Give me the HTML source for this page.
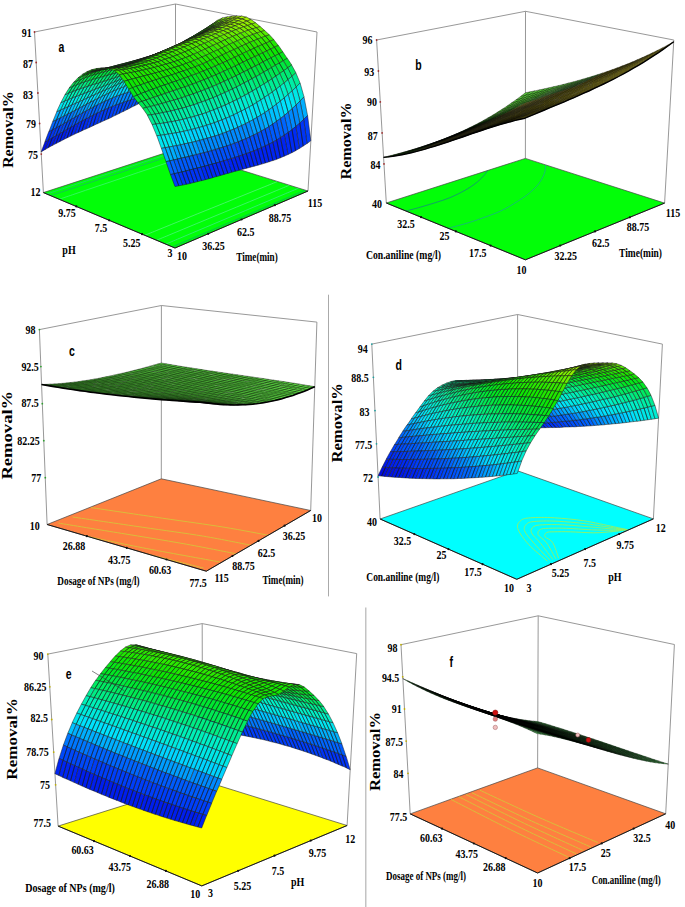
<!DOCTYPE html><html><head><meta charset="utf-8"><style>html,body{margin:0;padding:0;background:#fff}svg{display:block}</style></head><body><svg width="685" height="907" viewBox="0 0 685 907"><path d="M43.4 192.6L34.5 32" stroke="#8c8c8c" stroke-width="0.9" fill="none"/><path d="M308 191L317 32" stroke="#8c8c8c" stroke-width="0.9" fill="none"/><path d="M175.5 149.6L175.5 4" stroke="#8c8c8c" stroke-width="0.9" fill="none"/><path d="M34.5 32L175.5 4" stroke="#8c8c8c" stroke-width="0.9" fill="none"/><path d="M175.5 4L317 32" stroke="#8c8c8c" stroke-width="0.9" fill="none"/><path d="M175 248L308 191L175.5 149.6L43.4 192.6Z" fill="#02fe08" stroke="#444" stroke-width="0.7"/><clipPath id="fca"><path d="M175 248L308 191L175.5 149.6L43.4 192.6Z"/></clipPath><g clip-path="url(#fca)"><path d="M50.6 195.6C52.8 194.9 59.4 192.7 63.9 191.3C68.3 189.8 72.7 188.4 77.1 186.9C81.5 185.4 85.9 184 90.3 182.5C94.7 181.1 99.1 179.6 103.5 178.1C107.9 176.7 112.3 175.2 116.7 173.8C121.1 172.3 125.5 170.8 129.9 169.4C134.3 167.9 138.7 166.5 143.1 165C147.5 163.5 152 162.1 156.4 160.6C160.8 159.2 165.2 157.7 169.6 156.3C174 154.8 180.6 152.6 182.8 151.9" fill="none" stroke="#20a080" stroke-width="0.6" stroke-linejoin="round"/><path d="M46.7 194C48.9 193.3 55.5 191.1 59.9 189.7C64.3 188.2 68.7 186.8 73.1 185.3C77.5 183.9 81.9 182.4 86.3 181C90.7 179.5 95.1 178.1 99.5 176.6C103.9 175.2 108.3 173.8 112.8 172.3C117.2 170.9 121.6 169.4 126 168C130.4 166.5 134.8 165.1 139.2 163.6C143.6 162.2 148 160.8 152.4 159.3C156.8 157.9 161.2 156.4 165.6 155C170 153.5 176.6 151.4 178.8 150.6" fill="none" stroke="#30c0a0" stroke-width="0.6" stroke-linejoin="round"/><path d="M59.2 199.2C61.4 198.5 68 196.3 72.4 194.8C76.8 193.3 81.2 191.8 85.6 190.3C90 188.8 94.4 187.3 98.9 185.8C103.3 184.4 107.7 182.9 112.1 181.4C116.5 179.9 120.9 178.4 125.3 176.9C129.7 175.4 134.1 173.9 138.5 172.4C142.9 171 147.3 169.5 151.7 168C156.1 166.5 160.6 165 165 163.5C169.4 162 173.8 160.5 178.2 159C182.6 157.5 189.2 155.3 191.4 154.6" fill="none" stroke="#60f0b0" stroke-width="0.5" stroke-linejoin="round"/><path d="M172.4 246.9C174.6 245.9 181.2 243.1 185.7 241.2C190.1 239.3 194.5 237.4 199 235.5C203.4 233.7 207.8 231.8 212.3 229.9C216.7 228 221.1 226.1 225.6 224.2C230 222.3 234.4 220.4 238.9 218.5C243.3 216.6 247.7 214.8 252.2 212.9C256.6 211 261 209.1 265.5 207.2C269.9 205.3 274.3 203.4 278.8 201.5C283.2 199.6 287.6 197.7 292.1 195.8C296.5 194 303.1 191.1 305.3 190.2" fill="none" stroke="#109080" stroke-width="0.6" stroke-linejoin="round"/><path d="M165.8 244.1C168 243.2 174.7 240.4 179.1 238.5C183.5 236.7 187.9 234.8 192.4 232.9C196.8 231.1 201.2 229.2 205.7 227.3C210.1 225.4 214.5 223.6 219 221.7C223.4 219.8 227.8 218 232.3 216.1C236.7 214.2 241.1 212.4 245.6 210.5C250 208.6 254.4 206.8 258.8 204.9C263.3 203 267.7 201.2 272.1 199.3C276.6 197.4 281 195.6 285.4 193.7C289.9 191.8 296.5 189 298.7 188.1" fill="none" stroke="#50e0b0" stroke-width="0.6" stroke-linejoin="round"/><path d="M156.6 240.2C158.8 239.3 165.4 236.6 169.9 234.7C174.3 232.9 178.7 231.1 183.2 229.2C187.6 227.4 192 225.6 196.4 223.7C200.9 221.9 205.3 220.1 209.7 218.2C214.2 216.4 218.6 214.6 223 212.7C227.4 210.9 231.9 209.1 236.3 207.2C240.7 205.4 245.2 203.6 249.6 201.7C254 199.9 258.4 198 262.9 196.2C267.3 194.4 271.7 192.5 276.2 190.7C280.6 188.9 287.2 186.1 289.4 185.2" fill="none" stroke="#70f0c0" stroke-width="0.5" stroke-linejoin="round"/><path d="M144.7 235.3C146.9 234.4 153.6 231.7 158 229.9C162.4 228.1 166.9 226.3 171.3 224.5C175.7 222.7 180.1 220.9 184.6 219.1C189 217.3 193.4 215.5 197.8 213.7C202.3 212 206.7 210.2 211.1 208.4C215.6 206.6 220 204.8 224.4 203C228.8 201.2 233.3 199.4 237.7 197.6C242.1 195.8 246.5 194 251 192.2C255.4 190.4 259.8 188.6 264.2 186.9C268.7 185.1 275.3 182.4 277.5 181.5" fill="none" stroke="#80f0c0" stroke-width="0.5" stroke-linejoin="round"/></g><path d="M175 248L43.4 192.6" stroke="#111" stroke-width="0.9" fill="none"/><path d="M175 248L308 191" stroke="#111" stroke-width="0.9" fill="none"/><style>.a0{fill:#008aff}.a1{fill:#0077ff}.a2{fill:#0065ff}.a3{fill:#005bfd}.a4{fill:#0051fc}.a5{fill:#0048fa}.a6{fill:#003ef9}.a7{fill:#0034f7}.a8{fill:#002bf5}.a9{fill:#0024f2}.a10{fill:#001eed}.a11{fill:#0018e9}.a12{fill:#0012e4}.a13{fill:#00d4ff}.a14{fill:#00c2ff}.a15{fill:#00afff}.a16{fill:#009dff}.a17{fill:#00eadc}.a18{fill:#00e8e7}.a19{fill:#00e5f1}.a20{fill:#00e2fc}.a21{fill:#00eea6}.a22{fill:#00efb7}.a23{fill:#00f0c7}.a24{fill:#00edd2}.a25{fill:#00ea63}.a26{fill:#00eb74}.a27{fill:#00ec85}.a28{fill:#00ed95}.a29{fill:#02e623}.a30{fill:#00e731}.a31{fill:#00e842}.a32{fill:#00e953}.a33{fill:#15e600}.a34{fill:#0de604}.a35{fill:#0ae60f}.a36{fill:#06e619}.a37{fill:#2ae800}.a38{fill:#20e700}.a39{fill:#42e900}.a40{fill:#34e800}.a41{fill:#69ed00}.a42{fill:#55eb00}.a43{fill:#7def00}.a44{fill:#91f000}.a45{fill:#a5f200}</style><g stroke="#1a1a1a" stroke-width="0.5" stroke-linejoin="round"><path class="a0" d="M176.3 78.9l3.8-2.8-4.6 7.5-3.8 2.1z"/><path class="a1" d="M172.5 81.4l3.8-2.5-4.6 6.9-3.8 2.1zM168.7 83.8l3.8-2.3-4.5 6.4-3.8 2.1z"/><path class="a2" d="M164.9 85.9l3.8-2.1-4.5 6.2-3.8 2.1zM161.1 87.9l3.8-2-4.5 6.1-3.8 2.1zM157.3 89.7l3.8-1.8-4.5 6.2-3.8 2z"/><path class="a3" d="M153.6 91.4l3.8-1.7-4.5 6.4-3.8 2zM149.8 93l3.8-1.6-4.5 6.7-3.8 2zM146 94.4l3.8-1.5-4.4 7.2-3.8 2z"/><path class="a4" d="M142.2 95.8l3.8-1.4-4.4 7.7-3.8 2zM138.5 97.2l3.8-1.3-4.4 8.2-3.7 1.9zM134.7 98.4l3.8-1.3-4.4 8.8-3.7 1.9z"/><path class="a5" d="M130.9 99.7l3.8-1.3-4.3 9.5-3.7 1.9zM127.1 101l3.8-1.3-4.3 10.1-3.7 1.9zM123.4 102.2l3.8-1.3-4.3 10.7-3.7 1.8zM119.6 103.5l3.8-1.3-4.2 11.3-3.7 1.8zM115.8 104.9l3.8-1.4-4.2 11.8-3.7 1.8z"/><path class="a6" d="M112.1 106.4l3.8-1.4-4.2 12.2-3.7 1.8zM108.3 107.9l3.8-1.5-4.1 12.5-3.7 1.7zM104.5 109.5l3.8-1.6-4.1 12.7-3.7 1.7zM100.8 111.2l3.8-1.7-4.1 12.8-3.7 1.7z"/><path class="a7" d="M97 113l3.7-1.8-4 12.8-3.7 1.7zM93.3 114.9l3.7-1.9-4 12.8-3.7 1.7zM89.5 116.8l3.7-1.9-4 12.6-3.7 1.7z"/><path class="a8" d="M85.8 118.7l3.7-2-4 12.4-3.7 1.7zM82.1 120.8l3.7-2-4 12.1-3.7 1.7zM78.4 122.8l3.7-2.1-4 11.8-3.7 1.7z"/><path class="a9" d="M74.6 124.9l3.7-2.1-4 11.5-3.7 1.8zM70.9 127l3.7-2.1-3.9 11.2-3.7 1.8zM67.2 129.1l3.7-2.1-3.9 10.9-3.7 1.8z"/><path class="a10" d="M63.5 131.3l3.7-2.1-3.9 10.6-3.7 1.9zM59.8 133.4l3.7-2.1-3.9 10.4-3.7 1.9zM56.1 135.5l3.7-2.1-3.9 10.2-3.7 2z"/><path class="a11" d="M52.4 137.6l3.7-2.1-3.9 10-3.7 2.1zM48.7 139.7l3.7-2.1-3.9 10-3.7 2.1z"/><path class="a12" d="M45 141.8l3.7-2.1-3.9 10-3.7 2.2z"/><path class="a13" d="M180.9 70.6l3.8-2.8-4.6 8.2-3.8 2.8z"/><path class="a14" d="M177 73.1l3.8-2.5-4.6 8.2-3.8 2.5zM173.2 75.4l3.8-2.3-4.6 8.3-3.8 2.3z"/><path class="a15" d="M169.4 77.5l3.8-2.1-4.5 8.3-3.8 2.1zM165.6 79.3l3.8-1.9-4.5 8.4-3.8 2z"/><path class="a16" d="M161.8 81l3.8-1.7-4.5 8.5-3.8 1.8zM158 82.6l3.8-1.6-4.5 8.7-3.8 1.7zM154.2 84l3.8-1.4-4.5 8.8-3.8 1.6zM150.4 85.3l3.8-1.3-4.5 8.9-3.8 1.5z"/><path class="a0" d="M146.7 86.6l3.8-1.2-4.4 9.1-3.8 1.4zM142.9 87.8l3.8-1.2-4.4 9.2-3.8 1.3zM139.1 88.9l3.8-1.1-4.4 9.4-3.8 1.3zM135.3 90l3.8-1.1-4.4 9.5-3.8 1.3zM131.5 91.1l3.8-1.1-4.3 9.7-3.8 1.3zM127.7 92.3l3.8-1.2-4.3 9.8-3.8 1.3zM123.9 93.5l3.8-1.2-4.3 9.9-3.8 1.3zM120.1 94.8l3.8-1.3-4.3 10-3.8 1.4zM116.3 96.2l3.8-1.4-4.3 10.1-3.8 1.4z"/><path class="a1" d="M112.5 97.7l3.8-1.5-4.2 10.2-3.8 1.5zM108.7 99.3l3.8-1.6-4.2 10.2-3.8 1.6zM105 101l3.8-1.7-4.2 10.2-3.8 1.7zM101.2 102.8l3.8-1.8-4.2 10.2-3.7 1.8z"/><path class="a2" d="M97.4 104.7l3.8-1.9-4.2 10.2-3.7 1.9zM93.7 106.6l3.8-2-4.1 10.2-3.7 1.9zM89.9 108.7l3.8-2-4.1 10.1-3.7 2z"/><path class="a3" d="M86.2 110.7l3.7-2.1-4.1 10.1-3.7 2zM82.4 112.8l3.7-2.1-4.1 10-3.7 2.1z"/><path class="a4" d="M78.7 114.9l3.7-2.1-4.1 10-3.7 2.1zM74.9 117.1l3.7-2.1-4 10-3.7 2.1z"/><path class="a5" d="M71.2 119.2l3.7-2.1-4 9.9-3.7 2.1zM67.5 121.4l3.7-2.1-4 9.9-3.7 2.1zM63.8 123.5l3.7-2.1-4 9.9-3.7 2.1z"/><path class="a6" d="M60 125.6l3.7-2.1-4 9.9-3.7 2.1zM56.3 127.6l3.7-2-3.9 10-3.7 2.1z"/><path class="a7" d="M52.6 129.6l3.7-2-3.9 10-3.7 2.1zM48.8 131.5l3.7-1.9-3.9 10.1-3.7 2.1z"/><path class="a17" d="M185.5 61.6l3.8-2.3-4.6 8.6-3.8 2.8z"/><path class="a18" d="M181.7 63.8l3.8-2.2-4.6 9-3.8 2.5zM177.8 65.8l3.8-2-4.6 9.3-3.8 2.3z"/><path class="a19" d="M174 67.7l3.8-1.9-4.6 9.6-3.8 2.1zM170.2 69.5l3.8-1.8-4.6 9.7-3.8 1.9zM166.4 71.2l3.8-1.7-4.5 9.8-3.8 1.7z"/><path class="a20" d="M162.5 72.8l3.8-1.6-4.5 9.9-3.8 1.6zM158.7 74.2l3.8-1.5-4.5 9.8-3.8 1.4zM154.9 75.7l3.8-1.4-4.5 9.8-3.8 1.3zM151.1 77l3.8-1.4-4.5 9.7-3.8 1.2zM147.3 78.4l3.8-1.3-4.5 9.6-3.8 1.2zM143.5 79.7l3.8-1.3-4.4 9.4-3.8 1.1zM139.7 81l3.8-1.3-4.4 9.2-3.8 1.1z"/><path class="a13" d="M135.9 82.3l3.8-1.3-4.4 9-3.8 1.1zM132 83.6l3.8-1.3-4.4 8.9-3.8 1.2zM128.2 85l3.8-1.4-4.4 8.7-3.8 1.2zM124.4 86.4l3.8-1.4-4.4 8.5-3.8 1.3zM120.6 87.9l3.8-1.5-4.3 8.4-3.8 1.4zM116.8 89.4l3.8-1.6-4.3 8.3-3.8 1.5zM113 91.1l3.8-1.6-4.3 8.2-3.8 1.6z"/><path class="a14" d="M109.2 92.8l3.8-1.7-4.3 8.2-3.8 1.7zM105.5 94.6l3.8-1.8-4.3 8.2-3.8 1.8zM101.7 96.4l3.8-1.8-4.3 8.2-3.8 1.9z"/><path class="a15" d="M97.9 98.3l3.8-1.9-4.2 8.3-3.8 2zM94.1 100.2l3.8-1.9-4.2 8.4-3.8 2zM90.3 102.1l3.8-1.9-4.2 8.5-3.7 2.1z"/><path class="a16" d="M86.6 104.1l3.8-2-4.2 8.6-3.7 2.1zM82.8 106.1l3.8-2-4.2 8.7-3.7 2.1z"/><path class="a0" d="M79.1 108l3.8-2-4.1 8.9-3.7 2.1zM75.3 110l3.8-2-4.1 9.1-3.7 2.1z"/><path class="a1" d="M71.5 112l3.8-2-4.1 9.2-3.7 2.1zM67.8 113.9l3.8-1.9-4.1 9.4-3.7 2.1zM64 115.9l3.8-1.9-4 9.6-3.7 2.1z"/><path class="a2" d="M60.3 117.7l3.8-1.9-4 9.7-3.7 2zM56.5 119.6l3.8-1.8-4 9.9-3.7 2zM52.8 121.4l3.8-1.8-3.9 10-3.7 1.9z"/><path class="a21" d="M190.2 52.5l3.9-1.8-4.7 8.6-3.8 2.3zM186.3 54.3l3.9-1.8-4.7 9.1-3.8 2.2z"/><path class="a22" d="M182.5 56l3.8-1.8-4.7 9.5-3.8 2zM178.6 57.7l3.8-1.7-4.6 9.8-3.8 1.9zM174.8 59.5l3.8-1.7-4.6 10-3.8 1.8z"/><path class="a23" d="M170.9 61.2l3.8-1.7-4.6 10-3.8 1.7zM167.1 62.9l3.8-1.7-4.6 10-3.8 1.6zM163.3 64.5l3.8-1.7-4.6 9.9-3.8 1.5zM159.4 66.2l3.8-1.7-4.5 9.7-3.8 1.4z"/><path class="a24" d="M155.6 67.9l3.8-1.7-4.5 9.5-3.8 1.4zM151.8 69.5l3.8-1.7-4.5 9.2-3.8 1.3zM147.9 71.2l3.8-1.7-4.5 8.8-3.8 1.3zM144.1 72.8l3.8-1.6-4.5 8.5-3.8 1.3zM140.3 74.5l3.8-1.6-4.5 8.2-3.8 1.3z"/><path class="a17" d="M136.5 76.1l3.8-1.6-4.4 7.8-3.8 1.3zM132.7 77.8l3.8-1.6-4.4 7.5-3.8 1.4zM128.8 79.4l3.8-1.7-4.4 7.2-3.8 1.4zM125 81.1l3.8-1.7-4.4 7-3.8 1.5z"/><path class="a18" d="M121.2 82.7l3.8-1.7-4.4 6.8-3.8 1.6zM117.4 84.4l3.8-1.7-4.4 6.7-3.8 1.6zM113.6 86.1l3.8-1.7-4.4 6.7-3.8 1.7zM109.8 87.8l3.8-1.7-4.4 6.7-3.8 1.8z"/><path class="a19" d="M106 89.5l3.8-1.7-4.3 6.8-3.8 1.8zM102.2 91.2l3.8-1.7-4.3 6.9-3.8 1.9zM98.4 92.9l3.8-1.7-4.3 7.1-3.8 1.9z"/><path class="a20" d="M94.6 94.6l3.8-1.7-4.3 7.3-3.8 1.9zM90.8 96.3l3.8-1.7-4.3 7.5-3.8 2zM87 98l3.8-1.7-4.2 7.8-3.8 2z"/><path class="a13" d="M83.2 99.7l3.8-1.7-4.2 8-3.8 2zM79.4 101.4l3.8-1.7-4.2 8.3-3.8 2zM75.7 103.2l3.8-1.7-4.2 8.6-3.8 2z"/><path class="a14" d="M71.9 104.9l3.8-1.7-4.1 8.8-3.8 1.9zM68.1 106.6l3.8-1.7-4.1 9.1-3.8 1.9zM64.3 108.3l3.8-1.7-4.1 9.3-3.8 1.9z"/><path class="a15" d="M60.5 110l3.8-1.7-4 9.5-3.8 1.8zM56.8 111.7l3.8-1.7-4 9.6-3.8 1.8z"/><path class="a25" d="M194.9 43.9l3.9-1.4-4.7 8.2-3.9 1.8zM191 45.3l3.9-1.5-4.7 8.6-3.9 1.8zM187.1 46.9l3.9-1.6-4.7 8.9-3.8 1.8zM183.3 48.6l3.9-1.7-4.7 9.1-3.8 1.7z"/><path class="a26" d="M179.4 50.3l3.9-1.7-4.7 9.2-3.8 1.7zM175.6 52.1l3.9-1.8-4.6 9.2-3.8 1.7zM171.7 54l3.9-1.9-4.6 9.1-3.8 1.7z"/><path class="a27" d="M167.8 55.9l3.9-1.9-4.6 8.9-3.8 1.7zM164 57.8l3.8-2-4.6 8.7-3.8 1.7zM160.1 59.8l3.8-2-4.6 8.4-3.8 1.7z"/><path class="a28" d="M156.3 61.8l3.8-2-4.5 8.1-3.8 1.7zM152.5 63.8l3.8-2-4.5 7.7-3.8 1.7z"/><path class="a21" d="M148.6 65.8l3.8-2-4.5 7.4-3.8 1.6zM144.8 67.8l3.8-2-4.5 7-3.8 1.6zM141 69.7l3.8-2-4.5 6.7-3.8 1.6z"/><path class="a22" d="M137.1 71.6l3.8-1.9-4.5 6.4-3.8 1.6zM133.3 73.5l3.8-1.9-4.5 6.1-3.8 1.7zM129.5 75.3l3.8-1.8-4.5 5.9-3.8 1.7z"/><path class="a23" d="M125.7 77.1l3.8-1.7-4.5 5.8-3.8 1.7zM121.8 78.7l3.8-1.7-4.4 5.7-3.8 1.7zM118 80.3l3.8-1.6-4.4 5.7-3.8 1.7zM114.2 81.9l3.8-1.6-4.4 5.8-3.8 1.7z"/><path class="a24" d="M110.4 83.4l3.8-1.5-4.4 5.9-3.8 1.7zM106.6 84.9l3.8-1.5-4.4 6.1-3.8 1.7zM102.7 86.4l3.8-1.5-4.4 6.3-3.8 1.7zM98.9 87.8l3.8-1.4-4.3 6.5-3.8 1.7z"/><path class="a17" d="M95.1 89.2l3.8-1.4-4.3 6.8-3.8 1.7zM91.3 90.6l3.8-1.4-4.3 7.1-3.8 1.7zM87.5 92.1l3.8-1.4-4.3 7.4-3.8 1.7zM83.7 93.5l3.8-1.4-4.2 7.7-3.8 1.7zM79.8 94.9l3.8-1.4-4.2 8-3.8 1.7z"/><path class="a18" d="M76 96.4l3.8-1.5-4.2 8.2-3.8 1.7zM72.2 97.9l3.8-1.5-4.2 8.5-3.8 1.7zM68.4 99.4l3.8-1.5-4.1 8.7-3.8 1.7zM64.6 101l3.8-1.6-4.1 8.8-3.8 1.7z"/><path class="a19" d="M60.8 102.7l3.8-1.7-4.1 8.9-3.8 1.7z"/><path class="a29" d="M199.6 36.4l3.9-1.3-4.8 7.4-3.9 1.4zM195.7 37.9l3.9-1.5-4.7 7.5-3.9 1.5zM191.8 39.5l3.9-1.6-4.7 7.5-3.9 1.6zM188 41.2l3.9-1.7-4.7 7.4-3.9 1.7z"/><path class="a30" d="M184.1 43.1l3.9-1.9-4.7 7.3-3.9 1.7zM180.2 45l3.9-2-4.7 7.2-3.9 1.8z"/><path class="a31" d="M176.3 47.1l3.9-2-4.7 7.1-3.9 1.9zM172.5 49.2l3.9-2.1-4.6 6.9-3.9 1.9z"/><path class="a32" d="M168.6 51.3l3.9-2.2-4.6 6.7-3.8 2zM164.7 53.5l3.9-2.2-4.6 6.5-3.8 2zM160.9 55.7l3.9-2.2-4.6 6.3-3.8 2z"/><path class="a25" d="M157 57.9l3.9-2.2-4.6 6.1-3.8 2zM153.2 60.1l3.8-2.2-4.6 5.9-3.8 2z"/><path class="a26" d="M149.3 62.3l3.8-2.1-4.6 5.7-3.8 2zM145.5 64.4l3.8-2.1-4.5 5.5-3.8 2z"/><path class="a27" d="M141.7 66.4l3.8-2-4.5 5.4-3.8 1.9zM137.8 68.3l3.8-1.9-4.5 5.2-3.8 1.9zM134 70.2l3.8-1.8-4.5 5.2-3.8 1.8z"/><path class="a28" d="M130.1 71.9l3.8-1.7-4.5 5.2-3.8 1.7zM126.3 73.5l3.8-1.6-4.5 5.2-3.8 1.7zM122.5 74.9l3.8-1.5-4.5 5.3-3.8 1.6z"/><path class="a21" d="M118.6 76.3l3.8-1.4-4.4 5.4-3.8 1.6zM114.8 77.7l3.8-1.3-4.4 5.6-3.8 1.5zM111 78.9l3.8-1.3-4.4 5.8-3.8 1.5zM107.1 80.2l3.8-1.2-4.4 6-3.8 1.5zM103.3 81.4l3.8-1.2-4.4 6.2-3.8 1.4zM99.4 82.5l3.8-1.2-4.4 6.4-3.8 1.4zM95.6 83.7l3.8-1.2-4.3 6.7-3.8 1.4z"/><path class="a22" d="M91.8 84.9l3.8-1.2-4.3 6.9-3.8 1.4zM87.9 86.1l3.8-1.2-4.3 7.2-3.8 1.4zM84.1 87.4l3.8-1.2-4.3 7.4-3.8 1.4zM80.3 88.7l3.8-1.3-4.2 7.6-3.8 1.5zM76.4 90l3.8-1.4-4.2 7.7-3.8 1.5zM72.6 91.5l3.8-1.5-4.2 7.9-3.8 1.5zM68.8 93l3.8-1.6-4.2 8-3.8 1.6z"/><path class="a23" d="M65 94.7l3.8-1.7-4.2 8-3.8 1.7z"/><path class="a33" d="M204.4 30.6l3.9-1.8-4.8 6.3-3.9 1.3z"/><path class="a34" d="M200.5 32.4l3.9-1.9-4.7 5.8-3.9 1.5zM196.6 34.4l3.9-2-4.7 5.4-3.9 1.6zM192.7 36.5l3.9-2-4.7 5.1-3.9 1.7z"/><path class="a35" d="M188.8 38.6l3.9-2.1-4.7 4.8-3.9 1.9zM184.9 40.7l3.9-2.1-4.7 4.5-3.9 2z"/><path class="a36" d="M181 42.9l3.9-2.2-4.7 4.3-3.9 2zM177.1 45.1l3.9-2.2-4.7 4.2-3.9 2.1z"/><path class="a29" d="M173.2 47.3l3.9-2.2-4.6 4.1-3.9 2.2zM169.4 49.5l3.9-2.2-4.6 4-3.9 2.2z"/><path class="a30" d="M165.5 51.7l3.9-2.2-4.6 4-3.9 2.2zM161.6 53.8l3.9-2.2-4.6 4-3.9 2.2z"/><path class="a31" d="M157.8 56l3.9-2.1-4.6 4.1-3.8 2.2zM153.9 58l3.9-2-4.6 4.2-3.8 2.1z"/><path class="a32" d="M150.1 60l3.9-2-4.6 4.3-3.8 2.1zM146.2 61.8l3.9-1.9-4.6 4.4-3.8 2z"/><path class="a25" d="M142.4 63.6l3.9-1.8-4.6 4.5-3.8 1.9zM138.5 65.3l3.9-1.7-4.5 4.7-3.8 1.8zM134.6 66.8l3.9-1.5-4.5 4.9-3.8 1.7zM130.8 68.2l3.9-1.4-4.5 5-3.8 1.6z"/><path class="a26" d="M126.9 69.5l3.9-1.3-4.5 5.2-3.8 1.5zM123.1 70.8l3.9-1.2-4.5 5.4-3.8 1.4zM119.2 71.9l3.9-1.2-4.5 5.6-3.8 1.3zM115.4 73l3.9-1.1-4.4 5.8-3.8 1.3zM111.5 74.1l3.9-1.1-4.4 5.9-3.8 1.2zM107.7 75.1l3.9-1-4.4 6.1-3.8 1.2zM103.8 76.2l3.9-1-4.4 6.2-3.8 1.2zM100 77.2l3.9-1-4.4 6.4-3.8 1.2zM96.1 78.3l3.9-1.1-4.4 6.5-3.8 1.2zM92.3 79.4l3.9-1.1-4.3 6.6-3.8 1.2zM88.4 80.6l3.9-1.2-4.3 6.7-3.8 1.2z"/><path class="a27" d="M84.6 81.8l3.8-1.3-4.3 6.8-3.8 1.3zM80.7 83.2l3.8-1.4-4.3 6.8-3.8 1.4zM76.9 84.6l3.8-1.5-4.3 6.9-3.8 1.5zM73 86.2l3.8-1.6-4.3 6.8-3.8 1.6zM69.2 88l3.8-1.7-4.3 6.8-3.8 1.7z"/><path class="a37" d="M209.1 26.2l3.9-2.5-4.8 5-3.9 1.8zM205.2 28.7l3.9-2.5-4.8 4.3-3.9 1.9z"/><path class="a38" d="M201.3 31.2l3.9-2.4-4.7 3.7-3.9 2zM197.4 33.6l3.9-2.4-4.7 3.2-3.9 2z"/><path class="a33" d="M193.5 36l3.9-2.4-4.7 2.9-3.9 2.1zM189.6 38.3l3.9-2.3-4.7 2.6-3.9 2.1z"/><path class="a34" d="M185.7 40.6l3.9-2.3-4.7 2.4-3.9 2.2zM181.8 42.8l3.9-2.2-4.7 2.3-3.9 2.2z"/><path class="a35" d="M177.9 44.9l3.9-2.2-4.7 2.3-3.9 2.2z"/><path class="a36" d="M174 47l3.9-2.1-4.7 2.4-3.9 2.2zM170.1 49.1l3.9-2-4.6 2.5-3.9 2.2zM166.3 51l3.9-2-4.6 2.6-3.9 2.2z"/><path class="a29" d="M162.4 52.9l3.9-1.9-4.6 2.8-3.9 2.1zM158.5 54.7l3.9-1.8-4.6 3.1-3.9 2z"/><path class="a30" d="M154.7 56.4l3.9-1.7-4.6 3.3-3.9 2zM150.8 58l3.9-1.6-4.6 3.6-3.9 1.9zM146.9 59.5l3.9-1.5-4.6 3.8-3.9 1.8z"/><path class="a31" d="M143.1 60.9l3.9-1.4-4.6 4.1-3.9 1.7zM139.2 62.3l3.9-1.3-4.6 4.3-3.9 1.5zM135.3 63.5l3.9-1.2-4.5 4.6-3.9 1.4zM131.5 64.6l3.9-1.1-4.5 4.7-3.9 1.3zM127.6 65.7l3.9-1.1-4.5 4.9-3.9 1.2zM123.7 66.7l3.9-1-4.5 5.1-3.9 1.2zM119.9 67.7l3.9-1-4.5 5.2-3.9 1.1zM116 68.7l3.9-1-4.5 5.3-3.9 1.1zM112.1 69.7l3.9-1-4.5 5.4-3.9 1zM108.2 70.7l3.9-1-4.4 5.4-3.9 1zM104.4 71.7l3.9-1-4.4 5.5-3.9 1zM100.5 72.7l3.9-1-4.4 5.5-3.9 1.1zM96.6 73.8l3.9-1.1-4.4 5.6-3.9 1.1zM92.8 75l3.9-1.2-4.4 5.6-3.9 1.2z"/><path class="a32" d="M88.9 76.2l3.9-1.3-4.4 5.6-3.8 1.3zM85.1 77.6l3.9-1.4-4.4 5.6-3.8 1.4zM81.2 79.1l3.8-1.5-4.4 5.6-3.8 1.5zM77.4 80.7l3.8-1.6-4.3 5.6-3.8 1.6zM73.5 82.4l3.8-1.8-4.3 5.6-3.8 1.7z"/><path class="a39" d="M213.9 23.2l3.9-3-4.8 3.6-3.9 2.5zM209.9 26.1l3.9-2.9-4.8 3.1-3.9 2.5z"/><path class="a40" d="M206 28.9l3.9-2.8-4.7 2.6-3.9 2.4z"/><path class="a37" d="M202.1 31.5l3.9-2.7-4.7 2.3-3.9 2.4zM198.2 34.1l3.9-2.5-4.7 2-3.9 2.4z"/><path class="a38" d="M194.3 36.5l3.9-2.4-4.7 1.9-3.9 2.3z"/><path class="a33" d="M190.4 38.8l3.9-2.3-4.7 1.8-3.9 2.3zM186.5 41l3.9-2.2-4.7 1.7-3.9 2.2z"/><path class="a34" d="M182.6 43.1l3.9-2.1-4.7 1.8-3.9 2.2zM178.7 45.1l3.9-2-4.7 1.8-3.9 2.1z"/><path class="a35" d="M174.8 46.9l3.9-1.9-4.7 2-3.9 2zM170.9 48.7l3.9-1.8-4.7 2.1-3.9 2zM167 50.4l3.9-1.7-4.6 2.3-3.9 1.9z"/><path class="a36" d="M163.1 52l3.9-1.6-4.6 2.5-3.9 1.8zM159.3 53.5l3.9-1.5-4.6 2.7-3.9 1.7zM155.4 54.9l3.9-1.4-4.6 2.9-3.9 1.6zM151.5 56.3l3.9-1.3-4.6 3.1-3.9 1.5z"/><path class="a29" d="M147.6 57.5l3.9-1.3-4.6 3.3-3.9 1.4zM143.8 58.7l3.9-1.2-4.6 3.4-3.9 1.3zM139.9 59.8l3.9-1.1-4.6 3.5-3.9 1.2zM136 60.9l3.9-1.1-4.6 3.6-3.9 1.1zM132.1 62l3.9-1-4.6 3.7-3.9 1.1zM128.3 63l3.9-1-4.5 3.8-3.9 1zM124.4 63.9l3.9-1-4.5 3.8-3.9 1zM120.5 64.9l3.9-1-4.5 3.8-3.9 1zM116.6 65.9l3.9-1-4.5 3.8-3.9 1zM112.7 66.8l3.9-1-4.5 3.8-3.9 1zM108.9 67.8l3.9-1-4.5 3.8-3.9 1zM105 68.9l3.9-1-4.5 3.8-3.9 1zM101.1 70l3.9-1.1-4.5 3.8-3.9 1.1zM97.2 71.1l3.9-1.1-4.5 3.8-3.9 1.2zM93.4 72.3l3.9-1.2-4.5 3.9-3.9 1.3zM89.5 73.5l3.9-1.3-4.4 4-3.9 1.4zM85.6 74.9l3.9-1.4-4.4 4-3.8 1.5z"/><path class="a30" d="M81.8 76.4l3.9-1.5-4.4 4.2-3.8 1.6zM77.9 77.9l3.9-1.6-4.4 4.3-3.8 1.8z"/><path class="a41" d="M218.6 21l4-3.1-4.8 2.2-3.9 3z"/><path class="a42" d="M214.7 24l3.9-2.9-4.8 2.1-3.9 2.9z"/><path class="a39" d="M210.7 26.8l3.9-2.8-4.7 2.1-3.9 2.8zM206.8 29.5l3.9-2.7-4.7 2.1-3.9 2.7z"/><path class="a40" d="M202.9 32l3.9-2.5-4.7 2.1-3.9 2.5z"/><path class="a37" d="M199 34.4l3.9-2.4-4.7 2.1-3.9 2.4zM195.1 36.7l3.9-2.3-4.7 2.1-3.9 2.3z"/><path class="a38" d="M191.1 38.8l3.9-2.2-4.7 2.1-3.9 2.2zM187.2 40.9l3.9-2-4.7 2.2-3.9 2.1z"/><path class="a33" d="M183.3 42.8l3.9-1.9-4.7 2.2-3.9 2zM179.5 44.7l3.9-1.8-4.7 2.2-3.9 1.9z"/><path class="a34" d="M175.6 46.4l3.9-1.7-4.7 2.3-3.9 1.8zM171.7 48.1l3.9-1.7-4.7 2.3-3.9 1.7zM167.8 49.6l3.9-1.6-4.6 2.3-3.9 1.6zM163.9 51.1l3.9-1.5-4.6 2.4-3.9 1.5z"/><path class="a35" d="M160 52.6l3.9-1.4-4.6 2.4-3.9 1.4zM156.1 53.9l3.9-1.4-4.6 2.4-3.9 1.3zM152.3 55.2l3.9-1.3-4.6 2.3-3.9 1.3zM148.4 56.5l3.9-1.3-4.6 2.3-3.9 1.2zM144.5 57.7l3.9-1.2-4.6 2.2-3.9 1.1zM140.6 58.9l3.9-1.2-4.6 2.1-3.9 1.1zM136.7 60l3.9-1.1-4.6 2.1-3.9 1zM132.8 61.1l3.9-1.1-4.6 2-3.9 1zM129 62.1l3.9-1.1-4.6 1.9-3.9 1zM125.1 63.2l3.9-1-4.6 1.8-3.9 1zM121.2 64.2l3.9-1-4.6 1.7-3.9 1zM117.3 65.2l3.9-1-4.6 1.7-3.9 1zM113.4 66.2l3.9-1-4.6 1.7-3.9 1zM109.5 67.2l3.9-1-4.6 1.7-3.9 1zM105.7 68.2l3.9-1-4.6 1.7-3.9 1.1zM101.8 69.2l3.9-1-4.5 1.8-3.9 1.1zM97.9 70.2l3.9-1-4.5 1.9-3.9 1.2zM94 71.2l3.9-1-4.5 2.1-3.9 1.3z"/><path class="a36" d="M90.1 72.2l3.9-1-4.5 2.4-3.9 1.4zM86.3 73.3l3.9-1.1-4.5 2.7-3.9 1.5zM82.4 74.4l3.9-1.1-4.5 3.1-3.9 1.6z"/><path class="a43" d="M223.4 19.6l4-2.8-4.8 1.1-4 3.1z"/><path class="a41" d="M219.4 22.3l4-2.7-4.8 1.4-3.9 2.9z"/><path class="a42" d="M215.5 24.9l3.9-2.6-4.7 1.7-3.9 2.8zM211.5 27.4l3.9-2.5-4.7 1.9-3.9 2.7z"/><path class="a39" d="M207.6 29.8l3.9-2.4-4.7 2.1-3.9 2.5zM203.7 32.1l3.9-2.3-4.7 2.2-3.9 2.4z"/><path class="a40" d="M199.8 34.3l3.9-2.2-4.7 2.3-3.9 2.3z"/><path class="a37" d="M195.8 36.4l3.9-2.1-4.7 2.4-3.9 2.2zM191.9 38.4l3.9-2-4.7 2.5-3.9 2zM188 40.3l3.9-1.9-4.7 2.5-3.9 1.9z"/><path class="a38" d="M184.1 42.2l3.9-1.9-4.7 2.5-3.9 1.8zM180.2 44l3.9-1.8-4.7 2.5-3.9 1.7zM176.3 45.7l3.9-1.7-4.7 2.4-3.9 1.7z"/><path class="a33" d="M172.4 47.4l3.9-1.7-4.7 2.3-3.9 1.6zM168.6 49l3.9-1.6-4.7 2.2-3.9 1.5zM164.7 50.6l3.9-1.6-4.6 2.1-3.9 1.4zM160.8 52.1l3.9-1.5-4.6 2-3.9 1.4z"/><path class="a34" d="M156.9 53.6l3.9-1.5-4.6 1.8-3.9 1.3zM153 55l3.9-1.4-4.6 1.7-3.9 1.3zM149.1 56.4l3.9-1.4-4.6 1.5-3.9 1.2zM145.2 57.7l3.9-1.3-4.6 1.3-3.9 1.2zM141.3 59l3.9-1.3-4.6 1.1-3.9 1.1zM137.5 60.3l3.9-1.3-4.6 .9-3.9 1.1zM133.6 61.5l3.9-1.2-4.6 .8-3.9 1.1zM129.7 62.7l3.9-1.2-4.6 .6-3.9 1zM125.8 63.8l3.9-1.1-4.6 .5-3.9 1zM121.9 64.8l3.9-1.1-4.6 .4-3.9 1zM118 65.8l3.9-1-4.6 .4-3.9 1zM114.1 66.8l3.9-.9-4.6 .4-3.9 1zM110.3 67.7l3.9-.9-4.6 .4-3.9 1zM106.4 68.5l3.9-.8-4.6 .5-3.9 1zM102.5 69.3l3.9-.8-4.6 .7-3.9 1zM98.6 70l3.9-.7-4.6 .9-3.9 1zM94.7 70.6l3.9-.6-4.6 1.2-3.9 1zM90.8 71.2l3.9-.6-4.5 1.6-3.9 1.1zM86.9 71.7l3.9-.5-4.5 2.1-3.9 1.1z"/><path class="a44" d="M228.1 18.7l4-2.4-4.7 .6-4 2.8z"/><path class="a43" d="M224.2 21.1l4-2.4-4.7 .9-4 2.7zM220.2 23.4l3.9-2.3-4.7 1.3-3.9 2.6z"/><path class="a41" d="M216.3 25.6l3.9-2.2-4.7 1.5-3.9 2.5z"/><path class="a42" d="M212.3 27.8l3.9-2.2-4.7 1.8-3.9 2.4zM208.4 29.9l3.9-2.1-4.7 2-3.9 2.3z"/><path class="a39" d="M204.5 32l3.9-2.1-4.7 2.1-3.9 2.2zM200.6 34l3.9-2-4.7 2.3-3.9 2.1z"/><path class="a40" d="M196.7 36l3.9-2-4.7 2.4-3.9 2zM192.7 37.9l3.9-1.9-4.7 2.4-3.9 1.9zM188.8 39.8l3.9-1.9-4.7 2.5-3.9 1.9z"/><path class="a37" d="M184.9 41.6l3.9-1.8-4.7 2.5-3.9 1.8zM181 43.4l3.9-1.8-4.7 2.4-3.9 1.7zM177.1 45.1l3.9-1.8-4.7 2.4-3.9 1.7z"/><path class="a38" d="M173.2 46.8l3.9-1.7-4.7 2.3-3.9 1.6zM169.3 48.5l3.9-1.7-4.7 2.2-3.9 1.6zM165.4 50.2l3.9-1.7-4.7 2.1-3.9 1.5zM161.5 51.8l3.9-1.6-4.6 1.9-3.9 1.5z"/><path class="a33" d="M157.6 53.4l3.9-1.6-4.6 1.8-3.9 1.4zM153.7 55l3.9-1.6-4.6 1.6-3.9 1.4zM149.9 56.5l3.9-1.5-4.6 1.4-3.9 1.3zM146 58l3.9-1.5-4.6 1.2-3.9 1.3zM142.1 59.5l3.9-1.4-4.6 1-3.9 1.3zM138.2 60.8l3.9-1.4-4.6 .8-3.9 1.2z"/><path class="a34" d="M134.3 62.2l3.9-1.3-4.6 .7-3.9 1.2zM130.4 63.4l3.9-1.2-4.6 .5-3.9 1.1zM126.5 64.5l3.9-1.2-4.6 .4-3.9 1.1zM122.6 65.6l3.9-1.1-4.6 .3-3.9 1zM118.8 66.6l3.9-1-4.6 .2-3.9 .9zM114.9 67.4l3.9-.9-4.6 .2-3.9 .9zM111 68.2l3.9-.7-4.6 .2-3.9 .8zM107.1 68.8l3.9-.6-4.6 .3-3.9 .8z"/><path class="a33" d="M103.2 69.2l3.9-.5-4.6 .5-3.9 .7zM99.3 69.6l3.9-.3-4.6 .7-3.9 .6zM95.3 69.7l3.9-.2-4.6 1-3.9 .6zM91.4 69.8l3.9 0-4.6 1.4-3.9 .5z"/><path class="a45" d="M232.9 18.1l4-2.2-4.7 .4-4 2.4z"/><path class="a44" d="M228.9 20.2l4-2.1-4.7 .6-4 2.4z"/><path class="a43" d="M225 22.3l3.9-2.1-4.7 .8-3.9 2.3zM221 24.4l3.9-2-4.7 1-3.9 2.2z"/><path class="a41" d="M217.1 26.4l3.9-2-4.7 1.2-3.9 2.2zM213.1 28.3l3.9-2-4.7 1.4-3.9 2.1zM209.2 30.2l3.9-1.9-4.7 1.6-3.9 2.1z"/><path class="a42" d="M205.3 32.1l3.9-1.9-4.7 1.8-3.9 2zM201.4 33.9l3.9-1.8-4.7 1.9-3.9 2z"/><path class="a39" d="M197.4 35.7l3.9-1.8-4.7 2-3.9 1.9zM193.5 37.5l3.9-1.8-4.7 2.1-3.9 1.9zM189.6 39.3l3.9-1.8-4.7 2.2-3.9 1.8z"/><path class="a40" d="M185.7 41l3.9-1.7-4.7 2.3-3.9 1.8zM181.8 42.7l3.9-1.7-4.7 2.3-3.9 1.8zM177.9 44.5l3.9-1.7-4.7 2.4-3.9 1.7z"/><path class="a37" d="M174 46.2l3.9-1.7-4.7 2.4-3.9 1.7zM170.1 47.9l3.9-1.7-4.7 2.4-3.9 1.7zM166.2 49.6l3.9-1.7-4.7 2.3-3.9 1.6zM162.3 51.3l3.9-1.7-4.7 2.3-3.9 1.6z"/><path class="a38" d="M158.4 52.9l3.9-1.7-4.6 2.2-3.9 1.6zM154.5 54.6l3.9-1.7-4.6 2.1-3.9 1.5zM150.6 56.2l3.9-1.6-4.6 1.9-3.9 1.5zM146.7 57.8l3.9-1.6-4.6 1.8-3.9 1.4zM142.8 59.4l3.9-1.5-4.6 1.6-3.9 1.4z"/><path class="a33" d="M138.9 60.8l3.9-1.5-4.6 1.5-3.9 1.3zM135 62.2l3.9-1.4-4.6 1.3-3.9 1.2zM131.1 63.5l3.9-1.3-4.6 1.2-3.9 1.2zM127.3 64.7l3.9-1.2-4.6 1.1-3.9 1.1zM123.4 65.7l3.9-1.1-4.6 .9-3.9 1zM119.5 66.6l3.9-.9-4.6 .9-3.9 .9zM115.6 67.4l3.9-.8-4.6 .8-3.9 .7zM111.7 68l3.9-.6-4.6 .7-3.9 .6zM107.8 68.5l3.9-.4-4.6 .7-3.9 .5z"/><path class="a38" d="M103.8 68.7l3.9-.3-4.6 .8-3.9 .3zM99.9 68.8l3.9 0-4.6 .9-3.9 .2zM96 68.6l3.9 .2-4.6 1-3.9 0z"/><path class="a45" d="M237.6 18.1l4-2-4.7-.1-4 2.2zM233.7 20l4-2-4.7 0-4 2.1z"/><path class="a44" d="M229.7 22l3.9-1.9-4.7 .2-3.9 2.1zM225.8 23.9l3.9-1.9-4.7 .4-3.9 2z"/><path class="a43" d="M221.8 25.7l3.9-1.8-4.7 .5-3.9 2zM217.9 27.5l3.9-1.8-4.7 .7-3.9 2zM213.9 29.2l3.9-1.8-4.7 .8-3.9 1.9z"/><path class="a41" d="M210 31l3.9-1.7-4.7 1-3.9 1.9zM206.1 32.7l3.9-1.7-4.7 1.1-3.9 1.8zM202.2 34.3l3.9-1.7-4.7 1.3-3.9 1.8z"/><path class="a42" d="M198.2 36l3.9-1.7-4.7 1.4-3.9 1.8zM194.3 37.7l3.9-1.6-4.7 1.5-3.9 1.8zM190.4 39.3l3.9-1.6-4.7 1.6-3.9 1.7z"/><path class="a39" d="M186.5 40.9l3.9-1.6-4.7 1.7-3.9 1.7zM182.6 42.6l3.9-1.6-4.7 1.8-3.9 1.7zM178.7 44.2l3.9-1.7-4.7 1.9-3.9 1.7zM174.8 45.9l3.9-1.7-4.7 1.9-3.9 1.7z"/><path class="a40" d="M170.8 47.6l3.9-1.7-4.7 2-3.9 1.7zM166.9 49.3l3.9-1.7-4.7 2-3.9 1.7zM163 51l3.9-1.7-4.7 2-3.9 1.7z"/><path class="a37" d="M159.1 52.7l3.9-1.7-4.7 1.9-3.9 1.7zM155.2 54.4l3.9-1.7-4.6 1.9-3.9 1.6zM151.3 56.1l3.9-1.7-4.6 1.8-3.9 1.6zM147.4 57.7l3.9-1.6-4.6 1.7-3.9 1.5z"/><path class="a38" d="M143.5 59.3l3.9-1.6-4.6 1.6-3.9 1.5zM139.7 60.8l3.9-1.5-4.6 1.5-3.9 1.4zM135.8 62.2l3.9-1.4-4.6 1.4-3.9 1.3zM131.9 63.4l3.9-1.3-4.6 1.3-3.9 1.2zM128 64.6l3.9-1.2-4.6 1.2-3.9 1.1zM124.1 65.6l3.9-1-4.6 1.1-3.9 .9zM120.2 66.5l3.9-.9-4.6 1-3.9 .8zM116.3 67.2l3.9-.7-4.6 .9-3.9 .6zM112.4 67.7l3.9-.5-4.6 .8-3.9 .4zM108.4 68.1l3.9-.3-4.6 .7-3.9 .3z"/><path class="a37" d="M104.5 68.2l3.9-.1-4.6 .6-3.9 0zM100.6 68.1l3.9 .1-4.6 .6-3.9-.2z"/><path class="a45" d="M242.3 19l4-1.9-4.7-1.1-4 2zM238.4 20.8l4-1.8-4.7-.9-4 2z"/><path class="a44" d="M234.4 22.5l3.9-1.8-4.7-.7-3.9 1.9zM230.5 24.3l3.9-1.7-4.7-.6-3.9 1.9zM226.5 26l3.9-1.7-4.7-.4-3.9 1.8z"/><path class="a43" d="M222.6 27.6l3.9-1.7-4.7-.3-3.9 1.8zM218.7 29.3l3.9-1.6-4.7-.2-3.9 1.8zM214.7 30.9l3.9-1.6-4.7 0-3.9 1.7zM210.8 32.5l3.9-1.6-4.7 0-3.9 1.7z"/><path class="a41" d="M206.9 34.1l3.9-1.6-4.7 .1-3.9 1.7zM202.9 35.7l3.9-1.6-4.7 .2-3.9 1.7zM199 37.3l3.9-1.6-4.7 .3-3.9 1.6zM195.1 38.9l3.9-1.6-4.7 .3-3.9 1.6z"/><path class="a42" d="M191.2 40.5l3.9-1.6-4.7 .4-3.9 1.6zM187.3 42.1l3.9-1.6-4.7 .4-3.9 1.6zM183.3 43.7l3.9-1.6-4.7 .5-3.9 1.7zM179.4 45.3l3.9-1.6-4.7 .5-3.9 1.7z"/><path class="a39" d="M175.5 47l3.9-1.7-4.7 .6-3.9 1.7zM171.6 48.7l3.9-1.7-4.7 .6-3.9 1.7zM167.7 50.4l3.9-1.7-4.7 .6-3.9 1.7z"/><path class="a40" d="M163.8 52l3.9-1.7-4.7 .7-3.9 1.7zM159.9 53.7l3.9-1.7-4.7 .7-3.9 1.7zM156 55.4l3.9-1.7-4.7 .7-3.9 1.7zM152.1 57l3.9-1.6-4.7 .7-3.9 1.6z"/><path class="a37" d="M148.2 58.6l3.9-1.6-4.6 .7-3.9 1.6zM144.3 60l3.9-1.5-4.6 .7-3.9 1.5zM140.4 61.5l3.9-1.4-4.6 .7-3.9 1.4zM136.5 62.8l3.9-1.3-4.6 .7-3.9 1.3zM132.6 64l3.9-1.2-4.6 .7-3.9 1.2zM128.7 65l3.9-1.1-4.6 .6-3.9 1zM124.8 66l3.9-.9-4.6 .6-3.9 .9zM120.9 66.8l3.9-.8-4.6 .5-3.9 .7zM117 67.4l3.9-.6-4.6 .5-3.9 .5zM113.1 67.8l3.9-.4-4.6 .4-3.9 .3zM109.1 68l3.9-.2-4.6 .3-3.9 .1z"/><path class="a40" d="M105.2 68.1l3.9 0-4.6 .1-3.9-.1z"/><path class="a45" d="M247 21l3.9-1.6-4.7-2.4-4 1.9zM243.1 22.6l3.9-1.6-4.7-2.1-4 1.8z"/><path class="a44" d="M239.1 24.2l3.9-1.6-4.7-1.8-3.9 1.8zM235.2 25.7l3.9-1.6-4.7-1.6-3.9 1.7zM231.2 27.3l3.9-1.6-4.7-1.5-3.9 1.7zM227.3 28.9l3.9-1.6-4.7-1.4-3.9 1.7z"/><path class="a43" d="M223.4 30.6l3.9-1.6-4.7-1.3-3.9 1.6zM219.4 32.2l3.9-1.6-4.7-1.3-3.9 1.6zM215.5 33.8l3.9-1.6-4.7-1.3-3.9 1.6z"/><path class="a41" d="M211.6 35.4l3.9-1.6-4.7-1.3-3.9 1.6zM207.6 37.1l3.9-1.6-4.7-1.3-3.9 1.6zM203.7 38.7l3.9-1.6-4.7-1.3-3.9 1.6zM199.8 40.3l3.9-1.6-4.7-1.4-3.9 1.6zM195.9 42l3.9-1.6-4.7-1.4-3.9 1.6z"/><path class="a42" d="M191.9 43.6l3.9-1.6-4.7-1.5-3.9 1.6zM188 45.3l3.9-1.6-4.7-1.5-3.9 1.6zM184.1 46.9l3.9-1.6-4.7-1.6-3.9 1.6zM180.2 48.5l3.9-1.6-4.7-1.6-3.9 1.7z"/><path class="a39" d="M176.3 50.2l3.9-1.6-4.7-1.6-3.9 1.7zM172.4 51.8l3.9-1.6-4.7-1.5-3.9 1.7zM168.5 53.4l3.9-1.6-4.7-1.4-3.9 1.7zM164.6 55l3.9-1.6-4.7-1.4-3.9 1.7z"/><path class="a40" d="M160.7 56.5l3.9-1.5-4.7-1.3-3.9 1.7zM156.8 58l3.9-1.5-4.7-1.1-3.9 1.6zM152.9 59.4l3.9-1.4-4.7-1-3.9 1.6zM148.9 60.8l3.9-1.4-4.7-.9-3.9 1.5zM145 62.1l3.9-1.3-4.7-.8-3.9 1.4z"/><path class="a37" d="M141.1 63.3l3.9-1.2-4.7-.6-3.9 1.3zM137.2 64.4l3.9-1.1-4.7-.5-3.9 1.2zM133.3 65.4l3.9-1-4.6-.4-3.9 1.1zM129.4 66.3l3.9-.9-4.6-.4-3.9 .9zM125.5 67.1l3.9-.8-4.6-.3-3.9 .8z"/><path class="a40" d="M121.6 67.7l3.9-.6-4.6-.3-3.9 .6zM117.7 68.2l3.9-.5-4.6-.3-3.9 .4zM113.8 68.5l3.9-.3-4.6-.4-3.9 .2zM109.8 68.7l3.9-.2-4.6-.5-3.9 0z"/><path class="a44" d="M251.7 24l3.9-1.2-4.6-3.3-3.9 1.6zM247.7 25.4l3.9-1.3-4.6-3-3.9 1.6zM243.8 26.8l3.9-1.4-4.7-2.8-3.9 1.6zM239.8 28.2l3.9-1.5-4.7-2.6-3.9 1.6z"/><path class="a43" d="M235.9 29.8l3.9-1.5-4.7-2.5-3.9 1.6zM232 31.3l3.9-1.6-4.7-2.4-3.9 1.6zM228 33l3.9-1.6-4.7-2.4-3.9 1.6zM224.1 34.6l3.9-1.7-4.7-2.4-3.9 1.6z"/><path class="a41" d="M220.2 36.3l3.9-1.7-4.7-2.5-3.9 1.6zM216.2 38.1l3.9-1.7-4.7-2.5-3.9 1.6zM212.3 39.8l3.9-1.7-4.7-2.6-3.9 1.6zM208.4 41.6l3.9-1.7-4.7-2.7-3.9 1.6z"/><path class="a42" d="M204.5 43.3l3.9-1.7-4.7-2.9-3.9 1.6zM200.5 45l3.9-1.7-4.7-3-3.9 1.6zM196.6 46.8l3.9-1.7-4.7-3.1-3.9 1.6zM192.7 48.5l3.9-1.7-4.7-3.1-3.9 1.6z"/><path class="a39" d="M188.8 50.2l3.9-1.7-4.7-3.2-3.9 1.6zM184.9 51.8l3.9-1.6-4.7-3.2-3.9 1.6zM181 53.4l3.9-1.6-4.7-3.2-3.9 1.6zM177.1 54.9l3.9-1.5-4.7-3.2-3.9 1.6z"/><path class="a40" d="M173.1 56.4l3.9-1.5-4.7-3.1-3.9 1.6zM169.2 57.8l3.9-1.4-4.7-3-3.9 1.6zM165.3 59.2l3.9-1.4-4.7-2.9-3.9 1.5zM161.4 60.5l3.9-1.3-4.7-2.7-3.9 1.5zM157.5 61.8l3.9-1.3-4.7-2.5-3.9 1.4zM153.6 63l3.9-1.2-4.7-2.4-3.9 1.4zM149.7 64.1l3.9-1.1-4.7-2.2-3.9 1.3z"/><path class="a37" d="M145.8 65.1l3.9-1-4.7-2-3.9 1.2zM141.9 66.1l3.9-1-4.7-1.9-3.9 1.1zM138 67l3.9-.9-4.7-1.7-3.9 1z"/><path class="a40" d="M134.1 67.8l3.9-.8-4.7-1.6-3.9 .9zM130.2 68.6l3.9-.7-4.7-1.5-3.9 .8zM126.3 69.2l3.9-.6-4.7-1.5-3.9 .6zM122.4 69.8l3.9-.6-4.7-1.5-3.9 .5zM118.4 70.2l3.9-.5-4.7-1.6-3.9 .3zM114.5 70.6l3.9-.4-4.7-1.7-3.9 .2z"/><path class="a43" d="M256.3 27.7l3.9-1.1-4.6-3.8-3.9 1.2zM252.3 28.9l3.9-1.2-4.6-3.6-3.9 1.3zM248.4 30.2l3.9-1.3-4.6-3.5-3.9 1.4zM244.5 31.6l3.9-1.4-4.6-3.4-3.9 1.5zM240.5 33.1l3.9-1.5-4.6-3.4-3.9 1.5z"/><path class="a41" d="M236.6 34.7l3.9-1.6-4.6-3.4-3.9 1.6zM232.7 36.4l3.9-1.7-4.6-3.4-3.9 1.6zM228.7 38.1l3.9-1.7-4.6-3.4-3.9 1.7zM224.8 39.9l3.9-1.8-4.6-3.5-3.9 1.7z"/><path class="a42" d="M220.9 41.7l3.9-1.8-4.6-3.6-3.9 1.7zM217 43.5l3.9-1.8-4.6-3.7-3.9 1.7zM213 45.4l3.9-1.8-4.6-3.7-3.9 1.7z"/><path class="a39" d="M209.1 47.2l3.9-1.8-4.6-3.8-3.9 1.7zM205.2 49l3.9-1.8-4.6-3.9-3.9 1.7zM201.3 50.8l3.9-1.8-4.6-4-3.9 1.7zM197.4 52.6l3.9-1.8-4.7-4.1-3.9 1.7z"/><path class="a40" d="M193.4 54.3l3.9-1.7-4.7-4.1-3.9 1.7zM189.5 55.9l3.9-1.6-4.7-4.1-3.9 1.6zM185.6 57.5l3.9-1.6-4.7-4.1-3.9 1.6zM181.7 59l3.9-1.5-4.7-4.1-3.9 1.5z"/><path class="a37" d="M177.8 60.4l3.9-1.4-4.7-4-3.9 1.5zM173.9 61.7l3.9-1.3-4.7-3.9-3.9 1.4zM170 62.9l3.9-1.3-4.7-3.8-3.9 1.4zM166.1 64.1l3.9-1.2-4.7-3.7-3.9 1.3zM162.2 65.3l3.9-1.1-4.7-3.6-3.9 1.3zM158.3 66.4l3.9-1.1-4.7-3.5-3.9 1.2zM154.4 67.4l3.9-1-4.7-3.4-3.9 1.1zM150.5 68.4l3.9-1-4.7-3.3-3.9 1zM146.6 69.3l3.9-.9-4.7-3.2-3.9 1zM142.7 70.2l3.9-.9-4.7-3.2-3.9 .9zM138.8 71l3.9-.8-4.7-3.1-3.9 .8zM134.9 71.8l3.9-.8-4.7-3.2-3.9 .7zM131 72.5l3.9-.8-4.7-3.2-3.9 .6z"/><path class="a40" d="M127 73.3l3.9-.7-4.7-3.3-3.9 .6zM123.1 74l3.9-.7-4.7-3.5-3.9 .5zM119.2 74.6l3.9-.7-4.7-3.7-3.9 .4z"/><path class="a41" d="M260.9 31.7l3.9-1.1-4.6-4-3.9 1.1zM256.9 33l3.9-1.3-4.6-4-3.9 1.2zM253 34.3l3.9-1.4-4.6-4.1-3.9 1.3zM249.1 35.8l3.9-1.5-4.6-4.1-3.9 1.4z"/><path class="a42" d="M245.2 37.4l3.9-1.6-4.6-4.2-3.9 1.5zM241.2 39l3.9-1.6-4.6-4.2-3.9 1.6zM237.3 40.7l3.9-1.7-4.6-4.3-3.9 1.7zM233.4 42.5l3.9-1.8-4.6-4.3-3.9 1.7z"/><path class="a39" d="M229.4 44.3l3.9-1.8-4.6-4.4-3.9 1.8zM225.5 46.1l3.9-1.8-4.6-4.4-3.9 1.8zM221.6 48l3.9-1.8-4.6-4.4-3.9 1.8zM217.7 49.8l3.9-1.9-4.6-4.4-3.9 1.8z"/><path class="a40" d="M213.7 51.7l3.9-1.8-4.6-4.4-3.9 1.8zM209.8 53.5l3.9-1.8-4.6-4.5-3.9 1.8zM205.9 55.3l3.9-1.8-4.6-4.5-3.9 1.8z"/><path class="a37" d="M202 57l3.9-1.7-4.6-4.5-3.9 1.8zM198.1 58.7l3.9-1.7-4.6-4.4-3.9 1.7zM194.2 60.3l3.9-1.6-4.6-4.4-3.9 1.6zM190.3 61.9l3.9-1.5-4.6-4.4-3.9 1.6z"/><path class="a38" d="M186.4 63.3l3.9-1.5-4.6-4.4-3.9 1.5zM182.5 64.7l3.9-1.4-4.7-4.4-3.9 1.4zM178.6 66l3.9-1.3-4.7-4.3-3.9 1.3zM174.7 67.3l3.9-1.3-4.7-4.3-3.9 1.3zM170.8 68.5l3.9-1.2-4.7-4.3-3.9 1.2zM166.9 69.6l3.9-1.2-4.7-4.3-3.9 1.1zM163 70.7l3.9-1.1-4.7-4.3-3.9 1.1zM159.1 71.8l3.9-1.1-4.7-4.4-3.9 1zM155.2 72.9l3.9-1.1-4.7-4.4-3.9 1zM151.3 73.9l3.9-1-4.7-4.5-3.9 .9zM147.4 74.9l3.9-1-4.7-4.6-3.9 .9zM143.5 75.9l3.9-1-4.7-4.8-3.9 .8zM139.6 77l3.9-1-4.7-5-3.9 .8zM135.7 78l3.9-1-4.7-5.2-3.9 .8zM131.8 79.1l3.9-1.1-4.7-5.5-3.9 .7zM127.9 80.1l3.9-1.1-4.7-5.8-3.9 .7zM124 81.3l3.9-1.1-4.7-6.2-3.9 .7z"/><path class="a42" d="M265.4 36.2l3.9-1.4-4.6-4.3-3.9 1.1zM261.5 37.6l3.9-1.5-4.6-4.5-3.9 1.3z"/><path class="a39" d="M257.6 39.2l3.9-1.5-4.6-4.7-3.9 1.4zM253.7 40.8l3.9-1.6-4.6-4.8-3.9 1.5zM249.7 42.4l3.9-1.7-4.6-5-3.9 1.6zM245.8 44.1l3.9-1.7-4.6-5-3.9 1.6zM241.9 45.9l3.9-1.7-4.6-5.1-3.9 1.7z"/><path class="a40" d="M237.9 47.7l3.9-1.8-4.6-5.1-3.9 1.8zM234 49.5l3.9-1.8-4.6-5.2-3.9 1.8zM230.1 51.3l3.9-1.8-4.6-5.2-3.9 1.8z"/><path class="a37" d="M226.2 53.1l3.9-1.8-4.6-5.2-3.9 1.8zM222.3 54.9l3.9-1.8-4.6-5.1-3.9 1.9zM218.3 56.7l3.9-1.8-4.6-5.1-3.9 1.8z"/><path class="a38" d="M214.4 58.5l3.9-1.8-4.6-5.1-3.9 1.8zM210.5 60.3l3.9-1.8-4.6-5-3.9 1.8zM206.6 62l3.9-1.7-4.6-5-3.9 1.7zM202.7 63.6l3.9-1.7-4.6-5-3.9 1.7zM198.8 65.2l3.9-1.6-4.6-4.9-3.9 1.6z"/><path class="a33" d="M194.9 66.8l3.9-1.5-4.6-4.9-3.9 1.5zM191 68.2l3.9-1.5-4.6-4.9-3.9 1.5zM187.1 69.6l3.9-1.4-4.6-4.9-3.9 1.4zM183.2 71l3.9-1.4-4.6-4.9-3.9 1.3zM179.3 72.3l3.9-1.3-4.6-5-3.9 1.3zM175.4 73.6l3.9-1.3-4.7-5-3.9 1.2zM171.5 74.8l3.9-1.2-4.7-5.1-3.9 1.2zM167.6 76l3.9-1.2-4.7-5.2-3.9 1.1zM163.7 77.3l3.9-1.2-4.7-5.3-3.9 1.1zM159.8 78.5l3.9-1.2-4.7-5.5-3.9 1.1zM156 79.7l3.9-1.2-4.7-5.6-3.9 1zM152.1 80.9l3.9-1.2-4.7-5.8-3.9 1zM148.2 82.2l3.9-1.3-4.7-6-3.9 1zM144.3 83.5l3.9-1.3-4.7-6.3-3.9 1zM140.4 84.8l3.9-1.3-4.7-6.5-3.9 1zM136.5 86.2l3.9-1.4-4.7-6.8-3.9 1.1z"/><path class="a34" d="M132.6 87.7l3.9-1.4-4.7-7.2-3.9 1.1zM128.7 89.2l3.9-1.5-4.7-7.5-3.9 1.1z"/><path class="a40" d="M270 41.3l3.9-1.6-4.5-4.9-3.9 1.4zM266 43l3.9-1.7-4.5-5.2-3.9 1.5zM262.1 44.7l3.9-1.7-4.5-5.4-3.9 1.5zM258.2 46.4l3.9-1.7-4.5-5.5-3.9 1.6z"/><path class="a37" d="M254.3 48.2l3.9-1.8-4.5-5.7-3.9 1.7zM250.3 50l3.9-1.8-4.5-5.8-3.9 1.7zM246.4 51.8l3.9-1.8-4.5-5.9-3.9 1.7z"/><path class="a38" d="M242.5 53.6l3.9-1.8-4.5-5.9-3.9 1.8zM238.6 55.4l3.9-1.8-4.5-5.9-3.9 1.8zM234.7 57.3l3.9-1.8-4.6-6-3.9 1.8zM230.7 59.1l3.9-1.8-4.6-6-3.9 1.8z"/><path class="a33" d="M226.8 60.9l3.9-1.8-4.6-6-3.9 1.8zM222.9 62.7l3.9-1.8-4.6-5.9-3.9 1.8zM219 64.4l3.9-1.8-4.6-5.9-3.9 1.8zM215.1 66.1l3.9-1.7-4.6-5.9-3.9 1.8z"/><path class="a34" d="M211.2 67.8l3.9-1.7-4.6-5.9-3.9 1.7zM207.3 69.5l3.9-1.6-4.6-5.8-3.9 1.7zM203.4 71.1l3.9-1.6-4.6-5.8-3.9 1.6zM199.5 72.6l3.9-1.5-4.6-5.8-3.9 1.5zM195.6 74.1l3.9-1.5-4.6-5.8-3.9 1.5z"/><path class="a35" d="M191.7 75.5l3.9-1.4-4.6-5.9-3.9 1.4zM187.8 76.9l3.9-1.4-4.6-5.9-3.9 1.4zM184 78.3l3.9-1.4-4.6-6-3.9 1.3zM180.1 79.6l3.9-1.3-4.6-6-3.9 1.3zM176.2 81l3.9-1.3-4.6-6.1-3.9 1.2zM172.3 82.3l3.9-1.3-4.6-6.2-3.9 1.2zM168.4 83.6l3.9-1.3-4.7-6.3-3.9 1.2zM164.5 85l3.9-1.3-4.7-6.4-3.9 1.2zM160.6 86.3l3.9-1.3-4.7-6.5-3.9 1.2zM156.7 87.7l3.9-1.4-4.7-6.6-3.9 1.2zM152.9 89.1l3.9-1.4-4.7-6.7-3.9 1.3zM149 90.5l3.9-1.4-4.7-6.9-3.9 1.3z"/><path class="a36" d="M145.1 92l3.9-1.5-4.7-7-3.9 1.3zM141.2 93.5l3.9-1.5-4.7-7.1-3.9 1.4zM137.3 95.1l3.9-1.6-4.7-7.3-3.9 1.4zM133.5 96.7l3.9-1.7-4.7-7.4-3.9 1.5z"/><path class="a38" d="M274.4 47.3l3.9-1.8-4.5-5.8-3.9 1.6zM270.5 49.1l3.9-1.8-4.5-5.9-3.9 1.7zM266.6 50.9l3.9-1.8-4.5-6.1-3.9 1.7zM262.7 52.8l3.9-1.9-4.5-6.2-3.9 1.7z"/><path class="a33" d="M258.7 54.7l3.9-1.9-4.5-6.4-3.9 1.8zM254.8 56.6l3.9-1.9-4.5-6.5-3.9 1.8zM250.9 58.4l3.9-1.9-4.5-6.6-3.9 1.8z"/><path class="a34" d="M247 60.3l3.9-1.9-4.5-6.7-3.9 1.8zM243.1 62.2l3.9-1.9-4.5-6.7-3.9 1.8zM239.2 64.1l3.9-1.9-4.5-6.8-3.9 1.8zM235.3 65.9l3.9-1.9-4.5-6.8-3.9 1.8z"/><path class="a35" d="M231.4 67.8l3.9-1.8-4.5-6.9-3.9 1.8zM227.5 69.6l3.9-1.8-4.5-6.9-3.9 1.8zM223.6 71.4l3.9-1.8-4.5-6.9-3.9 1.8z"/><path class="a36" d="M219.7 73.1l3.9-1.8-4.5-7-3.9 1.7zM215.8 74.9l3.9-1.7-4.6-7-3.9 1.7zM211.9 76.5l3.9-1.7-4.6-7-3.9 1.6zM208 78.1l3.9-1.6-4.6-7.1-3.9 1.6zM204.1 79.7l3.9-1.6-4.6-7.1-3.9 1.5zM200.2 81.2l3.9-1.5-4.6-7.1-3.9 1.5z"/><path class="a29" d="M196.3 82.7l3.9-1.5-4.6-7.1-3.9 1.4zM192.4 84.1l3.9-1.4-4.6-7.2-3.9 1.4zM188.6 85.5l3.9-1.4-4.6-7.2-3.9 1.4zM184.7 86.9l3.9-1.4-4.6-7.2-3.9 1.3zM180.8 88.2l3.9-1.3-4.6-7.2-3.9 1.3zM176.9 89.5l3.9-1.3-4.6-7.2-3.9 1.3zM173 90.8l3.9-1.3-4.6-7.2-3.9 1.3zM169.2 92.1l3.9-1.3-4.6-7.2-3.9 1.3zM165.3 93.4l3.9-1.3-4.6-7.2-3.9 1.3zM161.4 94.7l3.9-1.3-4.7-7.1-3.9 1.4zM157.5 96l3.9-1.3-4.7-7.1-3.9 1.4zM153.6 97.3l3.9-1.3-4.7-7-3.9 1.4z"/><path class="a30" d="M149.8 98.7l3.9-1.3-4.7-6.8-3.9 1.5zM145.9 100l3.9-1.4-4.7-6.7-3.9 1.5zM142 101.4l3.9-1.4-4.7-6.5-3.9 1.6zM138.1 102.8l3.9-1.4-4.7-6.3-3.9 1.7z"/><path class="a34" d="M278.9 53.8l3.9-2-4.4-6.4-3.9 1.8zM275 55.8l3.9-2-4.4-6.5-3.9 1.8zM271 57.8l3.9-2-4.4-6.7-3.9 1.8z"/><path class="a35" d="M267.1 59.9l3.9-2-4.4-6.9-3.9 1.9zM263.2 61.9l3.9-2-4.4-7.1-3.9 1.9zM259.3 63.9l3.9-2-4.4-7.2-3.9 1.9z"/><path class="a36" d="M255.4 65.9l3.9-2-4.4-7.4-3.9 1.9zM251.4 67.9l3.9-2-4.5-7.5-3.9 1.9zM247.5 69.9l3.9-2-4.5-7.6-3.9 1.9z"/><path class="a29" d="M243.6 71.9l3.9-2-4.5-7.7-3.9 1.9zM239.7 73.9l3.9-2-4.5-7.8-3.9 1.9zM235.8 75.8l3.9-1.9-4.5-7.9-3.9 1.8zM231.9 77.7l3.9-1.9-4.5-8-3.9 1.8z"/><path class="a30" d="M228.1 79.5l3.9-1.9-4.5-8.1-3.9 1.8zM224.2 81.4l3.9-1.8-4.5-8.2-3.9 1.8zM220.3 83.1l3.9-1.8-4.5-8.2-3.9 1.7zM216.4 84.8l3.9-1.7-4.5-8.3-3.9 1.7z"/><path class="a31" d="M212.5 86.5l3.9-1.7-4.5-8.3-3.9 1.6zM208.6 88.1l3.9-1.6-4.5-8.4-3.9 1.6zM204.8 89.6l3.9-1.5-4.5-8.4-3.9 1.5zM200.9 91.1l3.9-1.5-4.6-8.4-3.9 1.5zM197 92.6l3.9-1.4-4.6-8.4-3.9 1.4zM193.1 93.9l3.9-1.4-4.6-8.4-3.9 1.4zM189.3 95.3l3.9-1.3-4.6-8.4-3.9 1.4zM185.4 96.5l3.9-1.3-4.6-8.4-3.9 1.3zM181.5 97.8l3.9-1.2-4.6-8.3-3.9 1.3z"/><path class="a32" d="M177.7 99l3.9-1.2-4.6-8.2-3.9 1.3zM173.8 100.1l3.9-1.2-4.6-8.1-3.9 1.3zM169.9 101.3l3.9-1.1-4.6-8-3.9 1.3zM166 102.4l3.9-1.1-4.6-7.8-3.9 1.3zM162.2 103.4l3.9-1.1-4.6-7.6-3.9 1.3zM158.3 104.5l3.9-1-4.6-7.4-3.9 1.3zM154.4 105.5l3.9-1-4.7-7.1-3.9 1.3zM150.6 106.5l3.9-1-4.7-6.8-3.9 1.4zM146.7 107.5l3.9-1-4.7-6.5-3.9 1.4zM142.8 108.4l3.9-1-4.7-6.1-3.9 1.4z"/><path class="a36" d="M283.3 60.7l3.9-2.3-4.4-6.6-3.9 2zM279.4 63l3.9-2.3-4.4-6.9-3.9 2z"/><path class="a29" d="M275.4 65.3l3.9-2.3-4.4-7.2-3.9 2zM271.5 67.6l3.9-2.3-4.4-7.5-3.9 2z"/><path class="a30" d="M267.6 69.9l3.9-2.3-4.4-7.8-3.9 2zM263.7 72.1l3.9-2.2-4.4-8-3.9 2zM259.8 74.4l3.9-2.2-4.4-8.2-3.9 2z"/><path class="a31" d="M255.9 76.6l3.9-2.2-4.4-8.4-3.9 2zM251.9 78.7l3.9-2.2-4.4-8.6-3.9 2zM248.1 80.9l3.9-2.1-4.4-8.8-3.9 2z"/><path class="a32" d="M244.2 82.9l3.9-2.1-4.4-8.9-3.9 2zM240.3 85l3.9-2-4.4-9.1-3.9 1.9zM236.4 87l3.9-2-4.4-9.2-3.9 1.9z"/><path class="a25" d="M232.5 88.9l3.9-1.9-4.4-9.3-3.9 1.9zM228.6 90.8l3.9-1.9-4.4-9.4-3.9 1.8zM224.7 92.6l3.9-1.8-4.5-9.4-3.9 1.8zM220.9 94.4l3.9-1.8-4.5-9.5-3.9 1.7z"/><path class="a26" d="M217 96.1l3.9-1.7-4.5-9.5-3.9 1.7zM213.1 97.7l3.9-1.6-4.5-9.6-3.9 1.6zM209.3 99.2l3.9-1.5-4.5-9.6-3.9 1.5zM205.4 100.7l3.9-1.5-4.5-9.6-3.9 1.5zM201.5 102.1l3.9-1.4-4.5-9.6-3.9 1.4zM197.7 103.4l3.9-1.3-4.5-9.6-3.9 1.4zM193.8 104.7l3.9-1.3-4.5-9.5-3.9 1.3zM190 105.9l3.9-1.2-4.6-9.5-3.9 1.3zM186.1 107.1l3.9-1.1-4.6-9.4-3.9 1.2zM182.2 108.2l3.9-1.1-4.6-9.3-3.9 1.2zM178.4 109.2l3.9-1-4.6-9.2-3.9 1.2zM174.5 110.1l3.9-1-4.6-9-3.9 1.1zM170.7 111l3.9-.9-4.6-8.9-3.9 1.1zM166.8 111.9l3.9-.8-4.6-8.7-3.9 1.1zM162.9 112.6l3.9-.8-4.6-8.4-3.9 1zM159.1 113.4l3.9-.7-4.6-8.2-3.9 1zM155.2 114.1l3.9-.7-4.6-7.9-3.9 1zM151.3 114.7l3.9-.6-4.7-7.6-3.9 1z"/><path class="a25" d="M147.5 115.2l3.9-.6-4.7-7.2-3.9 1z"/><path class="a30" d="M287.7 67.9l4-2.9-4.4-6.7-3.9 2.3z"/><path class="a31" d="M283.7 70.8l3.9-2.8-4.4-7.2-3.9 2.3zM279.8 73.5l3.9-2.8-4.4-7.7-3.9 2.3z"/><path class="a32" d="M275.8 76.2l3.9-2.7-4.3-8.2-3.9 2.3zM271.9 78.8l3.9-2.6-4.3-8.6-3.9 2.3z"/><path class="a25" d="M268 81.4l3.9-2.6-4.3-8.9-3.9 2.2zM264.1 83.9l3.9-2.5-4.3-9.3-3.9 2.2z"/><path class="a26" d="M260.2 86.4l3.9-2.4-4.3-9.5-3.9 2.2zM256.3 88.7l3.9-2.4-4.3-9.8-3.9 2.2z"/><path class="a27" d="M252.4 91l3.9-2.3-4.3-10-3.9 2.1zM248.5 93.2l3.9-2.2-4.3-10.2-3.9 2.1zM244.6 95.4l3.9-2.2-4.4-10.3-3.9 2z"/><path class="a28" d="M240.8 97.5l3.9-2.1-4.4-10.4-3.9 2zM236.9 99.5l3.9-2-4.4-10.5-3.9 1.9zM233 101.4l3.9-1.9-4.4-10.6-3.9 1.9z"/><path class="a21" d="M229.2 103.3l3.9-1.9-4.4-10.6-3.9 1.8zM225.3 105l3.9-1.8-4.4-10.7-3.9 1.8zM221.4 106.7l3.9-1.7-4.4-10.7-3.9 1.7zM217.6 108.3l3.9-1.6-4.4-10.7-3.9 1.6zM213.7 109.9l3.9-1.5-4.4-10.7-3.9 1.5zM209.9 111.3l3.8-1.4-4.5-10.6-3.9 1.5zM206 112.7l3.8-1.4-4.5-10.6-3.9 1.4z"/><path class="a22" d="M202.2 114l3.8-1.3-4.5-10.6-3.9 1.3zM198.3 115.2l3.8-1.2-4.5-10.5-3.9 1.3zM194.5 116.3l3.8-1.1-4.5-10.5-3.9 1.2z"/><path class="a21" d="M190.6 117.4l3.8-1.1-4.5-10.4-3.9 1.1zM186.8 118.4l3.8-1-4.5-10.3-3.9 1.1zM183 119.3l3.8-.9-4.6-10.2-3.9 1zM179.1 120.2l3.8-.9-4.6-10.2-3.9 1zM175.3 121l3.8-.8-4.6-10.1-3.9 .9zM171.4 121.7l3.8-.7-4.6-10-3.9 .8zM167.6 122.4l3.9-.7-4.6-9.9-3.9 .8zM163.7 123l3.9-.6-4.6-9.7-3.9 .7z"/><path class="a28" d="M159.9 123.6l3.9-.6-4.6-9.6-3.9 .7zM156 124.1l3.9-.5-4.6-9.5-3.9 .6zM152.1 124.5l3.9-.4-4.7-9.4-3.9 .6z"/><path class="a25" d="M291.9 76.3l4-3.5-4.3-7.8-4 2.9z"/><path class="a26" d="M288 79.7l4-3.4-4.3-8.4-3.9 2.8zM284 83l4-3.3-4.3-9-3.9 2.8z"/><path class="a27" d="M280.1 86.1l3.9-3.1-4.3-9.5-3.9 2.7z"/><path class="a28" d="M276.2 89.1l3.9-3-4.3-9.9-3.9 2.6zM272.2 92l3.9-2.9-4.2-10.3-3.9 2.6z"/><path class="a21" d="M268.3 94.8l3.9-2.8-4.2-10.6-3.9 2.5z"/><path class="a22" d="M264.4 97.4l3.9-2.7-4.3-10.9-3.9 2.4zM260.6 100l3.9-2.6-4.3-11.1-3.9 2.4zM256.7 102.4l3.9-2.4-4.3-11.3-3.9 2.3z"/><path class="a23" d="M252.8 104.8l3.9-2.3-4.3-11.4-3.9 2.2zM248.9 107l3.9-2.2-4.3-11.5-3.9 2.2z"/><path class="a24" d="M245.1 109.1l3.9-2.1-4.3-11.6-3.9 2.1zM241.2 111.2l3.9-2-4.3-11.6-3.9 2zM237.4 113.1l3.9-1.9-4.3-11.7-3.9 1.9zM233.5 114.9l3.8-1.8-4.3-11.7-3.9 1.9z"/><path class="a17" d="M229.7 116.7l3.8-1.7-4.4-11.6-3.9 1.8zM225.8 118.3l3.8-1.6-4.4-11.6-3.9 1.7zM222 119.9l3.8-1.6-4.4-11.6-3.9 1.6zM218.1 121.3l3.8-1.5-4.4-11.5-3.9 1.5zM214.3 122.7l3.8-1.4-4.4-11.5-3.8 1.4zM210.5 124.1l3.8-1.3-4.4-11.4-3.8 1.4zM206.6 125.3l3.8-1.2-4.4-11.4-3.8 1.3zM202.8 126.5l3.8-1.2-4.5-11.3-3.8 1.2zM199 127.6l3.8-1.1-4.5-11.3-3.8 1.1zM195.2 128.6l3.8-1-4.5-11.2-3.8 1.1zM191.3 129.5l3.8-1-4.5-11.2-3.8 1zM187.5 130.5l3.8-.9-4.5-11.2-3.8 .9zM183.7 131.3l3.8-.8-4.5-11.1-3.8 .9z"/><path class="a24" d="M179.8 132.1l3.8-.8-4.5-11.1-3.8 .8zM176 132.8l3.8-.7-4.6-11.1-3.8 .7zM172.2 133.5l3.8-.7-4.6-11.1-3.9 .7zM168.3 134.1l3.8-.6-4.6-11.1-3.9 .6zM164.5 134.7l3.8-.6-4.6-11.1-3.9 .6z"/><path class="a23" d="M160.6 135.3l3.8-.6-4.6-11.2-3.9 .5zM156.8 135.8l3.8-.5-4.6-11.2-3.9 .4z"/><path class="a28" d="M296.1 87l4-4-4.2-10.1-4 3.5z"/><path class="a21" d="M292.1 90.8l4-3.8-4.2-10.7-4 3.4z"/><path class="a22" d="M288.2 94.4l4-3.6-4.1-11.1-4 3.3z"/><path class="a23" d="M284.2 97.9l3.9-3.4-4.1-11.5-3.9 3.1z"/><path class="a24" d="M280.3 101.2l3.9-3.3-4.1-11.8-3.9 3zM276.4 104.3l3.9-3.1-4.1-12.1-3.9 2.9z"/><path class="a17" d="M272.5 107.2l3.9-2.9-4.1-12.3-3.9 2.8z"/><path class="a18" d="M268.6 110l3.9-2.8-4.2-12.4-3.9 2.7zM264.7 112.6l3.9-2.6-4.2-12.5-3.9 2.6z"/><path class="a19" d="M260.9 115.1l3.9-2.5-4.2-12.6-3.9 2.4zM257 117.5l3.9-2.3-4.2-12.7-3.9 2.3zM253.2 119.7l3.9-2.2-4.2-12.7-3.9 2.2z"/><path class="a20" d="M249.3 121.8l3.8-2.1-4.2-12.7-3.9 2.1zM245.5 123.7l3.8-2-4.2-12.6-3.9 2zM241.6 125.6l3.8-1.9-4.3-12.6-3.9 1.9z"/><path class="a13" d="M237.8 127.3l3.8-1.8-4.3-12.5-3.8 1.8zM234 129l3.8-1.7-4.3-12.4-3.8 1.7zM230.2 130.6l3.8-1.6-4.3-12.3-3.8 1.6zM226.3 132l3.8-1.5-4.3-12.3-3.8 1.6zM222.5 133.5l3.8-1.4-4.4-12.2-3.8 1.5zM218.7 134.8l3.8-1.3-4.4-12.1-3.8 1.4zM214.9 136l3.8-1.3-4.4-12-3.8 1.3zM211.1 137.2l3.8-1.2-4.4-12-3.8 1.2zM207.2 138.3l3.8-1.1-4.4-11.9-3.8 1.2zM203.4 139.4l3.8-1.1-4.4-11.9-3.8 1.1zM199.6 140.4l3.8-1-4.4-11.9-3.8 1zM195.8 141.4l3.8-1-4.5-11.8-3.8 1zM192 142.3l3.8-.9-4.5-11.8-3.8 .9z"/><path class="a20" d="M188.2 143.2l3.8-.9-4.5-11.8-3.8 .8zM184.3 144l3.8-.8-4.5-11.9-3.8 .8zM180.5 144.8l3.8-.8-4.5-11.9-3.8 .7zM176.7 145.6l3.8-.8-4.5-12-3.8 .7zM172.9 146.3l3.8-.7-4.6-12.1-3.8 .6z"/><path class="a19" d="M169.1 147l3.8-.7-4.6-12.2-3.8 .6zM165.2 147.7l3.8-.7-4.6-12.3-3.8 .6zM161.4 148.4l3.8-.7-4.6-12.5-3.8 .5z"/><path class="a17" d="M300 101l4-4.2-3.9-13.8-4 4z"/><path class="a18" d="M296.1 105l4-4-3.9-14-4 3.8z"/><path class="a19" d="M292.1 108.7l3.9-3.7-4-14.1-4 3.6z"/><path class="a20" d="M288.2 112.2l3.9-3.5-4-14.2-3.9 3.4zM284.3 115.5l3.9-3.3-4-14.3-3.9 3.3z"/><path class="a13" d="M280.4 118.5l3.9-3.1-4-14.3-3.9 3.1z"/><path class="a14" d="M276.5 121.4l3.9-2.9-4-14.3-3.9 2.9zM272.7 124.1l3.9-2.7-4-14.2-3.9 2.8z"/><path class="a15" d="M268.8 126.7l3.9-2.5-4.1-14.1-3.9 2.6zM265 129l3.8-2.4-4.1-14-3.9 2.5z"/><path class="a16" d="M261.1 131.2l3.8-2.2-4.1-13.9-3.9 2.3zM257.3 133.3l3.8-2.1-4.1-13.8-3.9 2.2zM253.5 135.2l3.8-1.9-4.2-13.6-3.8 2.1z"/><path class="a0" d="M249.7 137l3.8-1.8-4.2-13.5-3.8 2zM245.9 138.7l3.8-1.7-4.2-13.3-3.8 1.9zM242 140.3l3.8-1.6-4.2-13.2-3.8 1.8zM238.2 141.9l3.8-1.5-4.2-13-3.8 1.7zM234.4 143.3l3.8-1.4-4.3-12.9-3.8 1.6zM230.6 144.7l3.8-1.4-4.3-12.7-3.8 1.5zM226.8 146l3.8-1.3-4.3-12.6-3.8 1.4zM223 147.2l3.8-1.2-4.3-12.5-3.8 1.3zM219.2 148.4l3.8-1.2-4.3-12.4-3.8 1.3zM215.4 149.5l3.8-1.1-4.4-12.4-3.8 1.2zM211.6 150.6l3.8-1.1-4.4-12.3-3.8 1.1zM207.8 151.7l3.8-1.1-4.4-12.3-3.8 1.1zM204 152.7l3.8-1-4.4-12.3-3.8 1zM200.2 153.7l3.8-1-4.4-12.3-3.8 1z"/><path class="a16" d="M196.4 154.6l3.8-.9-4.4-12.3-3.8 .9zM192.6 155.5l3.8-.9-4.5-12.3-3.8 .9zM188.8 156.4l3.8-.9-4.5-12.4-3.8 .8zM185 157.3l3.8-.9-4.5-12.4-3.8 .8zM181.2 158.2l3.8-.9-4.5-12.5-3.8 .8zM177.4 159l3.8-.9-4.5-12.6-3.8 .7z"/><path class="a15" d="M173.6 159.9l3.8-.9-4.5-12.7-3.8 .7zM169.8 160.8l3.8-.9-4.5-12.9-3.8 .7zM166 161.6l3.8-.9-4.6-13-3.8 .7zM303.7 119.5l3.9-3.8-3.6-18.8-4 4.2z"/><path class="a16" d="M299.8 123.1l3.9-3.6-3.7-18.5-4 4z"/><path class="a0" d="M295.9 126.4l3.9-3.4-3.7-18.1-3.9 3.7zM292 129.6l3.9-3.1-3.7-17.8-3.9 3.5z"/><path class="a1" d="M288.1 132.5l3.9-2.9-3.8-17.4-3.9 3.3z"/><path class="a2" d="M284.3 135.2l3.9-2.7-3.8-17-3.9 3.1zM280.4 137.7l3.8-2.5-3.9-16.6-3.9 2.9z"/><path class="a3" d="M276.6 140l3.8-2.3-3.9-16.3-3.9 2.7zM272.8 142.2l3.8-2.2-3.9-15.9-3.9 2.5z"/><path class="a4" d="M269 144.2l3.8-2-4-15.5-3.8 2.4zM265.2 146l3.8-1.9-4-15.2-3.8 2.2zM261.4 147.8l3.8-1.7-4-14.8-3.8 2.1zM257.6 149.4l3.8-1.6-4.1-14.5-3.8 1.9zM253.8 150.9l3.8-1.5-4.1-14.2-3.8 1.8zM250 152.3l3.8-1.4-4.1-13.9-3.8 1.7z"/><path class="a5" d="M246.2 153.7l3.8-1.4-4.2-13.6-3.8 1.6zM242.5 155l3.8-1.3-4.2-13.4-3.8 1.5zM238.7 156.2l3.8-1.2-4.2-13.1-3.8 1.4z"/><path class="a4" d="M234.9 157.5l3.8-1.2-4.2-13-3.8 1.4zM231.1 158.6l3.8-1.2-4.3-12.8-3.8 1.3zM227.3 159.8l3.8-1.2-4.3-12.7-3.8 1.2zM223.6 160.9l3.8-1.1-4.3-12.6-3.8 1.2zM219.8 162l3.8-1.1-4.3-12.5-3.8 1.1zM216 163.1l3.8-1.1-4.3-12.5-3.8 1.1zM212.2 164.1l3.8-1-4.4-12.5-3.8 1.1zM208.4 165.2l3.8-1-4.4-12.5-3.8 1zM204.6 166.2l3.8-1-4.4-12.5-3.8 1zM200.9 167.2l3.8-1-4.4-12.5-3.8 .9z"/><path class="a3" d="M197.1 168.1l3.8-1-4.4-12.5-3.8 .9zM193.3 169.1l3.8-1-4.4-12.6-3.8 .9zM189.5 170l3.8-.9-4.4-12.6-3.8 .9zM185.7 170.9l3.8-.9-4.5-12.7-3.8 .9zM181.9 171.9l3.8-.9-4.5-12.8-3.8 .9zM178.1 172.8l3.8-.9-4.5-12.8-3.8 .9z"/><path class="a2" d="M174.3 173.7l3.8-.9-4.5-12.9-3.8 .9zM170.5 174.6l3.8-.9-4.5-12.9-3.8 .9z"/><path class="a6" d="M307 143.6l3.8-2.8-3.2-25.2-3.9 3.8z"/><path class="a7" d="M303.2 146.1l3.8-2.6-3.3-24.1-3.9 3.6zM299.4 148.5l3.8-2.4-3.4-23-3.9 3.4z"/><path class="a8" d="M295.5 150.7l3.8-2.2-3.5-22-3.9 3.1zM291.8 152.7l3.8-2-3.5-21.1-3.9 2.9zM288 154.5l3.8-1.8-3.6-20.2-3.9 2.7z"/><path class="a9" d="M284.2 156.2l3.8-1.7-3.7-19.3-3.8 2.5zM280.4 157.8l3.8-1.6-3.8-18.5-3.8 2.3zM276.7 159.2l3.8-1.4-3.8-17.8-3.8 2.2zM272.9 160.6l3.8-1.3-3.9-17.1-3.8 2zM269.1 161.8l3.8-1.3-3.9-16.4-3.8 1.9zM265.4 163l3.8-1.2-4-15.8-3.8 1.7zM261.6 164.1l3.8-1.1-4-15.2-3.8 1.6zM257.9 165.2l3.8-1.1-4-14.7-3.8 1.5zM254.1 166.2l3.8-1-4.1-14.3-3.8 1.4zM250.4 167.2l3.8-1-4.1-13.9-3.8 1.4zM246.6 168.2l3.8-1-4.1-13.5-3.8 1.3zM242.9 169.2l3.8-1-4.2-13.2-3.8 1.2zM239.1 170.2l3.8-1-4.2-13-3.8 1.2zM235.4 171.3l3.8-1-4.2-12.8-3.8 1.2zM231.6 172.3l3.8-1.1-4.2-12.6-3.8 1.2z"/><path class="a8" d="M227.8 173.4l3.8-1.1-4.3-12.5-3.8 1.1zM224.1 174.4l3.8-1.1-4.3-12.5-3.8 1.1zM220.3 175.5l3.8-1.1-4.3-12.4-3.8 1.1zM216.5 176.6l3.8-1.1-4.3-12.4-3.8 1zM212.8 177.6l3.8-1.1-4.3-12.4-3.8 1zM209 178.7l3.8-1-4.3-12.5-3.8 1zM205.2 179.7l3.8-1-4.4-12.5-3.8 1z"/><path class="a7" d="M201.5 180.7l3.8-1-4.4-12.5-3.8 1zM197.7 181.6l3.8-1-4.4-12.5-3.8 1zM193.9 182.5l3.8-.9-4.4-12.5-3.8 .9zM190.1 183.4l3.8-.9-4.4-12.5-3.8 .9zM186.4 184.3l3.8-.8-4.4-12.5-3.8 .9zM182.6 185.1l3.8-.8-4.5-12.4-3.8 .9z"/><path class="a6" d="M178.8 185.8l3.8-.7-4.5-12.3-3.8 .9zM175 186.5l3.8-.7-4.5-12.1-3.8 .9z"/></g><circle cx="41.3" cy="154.1" r="0.9" fill="#a03030"/><circle cx="39.6" cy="123.5" r="0.9" fill="#a03030"/><circle cx="37.9" cy="93" r="0.9" fill="#a03030"/><circle cx="36.2" cy="62.5" r="0.9" fill="#a03030"/><circle cx="34.5" cy="32" r="0.9" fill="#a03030"/><text transform="translate(26.8 36.9) scale(0.75 1)" font-size="13.3" text-anchor="middle" font-family="Liberation Serif" font-weight="bold">91</text><text transform="translate(28.1 67.6) scale(0.75 1)" font-size="13.3" text-anchor="middle" font-family="Liberation Serif" font-weight="bold">87</text><text transform="translate(28.1 98.8) scale(0.75 1)" font-size="13.3" text-anchor="middle" font-family="Liberation Serif" font-weight="bold">83</text><text transform="translate(31.1 128) scale(0.75 1)" font-size="13.3" text-anchor="middle" font-family="Liberation Serif" font-weight="bold">79</text><text transform="translate(33.1 159.2) scale(0.75 1)" font-size="13.3" text-anchor="middle" font-family="Liberation Serif" font-weight="bold">75</text><circle cx="142.1" cy="234.2" r="1.1" fill="#111"/><circle cx="208.2" cy="233.8" r="1.1" fill="#111"/><circle cx="109.2" cy="220.3" r="1.1" fill="#111"/><circle cx="241.5" cy="219.5" r="1.1" fill="#111"/><circle cx="76.3" cy="206.4" r="1.1" fill="#111"/><circle cx="274.8" cy="205.2" r="1.1" fill="#111"/><text transform="translate(35.4 196.4) scale(0.75 1)" font-size="13.3" text-anchor="middle" font-family="Liberation Serif" font-weight="bold">12</text><text transform="translate(67 216.9) scale(0.75 1)" font-size="13.3" text-anchor="middle" font-family="Liberation Serif" font-weight="bold">9.75</text><text transform="translate(100.9 231.9) scale(0.75 1)" font-size="13.3" text-anchor="middle" font-family="Liberation Serif" font-weight="bold">7.5</text><text transform="translate(131.8 246.7) scale(0.75 1)" font-size="13.3" text-anchor="middle" font-family="Liberation Serif" font-weight="bold">5.25</text><text transform="translate(170 257.4) scale(0.75 1)" font-size="13.3" text-anchor="middle" font-family="Liberation Serif" font-weight="bold">3</text><text transform="translate(182 260.4) scale(0.75 1)" font-size="13.3" text-anchor="middle" font-family="Liberation Serif" font-weight="bold">10</text><text transform="translate(213.4 249.9) scale(0.75 1)" font-size="13.3" text-anchor="middle" font-family="Liberation Serif" font-weight="bold">36.25</text><text transform="translate(245.7 236.4) scale(0.75 1)" font-size="13.3" text-anchor="middle" font-family="Liberation Serif" font-weight="bold">62.5</text><text transform="translate(280 222.4) scale(0.75 1)" font-size="13.3" text-anchor="middle" font-family="Liberation Serif" font-weight="bold">88.75</text><text transform="translate(315 206.9) scale(0.75 1)" font-size="13.3" text-anchor="middle" font-family="Liberation Serif" font-weight="bold">115</text><text transform="translate(69 253.7) scale(0.75 1)" font-size="13.3" text-anchor="middle" font-family="Liberation Serif" font-weight="bold">pH</text><text transform="translate(257 261) scale(0.75 1)" font-size="13.3" text-anchor="middle" font-family="Liberation Serif" font-weight="bold" textLength="55.2" lengthAdjust="spacingAndGlyphs">Time(min)</text><text transform="translate(8 129.6) rotate(-90)" x="0" y="5.1" font-size="15" text-anchor="middle" font-family="Liberation Serif" font-weight="bold" textLength="77" lengthAdjust="spacingAndGlyphs">Removal%</text><text transform="translate(61.4 52.1) scale(0.7 1)" font-size="15" text-anchor="middle" font-family="Liberation Sans" font-weight="bold">a</text><path d="M386.3 203L376.6 40" stroke="#8c8c8c" stroke-width="0.9" fill="none"/><path d="M664.6 203.1L673.8 40" stroke="#8c8c8c" stroke-width="0.9" fill="none"/><path d="M525.4 158.4L525.5 11.3" stroke="#8c8c8c" stroke-width="0.9" fill="none"/><path d="M376.6 40L525.5 11.3" stroke="#8c8c8c" stroke-width="0.9" fill="none"/><path d="M525.5 11.3L673.8 40" stroke="#8c8c8c" stroke-width="0.9" fill="none"/><path d="M525.4 259.8L664.6 203.1L525.4 158.4L386.3 203Z" fill="#02fe08" stroke="#444" stroke-width="0.7"/><clipPath id="fcb"><path d="M525.4 259.8L664.6 203.1L525.4 158.4L386.3 203Z"/></clipPath><g clip-path="url(#fcb)"><path d="M405.8 211.1C408.5 210.4 416.8 208.2 421.9 206.7C427 205.2 431.6 203.9 436.5 202.3C441.4 200.7 446.2 199.3 451.1 197.2C456 195.1 461.3 192.4 465.7 189.9C470.1 187.4 474.2 184.5 477.4 181.9C480.6 179.3 483 176.6 484.7 174.6C486.4 172.6 487.1 170.9 487.6 170.2" fill="none" stroke="#187890" stroke-width="0.7" stroke-linejoin="round"/><path d="M447 228.6C451.3 227.4 464.2 224.2 473 221.3C481.8 218.4 492.6 214.6 500 211.3C507.4 208 512.6 204.4 517.5 201.4C522.4 198.4 525.7 196.1 529.2 193.2C532.7 190.3 536.1 187.2 538.6 183.9C541.1 180.6 543.2 176.5 544.4 173.4C545.6 170.3 545.4 166.6 545.6 165.2" fill="none" stroke="#20a0a0" stroke-width="0.7" stroke-linejoin="round"/></g><path d="M525.4 259.8L386.3 203" stroke="#111" stroke-width="0.9" fill="none"/><path d="M525.4 259.8L664.6 203.1" stroke="#111" stroke-width="0.9" fill="none"/><style>.b0{fill:#5ac83c}.b1{fill:#e1d23c}</style><g stroke="none"><path class="b0" d="M525.4 95.3l4.8-3.5-4.8 1-4.8 3.6zM520.7 98.7l4.8-3.4-4.8 1.1-4.8 3.5zM515.9 101.9l4.8-3.2-4.8 1.2-4.8 3.4zM511.1 105.1l4.8-3.1-4.8 1.3-4.8 3.2zM506.4 108.1l4.8-3-4.7 1.4-4.7 3.1zM501.6 111l4.7-2.9-4.7 1.5-4.7 3zM496.9 113.8l4.7-2.8-4.7 1.6-4.7 2.9zM492.1 116.5l4.7-2.7-4.7 1.7-4.7 2.8zM487.4 119.1l4.7-2.6-4.7 1.7-4.7 2.7zM482.7 121.7l4.7-2.5-4.7 1.8-4.7 2.5zM477.9 124.1l4.7-2.4-4.7 1.8-4.7 2.4zM473.2 126.4l4.7-2.3-4.7 1.8-4.7 2.3zM468.5 128.7l4.7-2.2-4.7 1.8-4.7 2.2zM463.8 130.8l4.7-2.2-4.6 1.8-4.7 2.2zM459.1 132.9l4.7-2.1-4.6 1.8-4.7 2.1zM454.3 134.9l4.7-2-4.6 1.8-4.7 2zM449.6 136.8l4.7-1.9-4.6 1.8-4.7 1.9zM444.9 138.7l4.7-1.9-4.6 1.7-4.7 1.8zM440.2 140.5l4.7-1.8-4.6 1.7-4.7 1.7zM435.5 142.2l4.7-1.7-4.6 1.6-4.7 1.7zM430.7 143.9l4.7-1.7-4.6 1.6-4.7 1.6zM426 145.5l4.7-1.6-4.6 1.5-4.7 1.5zM421.3 147.1l4.7-1.6-4.6 1.4-4.7 1.5zM416.6 148.6l4.7-1.5-4.6 1.3-4.7 1.4zM411.8 150.1l4.7-1.5-4.6 1.2-4.7 1.4zM407.1 151.5l4.7-1.4-4.6 1.1-4.7 1.3zM402.4 152.9l4.7-1.4-4.6 1-4.7 1.3zM397.6 154.2l4.7-1.4-4.6 .9-4.7 1.2zM392.9 155.6l4.7-1.3-4.6 .8-4.7 1.2zM388.2 156.9l4.7-1.3-4.6 .6-4.7 1.2zM530.2 94.2l4.8-3.4-4.8 1-4.8 3.5zM525.4 97.4l4.8-3.2-4.8 1.1-4.8 3.4zM520.7 100.6l4.8-3.1-4.8 1.2-4.8 3.2zM515.9 103.6l4.8-3-4.8 1.3-4.8 3.1zM511.1 106.6l4.8-2.9-4.8 1.4-4.8 3zM506.4 109.4l4.8-2.8-4.7 1.5-4.7 2.9zM501.6 112.2l4.8-2.7-4.7 1.6-4.7 2.8zM496.9 114.8l4.7-2.7-4.7 1.7-4.7 2.7zM492.1 117.4l4.7-2.6-4.7 1.7-4.7 2.6zM487.4 119.9l4.7-2.5-4.7 1.8-4.7 2.5zM482.6 122.3l4.7-2.4-4.7 1.8-4.7 2.4zM477.9 124.6l4.7-2.3-4.7 1.8-4.7 2.3zM473.2 126.8l4.7-2.2-4.7 1.8-4.7 2.2zM468.4 129l4.7-2.2-4.7 1.8-4.7 2.2zM463.7 131.1l4.7-2.1-4.7 1.8-4.7 2.1zM459 133.1l4.7-2-4.6 1.8-4.7 2zM454.2 135.1l4.7-2-4.6 1.8-4.7 1.9zM449.5 137l4.7-1.9-4.6 1.7-4.7 1.9zM444.8 138.9l4.7-1.8-4.6 1.7-4.7 1.8zM440.1 140.6l4.7-1.8-4.6 1.6-4.7 1.7zM435.3 142.4l4.7-1.7-4.6 1.6-4.7 1.7zM430.6 144.1l4.7-1.7-4.6 1.5-4.7 1.6zM425.9 145.7l4.7-1.6-4.6 1.4-4.7 1.6zM421.2 147.3l4.7-1.6-4.6 1.4-4.7 1.5zM416.4 148.9l4.7-1.6-4.6 1.3-4.7 1.5zM411.7 150.4l4.7-1.5-4.6 1.2-4.7 1.4zM407 151.9l4.7-1.5-4.6 1.1-4.7 1.4zM402.2 153.4l4.7-1.5-4.6 1-4.7 1.4zM397.5 154.8l4.7-1.5-4.6 .9-4.7 1.3zM392.8 156.3l4.7-1.4-4.6 .7-4.7 1.3zM535 93.1l4.8-3.2-4.8 1-4.8 3.4zM530.2 96.2l4.8-3.1-4.8 1.1-4.8 3.2zM525.4 99.2l4.8-3-4.8 1.2-4.8 3.1zM520.6 102.2l4.8-2.9-4.8 1.3-4.8 3zM515.9 105l4.8-2.9-4.8 1.4-4.8 2.9zM511.1 107.8l4.8-2.8-4.8 1.5-4.8 2.8zM506.3 110.5l4.8-2.7-4.7 1.6-4.8 2.7zM501.6 113.1l4.8-2.6-4.7 1.7-4.7 2.7zM496.8 115.6l4.8-2.5-4.7 1.7-4.7 2.6zM492.1 118.1l4.8-2.5-4.7 1.7-4.7 2.5zM487.3 120.5l4.7-2.4-4.7 1.8-4.7 2.4zM482.6 122.8l4.7-2.3-4.7 1.8-4.7 2.3zM477.8 125l4.7-2.2-4.7 1.8-4.7 2.2zM473.1 127.2l4.7-2.2-4.7 1.8-4.7 2.2zM468.4 129.3l4.7-2.1-4.7 1.8-4.7 2.1zM463.6 131.4l4.7-2.1-4.7 1.8-4.7 2zM458.9 133.4l4.7-2-4.7 1.8-4.7 2zM454.2 135.3l4.7-1.9-4.6 1.7-4.7 1.9zM449.4 137.2l4.7-1.9-4.6 1.7-4.7 1.8zM444.7 139.1l4.7-1.8-4.6 1.6-4.7 1.8zM440 140.9l4.7-1.8-4.6 1.6-4.7 1.7zM435.2 142.6l4.7-1.8-4.6 1.5-4.7 1.7zM430.5 144.3l4.7-1.7-4.6 1.5-4.7 1.6zM425.8 146l4.7-1.7-4.6 1.4-4.7 1.6zM421 147.7l4.7-1.7-4.6 1.3-4.7 1.6zM416.3 149.3l4.7-1.6-4.6 1.2-4.7 1.5zM411.6 150.9l4.7-1.6-4.6 1.1-4.7 1.5zM406.8 152.5l4.7-1.6-4.6 1-4.7 1.5zM402.1 154l4.7-1.6-4.6 .9-4.7 1.5zM397.4 155.5l4.7-1.5-4.6 .8-4.7 1.4zM539.8 91.9l4.8-3.1-4.8 1-4.8 3.2zM535 94.9l4.8-3-4.8 1.2-4.8 3.1zM530.2 97.9l4.8-2.9-4.8 1.3-4.8 3zM525.4 100.7l4.8-2.9-4.8 1.4-4.8 2.9zM520.6 103.5l4.8-2.8-4.8 1.4-4.8 2.9zM515.9 106.2l4.8-2.7-4.8 1.5-4.8 2.8zM511.1 108.9l4.8-2.6-4.8 1.6-4.8 2.7zM506.3 111.4l4.8-2.6-4.7 1.6-4.8 2.6zM501.5 113.9l4.8-2.5-4.7 1.7-4.8 2.5zM496.8 116.3l4.8-2.4-4.7 1.7-4.8 2.5zM492 118.7l4.8-2.4-4.7 1.8-4.7 2.4zM487.3 121l4.8-2.3-4.7 1.8-4.7 2.3zM482.5 123.2l4.7-2.2-4.7 1.8-4.7 2.2zM477.8 125.4l4.7-2.2-4.7 1.8-4.7 2.2zM473 127.6l4.7-2.1-4.7 1.8-4.7 2.1zM468.3 129.6l4.7-2.1-4.7 1.8-4.7 2.1zM463.6 131.7l4.7-2-4.7 1.7-4.7 2zM458.8 133.6l4.7-2-4.7 1.7-4.7 1.9zM454.1 135.6l4.7-1.9-4.7 1.7-4.7 1.9zM449.3 137.5l4.7-1.9-4.6 1.6-4.7 1.8zM444.6 139.3l4.7-1.9-4.6 1.6-4.7 1.8zM439.9 141.1l4.7-1.8-4.6 1.5-4.7 1.8zM435.1 142.9l4.7-1.8-4.6 1.5-4.7 1.7zM430.4 144.7l4.7-1.8-4.6 1.4-4.7 1.7zM425.7 146.4l4.7-1.7-4.6 1.3-4.7 1.7zM420.9 148.1l4.7-1.7-4.6 1.3-4.7 1.6zM416.2 149.8l4.7-1.7-4.6 1.2-4.7 1.6zM411.4 151.4l4.7-1.7-4.6 1.1-4.7 1.6zM406.7 153.1l4.7-1.6-4.6 1-4.7 1.6zM402 154.7l4.7-1.6-4.6 .9-4.7 1.5zM544.6 90.7l4.8-3-4.8 1.1-4.8 3.1zM539.8 93.6l4.8-2.9-4.8 1.2-4.8 3zM535 96.5l4.8-2.8-4.8 1.3-4.8 2.9zM530.2 99.3l4.8-2.8-4.8 1.4-4.8 2.9zM525.4 102l4.8-2.7-4.8 1.5-4.8 2.8zM520.6 104.6l4.8-2.6-4.8 1.5-4.8 2.7zM515.8 107.2l4.8-2.6-4.8 1.6-4.8 2.6zM511.1 109.7l4.8-2.5-4.8 1.6-4.8 2.6zM506.3 112.2l4.8-2.5-4.7 1.7-4.8 2.5zM501.5 114.6l4.8-2.4-4.7 1.7-4.8 2.4zM496.8 116.9l4.8-2.3-4.7 1.7-4.8 2.4zM492 119.2l4.8-2.3-4.7 1.8-4.8 2.3zM487.2 121.5l4.8-2.2-4.7 1.8-4.7 2.2zM482.5 123.7l4.8-2.2-4.7 1.8-4.7 2.2zM477.7 125.8l4.8-2.1-4.7 1.8-4.7 2.1zM473 127.9l4.8-2.1-4.7 1.8-4.7 2.1zM468.2 129.9l4.7-2.1-4.7 1.7-4.7 2zM463.5 132l4.7-2-4.7 1.7-4.7 2zM458.7 133.9l4.7-2-4.7 1.7-4.7 1.9zM454 135.9l4.7-1.9-4.7 1.6-4.7 1.9zM449.2 137.8l4.7-1.9-4.7 1.6-4.7 1.9zM444.5 139.6l4.7-1.9-4.6 1.5-4.7 1.8zM439.8 141.5l4.7-1.8-4.6 1.5-4.7 1.8zM435 143.3l4.7-1.8-4.6 1.4-4.7 1.8zM430.3 145.1l4.7-1.8-4.6 1.4-4.7 1.7zM425.5 146.9l4.7-1.8-4.6 1.3-4.7 1.7zM420.8 148.6l4.7-1.8-4.6 1.2-4.7 1.7zM416.1 150.3l4.7-1.7-4.6 1.2-4.7 1.7zM411.3 152.1l4.7-1.7-4.6 1.1-4.7 1.6zM406.6 153.8l4.7-1.7-4.6 1-4.7 1.6zM549.4 89.5l4.8-2.9-4.8 1.1-4.8 3zM544.6 92.3l4.8-2.8-4.8 1.2-4.8 2.9zM539.8 95.1l4.8-2.8-4.8 1.3-4.8 2.8zM535 97.8l4.8-2.7-4.8 1.4-4.8 2.8zM530.2 100.5l4.8-2.6-4.8 1.5-4.8 2.7zM525.4 103l4.8-2.6-4.8 1.5-4.8 2.6zM520.6 105.6l4.8-2.5-4.8 1.6-4.8 2.6zM515.8 108.1l4.8-2.5-4.8 1.6-4.8 2.5zM511 110.5l4.8-2.4-4.8 1.7-4.8 2.5zM506.3 112.9l4.8-2.4-4.8 1.7-4.8 2.4zM501.5 115.2l4.8-2.3-4.7 1.7-4.8 2.3zM496.7 117.5l4.8-2.3-4.7 1.7-4.8 2.3zM491.9 119.7l4.8-2.2-4.7 1.8-4.8 2.2zM487.2 121.9l4.8-2.2-4.7 1.8-4.8 2.2zM482.4 124.1l4.8-2.2-4.7 1.8-4.8 2.1zM477.7 126.2l4.8-2.1-4.7 1.7-4.8 2.1zM472.9 128.2l4.8-2.1-4.7 1.7-4.7 2.1zM468.2 130.3l4.8-2-4.7 1.7-4.7 2zM463.4 132.3l4.8-2-4.7 1.7-4.7 2zM458.6 134.3l4.8-2-4.7 1.6-4.7 1.9zM453.9 136.2l4.8-1.9-4.7 1.6-4.7 1.9zM449.1 138.1l4.7-1.9-4.7 1.6-4.7 1.9zM444.4 140l4.7-1.9-4.7 1.5-4.7 1.8zM439.7 141.9l4.7-1.9-4.6 1.5-4.7 1.8zM434.9 143.7l4.7-1.8-4.6 1.4-4.7 1.8zM430.2 145.6l4.7-1.8-4.6 1.3-4.7 1.8zM425.4 147.4l4.7-1.8-4.6 1.3-4.7 1.8zM420.7 149.2l4.7-1.8-4.6 1.2-4.7 1.7zM415.9 151l4.7-1.8-4.6 1.2-4.7 1.7zM411.2 152.7l4.7-1.8-4.6 1.1-4.7 1.7zM554.3 88.3l4.8-2.8-4.8 1.1-4.8 2.9zM549.4 91l4.8-2.7-4.8 1.2-4.8 2.8zM544.6 93.7l4.8-2.7-4.8 1.3-4.8 2.8zM539.8 96.3l4.8-2.6-4.8 1.4-4.8 2.7zM535 98.9l4.8-2.6-4.8 1.5-4.8 2.6zM530.2 101.5l4.8-2.5-4.8 1.5-4.8 2.6z"/><path class="b1" d="M525.4 103.9l4.8-2.5-4.8 1.6-4.8 2.5zM520.6 106.4l4.8-2.4-4.8 1.6-4.8 2.5zM515.8 108.8l4.8-2.4-4.8 1.7-4.8 2.4zM511 111.1l4.8-2.4-4.8 1.7-4.8 2.4zM506.2 113.5l4.8-2.3-4.8 1.7-4.8 2.3zM501.5 115.7l4.8-2.3-4.7 1.7-4.8 2.3zM496.7 118l4.8-2.2-4.7 1.7-4.8 2.2zM491.9 120.2l4.8-2.2-4.7 1.7-4.8 2.2zM487.1 122.3l4.8-2.2-4.7 1.7-4.8 2.2zM482.4 124.5l4.8-2.1-4.7 1.7-4.8 2.1zM477.6 126.6l4.8-2.1-4.7 1.7-4.8 2.1zM472.8 128.6l4.8-2.1-4.7 1.7-4.8 2zM468.1 130.7l4.8-2-4.7 1.7-4.8 2zM463.3 132.7l4.8-2-4.7 1.6-4.8 2zM458.6 134.6l4.8-2-4.7 1.6-4.8 1.9zM453.8 136.6l4.8-2-4.7 1.6-4.7 1.9zM449.1 138.5l4.8-1.9-4.7 1.5-4.7 1.9zM444.3 140.5l4.8-1.9-4.7 1.5-4.7 1.9zM439.6 142.3l4.8-1.9-4.7 1.4-4.7 1.8zM434.8 144.2l4.7-1.9-4.6 1.4-4.7 1.8zM430.1 146.1l4.7-1.9-4.6 1.3-4.7 1.8zM425.3 147.9l4.7-1.8-4.6 1.3-4.7 1.8zM420.6 149.8l4.7-1.8-4.6 1.2-4.7 1.8zM415.8 151.6l4.7-1.8-4.6 1.2-4.7 1.8z"/><path class="b0" d="M559.1 87l4.8-2.7-4.8 1.2-4.8 2.8zM554.3 89.6l4.8-2.7-4.8 1.3-4.8 2.7zM549.4 92.3l4.8-2.6-4.8 1.4-4.8 2.7zM544.6 94.8l4.8-2.6-4.8 1.4-4.8 2.6zM539.8 97.4l4.8-2.5-4.8 1.5-4.8 2.6zM535 99.9l4.8-2.5-4.8 1.5-4.8 2.5z"/><path class="b1" d="M530.2 102.3l4.8-2.5-4.8 1.6-4.8 2.5zM525.4 104.7l4.8-2.4-4.8 1.6-4.8 2.4zM520.6 107.1l4.8-2.4-4.8 1.7-4.8 2.4zM515.8 109.4l4.8-2.3-4.8 1.7-4.8 2.4zM511 111.7l4.8-2.3-4.8 1.7-4.8 2.3zM506.2 114l4.8-2.3-4.8 1.7-4.8 2.3zM501.4 116.2l4.8-2.2-4.8 1.7-4.8 2.2zM496.6 118.4l4.8-2.2-4.7 1.7-4.8 2.2zM491.9 120.6l4.8-2.2-4.7 1.7-4.8 2.2zM487.1 122.8l4.8-2.1-4.7 1.7-4.8 2.1zM482.3 124.9l4.8-2.1-4.7 1.7-4.8 2.1zM477.5 127l4.8-2.1-4.7 1.7-4.8 2.1zM472.8 129l4.8-2.1-4.7 1.7-4.8 2zM468 131.1l4.8-2-4.7 1.6-4.8 2zM463.2 133.1l4.8-2-4.7 1.6-4.8 2zM458.5 135.1l4.8-2-4.7 1.6-4.8 2zM453.7 137l4.8-2-4.7 1.5-4.8 1.9zM449 139l4.8-2-4.7 1.5-4.8 1.9zM444.2 140.9l4.8-1.9-4.7 1.5-4.8 1.9zM439.5 142.8l4.8-1.9-4.7 1.4-4.7 1.9zM434.7 144.8l4.8-1.9-4.6 1.4-4.7 1.9zM429.9 146.6l4.8-1.9-4.6 1.3-4.7 1.8zM425.2 148.5l4.8-1.9-4.6 1.3-4.7 1.8zM420.4 150.4l4.7-1.9-4.6 1.3-4.7 1.8z"/><path class="b0" d="M564 85.7l4.9-2.6-4.9 1.2-4.8 2.7zM559.1 88.3l4.8-2.6-4.9 1.3-4.8 2.7zM554.3 90.8l4.8-2.6-4.8 1.4-4.8 2.6zM549.4 93.3l4.8-2.5-4.8 1.4-4.8 2.6zM544.6 95.8l4.8-2.5-4.8 1.5-4.8 2.5zM539.8 98.3l4.8-2.5-4.8 1.6-4.8 2.5z"/><path class="b1" d="M535 100.7l4.8-2.4-4.8 1.6-4.8 2.5zM530.2 103.1l4.8-2.4-4.8 1.6-4.8 2.4zM525.4 105.4l4.8-2.4-4.8 1.7-4.8 2.4zM520.6 107.7l4.8-2.3-4.8 1.7-4.8 2.3zM515.8 110l4.8-2.3-4.8 1.7-4.8 2.3zM511 112.3l4.8-2.3-4.8 1.7-4.8 2.3zM506.2 114.5l4.8-2.2-4.8 1.7-4.8 2.2zM501.4 116.7l4.8-2.2-4.8 1.7-4.8 2.2zM496.6 118.9l4.8-2.2-4.7 1.7-4.8 2.2zM491.8 121.1l4.8-2.2-4.7 1.7-4.8 2.1zM487 123.2l4.8-2.1-4.7 1.7-4.8 2.1zM482.3 125.3l4.8-2.1-4.7 1.7-4.8 2.1zM477.5 127.4l4.8-2.1-4.7 1.6-4.8 2.1zM472.7 129.5l4.8-2.1-4.7 1.6-4.8 2zM467.9 131.5l4.8-2-4.7 1.6-4.8 2zM463.2 133.5l4.8-2-4.7 1.6-4.8 2zM458.4 135.5l4.8-2-4.7 1.5-4.8 2zM453.6 137.5l4.8-2-4.7 1.5-4.8 2zM448.9 139.5l4.8-2-4.7 1.5-4.8 1.9zM444.1 141.4l4.8-2-4.7 1.4-4.8 1.9zM439.4 143.4l4.8-1.9-4.7 1.4-4.8 1.9zM434.6 145.3l4.8-1.9-4.7 1.4-4.8 1.9zM429.8 147.2l4.8-1.9-4.6 1.3-4.8 1.9zM425.1 149.1l4.8-1.9-4.6 1.3-4.7 1.9z"/><path class="b0" d="M568.8 84.3l4.9-2.6-4.9 1.3-4.9 2.6zM564 86.8l4.9-2.5-4.9 1.4-4.8 2.6zM559.1 89.3l4.8-2.5-4.9 1.4-4.8 2.6zM554.3 91.8l4.8-2.5-4.8 1.5-4.8 2.5zM549.5 94.3l4.8-2.4-4.8 1.5-4.8 2.5zM544.6 96.7l4.8-2.4-4.8 1.6-4.8 2.5z"/><path class="b1" d="M539.8 99.1l4.8-2.4-4.8 1.6-4.8 2.4zM535 101.4l4.8-2.4-4.8 1.6-4.8 2.4zM530.2 103.7l4.8-2.3-4.8 1.7-4.8 2.4zM525.4 106.1l4.8-2.3-4.8 1.7-4.8 2.3zM520.5 108.3l4.8-2.3-4.8 1.7-4.8 2.3zM515.7 110.6l4.8-2.3-4.8 1.7-4.8 2.3zM510.9 112.8l4.8-2.2-4.8 1.7-4.8 2.2zM506.1 115.1l4.8-2.2-4.8 1.7-4.8 2.2zM501.3 117.2l4.8-2.2-4.8 1.7-4.8 2.2zM496.6 119.4l4.8-2.2-4.8 1.7-4.8 2.2zM491.8 121.6l4.8-2.1-4.7 1.7-4.8 2.1zM487 123.7l4.8-2.1-4.7 1.7-4.8 2.1zM482.2 125.8l4.8-2.1-4.7 1.6-4.8 2.1zM477.4 127.9l4.8-2.1-4.7 1.6-4.8 2.1zM472.6 129.9l4.8-2.1-4.7 1.6-4.8 2zM467.9 132l4.8-2-4.7 1.6-4.8 2zM463.1 134l4.8-2-4.7 1.6-4.8 2zM458.3 136l4.8-2-4.7 1.5-4.8 2zM453.6 138l4.8-2-4.7 1.5-4.8 2zM448.8 140l4.8-2-4.7 1.5-4.8 2zM444 141.9l4.8-2-4.7 1.4-4.8 1.9zM439.3 143.9l4.8-1.9-4.7 1.4-4.8 1.9zM434.5 145.8l4.8-1.9-4.7 1.4-4.8 1.9zM429.7 147.7l4.8-1.9-4.7 1.4-4.8 1.9z"/><path class="b0" d="M573.7 82.9l4.9-2.5-4.9 1.3-4.9 2.6zM568.8 85.4l4.9-2.5-4.9 1.4-4.9 2.5zM564 87.8l4.9-2.4-4.9 1.4-4.8 2.5zM559.1 90.3l4.8-2.4-4.9 1.5-4.8 2.5zM554.3 92.7l4.8-2.4-4.9 1.5-4.8 2.4zM549.5 95.1l4.8-2.4-4.8 1.6-4.8 2.4z"/><path class="b1" d="M544.6 97.4l4.8-2.4-4.8 1.6-4.8 2.4zM539.8 99.8l4.8-2.3-4.8 1.6-4.8 2.4zM535 102.1l4.8-2.3-4.8 1.6-4.8 2.3zM530.2 104.4l4.8-2.3-4.8 1.7-4.8 2.3zM525.3 106.7l4.8-2.3-4.8 1.7-4.8 2.3zM520.5 108.9l4.8-2.3-4.8 1.7-4.8 2.3zM515.7 111.2l4.8-2.2-4.8 1.7-4.8 2.2zM510.9 113.4l4.8-2.2-4.8 1.7-4.8 2.2zM506.1 115.6l4.8-2.2-4.8 1.7-4.8 2.2zM501.3 117.8l4.8-2.2-4.8 1.7-4.8 2.2zM496.5 119.9l4.8-2.2-4.8 1.7-4.8 2.1zM491.7 122l4.8-2.1-4.7 1.6-4.8 2.1zM486.9 124.2l4.8-2.1-4.7 1.6-4.8 2.1zM482.1 126.3l4.8-2.1-4.7 1.6-4.8 2.1zM477.4 128.4l4.8-2.1-4.7 1.6-4.8 2.1zM472.6 130.4l4.8-2.1-4.7 1.6-4.8 2zM467.8 132.5l4.8-2-4.7 1.6-4.8 2zM463 134.5l4.8-2-4.7 1.5-4.8 2zM458.2 136.5l4.8-2-4.7 1.5-4.8 2zM453.5 138.5l4.8-2-4.7 1.5-4.8 2zM448.7 140.5l4.8-2-4.7 1.5-4.8 2zM443.9 142.4l4.8-2-4.7 1.5-4.8 1.9zM439.2 144.4l4.8-1.9-4.7 1.4-4.8 1.9zM434.4 146.3l4.8-1.9-4.7 1.4-4.8 1.9z"/><path class="b0" d="M578.6 81.5l4.9-2.4-4.9 1.4-4.9 2.5zM573.7 83.9l4.9-2.4-4.9 1.4-4.9 2.5zM568.9 86.3l4.9-2.4-4.9 1.5-4.9 2.4zM564 88.7l4.9-2.4-4.9 1.5-4.8 2.4zM559.2 91.1l4.8-2.4-4.9 1.6-4.8 2.4zM554.3 93.5l4.8-2.4-4.9 1.6-4.8 2.4z"/><path class="b1" d="M549.5 95.8l4.8-2.3-4.8 1.6-4.8 2.4zM544.6 98.1l4.8-2.3-4.8 1.6-4.8 2.3zM539.8 100.4l4.8-2.3-4.8 1.6-4.8 2.3zM535 102.7l4.8-2.3-4.8 1.7-4.8 2.3zM530.1 105l4.8-2.3-4.8 1.7-4.8 2.3zM525.3 107.3l4.8-2.3-4.8 1.7-4.8 2.3zM520.5 109.5l4.8-2.2-4.8 1.7-4.8 2.2zM515.7 111.7l4.8-2.2-4.8 1.7-4.8 2.2zM510.9 113.9l4.8-2.2-4.8 1.7-4.8 2.2zM506.1 116.1l4.8-2.2-4.8 1.7-4.8 2.2zM501.3 118.3l4.8-2.2-4.8 1.6-4.8 2.2zM496.5 120.4l4.8-2.2-4.8 1.6-4.8 2.1zM491.7 122.6l4.8-2.1-4.8 1.6-4.8 2.1zM486.9 124.7l4.8-2.1-4.7 1.6-4.8 2.1zM482.1 126.8l4.8-2.1-4.7 1.6-4.8 2.1zM477.3 128.9l4.8-2.1-4.7 1.6-4.8 2.1zM472.5 130.9l4.8-2.1-4.7 1.6-4.8 2zM467.7 133l4.8-2-4.7 1.5-4.8 2zM462.9 135l4.8-2-4.7 1.5-4.8 2zM458.2 137l4.8-2-4.7 1.5-4.8 2zM453.4 139l4.8-2-4.7 1.5-4.8 2zM448.6 141l4.8-2-4.7 1.5-4.8 2zM443.8 142.9l4.8-2-4.7 1.5-4.8 1.9zM439 144.9l4.8-1.9-4.7 1.5-4.8 1.9z"/><path class="b0" d="M583.5 80l4.9-2.4-4.9 1.4-4.9 2.4zM578.6 82.4l4.9-2.4-4.9 1.5-4.9 2.4zM573.7 84.8l4.9-2.4-4.9 1.5-4.9 2.4zM568.9 87.1l4.9-2.4-4.9 1.5-4.9 2.4zM564 89.5l4.9-2.4-4.9 1.6-4.8 2.4zM559.2 91.8l4.9-2.3-4.9 1.6-4.8 2.4z"/><path class="b1" d="M554.3 94.2l4.8-2.3-4.9 1.6-4.8 2.3zM549.5 96.5l4.8-2.3-4.8 1.6-4.8 2.3zM544.6 98.8l4.8-2.3-4.8 1.6-4.8 2.3zM539.8 101.1l4.8-2.3-4.8 1.6-4.8 2.3zM535 103.3l4.8-2.3-4.8 1.7-4.8 2.3zM530.1 105.6l4.8-2.3-4.8 1.7-4.8 2.3zM525.3 107.8l4.8-2.2-4.8 1.7-4.8 2.2zM520.5 110.1l4.8-2.2-4.8 1.7-4.8 2.2zM515.7 112.3l4.8-2.2-4.8 1.6-4.8 2.2zM510.9 114.5l4.8-2.2-4.8 1.6-4.8 2.2zM506 116.7l4.8-2.2-4.8 1.6-4.8 2.2zM501.2 118.8l4.8-2.2-4.8 1.6-4.8 2.2zM496.4 121l4.8-2.1-4.8 1.6-4.8 2.1zM491.6 123.1l4.8-2.1-4.8 1.6-4.8 2.1zM486.8 125.2l4.8-2.1-4.7 1.6-4.8 2.1zM482 127.3l4.8-2.1-4.7 1.6-4.8 2.1zM477.2 129.4l4.8-2.1-4.7 1.6-4.8 2.1zM472.4 131.4l4.8-2.1-4.7 1.6-4.8 2zM467.7 133.5l4.8-2-4.7 1.5-4.8 2zM462.9 135.5l4.8-2-4.7 1.5-4.8 2zM458.1 137.5l4.8-2-4.7 1.5-4.8 2zM453.3 139.4l4.8-2-4.7 1.5-4.8 2zM448.5 141.4l4.8-2-4.7 1.5-4.8 2zM443.7 143.3l4.8-1.9-4.7 1.5-4.8 1.9z"/><path class="b0" d="M588.4 78.5l4.9-2.4-4.9 1.5-4.9 2.4zM583.5 80.8l4.9-2.4-4.9 1.5-4.9 2.4zM578.6 83.2l4.9-2.4-4.9 1.6-4.9 2.4zM573.8 85.5l4.9-2.3-4.9 1.6-4.9 2.4zM568.9 87.9l4.9-2.3-4.9 1.6-4.9 2.4zM564 90.2l4.9-2.3-4.9 1.6-4.9 2.3z"/><path class="b1" d="M559.2 92.5l4.9-2.3-4.9 1.6-4.8 2.3zM554.3 94.8l4.9-2.3-4.9 1.6-4.8 2.3zM549.5 97.1l4.8-2.3-4.9 1.6-4.8 2.3zM544.6 99.4l4.8-2.3-4.8 1.6-4.8 2.3zM539.8 101.7l4.8-2.3-4.8 1.6-4.8 2.3zM535 104l4.8-2.3-4.8 1.6-4.8 2.3zM530.1 106.2l4.8-2.2-4.8 1.6-4.8 2.2zM525.3 108.4l4.8-2.2-4.8 1.6-4.8 2.2zM520.5 110.7l4.8-2.2-4.8 1.6-4.8 2.2zM515.6 112.9l4.8-2.2-4.8 1.6-4.8 2.2zM510.8 115l4.8-2.2-4.8 1.6-4.8 2.2zM506 117.2l4.8-2.2-4.8 1.6-4.8 2.2zM501.2 119.4l4.8-2.2-4.8 1.6-4.8 2.1zM496.4 121.5l4.8-2.1-4.8 1.6-4.8 2.1zM491.6 123.6l4.8-2.1-4.8 1.6-4.8 2.1zM486.8 125.7l4.8-2.1-4.8 1.6-4.8 2.1zM482 127.8l4.8-2.1-4.7 1.6-4.8 2.1zM477.2 129.9l4.8-2.1-4.7 1.6-4.8 2.1zM472.4 131.9l4.8-2-4.7 1.6-4.8 2zM467.6 133.9l4.8-2-4.7 1.6-4.8 2zM462.8 135.9l4.8-2-4.7 1.5-4.8 2zM458 137.9l4.8-2-4.7 1.5-4.8 2zM453.2 139.9l4.8-2-4.7 1.5-4.8 2zM448.4 141.8l4.8-1.9-4.7 1.6-4.8 1.9z"/><path class="b0" d="M593.3 76.9l4.9-2.4-4.9 1.6-4.9 2.4zM588.4 79.3l4.9-2.3-4.9 1.6-4.9 2.4zM583.5 81.6l4.9-2.3-4.9 1.6-4.9 2.4zM578.6 83.9l4.9-2.3-4.9 1.6-4.9 2.3zM573.8 86.3l4.9-2.3-4.9 1.6-4.9 2.3zM568.9 88.6l4.9-2.3-4.9 1.6-4.9 2.3z"/><path class="b1" d="M564 90.9l4.9-2.3-4.9 1.6-4.9 2.3zM559.2 93.2l4.9-2.3-4.9 1.6-4.9 2.3zM554.3 95.5l4.9-2.3-4.9 1.6-4.8 2.3zM549.5 97.8l4.9-2.3-4.9 1.6-4.8 2.3zM544.6 100.1l4.8-2.3-4.8 1.6-4.8 2.3zM539.8 102.3l4.8-2.3-4.8 1.6-4.8 2.3zM534.9 104.6l4.8-2.3-4.8 1.6-4.8 2.2zM530.1 106.8l4.8-2.2-4.8 1.6-4.8 2.2zM525.3 109l4.8-2.2-4.8 1.6-4.8 2.2zM520.4 111.2l4.8-2.2-4.8 1.6-4.8 2.2zM515.6 113.4l4.8-2.2-4.8 1.6-4.8 2.2zM510.8 115.6l4.8-2.2-4.8 1.6-4.8 2.2zM506 117.8l4.8-2.2-4.8 1.6-4.8 2.2zM501.2 119.9l4.8-2.1-4.8 1.6-4.8 2.1zM496.3 122l4.8-2.1-4.8 1.6-4.8 2.1zM491.5 124.2l4.8-2.1-4.8 1.6-4.8 2.1zM486.7 126.2l4.8-2.1-4.8 1.6-4.8 2.1zM481.9 128.3l4.8-2.1-4.7 1.6-4.8 2.1zM477.1 130.3l4.8-2-4.7 1.6-4.8 2zM472.3 132.4l4.8-2-4.7 1.6-4.8 2zM467.5 134.4l4.8-2-4.7 1.6-4.8 2zM462.7 136.3l4.8-2-4.7 1.6-4.8 2zM457.9 138.3l4.8-1.9-4.7 1.6-4.8 2zM453.1 140.2l4.8-1.9-4.7 1.6-4.8 1.9z"/><path class="b0" d="M598.2 75.3l4.9-2.3-4.9 1.6-4.9 2.4zM593.3 77.6l4.9-2.3-4.9 1.6-4.9 2.3zM588.4 80l4.9-2.3-4.9 1.6-4.9 2.3zM583.6 82.3l4.9-2.3-4.9 1.6-4.9 2.3zM578.7 84.6l4.9-2.3-4.9 1.6-4.9 2.3zM573.8 86.9l4.9-2.3-4.9 1.6-4.9 2.3z"/><path class="b1" d="M568.9 89.3l4.9-2.3-4.9 1.6-4.9 2.3zM564.1 91.6l4.9-2.3-4.9 1.6-4.9 2.3zM559.2 93.9l4.9-2.3-4.9 1.6-4.9 2.3zM554.3 96.2l4.9-2.3-4.9 1.6-4.9 2.3zM549.5 98.4l4.9-2.3-4.9 1.6-4.8 2.3zM544.6 100.7l4.9-2.3-4.9 1.6-4.8 2.3zM539.8 103l4.8-2.3-4.8 1.6-4.8 2.3zM534.9 105.2l4.8-2.2-4.8 1.6-4.8 2.2zM530.1 107.4l4.8-2.2-4.8 1.6-4.8 2.2zM525.3 109.7l4.8-2.2-4.8 1.6-4.8 2.2zM520.4 111.9l4.8-2.2-4.8 1.6-4.8 2.2zM515.6 114l4.8-2.2-4.8 1.6-4.8 2.2zM510.8 116.2l4.8-2.2-4.8 1.6-4.8 2.2zM505.9 118.4l4.8-2.1-4.8 1.6-4.8 2.1zM501.1 120.5l4.8-2.1-4.8 1.6-4.8 2.1zM496.3 122.6l4.8-2.1-4.8 1.6-4.8 2.1zM491.5 124.7l4.8-2.1-4.8 1.6-4.8 2.1zM486.7 126.7l4.8-2.1-4.8 1.6-4.8 2.1zM481.9 128.8l4.8-2-4.8 1.6-4.8 2zM477 130.8l4.8-2-4.7 1.6-4.8 2zM472.2 132.8l4.8-2-4.7 1.6-4.8 2zM467.4 134.7l4.8-2-4.7 1.6-4.8 2zM462.6 136.7l4.8-1.9-4.7 1.6-4.8 1.9zM457.8 138.6l4.8-1.9-4.7 1.6-4.8 1.9zM603.2 73.6l4.9-2.4-4.9 1.7-4.9 2.3zM598.3 75.9l4.9-2.3-4.9 1.7-4.9 2.3zM593.4 78.3l4.9-2.3-4.9 1.7-4.9 2.3zM588.5 80.6l4.9-2.3-4.9 1.7-4.9 2.3zM583.6 83l4.9-2.3-4.9 1.7-4.9 2.3zM578.7 85.3l4.9-2.3-4.9 1.7-4.9 2.3zM573.8 87.6l4.9-2.3-4.9 1.7-4.9 2.3zM568.9 89.9l4.9-2.3-4.9 1.6-4.9 2.3zM564.1 92.2l4.9-2.3-4.9 1.6-4.9 2.3zM559.2 94.5l4.9-2.3-4.9 1.6-4.9 2.3zM554.3 96.8l4.9-2.3-4.9 1.6-4.9 2.3zM549.5 99.1l4.9-2.3-4.9 1.6-4.9 2.3zM544.6 101.4l4.9-2.3-4.9 1.6-4.8 2.3zM539.8 103.6l4.9-2.3-4.8 1.6-4.8 2.2zM534.9 105.9l4.8-2.2-4.8 1.6-4.8 2.2zM530.1 108.1l4.8-2.2-4.8 1.6-4.8 2.2zM525.2 110.3l4.8-2.2-4.8 1.6-4.8 2.2zM520.4 112.5l4.8-2.2-4.8 1.6-4.8 2.2zM515.6 114.6l4.8-2.2-4.8 1.6-4.8 2.2zM510.7 116.8l4.8-2.1-4.8 1.6-4.8 2.1zM505.9 118.9l4.8-2.1-4.8 1.6-4.8 2.1zM501.1 121l4.8-2.1-4.8 1.6-4.8 2.1zM496.3 123.1l4.8-2.1-4.8 1.6-4.8 2.1zM491.4 125.2l4.8-2.1-4.8 1.6-4.8 2.1zM486.6 127.2l4.8-2-4.8 1.6-4.8 2zM481.8 129.2l4.8-2-4.8 1.6-4.8 2zM477 131.2l4.8-2-4.7 1.6-4.8 2zM472.2 133.1l4.8-2-4.7 1.6-4.8 2zM467.3 135.1l4.8-1.9-4.7 1.6-4.8 1.9zM462.5 137l4.8-1.9-4.7 1.6-4.8 1.9zM608.1 71.8l4.9-2.4-5 1.8-4.9 2.4zM603.2 74.2l4.9-2.4-5 1.7-4.9 2.3zM598.3 76.6l4.9-2.4-4.9 1.7-4.9 2.3zM593.4 78.9l4.9-2.4-4.9 1.7-4.9 2.3zM588.5 81.3l4.9-2.4-4.9 1.7-4.9 2.3zM583.6 83.6l4.9-2.3-4.9 1.7-4.9 2.3zM578.7 86l4.9-2.3-4.9 1.7-4.9 2.3zM573.8 88.3l4.9-2.3-4.9 1.7-4.9 2.3zM569 90.6l4.9-2.3-4.9 1.6-4.9 2.3zM564.1 92.9l4.9-2.3-4.9 1.6-4.9 2.3zM559.2 95.2l4.9-2.3-4.9 1.6-4.9 2.3zM554.3 97.5l4.9-2.3-4.9 1.6-4.9 2.3zM549.5 99.8l4.9-2.3-4.9 1.6-4.9 2.3zM544.6 102l4.9-2.3-4.9 1.6-4.9 2.3zM539.8 104.3l4.9-2.2-4.8 1.6-4.8 2.2zM534.9 106.5l4.9-2.2-4.8 1.6-4.8 2.2zM530.1 108.7l4.8-2.2-4.8 1.6-4.8 2.2zM525.2 110.9l4.8-2.2-4.8 1.6-4.8 2.2zM520.4 113.1l4.8-2.2-4.8 1.6-4.8 2.2zM515.5 115.2l4.8-2.1-4.8 1.6-4.8 2.1zM510.7 117.4l4.8-2.1-4.8 1.6-4.8 2.1zM505.9 119.5l4.8-2.1-4.8 1.6-4.8 2.1zM501 121.5l4.8-2.1-4.8 1.6-4.8 2.1zM496.2 123.6l4.8-2.1-4.8 1.6-4.8 2.1zM491.4 125.6l4.8-2-4.8 1.6-4.8 2zM486.6 127.6l4.8-2-4.8 1.6-4.8 2zM481.7 129.6l4.8-2-4.8 1.6-4.8 2zM476.9 131.5l4.8-1.9-4.8 1.6-4.8 2zM472.1 133.4l4.8-1.9-4.7 1.6-4.8 1.9zM467.3 135.3l4.8-1.9-4.7 1.6-4.8 1.9zM613.1 70l4.9-2.4-5 1.8-4.9 2.4zM608.2 72.4l4.9-2.4-5 1.8-4.9 2.4zM603.2 74.8l4.9-2.4-5 1.8-4.9 2.4zM598.3 77.2l4.9-2.4-4.9 1.7-4.9 2.4zM593.4 79.6l4.9-2.4-4.9 1.7-4.9 2.4zM588.5 81.9l4.9-2.4-4.9 1.7-4.9 2.3zM583.6 84.3l4.9-2.4-4.9 1.7-4.9 2.3zM578.7 86.7l4.9-2.3-4.9 1.7-4.9 2.3zM573.9 89l4.9-2.3-4.9 1.6-4.9 2.3zM569 91.3l4.9-2.3-4.9 1.6-4.9 2.3zM564.1 93.6l4.9-2.3-4.9 1.6-4.9 2.3zM559.2 95.9l4.9-2.3-4.9 1.6-4.9 2.3zM554.4 98.2l4.9-2.3-4.9 1.6-4.9 2.3zM549.5 100.5l4.9-2.3-4.9 1.6-4.9 2.3zM544.6 102.7l4.9-2.2-4.9 1.6-4.9 2.2zM539.8 105l4.9-2.2-4.9 1.6-4.9 2.2zM534.9 107.2l4.9-2.2-4.8 1.6-4.8 2.2zM530.1 109.4l4.9-2.2-4.8 1.5-4.8 2.2zM525.2 111.5l4.9-2.2-4.8 1.5-4.8 2.2zM520.4 113.7l4.8-2.1-4.8 1.5-4.8 2.1zM515.5 115.8l4.8-2.1-4.8 1.5-4.8 2.1zM510.7 117.9l4.8-2.1-4.8 1.5-4.8 2.1zM505.8 120l4.8-2.1-4.8 1.6-4.8 2.1zM501 122l4.8-2-4.8 1.6-4.8 2.1zM496.2 124.1l4.8-2-4.8 1.6-4.8 2zM491.3 126l4.8-2-4.8 1.6-4.8 2zM486.5 128l4.8-2-4.8 1.6-4.8 2zM481.7 129.9l4.8-1.9-4.8 1.6-4.8 1.9zM476.8 131.8l4.8-1.9-4.8 1.6-4.8 1.9zM472 133.7l4.8-1.9-4.7 1.6-4.8 1.9zM618.1 68.2l4.9-2.4-5 1.9-4.9 2.4zM613.1 70.6l4.9-2.4-5 1.9-4.9 2.4zM608.2 73l4.9-2.4-5 1.8-4.9 2.4zM603.3 75.5l4.9-2.4-5 1.8-4.9 2.4zM598.4 77.9l4.9-2.4-4.9 1.8-4.9 2.4zM593.5 80.3l4.9-2.4-4.9 1.7-4.9 2.4zM588.6 82.6l4.9-2.4-4.9 1.7-4.9 2.4zM583.7 85l4.9-2.4-4.9 1.7-4.9 2.3zM578.8 87.4l4.9-2.4-4.9 1.6-4.9 2.3zM573.9 89.7l4.9-2.3-4.9 1.6-4.9 2.3zM569 92l4.9-2.3-4.9 1.6-4.9 2.3zM564.1 94.4l4.9-2.3-4.9 1.6-4.9 2.3zM559.2 96.6l4.9-2.3-4.9 1.6-4.9 2.3zM554.4 98.9l4.9-2.3-4.9 1.6-4.9 2.3zM549.5 101.2l4.9-2.3-4.9 1.6-4.9 2.2zM544.6 103.4l4.9-2.2-4.9 1.5-4.9 2.2zM539.8 105.6l4.9-2.2-4.9 1.5-4.9 2.2zM534.9 107.8l4.9-2.2-4.8 1.5-4.9 2.2zM530 110l4.9-2.2-4.8 1.5-4.9 2.2zM525.2 112.1l4.9-2.1-4.8 1.5-4.8 2.1zM520.3 114.3l4.9-2.1-4.8 1.5-4.8 2.1zM515.5 116.4l4.8-2.1-4.8 1.5-4.8 2.1zM510.6 118.4l4.8-2.1-4.8 1.5-4.8 2.1zM505.8 120.5l4.8-2-4.8 1.6-4.8 2zM500.9 122.5l4.8-2-4.8 1.6-4.8 2zM496.1 124.5l4.8-2-4.8 1.6-4.8 2zM491.3 126.4l4.8-1.9-4.8 1.6-4.8 2zM486.4 128.3l4.8-1.9-4.8 1.6-4.8 1.9zM481.6 130.2l4.8-1.9-4.8 1.6-4.8 1.9zM476.8 132.1l4.8-1.8-4.8 1.6-4.8 1.9zM623 66.2l4.9-2.5-5 2-4.9 2.4zM618.1 68.7l4.9-2.5-5 1.9-4.9 2.4zM613.2 71.2l4.9-2.5-5 1.9-4.9 2.4zM608.2 73.7l4.9-2.5-5 1.8-4.9 2.4zM603.3 76.1l4.9-2.4-5 1.8-4.9 2.4zM598.4 78.5l4.9-2.4-5 1.7-4.9 2.4zM593.5 81l4.9-2.4-4.9 1.7-4.9 2.4zM588.6 83.4l4.9-2.4-4.9 1.7-4.9 2.4zM583.7 85.7l4.9-2.4-4.9 1.6-4.9 2.4zM578.8 88.1l4.9-2.4-4.9 1.6-4.9 2.3zM573.9 90.5l4.9-2.3-4.9 1.6-4.9 2.3zM569 92.8l4.9-2.3-4.9 1.6-4.9 2.3zM564.1 95.1l4.9-2.3-4.9 1.6-4.9 2.3zM559.2 97.4l4.9-2.3-4.9 1.6-4.9 2.3zM554.4 99.6l4.9-2.3-4.9 1.5-4.9 2.3zM549.5 101.9l4.9-2.2-4.9 1.5-4.9 2.2zM544.6 104.1l4.9-2.2-4.9 1.5-4.9 2.2zM539.7 106.3l4.9-2.2-4.9 1.5-4.9 2.2zM534.9 108.5l4.9-2.2-4.9 1.5-4.9 2.2zM530 110.6l4.9-2.1-4.8 1.5-4.9 2.1zM525.2 112.7l4.9-2.1-4.8 1.5-4.9 2.1zM520.3 114.8l4.9-2.1-4.8 1.5-4.8 2.1zM515.4 116.9l4.9-2.1-4.8 1.5-4.8 2.1zM510.6 118.9l4.9-2-4.8 1.5-4.8 2zM505.7 120.9l4.8-2-4.8 1.5-4.8 2zM500.9 122.9l4.8-2-4.8 1.6-4.8 2zM496.1 124.8l4.8-1.9-4.8 1.6-4.8 1.9zM491.2 126.7l4.8-1.9-4.8 1.6-4.8 1.9zM486.4 128.6l4.8-1.9-4.8 1.6-4.8 1.9zM481.5 130.5l4.8-1.8-4.8 1.6-4.8 1.8zM628 64.3l5-2.6-5 2.1-4.9 2.5zM623.1 66.8l4.9-2.6-5 2-4.9 2.5zM618.2 69.3l4.9-2.5-5 1.9-4.9 2.5zM613.2 71.9l4.9-2.5-5 1.9-4.9 2.5zM608.3 74.3l4.9-2.5-5 1.8-4.9 2.4zM603.4 76.8l4.9-2.5-5 1.8-4.9 2.4zM598.4 79.3l4.9-2.5-5 1.7-4.9 2.4zM593.5 81.7l4.9-2.4-4.9 1.7-4.9 2.4zM588.6 84.1l4.9-2.4-4.9 1.7-4.9 2.4zM583.7 86.5l4.9-2.4-4.9 1.6-4.9 2.4zM578.8 88.9l4.9-2.4-4.9 1.6-4.9 2.3zM573.9 91.2l4.9-2.3-4.9 1.6-4.9 2.3zM569 93.6l4.9-2.3-4.9 1.6-4.9 2.3zM564.1 95.9l4.9-2.3-4.9 1.5-4.9 2.3zM559.2 98.1l4.9-2.3-4.9 1.5-4.9 2.3zM554.4 100.4l4.9-2.2-4.9 1.5-4.9 2.2zM549.5 102.6l4.9-2.2-4.9 1.5-4.9 2.2zM544.6 104.8l4.9-2.2-4.9 1.5-4.9 2.2zM539.7 107l4.9-2.2-4.9 1.5-4.9 2.2zM534.9 109.1l4.9-2.1-4.9 1.5-4.9 2.1zM530 111.2l4.9-2.1-4.8 1.5-4.9 2.1zM525.1 113.3l4.9-2.1-4.8 1.5-4.9 2.1zM520.3 115.4l4.9-2.1-4.8 1.5-4.9 2.1zM515.4 117.4l4.9-2-4.8 1.5-4.9 2zM510.6 119.4l4.9-2-4.8 1.5-4.8 2zM505.7 121.3l4.9-2-4.8 1.5-4.8 2zM500.9 123.3l4.9-1.9-4.8 1.6-4.8 1.9zM496 125.2l4.9-1.9-4.8 1.6-4.8 1.9zM491.2 127l4.9-1.9-4.8 1.6-4.8 1.9zM486.3 128.9l4.8-1.8-4.8 1.6-4.8 1.8zM633.1 62.2l5-2.7-5 2.2-5 2.6zM628.1 64.8l5-2.6-5 2.1-4.9 2.6zM623.2 67.4l5-2.6-5 2-4.9 2.5zM618.2 70l4.9-2.6-5 1.9-4.9 2.5zM613.3 72.6l4.9-2.6-5 1.9-4.9 2.5zM608.3 75.1l4.9-2.5-5 1.8-4.9 2.5zM603.4 77.6l4.9-2.5-5 1.7-4.9 2.5zM598.5 80.1l4.9-2.5-5 1.7-4.9 2.4zM593.6 82.5l4.9-2.4-4.9 1.7-4.9 2.4zM588.6 84.9l4.9-2.4-4.9 1.6-4.9 2.4zM583.7 87.3l4.9-2.4-4.9 1.6-4.9 2.4zM578.8 89.7l4.9-2.4-4.9 1.6-4.9 2.3zM573.9 92l4.9-2.3-4.9 1.5-4.9 2.3zM569 94.3l4.9-2.3-4.9 1.5-4.9 2.3zM564.1 96.6l4.9-2.3-4.9 1.5-4.9 2.3zM559.2 98.9l4.9-2.3-4.9 1.5-4.9 2.2zM554.4 101.1l4.9-2.2-4.9 1.5-4.9 2.2zM549.5 103.3l4.9-2.2-4.9 1.5-4.9 2.2zM544.6 105.5l4.9-2.2-4.9 1.5-4.9 2.2zM539.7 107.6l4.9-2.1-4.9 1.5-4.9 2.1zM534.8 109.7l4.9-2.1-4.9 1.5-4.9 2.1zM530 111.8l4.9-2.1-4.9 1.5-4.9 2.1zM525.1 113.8l4.9-2-4.8 1.5-4.9 2.1zM520.2 115.9l4.9-2-4.8 1.5-4.9 2zM515.4 117.9l4.9-2-4.8 1.5-4.9 2zM510.5 119.8l4.9-2-4.8 1.5-4.9 2zM505.7 121.7l4.9-1.9-4.8 1.5-4.9 1.9zM500.8 123.6l4.9-1.9-4.8 1.5-4.9 1.9zM495.9 125.5l4.9-1.9-4.8 1.5-4.9 1.9zM491.1 127.3l4.9-1.8-4.8 1.5-4.8 1.8zM638.1 60l5-2.8-5 2.2-5 2.7zM633.1 62.8l5-2.7-5 2.1-5 2.6zM628.2 65.5l5-2.7-5 2-5 2.6zM623.2 68.1l5-2.7-5 2-4.9 2.6zM618.2 70.7l5-2.6-5 1.9-4.9 2.6zM613.3 73.3l4.9-2.6-5 1.8-4.9 2.5zM608.4 75.9l4.9-2.6-5 1.8-4.9 2.5zM603.4 78.4l4.9-2.5-5 1.7-4.9 2.5zM598.5 80.9l4.9-2.5-5 1.7-4.9 2.4zM593.6 83.3l4.9-2.5-4.9 1.6-4.9 2.4zM588.7 85.8l4.9-2.4-4.9 1.6-4.9 2.4zM583.7 88.1l4.9-2.4-4.9 1.6-4.9 2.4zM578.8 90.5l4.9-2.4-4.9 1.5-4.9 2.3zM573.9 92.8l4.9-2.3-4.9 1.5-4.9 2.3zM569 95.1l4.9-2.3-4.9 1.5-4.9 2.3zM564.1 97.4l4.9-2.3-4.9 1.5-4.9 2.3zM559.2 99.6l4.9-2.2-4.9 1.5-4.9 2.2zM554.4 101.8l4.9-2.2-4.9 1.5-4.9 2.2zM549.5 104l4.9-2.2-4.9 1.5-4.9 2.2zM544.6 106.1l4.9-2.1-4.9 1.5-4.9 2.1zM539.7 108.2l4.9-2.1-4.9 1.5-4.9 2.1zM534.8 110.3l4.9-2.1-4.9 1.5-4.9 2.1zM530 112.3l4.9-2-4.9 1.5-4.9 2zM525.1 114.4l4.9-2-4.8 1.5-4.9 2zM520.2 116.3l4.9-2-4.8 1.5-4.9 2zM515.3 118.3l4.9-2-4.8 1.5-4.9 2zM510.5 120.2l4.9-1.9-4.8 1.5-4.9 1.9zM505.6 122.1l4.9-1.9-4.8 1.5-4.9 1.9zM500.8 124l4.9-1.9-4.8 1.5-4.9 1.9zM495.9 125.8l4.9-1.8-4.8 1.5-4.9 1.8zM643.1 57.8l5-2.9-5.1 2.3-5 2.8zM638.2 60.7l5-2.8-5 2.2-5 2.7zM633.2 63.4l5-2.8-5 2.1-5 2.7zM628.2 66.2l5-2.7-5 2-5 2.7zM623.2 68.9l5-2.7-5 1.9-5 2.6zM618.3 71.5l5-2.7-5 1.9-4.9 2.6zM613.3 74.1l4.9-2.6-5 1.8-4.9 2.6zM608.4 76.7l4.9-2.6-5 1.7-4.9 2.5zM603.5 79.3l4.9-2.5-5 1.7-4.9 2.5zM598.5 81.7l4.9-2.5-5 1.6-4.9 2.5zM593.6 84.2l4.9-2.5-5 1.6-4.9 2.4zM588.7 86.6l4.9-2.4-4.9 1.6-4.9 2.4zM583.8 89l4.9-2.4-4.9 1.5-4.9 2.4zM578.9 91.3l4.9-2.3-4.9 1.5-4.9 2.3zM573.9 93.6l4.9-2.3-4.9 1.5-4.9 2.3zM569 95.9l4.9-2.3-4.9 1.5-4.9 2.3zM564.1 98.2l4.9-2.2-4.9 1.5-4.9 2.2zM559.2 100.4l4.9-2.2-4.9 1.5-4.9 2.2zM554.4 102.5l4.9-2.2-4.9 1.5-4.9 2.2zM549.5 104.7l4.9-2.1-4.9 1.5-4.9 2.1zM544.6 106.8l4.9-2.1-4.9 1.5-4.9 2.1zM539.7 108.8l4.9-2.1-4.9 1.5-4.9 2.1zM534.8 110.9l4.9-2-4.9 1.5-4.9 2zM529.9 112.9l4.9-2-4.9 1.5-4.9 2zM525.1 114.9l4.9-2-4.9 1.5-4.9 2zM520.2 116.8l4.9-2-4.8 1.5-4.9 2zM515.3 118.7l4.9-1.9-4.8 1.5-4.9 1.9zM510.4 120.7l4.9-1.9-4.8 1.5-4.9 1.9zM505.6 122.5l4.9-1.9-4.8 1.5-4.9 1.9zM500.7 124.4l4.9-1.9-4.8 1.5-4.9 1.8zM648.2 55.5l5-3-5.1 2.4-5 2.9zM643.2 58.5l5-2.9-5.1 2.3-5 2.8zM638.2 61.4l5-2.9-5 2.2-5 2.8zM633.2 64.2l5-2.8-5 2.1-5 2.7zM628.3 67l5-2.8-5 2-5 2.7zM623.3 69.7l5-2.7-5 1.9-5 2.7zM618.3 72.4l5-2.7-5 1.8-4.9 2.6zM613.4 75l5-2.6-5 1.7-4.9 2.6zM608.4 77.6l4.9-2.6-5 1.7-4.9 2.5zM603.5 80.2l4.9-2.5-5 1.6-4.9 2.5zM598.6 82.7l4.9-2.5-5 1.6-4.9 2.5zM593.6 85.1l4.9-2.4-5 1.6-4.9 2.4zM588.7 87.5l4.9-2.4-4.9 1.5-4.9 2.4zM583.8 89.9l4.9-2.4-4.9 1.5-4.9 2.3zM578.9 92.2l4.9-2.3-4.9 1.5-4.9 2.3zM574 94.5l4.9-2.3-4.9 1.5-4.9 2.3zM569.1 96.7l4.9-2.2-4.9 1.5-4.9 2.2zM564.2 98.9l4.9-2.2-4.9 1.5-4.9 2.2zM559.3 101.1l4.9-2.2-4.9 1.5-4.9 2.2zM554.4 103.2l4.9-2.1-4.9 1.5-4.9 2.1zM549.5 105.3l4.9-2.1-4.9 1.5-4.9 2.1zM544.6 107.4l4.9-2.1-4.9 1.5-4.9 2.1zM539.7 109.4l4.9-2-4.9 1.5-4.9 2zM534.8 111.4l4.9-2-4.9 1.5-4.9 2zM529.9 113.4l4.9-2-4.9 1.5-4.9 2zM525 115.4l4.9-2-4.9 1.5-4.9 2zM520.2 117.3l4.9-1.9-4.8 1.5-4.9 1.9zM515.3 119.2l4.9-1.9-4.8 1.4-4.9 1.9zM510.4 121.1l4.9-1.9-4.8 1.4-4.9 1.9zM505.5 123l4.9-1.9-4.8 1.4-4.9 1.9zM653.3 53.2l5-3.2-5.1 2.5-5 3zM648.3 56.2l5-3.1-5.1 2.4-5 2.9zM643.3 59.3l5-3-5.1 2.2-5 2.9zM638.3 62.2l5-2.9-5 2.1-5 2.8zM633.3 65.1l5-2.9-5 2-5 2.8zM628.3 67.9l5-2.8-5 1.9-5 2.7zM623.3 70.7l5-2.8-5 1.8-5 2.7zM618.4 73.4l5-2.7-5 1.8-5 2.6zM613.4 76l5-2.6-5 1.7-4.9 2.6zM608.5 78.6l4.9-2.6-5 1.6-4.9 2.5zM603.5 81.1l4.9-2.5-5 1.6-4.9 2.5zM598.6 83.6l4.9-2.5-5 1.5-4.9 2.4zM593.6 86l4.9-2.4-5 1.5-4.9 2.4zM588.7 88.4l4.9-2.4-4.9 1.5-4.9 2.4zM583.8 90.7l4.9-2.3-4.9 1.5-4.9 2.3zM578.9 93l4.9-2.3-4.9 1.5-4.9 2.3zM574 95.3l4.9-2.2-4.9 1.4-4.9 2.2zM569.1 97.5l4.9-2.2-4.9 1.4-4.9 2.2zM564.2 99.6l4.9-2.2-4.9 1.4-4.9 2.2zM559.3 101.8l4.9-2.1-4.9 1.4-4.9 2.1zM554.4 103.9l4.9-2.1-4.9 1.4-4.9 2.1zM549.5 105.9l4.9-2.1-4.9 1.4-4.9 2.1zM544.6 108l4.9-2-4.9 1.4-4.9 2zM539.7 110l4.9-2-4.9 1.4-4.9 2zM534.8 112l4.9-2-4.9 1.4-4.9 2zM529.9 114l4.9-2-4.9 1.4-4.9 2zM525 115.9l4.9-2-4.9 1.4-4.9 1.9zM520.1 117.8l4.9-1.9-4.9 1.4-4.9 1.9zM515.2 119.8l4.9-1.9-4.8 1.4-4.9 1.9zM510.4 121.7l4.9-1.9-4.8 1.4-4.9 1.9zM658.4 50.7l5-3.3-5.1 2.6-5 3.2zM653.3 53.9l5-3.2-5.1 2.5-5 3.1zM648.3 57.1l5-3.1-5.1 2.3-5 3zM643.3 60.1l5-3.1-5.1 2.2-5 2.9zM638.3 63.1l5-3-5 2.1-5 2.9zM633.3 66l5-2.9-5 1.9-5 2.8zM628.3 68.9l5-2.8-5 1.9-5 2.8zM623.4 71.7l5-2.8-5 1.8-5 2.7zM618.4 74.4l5-2.7-5 1.7-5 2.6zM613.4 77l5-2.6-5 1.6-4.9 2.6zM608.5 79.6l5-2.6-5 1.6-4.9 2.5zM603.5 82.1l4.9-2.5-5 1.5-4.9 2.5zM598.6 84.5l4.9-2.5-5 1.5-4.9 2.4zM593.7 86.9l4.9-2.4-5 1.5-4.9 2.4zM588.7 89.3l4.9-2.3-4.9 1.5-4.9 2.3zM583.8 91.6l4.9-2.3-4.9 1.4-4.9 2.3zM578.9 93.8l4.9-2.3-4.9 1.4-4.9 2.2zM574 96l4.9-2.2-4.9 1.4-4.9 2.2zM569.1 98.2l4.9-2.2-4.9 1.4-4.9 2.2zM564.2 100.3l4.9-2.1-4.9 1.4-4.9 2.1zM559.3 102.5l4.9-2.1-4.9 1.4-4.9 2.1zM554.4 104.5l4.9-2.1-4.9 1.4-4.9 2.1zM549.5 106.6l4.9-2-4.9 1.4-4.9 2zM544.6 108.6l4.9-2-4.9 1.4-4.9 2zM539.7 110.6l4.9-2-4.9 1.4-4.9 2zM534.8 112.6l4.9-2-4.9 1.4-4.9 2zM529.9 114.6l4.9-2-4.9 1.4-4.9 2zM525 116.5l4.9-2-4.9 1.4-4.9 1.9zM520.1 118.5l4.9-2-4.9 1.3-4.9 1.9zM515.2 120.4l4.9-2-4.9 1.3-4.9 1.9zM663.5 48.2l5.1-3.5-5.1 2.7-5 3.3zM658.4 51.6l5.1-3.4-5.1 2.5-5 3.2zM653.4 54.9l5-3.3-5.1 2.4-5 3.1zM648.4 58.1l5-3.2-5.1 2.2-5 3.1zM643.3 61.2l5-3.1-5.1 2.1-5 3zM638.3 64.2l5-3-5 2-5 2.9zM633.4 67.1l5-2.9-5 1.9-5 2.8zM628.4 69.9l5-2.8-5 1.8-5 2.8zM623.4 72.7l5-2.8-5 1.7-5 2.7zM618.4 75.4l5-2.7-5 1.6-5 2.6zM613.5 78l5-2.6-5 1.6-5 2.6zM608.5 80.6l5-2.5-5 1.5-4.9 2.5zM603.6 83.1l4.9-2.5-5 1.5-4.9 2.5zM598.6 85.5l4.9-2.4-5 1.5-4.9 2.4zM593.7 87.8l4.9-2.4-5 1.5-4.9 2.3zM588.8 90.2l4.9-2.3-4.9 1.4-4.9 2.3zM583.8 92.4l4.9-2.3-4.9 1.4-4.9 2.3zM578.9 94.6l4.9-2.2-4.9 1.4-4.9 2.2zM574 96.8l4.9-2.2-4.9 1.4-4.9 2.2zM569.1 99l4.9-2.1-4.9 1.4-4.9 2.1zM564.2 101.1l4.9-2.1-4.9 1.4-4.9 2.1zM559.3 103.1l4.9-2.1-4.9 1.4-4.9 2.1zM554.3 105.2l4.9-2.1-4.9 1.4-4.9 2zM549.4 107.2l4.9-2-4.9 1.4-4.9 2zM544.5 109.2l4.9-2-4.9 1.4-4.9 2zM539.6 111.3l4.9-2-4.9 1.4-4.9 2zM534.7 113.3l4.9-2-4.9 1.3-4.9 2zM529.8 115.3l4.9-2-4.9 1.3-4.9 2zM525 117.3l4.9-2-4.9 1.3-4.9 2zM520.1 119.3l4.9-2-4.9 1.2-4.9 2zM668.6 45.5l5.1-3.7-5.1 2.8-5.1 3.5zM663.5 49.1l5.1-3.6-5.1 2.6-5.1 3.4zM658.5 52.6l5.1-3.5-5.1 2.5-5 3.3zM653.4 55.9l5-3.3-5.1 2.3-5 3.2zM648.4 59.1l5-3.2-5.1 2.1-5 3.1zM643.4 62.3l5-3.1-5.1 2-5 3zM638.4 65.3l5-3-5 1.9-5 2.9zM633.4 68.2l5-2.9-5 1.8-5 2.8zM628.4 71.1l5-2.8-5 1.7-5 2.8zM623.4 73.8l5-2.8-5 1.6-5 2.7zM618.5 76.5l5-2.7-5 1.6-5 2.6zM613.5 79.1l5-2.6-5 1.5-5 2.5zM608.5 81.6l5-2.5-5 1.5-4.9 2.5zM603.6 84l4.9-2.4-5 1.5-4.9 2.4zM598.6 86.4l4.9-2.4-5 1.4-4.9 2.4zM593.7 88.7l4.9-2.3-5 1.4-4.9 2.3zM588.8 91l4.9-2.3-5 1.4-4.9 2.3zM583.8 93.2l4.9-2.2-4.9 1.4-4.9 2.2zM578.9 95.4l4.9-2.2-4.9 1.4-4.9 2.2zM574 97.6l4.9-2.1-4.9 1.4-4.9 2.1zM569.1 99.7l4.9-2.1-4.9 1.4-4.9 2.1zM564.2 101.8l4.9-2.1-4.9 1.4-4.9 2.1zM559.3 103.8l4.9-2.1-4.9 1.4-4.9 2.1zM554.3 105.9l4.9-2.1-4.9 1.3-4.9 2zM549.4 107.9l4.9-2-4.9 1.3-4.9 2zM544.5 110l4.9-2-4.9 1.3-4.9 2zM539.6 112l4.9-2-4.9 1.3-4.9 2zM534.7 114.1l4.9-2-4.9 1.2-4.9 2zM529.8 116.1l4.9-2.1-4.9 1.2-4.9 2zM524.9 118.2l4.9-2.1-4.9 1.1-4.9 2z"/></g><path d="M524.9 118.2L520.1 119.3L515.2 120.4L510.4 121.7L505.5 123L500.7 124.4L495.9 125.8L491.1 127.3L486.3 128.9L481.5 130.5L476.8 132.1L472 133.7L467.3 135.3L462.5 137L457.8 138.6L453.1 140.2L448.4 141.8L443.7 143.3L439 144.9L434.4 146.3L429.7 147.7L425.1 149.1L420.4 150.4L415.8 151.6L411.2 152.7L406.6 153.8L402 154.7L397.4 155.5L392.8 156.3L388.2 156.9L383.6 157.4M529.8 116.1L525 117.3L520.1 118.5L515.2 119.8L510.4 121.1L505.6 122.5L500.8 124L495.9 125.5L491.2 127L486.4 128.6L481.6 130.2L476.8 131.8L472.1 133.4L467.3 135.1L462.6 136.7L457.9 138.3L453.2 139.9L448.5 141.4L443.8 142.9L439.2 144.4L434.5 145.8L429.8 147.2L425.2 148.5L420.6 149.8L415.9 151L411.3 152.1L406.7 153.1L402.1 154L397.5 154.8L392.9 155.6L388.3 156.2M534.7 114.1L529.8 115.3L525 116.5L520.1 117.8L515.3 119.2L510.4 120.7L505.6 122.1L500.8 123.6L496 125.2L491.2 126.7L486.4 128.3L481.7 129.9L476.9 131.5L472.2 133.1L467.4 134.7L462.7 136.3L458 137.9L453.3 139.4L448.6 141L443.9 142.4L439.3 143.9L434.6 145.3L429.9 146.6L425.3 147.9L420.7 149.2L416.1 150.3L411.4 151.4L406.8 152.5L402.2 153.4L397.6 154.2L393.1 155M539.6 112L534.7 113.3L529.9 114.6L525 115.9L520.2 117.3L515.3 118.7L510.5 120.2L505.7 121.7L500.9 123.3L496.1 124.8L491.3 126.4L486.5 128L481.7 129.6L477 131.2L472.2 132.8L467.5 134.4L462.8 135.9L458.1 137.5L453.4 139L448.7 140.5L444 141.9L439.4 143.4L434.7 144.8L430.1 146.1L425.4 147.4L420.8 148.6L416.2 149.8L411.6 150.9L407 151.9L402.4 152.9L397.8 153.8M544.5 110L539.6 111.3L534.8 112.6L529.9 114L525 115.4L520.2 116.8L515.3 118.3L510.5 119.8L505.7 121.3L500.9 122.9L496.1 124.5L491.3 126L486.6 127.6L481.8 129.2L477 130.8L472.3 132.4L467.6 133.9L462.9 135.5L458.2 137L453.5 138.5L448.8 140L444.1 141.4L439.5 142.8L434.8 144.2L430.2 145.6L425.5 146.9L420.9 148.1L416.3 149.3L411.7 150.4L407.1 151.5L402.5 152.5M549.4 107.9L544.5 109.2L539.7 110.6L534.8 112L529.9 113.4L525.1 114.9L520.2 116.3L515.4 117.9L510.6 119.4L505.7 120.9L500.9 122.5L496.2 124.1L491.4 125.6L486.6 127.2L481.9 128.8L477.1 130.3L472.4 131.9L467.7 133.5L462.9 135L458.2 136.5L453.6 138L448.9 139.5L444.2 140.9L439.6 142.3L434.9 143.7L430.3 145.1L425.7 146.4L421 147.7L416.4 148.9L411.8 150.1L407.3 151.2M554.3 105.9L549.4 107.2L544.6 108.6L539.7 110L534.8 111.4L529.9 112.9L525.1 114.4L520.2 115.9L515.4 117.4L510.6 118.9L505.8 120.5L501 122L496.2 123.6L491.4 125.2L486.7 126.7L481.9 128.3L477.2 129.9L472.4 131.4L467.7 133L463 134.5L458.3 136L453.6 137.5L449 139L444.3 140.5L439.7 141.9L435 143.3L430.4 144.7L425.8 146L421.2 147.3L416.6 148.6L412 149.8M559.3 103.8L554.3 105.2L549.5 106.6L544.6 108L539.7 109.4L534.8 110.9L530 112.3L525.1 113.8L520.3 115.4L515.4 116.9L510.6 118.4L505.8 120L501 121.5L496.3 123.1L491.5 124.7L486.7 126.2L482 127.8L477.2 129.4L472.5 130.9L467.8 132.5L463.1 134L458.4 135.5L453.7 137L449.1 138.5L444.4 140L439.8 141.5L435.1 142.9L430.5 144.3L425.9 145.7L421.3 147.1L416.7 148.4M564.2 101.8L559.3 103.1L554.4 104.5L549.5 105.9L544.6 107.4L539.7 108.8L534.8 110.3L530 111.8L525.1 113.3L520.3 114.8L515.5 116.4L510.7 117.9L505.9 119.5L501.1 121L496.3 122.6L491.5 124.2L486.8 125.7L482 127.3L477.3 128.9L472.6 130.4L467.9 132L463.2 133.5L458.5 135.1L453.8 136.6L449.1 138.1L444.5 139.6L439.9 141.1L435.2 142.6L430.6 144.1L426 145.5L421.4 146.9M569.1 99.7L564.2 101.1L559.3 102.5L554.4 103.9L549.5 105.3L544.6 106.8L539.7 108.2L534.8 109.7L530 111.2L525.2 112.7L520.3 114.3L515.5 115.8L510.7 117.4L505.9 118.9L501.1 120.5L496.3 122L491.6 123.6L486.8 125.2L482.1 126.8L477.4 128.4L472.6 129.9L467.9 131.5L463.2 133.1L458.6 134.6L453.9 136.2L449.2 137.8L444.6 139.3L440 140.9L435.3 142.4L430.7 143.9L426.1 145.4M574 97.6L569.1 99L564.2 100.3L559.3 101.8L554.4 103.2L549.5 104.7L544.6 106.1L539.7 107.6L534.9 109.1L530 110.6L525.2 112.1L520.4 113.7L515.5 115.2L510.7 116.8L505.9 118.4L501.2 119.9L496.4 121.5L491.6 123.1L486.9 124.7L482.1 126.3L477.4 127.9L472.7 129.5L468 131.1L463.3 132.7L458.6 134.3L454 135.9L449.3 137.5L444.7 139.1L440.1 140.6L435.5 142.2L430.9 143.8M578.9 95.4L574 96.8L569.1 98.2L564.2 99.6L559.3 101.1L554.4 102.5L549.5 104L544.6 105.5L539.7 107L534.9 108.5L530 110L525.2 111.5L520.4 113.1L515.6 114.6L510.8 116.2L506 117.8L501.2 119.4L496.4 121L491.7 122.6L486.9 124.2L482.2 125.8L477.5 127.4L472.8 129L468.1 130.7L463.4 132.3L458.7 133.9L454.1 135.6L449.4 137.2L444.8 138.9L440.2 140.5L435.6 142.1M583.8 93.2L578.9 94.6L574 96L569.1 97.5L564.2 98.9L559.2 100.4L554.4 101.8L549.5 103.3L544.6 104.8L539.7 106.3L534.9 107.8L530.1 109.4L525.2 110.9L520.4 112.5L515.6 114L510.8 115.6L506 117.2L501.2 118.8L496.5 120.4L491.7 122L487 123.7L482.3 125.3L477.5 127L472.8 128.6L468.2 130.3L463.5 132L458.8 133.6L454.2 135.3L449.5 137L444.9 138.7L440.3 140.4M588.8 91L583.8 92.4L578.9 93.8L574 95.3L569.1 96.7L564.1 98.2L559.2 99.6L554.4 101.1L549.5 102.6L544.6 104.1L539.8 105.6L534.9 107.2L530.1 108.7L525.2 110.3L520.4 111.9L515.6 113.4L510.8 115L506 116.7L501.3 118.3L496.5 119.9L491.8 121.6L487 123.2L482.3 124.9L477.6 126.6L472.9 128.2L468.2 129.9L463.6 131.7L458.9 133.4L454.2 135.1L449.6 136.8L445 138.6M593.7 88.7L588.8 90.2L583.8 91.6L578.9 93L574 94.5L569 95.9L564.1 97.4L559.2 98.9L554.4 100.4L549.5 101.9L544.6 103.4L539.8 105L534.9 106.5L530.1 108.1L525.3 109.7L520.4 111.2L515.6 112.9L510.9 114.5L506.1 116.1L501.3 117.8L496.6 119.4L491.8 121.1L487.1 122.8L482.4 124.5L477.7 126.2L473 127.9L468.3 129.6L463.6 131.4L459 133.1L454.3 134.9L449.7 136.7M598.6 86.4L593.7 87.8L588.7 89.3L583.8 90.7L578.9 92.2L573.9 93.6L569 95.1L564.1 96.6L559.2 98.1L554.4 99.6L549.5 101.2L544.6 102.7L539.8 104.3L534.9 105.9L530.1 107.4L525.3 109L520.5 110.7L515.7 112.3L510.9 113.9L506.1 115.6L501.3 117.2L496.6 118.9L491.9 120.6L487.1 122.3L482.4 124.1L477.7 125.8L473 127.6L468.4 129.3L463.7 131.1L459.1 132.9L454.4 134.7M603.6 84L598.6 85.5L593.7 86.9L588.7 88.4L583.8 89.9L578.9 91.3L573.9 92.8L569 94.3L564.1 95.9L559.2 97.4L554.4 98.9L549.5 100.5L544.6 102L539.8 103.6L534.9 105.2L530.1 106.8L525.3 108.4L520.5 110.1L515.7 111.7L510.9 113.4L506.1 115.1L501.4 116.7L496.6 118.4L491.9 120.2L487.2 121.9L482.5 123.7L477.8 125.4L473.1 127.2L468.4 129L463.8 130.8L459.1 132.7M608.5 81.6L603.6 83.1L598.6 84.5L593.6 86L588.7 87.5L583.8 89L578.8 90.5L573.9 92L569 93.6L564.1 95.1L559.2 96.6L554.4 98.2L549.5 99.8L544.6 101.4L539.8 103L534.9 104.6L530.1 106.2L525.3 107.8L520.5 109.5L515.7 111.2L510.9 112.8L506.2 114.5L501.4 116.2L496.7 118L491.9 119.7L487.2 121.5L482.5 123.2L477.8 125L473.2 126.8L468.5 128.7L463.9 130.5M613.5 79.1L608.5 80.6L603.5 82.1L598.6 83.6L593.6 85.1L588.7 86.6L583.7 88.1L578.8 89.7L573.9 91.2L569 92.8L564.1 94.4L559.2 95.9L554.3 97.5L549.5 99.1L544.6 100.7L539.8 102.3L535 104L530.1 105.6L525.3 107.3L520.5 108.9L515.7 110.6L511 112.3L506.2 114L501.5 115.7L496.7 117.5L492 119.2L487.3 121L482.6 122.8L477.9 124.6L473.2 126.4L468.6 128.2M618.5 76.5L613.5 78L608.5 79.6L603.5 81.1L598.6 82.7L593.6 84.2L588.7 85.8L583.7 87.3L578.8 88.9L573.9 90.5L569 92L564.1 93.6L559.2 95.2L554.3 96.8L549.5 98.4L544.6 100.1L539.8 101.7L535 103.3L530.1 105L525.3 106.7L520.5 108.3L515.8 110L511 111.7L506.2 113.5L501.5 115.2L496.8 116.9L492 118.7L487.3 120.5L482.6 122.3L477.9 124.1L473.3 125.9M623.4 73.8L618.4 75.4L613.4 77L608.5 78.6L603.5 80.2L598.5 81.7L593.6 83.3L588.6 84.9L583.7 86.5L578.8 88.1L573.9 89.7L569 91.3L564.1 92.9L559.2 94.5L554.3 96.2L549.5 97.8L544.6 99.4L539.8 101.1L535 102.7L530.2 104.4L525.4 106.1L520.6 107.7L515.8 109.4L511 111.1L506.3 112.9L501.5 114.6L496.8 116.3L492.1 118.1L487.4 119.9L482.7 121.7L478 123.5M628.4 71.1L623.4 72.7L618.4 74.4L613.4 76L608.4 77.6L603.5 79.3L598.5 80.9L593.6 82.5L588.6 84.1L583.7 85.7L578.8 87.4L573.9 89L569 90.6L564.1 92.2L559.2 93.9L554.3 95.5L549.5 97.1L544.6 98.8L539.8 100.4L535 102.1L530.2 103.7L525.4 105.4L520.6 107.1L515.8 108.8L511 110.5L506.3 112.2L501.5 113.9L496.8 115.6L492.1 117.4L487.4 119.1L482.7 120.9M633.4 68.2L628.4 69.9L623.4 71.7L618.4 73.4L613.4 75L608.4 76.7L603.4 78.4L598.5 80.1L593.5 81.7L588.6 83.4L583.7 85L578.7 86.7L573.8 88.3L568.9 89.9L564.1 91.6L559.2 93.2L554.3 94.8L549.5 96.5L544.6 98.1L539.8 99.8L535 101.4L530.2 103.1L525.4 104.7L520.6 106.4L515.8 108.1L511.1 109.7L506.3 111.4L501.6 113.1L496.9 114.8L492.1 116.5L487.4 118.2M638.4 65.3L633.4 67.1L628.3 68.9L623.3 70.7L618.3 72.4L613.3 74.1L608.4 75.9L603.4 77.6L598.4 79.3L593.5 81L588.6 82.6L583.6 84.3L578.7 86L573.8 87.6L568.9 89.3L564 90.9L559.2 92.5L554.3 94.2L549.5 95.8L544.6 97.4L539.8 99.1L535 100.7L530.2 102.3L525.4 103.9L520.6 105.6L515.8 107.2L511.1 108.9L506.3 110.5L501.6 112.2L496.9 113.8L492.2 115.5M643.4 62.3L638.3 64.2L633.3 66L628.3 67.9L623.3 69.7L618.3 71.5L613.3 73.3L608.3 75.1L603.4 76.8L598.4 78.5L593.5 80.3L588.5 81.9L583.6 83.6L578.7 85.3L573.8 86.9L568.9 88.6L564 90.2L559.2 91.8L554.3 93.5L549.5 95.1L544.6 96.7L539.8 98.3L535 99.9L530.2 101.5L525.4 103L520.6 104.6L515.9 106.2L511.1 107.8L506.4 109.4L501.6 111L496.9 112.6M648.4 59.1L643.3 61.2L638.3 63.1L633.3 65.1L628.3 67L623.2 68.9L618.2 70.7L613.3 72.6L608.3 74.3L603.3 76.1L598.4 77.9L593.4 79.6L588.5 81.3L583.6 83L578.7 84.6L573.8 86.3L568.9 87.9L564 89.5L559.2 91.1L554.3 92.7L549.5 94.3L544.6 95.8L539.8 97.4L535 98.9L530.2 100.5L525.4 102L520.6 103.5L515.9 105L511.1 106.6L506.4 108.1L501.6 109.6M653.4 55.9L648.4 58.1L643.3 60.1L638.3 62.2L633.2 64.2L628.2 66.2L623.2 68.1L618.2 70L613.2 71.9L608.2 73.7L603.3 75.5L598.3 77.2L593.4 78.9L588.5 80.6L583.6 82.3L578.6 83.9L573.8 85.5L568.9 87.1L564 88.7L559.1 90.3L554.3 91.8L549.4 93.3L544.6 94.8L539.8 96.3L535 97.8L530.2 99.3L525.4 100.7L520.6 102.2L515.9 103.6L511.1 105.1L506.4 106.5M658.5 52.6L653.4 54.9L648.3 57.1L643.3 59.3L638.2 61.4L633.2 63.4L628.2 65.5L623.2 67.4L618.2 69.3L613.2 71.2L608.2 73L603.2 74.8L598.3 76.6L593.4 78.3L588.4 80L583.5 81.6L578.6 83.2L573.7 84.8L568.9 86.3L564 87.8L559.1 89.3L554.3 90.8L549.4 92.3L544.6 93.7L539.8 95.1L535 96.5L530.2 97.9L525.4 99.2L520.7 100.6L515.9 101.9L511.1 103.2M663.5 49.1L658.4 51.6L653.3 53.9L648.3 56.2L643.2 58.5L638.2 60.7L633.1 62.8L628.1 64.8L623.1 66.8L618.1 68.7L613.1 70.6L608.2 72.4L603.2 74.2L598.3 75.9L593.3 77.6L588.4 79.3L583.5 80.8L578.6 82.4L573.7 83.9L568.8 85.4L564 86.8L559.1 88.3L554.3 89.6L549.4 91L544.6 92.3L539.8 93.6L535 94.9L530.2 96.2L525.4 97.4L520.7 98.7L515.9 99.9M668.6 45.5L663.5 48.2L658.4 50.7L653.3 53.2L648.2 55.5L643.1 57.8L638.1 60L633.1 62.2L628 64.3L623 66.2L618.1 68.2L613.1 70L608.1 71.8L603.2 73.6L598.2 75.3L593.3 76.9L588.4 78.5L583.5 80L578.6 81.5L573.7 82.9L568.8 84.3L564 85.7L559.1 87L554.3 88.3L549.4 89.5L544.6 90.7L539.8 91.9L535 93.1L530.2 94.2L525.4 95.3L520.7 96.4M673.7 41.8L668.5 44.7L663.4 47.4L658.3 50L653.2 52.5L648.1 55L643.1 57.3L638 59.5L633 61.7L628 63.8L623 65.7L618 67.6L613 69.5L608.1 71.2L603.1 72.9L598.2 74.5L593.3 76.1L588.3 77.6L583.4 79L578.6 80.4L573.7 81.8L568.8 83L564 84.3L559.1 85.5L554.3 86.6L549.4 87.7L544.6 88.8L539.8 89.8L535 90.8L530.2 91.8L525.4 92.8M524.9 118.2L529.8 116.1L534.7 114.1L539.6 112L544.5 110L549.4 107.9L554.3 105.9L559.3 103.8L564.2 101.8L569.1 99.7L574 97.6L578.9 95.4L583.8 93.2L588.8 91L593.7 88.7L598.6 86.4L603.6 84L608.5 81.6L613.5 79.1L618.5 76.5L623.4 73.8L628.4 71.1L633.4 68.2L638.4 65.3L643.4 62.3L648.4 59.1L653.4 55.9L658.5 52.6L663.5 49.1L668.6 45.5L673.7 41.8M520.1 119.3L525 117.3L529.8 115.3L534.7 113.3L539.6 111.3L544.5 109.2L549.4 107.2L554.3 105.2L559.3 103.1L564.2 101.1L569.1 99L574 96.8L578.9 94.6L583.8 92.4L588.8 90.2L593.7 87.8L598.6 85.5L603.6 83.1L608.5 80.6L613.5 78L618.4 75.4L623.4 72.7L628.4 69.9L633.4 67.1L638.3 64.2L643.3 61.2L648.4 58.1L653.4 54.9L658.4 51.6L663.5 48.2L668.5 44.7M515.2 120.4L520.1 118.5L525 116.5L529.9 114.6L534.8 112.6L539.7 110.6L544.6 108.6L549.5 106.6L554.4 104.5L559.3 102.5L564.2 100.3L569.1 98.2L574 96L578.9 93.8L583.8 91.6L588.7 89.3L593.7 86.9L598.6 84.5L603.5 82.1L608.5 79.6L613.4 77L618.4 74.4L623.4 71.7L628.3 68.9L633.3 66L638.3 63.1L643.3 60.1L648.3 57.1L653.3 53.9L658.4 50.7L663.4 47.4M510.4 121.7L515.2 119.8L520.1 117.8L525 115.9L529.9 114L534.8 112L539.7 110L544.6 108L549.5 105.9L554.4 103.9L559.3 101.8L564.2 99.6L569.1 97.5L574 95.3L578.9 93L583.8 90.7L588.7 88.4L593.6 86L598.6 83.6L603.5 81.1L608.5 78.6L613.4 76L618.4 73.4L623.3 70.7L628.3 67.9L633.3 65.1L638.3 62.2L643.3 59.3L648.3 56.2L653.3 53.2L658.3 50M505.5 123L510.4 121.1L515.3 119.2L520.2 117.3L525 115.4L529.9 113.4L534.8 111.4L539.7 109.4L544.6 107.4L549.5 105.3L554.4 103.2L559.3 101.1L564.2 98.9L569.1 96.7L574 94.5L578.9 92.2L583.8 89.9L588.7 87.5L593.6 85.1L598.6 82.7L603.5 80.2L608.4 77.6L613.4 75L618.3 72.4L623.3 69.7L628.3 67L633.2 64.2L638.2 61.4L643.2 58.5L648.2 55.5L653.2 52.5M500.7 124.4L505.6 122.5L510.4 120.7L515.3 118.7L520.2 116.8L525.1 114.9L529.9 112.9L534.8 110.9L539.7 108.8L544.6 106.8L549.5 104.7L554.4 102.5L559.2 100.4L564.1 98.2L569 95.9L573.9 93.6L578.9 91.3L583.8 89L588.7 86.6L593.6 84.2L598.5 81.7L603.5 79.3L608.4 76.7L613.3 74.1L618.3 71.5L623.2 68.9L628.2 66.2L633.2 63.4L638.2 60.7L643.1 57.8L648.1 55M495.9 125.8L500.8 124L505.6 122.1L510.5 120.2L515.3 118.3L520.2 116.3L525.1 114.4L530 112.3L534.8 110.3L539.7 108.2L544.6 106.1L549.5 104L554.4 101.8L559.2 99.6L564.1 97.4L569 95.1L573.9 92.8L578.8 90.5L583.7 88.1L588.7 85.8L593.6 83.3L598.5 80.9L603.4 78.4L608.4 75.9L613.3 73.3L618.2 70.7L623.2 68.1L628.2 65.5L633.1 62.8L638.1 60L643.1 57.3M491.1 127.3L495.9 125.5L500.8 123.6L505.7 121.7L510.5 119.8L515.4 117.9L520.2 115.9L525.1 113.8L530 111.8L534.8 109.7L539.7 107.6L544.6 105.5L549.5 103.3L554.4 101.1L559.2 98.9L564.1 96.6L569 94.3L573.9 92L578.8 89.7L583.7 87.3L588.6 84.9L593.6 82.5L598.5 80.1L603.4 77.6L608.3 75.1L613.3 72.6L618.2 70L623.2 67.4L628.1 64.8L633.1 62.2L638 59.5M486.3 128.9L491.2 127L496 125.2L500.9 123.3L505.7 121.3L510.6 119.4L515.4 117.4L520.3 115.4L525.1 113.3L530 111.2L534.9 109.1L539.7 107L544.6 104.8L549.5 102.6L554.4 100.4L559.2 98.1L564.1 95.9L569 93.6L573.9 91.2L578.8 88.9L583.7 86.5L588.6 84.1L593.5 81.7L598.4 79.3L603.4 76.8L608.3 74.3L613.2 71.9L618.2 69.3L623.1 66.8L628 64.3L633 61.7M481.5 130.5L486.4 128.6L491.2 126.7L496.1 124.8L500.9 122.9L505.7 120.9L510.6 118.9L515.4 116.9L520.3 114.8L525.2 112.7L530 110.6L534.9 108.5L539.7 106.3L544.6 104.1L549.5 101.9L554.4 99.6L559.2 97.4L564.1 95.1L569 92.8L573.9 90.5L578.8 88.1L583.7 85.7L588.6 83.4L593.5 81L598.4 78.5L603.3 76.1L608.2 73.7L613.2 71.2L618.1 68.7L623 66.2L628 63.8M476.8 132.1L481.6 130.2L486.4 128.3L491.3 126.4L496.1 124.5L500.9 122.5L505.8 120.5L510.6 118.4L515.5 116.4L520.3 114.3L525.2 112.1L530 110L534.9 107.8L539.8 105.6L544.6 103.4L549.5 101.2L554.4 98.9L559.2 96.6L564.1 94.4L569 92L573.9 89.7L578.8 87.4L583.7 85L588.6 82.6L593.5 80.3L598.4 77.9L603.3 75.5L608.2 73L613.1 70.6L618.1 68.2L623 65.7M472 133.7L476.8 131.8L481.7 129.9L486.5 128L491.3 126L496.2 124.1L501 122L505.8 120L510.7 117.9L515.5 115.8L520.4 113.7L525.2 111.5L530.1 109.4L534.9 107.2L539.8 105L544.6 102.7L549.5 100.5L554.4 98.2L559.2 95.9L564.1 93.6L569 91.3L573.9 89L578.7 86.7L583.6 84.3L588.5 81.9L593.4 79.6L598.3 77.2L603.2 74.8L608.2 72.4L613.1 70L618 67.6M467.3 135.3L472.1 133.4L476.9 131.5L481.7 129.6L486.6 127.6L491.4 125.6L496.2 123.6L501 121.5L505.9 119.5L510.7 117.4L515.5 115.2L520.4 113.1L525.2 110.9L530.1 108.7L534.9 106.5L539.8 104.3L544.6 102L549.5 99.8L554.3 97.5L559.2 95.2L564.1 92.9L569 90.6L573.8 88.3L578.7 86L583.6 83.6L588.5 81.3L593.4 78.9L598.3 76.6L603.2 74.2L608.1 71.8L613 69.5M462.5 137L467.3 135.1L472.2 133.1L477 131.2L481.8 129.2L486.6 127.2L491.4 125.2L496.3 123.1L501.1 121L505.9 118.9L510.7 116.8L515.6 114.6L520.4 112.5L525.2 110.3L530.1 108.1L534.9 105.9L539.8 103.6L544.6 101.4L549.5 99.1L554.3 96.8L559.2 94.5L564.1 92.2L568.9 89.9L573.8 87.6L578.7 85.3L583.6 83L588.5 80.6L593.4 78.3L598.3 75.9L603.2 73.6L608.1 71.2M457.8 138.6L462.6 136.7L467.4 134.7L472.2 132.8L477 130.8L481.9 128.8L486.7 126.7L491.5 124.7L496.3 122.6L501.1 120.5L505.9 118.4L510.8 116.2L515.6 114L520.4 111.9L525.3 109.7L530.1 107.4L534.9 105.2L539.8 103L544.6 100.7L549.5 98.4L554.3 96.2L559.2 93.9L564.1 91.6L568.9 89.3L573.8 86.9L578.7 84.6L583.6 82.3L588.4 80L593.3 77.6L598.2 75.3L603.1 72.9M453.1 140.2L457.9 138.3L462.7 136.3L467.5 134.4L472.3 132.4L477.1 130.3L481.9 128.3L486.7 126.2L491.5 124.2L496.3 122L501.2 119.9L506 117.8L510.8 115.6L515.6 113.4L520.4 111.2L525.3 109L530.1 106.8L534.9 104.6L539.8 102.3L544.6 100.1L549.5 97.8L554.3 95.5L559.2 93.2L564 90.9L568.9 88.6L573.8 86.3L578.6 83.9L583.5 81.6L588.4 79.3L593.3 76.9L598.2 74.5M448.4 141.8L453.2 139.9L458 137.9L462.8 135.9L467.6 133.9L472.4 131.9L477.2 129.9L482 127.8L486.8 125.7L491.6 123.6L496.4 121.5L501.2 119.4L506 117.2L510.8 115L515.6 112.9L520.5 110.7L525.3 108.4L530.1 106.2L535 104L539.8 101.7L544.6 99.4L549.5 97.1L554.3 94.8L559.2 92.5L564 90.2L568.9 87.9L573.8 85.5L578.6 83.2L583.5 80.8L588.4 78.5L593.3 76.1M443.7 143.3L448.5 141.4L453.3 139.4L458.1 137.5L462.9 135.5L467.7 133.5L472.4 131.4L477.2 129.4L482 127.3L486.8 125.2L491.6 123.1L496.4 121L501.2 118.8L506 116.7L510.9 114.5L515.7 112.3L520.5 110.1L525.3 107.8L530.1 105.6L535 103.3L539.8 101.1L544.6 98.8L549.5 96.5L554.3 94.2L559.2 91.8L564 89.5L568.9 87.1L573.7 84.8L578.6 82.4L583.5 80L588.3 77.6M439 144.9L443.8 142.9L448.6 141L453.4 139L458.2 137L462.9 135L467.7 133L472.5 130.9L477.3 128.9L482.1 126.8L486.9 124.7L491.7 122.6L496.5 120.4L501.3 118.3L506.1 116.1L510.9 113.9L515.7 111.7L520.5 109.5L525.3 107.3L530.1 105L535 102.7L539.8 100.4L544.6 98.1L549.5 95.8L554.3 93.5L559.2 91.1L564 88.7L568.9 86.3L573.7 83.9L578.6 81.5L583.4 79M434.4 146.3L439.2 144.4L443.9 142.4L448.7 140.5L453.5 138.5L458.2 136.5L463 134.5L467.8 132.5L472.6 130.4L477.4 128.4L482.1 126.3L486.9 124.2L491.7 122L496.5 119.9L501.3 117.8L506.1 115.6L510.9 113.4L515.7 111.2L520.5 108.9L525.3 106.7L530.2 104.4L535 102.1L539.8 99.8L544.6 97.4L549.5 95.1L554.3 92.7L559.1 90.3L564 87.8L568.8 85.4L573.7 82.9L578.6 80.4M429.7 147.7L434.5 145.8L439.3 143.9L444 141.9L448.8 140L453.6 138L458.3 136L463.1 134L467.9 132L472.6 129.9L477.4 127.9L482.2 125.8L487 123.7L491.8 121.6L496.6 119.4L501.3 117.2L506.1 115.1L510.9 112.8L515.7 110.6L520.5 108.3L525.4 106.1L530.2 103.7L535 101.4L539.8 99.1L544.6 96.7L549.5 94.3L554.3 91.8L559.1 89.3L564 86.8L568.8 84.3L573.7 81.8M425.1 149.1L429.8 147.2L434.6 145.3L439.4 143.4L444.1 141.4L448.9 139.5L453.6 137.5L458.4 135.5L463.2 133.5L467.9 131.5L472.7 129.5L477.5 127.4L482.3 125.3L487 123.2L491.8 121.1L496.6 118.9L501.4 116.7L506.2 114.5L511 112.3L515.8 110L520.6 107.7L525.4 105.4L530.2 103.1L535 100.7L539.8 98.3L544.6 95.8L549.4 93.3L554.3 90.8L559.1 88.3L564 85.7L568.8 83M420.4 150.4L425.2 148.5L429.9 146.6L434.7 144.8L439.5 142.8L444.2 140.9L449 139L453.7 137L458.5 135.1L463.2 133.1L468 131.1L472.8 129L477.5 127L482.3 124.9L487.1 122.8L491.9 120.6L496.6 118.4L501.4 116.2L506.2 114L511 111.7L515.8 109.4L520.6 107.1L525.4 104.7L530.2 102.3L535 99.9L539.8 97.4L544.6 94.8L549.4 92.3L554.3 89.6L559.1 87L564 84.3M415.8 151.6L420.6 149.8L425.3 147.9L430.1 146.1L434.8 144.2L439.6 142.3L444.3 140.5L449.1 138.5L453.8 136.6L458.6 134.6L463.3 132.7L468.1 130.7L472.8 128.6L477.6 126.6L482.4 124.5L487.1 122.3L491.9 120.2L496.7 118L501.5 115.7L506.2 113.5L511 111.1L515.8 108.8L520.6 106.4L525.4 103.9L530.2 101.5L535 98.9L539.8 96.3L544.6 93.7L549.4 91L554.3 88.3L559.1 85.5M411.2 152.7L415.9 151L420.7 149.2L425.4 147.4L430.2 145.6L434.9 143.7L439.7 141.9L444.4 140L449.1 138.1L453.9 136.2L458.6 134.3L463.4 132.3L468.2 130.3L472.9 128.2L477.7 126.2L482.4 124.1L487.2 121.9L491.9 119.7L496.7 117.5L501.5 115.2L506.3 112.9L511 110.5L515.8 108.1L520.6 105.6L525.4 103L530.2 100.5L535 97.8L539.8 95.1L544.6 92.3L549.4 89.5L554.3 86.6M406.6 153.8L411.3 152.1L416.1 150.3L420.8 148.6L425.5 146.9L430.3 145.1L435 143.3L439.8 141.5L444.5 139.6L449.2 137.8L454 135.9L458.7 133.9L463.5 132L468.2 129.9L473 127.9L477.7 125.8L482.5 123.7L487.2 121.5L492 119.2L496.8 116.9L501.5 114.6L506.3 112.2L511.1 109.7L515.8 107.2L520.6 104.6L525.4 102L530.2 99.3L535 96.5L539.8 93.6L544.6 90.7L549.4 87.7M402 154.7L406.7 153.1L411.4 151.4L416.2 149.8L420.9 148.1L425.7 146.4L430.4 144.7L435.1 142.9L439.9 141.1L444.6 139.3L449.3 137.5L454.1 135.6L458.8 133.6L463.6 131.7L468.3 129.6L473 127.6L477.8 125.4L482.5 123.2L487.3 121L492 118.7L496.8 116.3L501.5 113.9L506.3 111.4L511.1 108.9L515.9 106.2L520.6 103.5L525.4 100.7L530.2 97.9L535 94.9L539.8 91.9L544.6 88.8M397.4 155.5L402.1 154L406.8 152.5L411.6 150.9L416.3 149.3L421 147.7L425.8 146L430.5 144.3L435.2 142.6L440 140.9L444.7 139.1L449.4 137.2L454.2 135.3L458.9 133.4L463.6 131.4L468.4 129.3L473.1 127.2L477.8 125L482.6 122.8L487.3 120.5L492.1 118.1L496.8 115.6L501.6 113.1L506.3 110.5L511.1 107.8L515.9 105L520.6 102.2L525.4 99.2L530.2 96.2L535 93.1L539.8 89.8M392.8 156.3L397.5 154.8L402.2 153.4L407 151.9L411.7 150.4L416.4 148.9L421.2 147.3L425.9 145.7L430.6 144.1L435.3 142.4L440.1 140.6L444.8 138.9L449.5 137L454.2 135.1L459 133.1L463.7 131.1L468.4 129L473.2 126.8L477.9 124.6L482.6 122.3L487.4 119.9L492.1 117.4L496.9 114.8L501.6 112.2L506.4 109.4L511.1 106.6L515.9 103.6L520.7 100.6L525.4 97.4L530.2 94.2L535 90.8M388.2 156.9L392.9 155.6L397.6 154.2L402.4 152.9L407.1 151.5L411.8 150.1L416.6 148.6L421.3 147.1L426 145.5L430.7 143.9L435.5 142.2L440.2 140.5L444.9 138.7L449.6 136.8L454.3 134.9L459.1 132.9L463.8 130.8L468.5 128.7L473.2 126.4L477.9 124.1L482.7 121.7L487.4 119.1L492.1 116.5L496.9 113.8L501.6 111L506.4 108.1L511.1 105.1L515.9 101.9L520.7 98.7L525.4 95.3L530.2 91.8M383.6 157.4L388.3 156.2L393.1 155L397.8 153.8L402.5 152.5L407.3 151.2L412 149.8L416.7 148.4L421.4 146.9L426.1 145.4L430.9 143.8L435.6 142.1L440.3 140.4L445 138.6L449.7 136.7L454.4 134.7L459.1 132.7L463.9 130.5L468.6 128.2L473.3 125.9L478 123.5L482.7 120.9L487.4 118.2L492.2 115.5L496.9 112.6L501.6 109.6L506.4 106.5L511.1 103.2L515.9 99.9L520.7 96.4L525.4 92.8" fill="none" stroke="#000" stroke-width="0.4" stroke-opacity="1"/><path d="M383.6 157.4L388.2 156.9L392.8 156.3L397.4 155.5L402 154.7L406.6 153.8L411.2 152.7L415.8 151.6L420.4 150.4L425.1 149.1L429.7 147.7L434.4 146.3L439 144.9L443.7 143.3L448.4 141.8L453.1 140.2L457.8 138.6L462.5 137L467.3 135.3L472 133.7L476.8 132.1L481.5 130.5L486.3 128.9L491.1 127.3L495.9 125.8L500.7 124.4L505.5 123L510.4 121.7L515.2 120.4L520.1 119.3L524.9 118.2L529.8 116.1L534.7 114.1L539.6 112L544.5 110L549.4 107.9L554.3 105.9L559.3 103.8L564.2 101.8L569.1 99.7L574 97.6L578.9 95.4L583.8 93.2L588.8 91L593.7 88.7L598.6 86.4L603.6 84L608.5 81.6L613.5 79.1L618.5 76.5L623.4 73.8L628.4 71.1L633.4 68.2L638.4 65.3L643.4 62.3L648.4 59.1L653.4 55.9L658.5 52.6L663.5 49.1L668.6 45.5L673.7 41.8" fill="none" stroke="#000" stroke-width="1.4" stroke-linejoin="round"/><circle cx="384" cy="163.9" r="0.9" fill="#a03030"/><circle cx="382.1" cy="132.9" r="0.9" fill="#a03030"/><circle cx="380.3" cy="101.9" r="0.9" fill="#a03030"/><circle cx="378.4" cy="71" r="0.9" fill="#a03030"/><circle cx="376.6" cy="40" r="0.9" fill="#a03030"/><text transform="translate(367.4 43.8) scale(0.75 1)" font-size="13.3" text-anchor="middle" font-family="Liberation Serif" font-weight="bold">96</text><text transform="translate(369.3 76) scale(0.75 1)" font-size="13.3" text-anchor="middle" font-family="Liberation Serif" font-weight="bold">93</text><text transform="translate(372 106.4) scale(0.75 1)" font-size="13.3" text-anchor="middle" font-family="Liberation Serif" font-weight="bold">90</text><text transform="translate(372.8 139.6) scale(0.75 1)" font-size="13.3" text-anchor="middle" font-family="Liberation Serif" font-weight="bold">87</text><text transform="translate(375.4 169) scale(0.75 1)" font-size="13.3" text-anchor="middle" font-family="Liberation Serif" font-weight="bold">84</text><circle cx="490.6" cy="245.6" r="1.1" fill="#111"/><circle cx="560.2" cy="245.6" r="1.1" fill="#111"/><circle cx="455.9" cy="231.4" r="1.1" fill="#111"/><circle cx="595" cy="231.4" r="1.1" fill="#111"/><circle cx="421.1" cy="217.2" r="1.1" fill="#111"/><circle cx="629.8" cy="217.3" r="1.1" fill="#111"/><text transform="translate(377.1 208) scale(0.75 1)" font-size="13.3" text-anchor="middle" font-family="Liberation Serif" font-weight="bold">40</text><text transform="translate(406 228) scale(0.75 1)" font-size="13.3" text-anchor="middle" font-family="Liberation Serif" font-weight="bold">32.5</text><text transform="translate(444.6 239.5) scale(0.75 1)" font-size="13.3" text-anchor="middle" font-family="Liberation Serif" font-weight="bold">25</text><text transform="translate(477.7 256.9) scale(0.75 1)" font-size="13.3" text-anchor="middle" font-family="Liberation Serif" font-weight="bold">17.5</text><text transform="translate(521.6 273.7) scale(0.75 1)" font-size="13.3" text-anchor="middle" font-family="Liberation Serif" font-weight="bold">10</text><text transform="translate(565.8 260.1) scale(0.75 1)" font-size="13.3" text-anchor="middle" font-family="Liberation Serif" font-weight="bold">32.25</text><text transform="translate(600.7 246.8) scale(0.75 1)" font-size="13.3" text-anchor="middle" font-family="Liberation Serif" font-weight="bold">62.5</text><text transform="translate(638 231.1) scale(0.75 1)" font-size="13.3" text-anchor="middle" font-family="Liberation Serif" font-weight="bold">88.75</text><text transform="translate(673 216.7) scale(0.75 1)" font-size="13.3" text-anchor="middle" font-family="Liberation Serif" font-weight="bold">115</text><text transform="translate(403.4 259.2) scale(0.75 1)" font-size="13.3" text-anchor="middle" font-family="Liberation Serif" font-weight="bold" textLength="100" lengthAdjust="spacingAndGlyphs">Con.aniline (mg/l)</text><text transform="translate(640.5 257.2) scale(0.75 1)" font-size="13.3" text-anchor="middle" font-family="Liberation Serif" font-weight="bold" textLength="57.2" lengthAdjust="spacingAndGlyphs">Time(min)</text><text transform="translate(345.7 141) rotate(-90)" x="0" y="5.1" font-size="15" text-anchor="middle" font-family="Liberation Serif" font-weight="bold" textLength="77" lengthAdjust="spacingAndGlyphs">Removal%</text><text transform="translate(418.4 69.7) scale(0.7 1)" font-size="15" text-anchor="middle" font-family="Liberation Sans" font-weight="bold">b</text><path d="M47.1 524.5L39.4 329.6" stroke="#8c8c8c" stroke-width="0.9" fill="none"/><path d="M310.7 510.5L316.9 322.1" stroke="#8c8c8c" stroke-width="0.9" fill="none"/><path d="M161.3 478.8L161.4 305.5" stroke="#8c8c8c" stroke-width="0.9" fill="none"/><path d="M39.4 329.6L161.4 305.5" stroke="#8c8c8c" stroke-width="0.9" fill="none"/><path d="M161.4 305.5L316.9 322.1" stroke="#8c8c8c" stroke-width="0.9" fill="none"/><path d="M206.3 571.2L310.7 510.5L161.3 478.8L47.1 524.5Z" fill="#fe8040" stroke="#444" stroke-width="0.7"/><clipPath id="fcc"><path d="M206.3 571.2L310.7 510.5L161.3 478.8L47.1 524.5Z"/></clipPath><g clip-path="url(#fcc)"><path d="M91.1 507.6C103 509.4 140.4 514.9 162.6 518.2C184.8 521.5 206.3 524.3 224 527.2C241.7 530.1 261.5 534 269 535.4" fill="none" stroke="#d6c23a" stroke-width="0.9" stroke-linejoin="round"/><path d="M72.7 517C84.3 518.7 120.4 524 142.2 527.2C164 530.4 185.1 533.1 203.5 536.2C221.9 539.3 244.4 544 252.6 545.6" fill="none" stroke="#d6c23a" stroke-width="0.9" stroke-linejoin="round"/><path d="M58.4 523.1C69 524.8 101 530 121.8 533.4C142.6 536.8 164 540.2 183.1 543.6C202.2 547 227.3 552.1 236.2 553.8" fill="none" stroke="#d6c23a" stroke-width="0.9" stroke-linejoin="round"/><path d="M80.9 535C91.1 537.1 119 543.2 142.2 547.7C165.4 552.2 206.9 559.6 219.9 562" fill="none" stroke="#d6c23a" stroke-width="0.9" stroke-linejoin="round"/><path d="M93.1 542.5C103.3 544.7 136.1 551.6 154.5 555.9C172.9 560.2 195.3 566.1 203.5 568.1" fill="none" stroke="#d6c23a" stroke-width="0.9" stroke-linejoin="round"/></g><path d="M206.3 571.2L47.1 524.5" stroke="#111" stroke-width="0.9" fill="none"/><path d="M206.3 571.2L310.7 510.5" stroke="#111" stroke-width="0.9" fill="none"/><style>.c0{fill:#5ad241}</style><g stroke="none"><path class="c0" d="M162.5 365l4-1.1-5.1-.9-4 1.1zM158.5 366.1l4-1.1-5.1-.9-4 1.1zM154.6 367.1l4-1.1-5.1-.8-4 1.1zM150.6 368.2l4-1-5.1-.8-4 1.1zM146.6 369.2l4-1-5.2-.8-4 1.1zM142.7 370.2l4-1-5.2-.7-4 1zM138.7 371.2l4-1-5.2-.7-4 1zM134.7 372.2l4-1-5.2-.7-4 1zM130.8 373.1l4-.9-5.2-.7-4 1zM126.8 374l4-.9-5.2-.6-4 .9zM122.8 374.9l4-.9-5.2-.6-4 .9zM118.8 375.8l4-.9-5.2-.6-4 .9zM114.9 376.7l4-.8-5.2-.6-4 .9zM110.9 377.5l4-.8-5.3-.6-4 .8zM106.9 378.2l4-.8-5.3-.6-4 .8zM102.9 379l4-.8-5.3-.5-4 .8zM99 379.7l4-.7-5.3-.5-4 .7zM95 380.4l4-.7-5.3-.5-4 .7zM91 381.1l4-.6-5.3-.5-4 .6zM87 381.7l4-.6-5.3-.6-4 .6zM83 382.2l4-.6-5.3-.6-4 .6zM79 382.8l4-.5-5.3-.6-4 .5zM75 383.3l4-.5-5.3-.6-4 .5zM71 383.7l4-.5-5.4-.6-4 .4zM67 384.1l4-.4-5.4-.7-4 .4zM63 384.5l4-.4-5.4-.7-4 .3zM59 384.8l4-.3-5.4-.7-4 .3zM55 385.1l4-.3-5.4-.8-4 .2zM51 385.3l4-.2-5.4-.8-4 .2zM47 385.4l4-.2-5.4-.9-4 .1zM167.6 365.8l4-1.1-5.1-.9-4 1.1zM163.7 366.9l4-1-5.1-.8-4 1.1zM159.7 367.9l4-1-5.1-.8-4 1.1zM155.8 368.9l4-1-5.1-.8-4 1zM151.8 369.9l4-1-5.2-.8-4 1zM147.8 370.9l4-1-5.2-.7-4 1zM143.9 371.9l4-1-5.2-.7-4 1zM139.9 372.8l4-.9-5.2-.7-4 1zM136 373.8l4-.9-5.2-.7-4 .9zM132 374.7l4-.9-5.2-.6-4 .9zM128 375.5l4-.9-5.2-.6-4 .9zM124.1 376.4l4-.9-5.2-.6-4 .9zM120.1 377.2l4-.8-5.2-.6-4 .8zM116.2 378l4-.8-5.3-.6-4 .8zM112.2 378.8l4-.8-5.3-.6-4 .8zM108.2 379.6l4-.7-5.3-.6-4 .8zM104.3 380.3l4-.7-5.3-.6-4 .7zM100.3 381l4-.7-5.3-.6-4 .7zM96.3 381.6l4-.7-5.3-.6-4 .6zM92.3 382.2l4-.6-5.3-.6-4 .6zM88.4 382.8l4-.6-5.3-.6-4 .6zM84.4 383.4l4-.6-5.3-.6-4 .5zM80.4 383.9l4-.5-5.3-.6-4 .5zM76.4 384.4l4-.5-5.4-.6-4 .5zM72.4 384.8l4-.4-5.4-.7-4 .4zM68.4 385.2l4-.4-5.4-.7-4 .4zM64.4 385.6l4-.4-5.4-.7-4 .3zM60.5 385.9l4-.3-5.4-.8-4 .3zM56.5 386.2l4-.3-5.4-.8-4 .2zM52.5 386.4l4-.2-5.4-.9-4 .2zM172.8 366.7l3.9-1-5.1-.9-4 1.1zM168.8 367.7l3.9-1-5.1-.8-4 1zM164.9 368.7l3.9-1-5.1-.8-4 1zM160.9 369.7l3.9-1-5.1-.8-4 1zM157 370.7l3.9-1-5.2-.8-4 1zM153 371.6l3.9-1-5.2-.7-4 1zM149.1 372.6l3.9-.9-5.2-.7-4 1zM145.1 373.5l3.9-.9-5.2-.7-4 .9zM141.2 374.4l3.9-.9-5.2-.7-4 .9zM137.2 375.3l4-.9-5.2-.6-4 .9zM133.3 376.2l4-.9-5.2-.6-4 .9zM129.3 377l4-.8-5.2-.6-4 .9zM125.4 377.8l4-.8-5.2-.6-4 .8zM121.4 378.6l4-.8-5.3-.6-4 .8zM117.5 379.4l4-.8-5.3-.6-4 .8zM113.5 380.1l4-.7-5.3-.6-4 .7zM109.5 380.9l4-.7-5.3-.6-4 .7zM105.6 381.5l4-.7-5.3-.6-4 .7zM101.6 382.2l4-.7-5.3-.6-4 .7zM97.7 382.8l4-.6-5.3-.6-4 .6zM93.7 383.4l4-.6-5.3-.6-4 .6zM89.7 384l4-.6-5.3-.6-4 .6zM85.8 384.5l4-.5-5.3-.6-4 .5zM81.8 385l4-.5-5.4-.6-4 .5zM77.8 385.5l4-.5-5.4-.7-4 .4zM73.8 385.9l4-.4-5.4-.7-4 .4zM69.9 386.3l4-.4-5.4-.7-4 .4zM65.9 386.7l4-.4-5.4-.8-4 .3zM61.9 387l4-.3-5.4-.8-4 .3zM57.9 387.3l4-.3-5.4-.8-4 .2zM177.9 367.5l3.9-1-5.1-.8-3.9 1zM174 368.5l3.9-1-5.1-.8-3.9 1zM170 369.5l3.9-1-5.1-.8-3.9 1zM166.1 370.4l3.9-1-5.1-.8-3.9 1zM162.1 371.4l3.9-1-5.2-.8-3.9 1zM158.2 372.3l3.9-.9-5.2-.7-3.9 1zM154.3 373.3l3.9-.9-5.2-.7-3.9 .9zM150.3 374.2l3.9-.9-5.2-.7-3.9 .9zM146.4 375.1l3.9-.9-5.2-.7-3.9 .9zM142.5 375.9l3.9-.9-5.2-.7-4 .9zM138.5 376.8l3.9-.9-5.2-.6-4 .9zM134.6 377.6l3.9-.8-5.2-.6-4 .8zM130.6 378.4l3.9-.8-5.2-.6-4 .8zM126.7 379.2l3.9-.8-5.3-.6-4 .8zM122.7 380l3.9-.8-5.3-.6-4 .8zM118.8 380.7l3.9-.7-5.3-.6-4 .7zM114.8 381.4l3.9-.7-5.3-.6-4 .7zM110.9 382.1l3.9-.7-5.3-.6-4 .7zM106.9 382.8l4-.7-5.3-.6-4 .7zM103 383.4l4-.6-5.3-.6-4 .6zM99 384.1l4-.6-5.3-.6-4 .6zM95.1 384.6l4-.6-5.3-.6-4 .6zM91.1 385.2l4-.6-5.3-.6-4 .5zM87.2 385.7l4-.5-5.4-.6-4 .5zM83.2 386.2l4-.5-5.4-.7-4 .5zM79.2 386.7l4-.5-5.4-.7-4 .4zM75.3 387.1l4-.4-5.4-.7-4 .4zM71.3 387.5l4-.4-5.4-.7-4 .4zM67.3 387.8l4-.4-5.4-.8-4 .3zM63.3 388.1l4-.3-5.4-.8-4 .3zM183 368.3l3.9-1-5.1-.8-3.9 1zM179.1 369.3l3.9-1-5.1-.8-3.9 1zM175.2 370.2l3.9-1-5.1-.8-3.9 1zM171.2 371.2l3.9-1-5.1-.8-3.9 1zM167.3 372.1l3.9-.9-5.2-.7-3.9 1zM163.4 373l3.9-.9-5.2-.7-3.9 .9zM159.5 374l3.9-.9-5.2-.7-3.9 .9zM155.5 374.9l3.9-.9-5.2-.7-3.9 .9zM151.6 375.7l3.9-.9-5.2-.7-3.9 .9zM147.7 376.6l3.9-.9-5.2-.7-3.9 .9zM143.7 377.4l3.9-.8-5.2-.7-3.9 .9zM139.8 378.2l3.9-.8-5.2-.6-3.9 .8zM135.9 379.1l3.9-.8-5.2-.6-3.9 .8zM131.9 379.8l3.9-.8-5.3-.6-3.9 .8zM128 380.6l3.9-.8-5.3-.6-3.9 .8zM124.1 381.3l3.9-.7-5.3-.6-3.9 .7zM120.1 382.1l3.9-.7-5.3-.6-3.9 .7zM116.2 382.7l3.9-.7-5.3-.6-3.9 .7zM112.3 383.4l3.9-.7-5.3-.6-4 .7zM108.3 384.1l3.9-.6-5.3-.6-4 .6zM104.4 384.7l3.9-.6-5.3-.6-4 .6zM100.4 385.3l3.9-.6-5.3-.6-4 .6zM96.5 385.8l3.9-.6-5.4-.6-4 .6zM92.5 386.4l3.9-.5-5.4-.7-4 .5zM88.6 386.9l4-.5-5.4-.7-4 .5zM84.6 387.4l4-.5-5.4-.7-4 .5zM80.7 387.8l4-.4-5.4-.7-4 .4zM76.7 388.2l4-.4-5.4-.7-4 .4zM72.7 388.6l4-.4-5.4-.8-4 .4zM68.8 389l4-.4-5.4-.8-4 .3zM188.1 369.1l3.9-1-5.1-.8-3.9 1zM184.2 370l3.9-1-5.1-.8-3.9 1zM180.3 371l3.9-1-5.1-.8-3.9 1zM176.4 371.9l3.9-.9-5.1-.8-3.9 1zM172.5 372.9l3.9-.9-5.2-.7-3.9 .9zM168.6 373.8l3.9-.9-5.2-.7-3.9 .9zM164.7 374.7l3.9-.9-5.2-.7-3.9 .9zM160.7 375.5l3.9-.9-5.2-.7-3.9 .9zM156.8 376.4l3.9-.9-5.2-.7-3.9 .9zM152.9 377.3l3.9-.8-5.2-.7-3.9 .9zM149 378.1l3.9-.8-5.2-.7-3.9 .8zM145.1 378.9l3.9-.8-5.2-.7-3.9 .8zM141.1 379.7l3.9-.8-5.2-.6-3.9 .8zM137.2 380.5l3.9-.8-5.3-.6-3.9 .8zM133.3 381.2l3.9-.8-5.3-.6-3.9 .8zM129.4 382l3.9-.7-5.3-.6-3.9 .7zM125.4 382.7l3.9-.7-5.3-.6-3.9 .7zM121.5 383.4l3.9-.7-5.3-.6-3.9 .7zM117.6 384l3.9-.7-5.3-.6-3.9 .7zM113.6 384.7l3.9-.6-5.3-.6-3.9 .6zM109.7 385.3l3.9-.6-5.3-.6-3.9 .6zM105.8 385.9l3.9-.6-5.3-.6-3.9 .6zM101.8 386.5l3.9-.6-5.4-.6-3.9 .6zM97.9 387l3.9-.6-5.4-.7-3.9 .5zM94 387.6l3.9-.5-5.4-.7-4 .5zM90 388.1l3.9-.5-5.4-.7-4 .5zM86.1 388.5l3.9-.5-5.4-.7-4 .4zM82.1 389l3.9-.4-5.4-.7-4 .4zM78.2 389.4l4-.4-5.4-.8-4 .4zM74.2 389.8l4-.4-5.4-.8-4 .4zM193.3 369.9l3.9-1-5.1-.8-3.9 1zM189.4 370.8l3.9-1-5.1-.8-3.9 1zM185.5 371.8l3.9-.9-5.1-.8-3.9 1zM181.6 372.7l3.9-.9-5.1-.8-3.9 .9zM177.7 373.6l3.9-.9-5.2-.7-3.9 .9zM173.8 374.5l3.9-.9-5.2-.7-3.9 .9zM169.8 375.4l3.9-.9-5.2-.7-3.9 .9zM165.9 376.2l3.9-.9-5.2-.7-3.9 .9zM162 377.1l3.9-.9-5.2-.7-3.9 .9zM158.1 377.9l3.9-.8-5.2-.7-3.9 .8zM154.2 378.8l3.9-.8-5.2-.7-3.9 .8zM150.3 379.6l3.9-.8-5.2-.7-3.9 .8zM146.4 380.4l3.9-.8-5.2-.7-3.9 .8zM142.5 381.1l3.9-.8-5.3-.7-3.9 .8zM138.6 381.9l3.9-.8-5.3-.7-3.9 .8zM134.7 382.6l3.9-.7-5.3-.6-3.9 .7zM130.7 383.3l3.9-.7-5.3-.6-3.9 .7zM126.8 384l3.9-.7-5.3-.6-3.9 .7zM122.9 384.7l3.9-.7-5.3-.6-3.9 .7zM119 385.3l3.9-.7-5.3-.6-3.9 .6zM115.1 386l3.9-.6-5.3-.6-3.9 .6zM111.1 386.6l3.9-.6-5.3-.6-3.9 .6zM107.2 387.2l3.9-.6-5.4-.7-3.9 .6zM103.3 387.7l3.9-.6-5.4-.7-3.9 .6zM99.3 388.3l3.9-.5-5.4-.7-3.9 .5zM95.4 388.8l3.9-.5-5.4-.7-3.9 .5zM91.5 389.3l3.9-.5-5.4-.7-3.9 .5zM87.5 389.7l3.9-.5-5.4-.7-3.9 .4zM83.6 390.2l3.9-.4-5.4-.7-4 .4zM79.7 390.6l3.9-.4-5.4-.8-4 .4zM198.4 370.6l3.9-1-5.1-.8-3.9 1zM194.5 371.6l3.9-.9-5.1-.8-3.9 1zM190.6 372.5l3.9-.9-5.1-.8-3.9 .9zM186.7 373.4l3.9-.9-5.1-.8-3.9 .9zM182.8 374.3l3.9-.9-5.2-.8-3.9 .9zM178.9 375.2l3.9-.9-5.2-.7-3.9 .9zM175 376.1l3.9-.9-5.2-.7-3.9 .9zM171.1 377l3.9-.9-5.2-.7-3.9 .9zM167.2 377.8l3.9-.8-5.2-.7-3.9 .9zM163.4 378.6l3.9-.8-5.2-.7-3.9 .8zM159.5 379.5l3.9-.8-5.2-.7-3.9 .8zM155.6 380.3l3.9-.8-5.2-.7-3.9 .8zM151.7 381l3.9-.8-5.2-.7-3.9 .8zM147.8 381.8l3.9-.8-5.3-.7-3.9 .8zM143.8 382.5l3.9-.7-5.3-.7-3.9 .8zM139.9 383.3l3.9-.7-5.3-.7-3.9 .7zM136 384l3.9-.7-5.3-.7-3.9 .7zM132.1 384.7l3.9-.7-5.3-.7-3.9 .7zM128.2 385.3l3.9-.7-5.3-.7-3.9 .7zM124.3 386l3.9-.7-5.3-.7-3.9 .7zM120.4 386.6l3.9-.6-5.3-.7-3.9 .6zM116.5 387.2l3.9-.6-5.3-.7-3.9 .6zM112.6 387.8l3.9-.6-5.4-.7-3.9 .6zM108.7 388.4l3.9-.6-5.4-.7-3.9 .6zM104.7 388.9l3.9-.5-5.4-.7-3.9 .5zM100.8 389.5l3.9-.5-5.4-.7-3.9 .5zM96.9 390l3.9-.5-5.4-.7-3.9 .5zM93 390.4l3.9-.5-5.4-.7-3.9 .5zM89 390.9l3.9-.5-5.4-.7-3.9 .4zM85.1 391.3l3.9-.4-5.4-.7-3.9 .4zM203.5 371.4l3.9-1-5.1-.8-3.9 1zM199.6 372.3l3.9-.9-5.1-.8-3.9 .9zM195.8 373.3l3.9-.9-5.1-.8-3.9 .9zM191.9 374.2l3.9-.9-5.1-.8-3.9 .9zM188 375.1l3.9-.9-5.2-.8-3.9 .9zM184.1 376l3.9-.9-5.2-.7-3.9 .9zM180.2 376.8l3.9-.9-5.2-.7-3.9 .9zM176.3 377.7l3.9-.9-5.2-.7-3.9 .9zM172.5 378.5l3.9-.8-5.2-.7-3.9 .8zM168.6 379.4l3.9-.8-5.2-.7-3.9 .8zM164.7 380.2l3.9-.8-5.2-.7-3.9 .8zM160.8 381l3.9-.8-5.2-.7-3.9 .8zM156.9 381.7l3.9-.8-5.2-.7-3.9 .8zM153 382.5l3.9-.8-5.3-.7-3.9 .8zM149.1 383.2l3.9-.7-5.3-.7-3.9 .7zM145.2 384l3.9-.7-5.3-.7-3.9 .7zM141.3 384.7l3.9-.7-5.3-.7-3.9 .7zM137.4 385.3l3.9-.7-5.3-.7-3.9 .7zM133.5 386l3.9-.7-5.3-.7-3.9 .7zM129.6 386.7l3.9-.7-5.3-.7-3.9 .7zM125.7 387.3l3.9-.6-5.3-.7-3.9 .6zM121.8 387.9l3.9-.6-5.3-.7-3.9 .6zM117.9 388.5l3.9-.6-5.4-.7-3.9 .6zM114 389.1l3.9-.6-5.4-.7-3.9 .6zM110.1 389.6l3.9-.6-5.4-.7-3.9 .5zM106.2 390.2l3.9-.5-5.4-.7-3.9 .5zM102.3 390.7l3.9-.5-5.4-.7-3.9 .5zM98.4 391.2l3.9-.5-5.4-.7-3.9 .5zM94.5 391.6l3.9-.5-5.4-.7-3.9 .5zM90.5 392.1l3.9-.4-5.4-.7-3.9 .4zM208.6 372.2l3.9-1-5.1-.8-3.9 1zM204.8 373.1l3.9-.9-5.1-.8-3.9 .9zM200.9 374l3.9-.9-5.1-.8-3.9 .9zM197 374.9l3.9-.9-5.1-.8-3.9 .9zM193.2 375.8l3.9-.9-5.2-.8-3.9 .9zM189.3 376.7l3.9-.9-5.2-.8-3.9 .9zM185.4 377.6l3.9-.9-5.2-.8-3.9 .9zM181.6 378.4l3.9-.9-5.2-.7-3.9 .9zM177.7 379.3l3.9-.8-5.2-.7-3.9 .8zM173.8 380.1l3.9-.8-5.2-.7-3.9 .8zM169.9 380.9l3.9-.8-5.2-.7-3.9 .8zM166.1 381.7l3.9-.8-5.2-.7-3.9 .8zM162.2 382.4l3.9-.8-5.2-.7-3.9 .8zM158.3 383.2l3.9-.8-5.3-.7-3.9 .8zM154.4 383.9l3.9-.7-5.3-.7-3.9 .7zM150.5 384.7l3.9-.7-5.3-.7-3.9 .7zM146.6 385.4l3.9-.7-5.3-.7-3.9 .7zM142.8 386l3.9-.7-5.3-.7-3.9 .7zM138.9 386.7l3.9-.7-5.3-.7-3.9 .7zM135 387.4l3.9-.6-5.3-.7-3.9 .7zM131.1 388l3.9-.6-5.3-.7-3.9 .6zM127.2 388.6l3.9-.6-5.3-.7-3.9 .6zM123.3 389.2l3.9-.6-5.4-.7-3.9 .6zM119.4 389.8l3.9-.6-5.4-.7-3.9 .6zM115.5 390.3l3.9-.6-5.4-.7-3.9 .6zM111.6 390.8l3.9-.5-5.4-.7-3.9 .5zM107.7 391.4l3.9-.5-5.4-.7-3.9 .5zM103.8 391.9l3.9-.5-5.4-.7-3.9 .5zM99.9 392.3l3.9-.5-5.4-.7-3.9 .5zM96 392.8l3.9-.5-5.4-.7-3.9 .4zM213.8 372.9l3.9-1-5.1-.8-3.9 1zM209.9 373.9l3.9-.9-5.1-.8-3.9 .9zM206.1 374.8l3.9-.9-5.1-.8-3.9 .9zM202.2 375.7l3.9-.9-5.1-.8-3.9 .9zM198.3 376.6l3.9-.9-5.2-.8-3.9 .9zM194.5 377.5l3.9-.9-5.2-.8-3.9 .9zM190.6 378.3l3.9-.9-5.2-.8-3.9 .9zM186.8 379.2l3.9-.8-5.2-.8-3.9 .9zM182.9 380l3.9-.8-5.2-.8-3.9 .8zM179 380.8l3.9-.8-5.2-.8-3.9 .8zM175.2 381.6l3.9-.8-5.2-.8-3.9 .8zM171.3 382.4l3.9-.8-5.2-.7-3.9 .8zM167.4 383.2l3.9-.8-5.2-.7-3.9 .8zM163.6 383.9l3.9-.7-5.3-.7-3.9 .8zM159.7 384.7l3.9-.7-5.3-.7-3.9 .7zM155.8 385.4l3.9-.7-5.3-.7-3.9 .7zM151.9 386.1l3.9-.7-5.3-.7-3.9 .7zM148.1 386.8l3.9-.7-5.3-.7-3.9 .7zM144.2 387.4l3.9-.7-5.3-.7-3.9 .7zM140.3 388.1l3.9-.6-5.3-.7-3.9 .6zM136.4 388.7l3.9-.6-5.3-.7-3.9 .6zM132.6 389.3l3.9-.6-5.3-.7-3.9 .6zM128.7 389.9l3.9-.6-5.4-.7-3.9 .6zM124.8 390.5l3.9-.6-5.4-.7-3.9 .6zM120.9 391l3.9-.6-5.4-.7-3.9 .6zM117 391.5l3.9-.5-5.4-.7-3.9 .5zM113.1 392l3.9-.5-5.4-.7-3.9 .5zM109.2 392.5l3.9-.5-5.4-.7-3.9 .5zM105.3 393l3.9-.5-5.4-.7-3.9 .5zM101.4 393.5l3.9-.5-5.4-.7-3.9 .5zM218.9 373.7l3.8-1-5.1-.8-3.9 1zM215.1 374.6l3.8-.9-5.1-.8-3.9 .9zM211.2 375.6l3.8-.9-5.1-.8-3.9 .9zM207.4 376.5l3.8-.9-5.1-.8-3.9 .9zM203.5 377.4l3.8-.9-5.2-.8-3.9 .9zM199.7 378.3l3.8-.9-5.2-.8-3.9 .9zM195.8 379.1l3.8-.9-5.2-.8-3.9 .9zM192 380l3.9-.8-5.2-.8-3.9 .8zM188.1 380.8l3.9-.8-5.2-.8-3.9 .8zM184.3 381.6l3.9-.8-5.2-.8-3.9 .8zM180.4 382.4l3.9-.8-5.2-.8-3.9 .8zM176.6 383.2l3.9-.8-5.2-.8-3.9 .8zM172.7 383.9l3.9-.8-5.2-.8-3.9 .8zM168.8 384.7l3.9-.7-5.3-.8-3.9 .7zM165 385.4l3.9-.7-5.3-.8-3.9 .7zM161.1 386.1l3.9-.7-5.3-.8-3.9 .7zM157.3 386.8l3.9-.7-5.3-.7-3.9 .7zM153.4 387.5l3.9-.7-5.3-.7-3.9 .7zM149.5 388.1l3.9-.7-5.3-.7-3.9 .7zM145.7 388.8l3.9-.6-5.3-.7-3.9 .6zM141.8 389.4l3.9-.6-5.3-.7-3.9 .6zM137.9 390l3.9-.6-5.3-.7-3.9 .6zM134 390.6l3.9-.6-5.4-.7-3.9 .6zM130.2 391.1l3.9-.6-5.4-.7-3.9 .6zM126.3 391.7l3.9-.5-5.4-.7-3.9 .6zM122.4 392.2l3.9-.5-5.4-.7-3.9 .5zM118.5 392.7l3.9-.5-5.4-.7-3.9 .5zM114.7 393.2l3.9-.5-5.4-.7-3.9 .5zM110.8 393.7l3.9-.5-5.4-.7-3.9 .5zM106.9 394.1l3.9-.4-5.4-.7-3.9 .5zM224 374.4l3.8-1-5.1-.7-3.8 1zM220.2 375.4l3.8-1-5.1-.8-3.8 .9zM216.4 376.3l3.8-.9-5.1-.8-3.8 .9zM212.5 377.3l3.8-.9-5.1-.8-3.8 .9zM208.7 378.2l3.8-.9-5.2-.8-3.8 .9zM204.8 379l3.8-.9-5.2-.8-3.8 .9zM201 379.9l3.8-.9-5.2-.8-3.8 .9zM197.2 380.8l3.8-.8-5.2-.8-3.9 .8zM193.3 381.6l3.8-.8-5.2-.8-3.9 .8zM189.5 382.4l3.8-.8-5.2-.8-3.9 .8zM185.6 383.2l3.8-.8-5.2-.8-3.9 .8zM181.8 384l3.8-.8-5.2-.8-3.9 .8zM178 384.7l3.8-.8-5.2-.8-3.9 .8zM174.1 385.5l3.8-.7-5.3-.8-3.9 .7zM170.3 386.2l3.8-.7-5.3-.8-3.9 .7zM166.4 386.9l3.8-.7-5.3-.8-3.9 .7zM162.6 387.6l3.9-.7-5.3-.8-3.9 .7zM158.7 388.2l3.9-.7-5.3-.8-3.9 .7zM154.9 388.9l3.9-.6-5.3-.8-3.9 .7zM151 389.5l3.9-.6-5.3-.7-3.9 .6zM147.1 390.1l3.9-.6-5.3-.7-3.9 .6zM143.3 390.7l3.9-.6-5.3-.7-3.9 .6zM139.4 391.3l3.9-.6-5.4-.7-3.9 .6zM135.6 391.8l3.9-.6-5.4-.7-3.9 .6zM131.7 392.4l3.9-.5-5.4-.7-3.9 .5zM127.8 392.9l3.9-.5-5.4-.7-3.9 .5zM123.9 393.4l3.9-.5-5.4-.7-3.9 .5zM120.1 393.9l3.9-.5-5.4-.7-3.9 .5zM116.2 394.3l3.9-.5-5.4-.7-3.9 .5zM112.3 394.8l3.9-.4-5.4-.6-3.9 .4zM229.1 375.2l3.8-1-5.1-.7-3.8 1zM225.3 376.2l3.8-1-5.1-.8-3.8 1zM221.5 377.1l3.8-.9-5.1-.8-3.8 .9zM217.7 378l3.8-.9-5.1-.8-3.8 .9zM213.9 378.9l3.8-.9-5.2-.8-3.8 .9zM210 379.8l3.8-.9-5.2-.8-3.8 .9zM206.2 380.7l3.8-.9-5.2-.8-3.8 .9zM202.4 381.6l3.8-.9-5.2-.8-3.8 .8zM198.5 382.4l3.8-.8-5.2-.8-3.8 .8zM194.7 383.2l3.8-.8-5.2-.8-3.8 .8zM190.9 384l3.8-.8-5.2-.8-3.8 .8zM187.1 384.8l3.8-.8-5.2-.8-3.8 .8zM183.2 385.5l3.8-.8-5.3-.8-3.8 .8zM179.4 386.3l3.8-.7-5.3-.8-3.8 .7zM175.5 387l3.8-.7-5.3-.8-3.8 .7zM171.7 387.7l3.8-.7-5.3-.8-3.8 .7zM167.9 388.4l3.8-.7-5.3-.8-3.9 .7zM164 389l3.8-.7-5.3-.8-3.9 .7zM160.2 389.7l3.8-.6-5.3-.8-3.9 .6zM156.3 390.3l3.8-.6-5.3-.8-3.9 .6zM152.5 390.9l3.8-.6-5.3-.8-3.9 .6zM148.6 391.5l3.8-.6-5.3-.7-3.9 .6zM144.8 392l3.9-.6-5.4-.7-3.9 .6zM140.9 392.6l3.9-.5-5.4-.7-3.9 .6zM137.1 393.1l3.9-.5-5.4-.7-3.9 .5zM133.2 393.6l3.9-.5-5.4-.7-3.9 .5zM129.4 394.1l3.9-.5-5.4-.7-3.9 .5zM125.5 394.5l3.9-.5-5.4-.7-3.9 .5zM121.6 395l3.9-.4-5.4-.6-3.9 .5zM117.8 395.4l3.9-.4-5.4-.6-3.9 .4zM234.3 375.9l3.8-1-5.1-.7-3.8 1zM230.5 376.9l3.8-1-5.1-.8-3.8 1zM226.7 377.9l3.8-1-5.1-.8-3.8 .9zM222.8 378.8l3.8-.9-5.1-.8-3.8 .9zM219 379.7l3.8-.9-5.2-.8-3.8 .9zM215.2 380.6l3.8-.9-5.2-.8-3.8 .9zM211.4 381.5l3.8-.9-5.2-.8-3.8 .9zM207.6 382.4l3.8-.9-5.2-.8-3.8 .9zM203.8 383.2l3.8-.8-5.2-.8-3.8 .8zM199.9 384l3.8-.8-5.2-.8-3.8 .8zM196.1 384.8l3.8-.8-5.2-.8-3.8 .8zM192.3 385.6l3.8-.8-5.2-.8-3.8 .8zM188.5 386.4l3.8-.8-5.3-.8-3.8 .8zM184.7 387.1l3.8-.7-5.3-.8-3.8 .7zM180.8 387.8l3.8-.7-5.3-.8-3.8 .7zM177 388.5l3.8-.7-5.3-.8-3.8 .7zM173.2 389.2l3.8-.7-5.3-.8-3.8 .7zM169.3 389.8l3.8-.6-5.3-.8-3.8 .7zM165.5 390.4l3.8-.6-5.3-.8-3.8 .6zM161.7 391l3.8-.6-5.3-.8-3.8 .6zM157.8 391.6l3.8-.6-5.3-.8-3.8 .6zM154 392.2l3.8-.6-5.4-.8-3.8 .6zM150.2 392.7l3.8-.5-5.4-.7-3.9 .6zM146.3 393.3l3.8-.5-5.4-.7-3.9 .5zM142.5 393.8l3.8-.5-5.4-.7-3.9 .5zM138.6 394.2l3.8-.5-5.4-.7-3.9 .5zM134.8 394.7l3.8-.5-5.4-.7-3.9 .5zM130.9 395.2l3.9-.4-5.4-.7-3.9 .5zM127.1 395.6l3.9-.4-5.4-.6-3.9 .4zM123.2 396l3.9-.4-5.4-.6-3.9 .4zM239.4 376.7l3.8-1-5.1-.7-3.8 1zM235.6 377.7l3.8-1-5.1-.8-3.8 1zM231.8 378.7l3.8-1-5.1-.8-3.8 1zM228 379.6l3.8-1-5.1-.8-3.8 .9zM224.2 380.6l3.8-.9-5.2-.8-3.8 .9zM220.4 381.5l3.8-.9-5.2-.8-3.8 .9zM216.6 382.4l3.8-.9-5.2-.8-3.8 .9zM212.8 383.2l3.8-.9-5.2-.8-3.8 .9zM209 384.1l3.8-.8-5.2-.8-3.8 .8zM205.2 384.9l3.8-.8-5.2-.8-3.8 .8zM201.4 385.7l3.8-.8-5.2-.9-3.8 .8zM197.6 386.5l3.8-.8-5.2-.9-3.8 .8zM193.7 387.2l3.8-.8-5.3-.9-3.8 .8zM189.9 387.9l3.8-.7-5.3-.9-3.8 .7zM186.1 388.6l3.8-.7-5.3-.8-3.8 .7zM182.3 389.3l3.8-.7-5.3-.8-3.8 .7zM178.5 390l3.8-.7-5.3-.8-3.8 .7zM174.7 390.6l3.8-.6-5.3-.8-3.8 .6zM170.8 391.2l3.8-.6-5.3-.8-3.8 .6zM167 391.8l3.8-.6-5.3-.8-3.8 .6zM163.2 392.4l3.8-.6-5.3-.8-3.8 .6zM159.4 393l3.8-.5-5.4-.8-3.8 .6zM155.5 393.5l3.8-.5-5.4-.8-3.8 .5zM151.7 394l3.8-.5-5.4-.7-3.8 .5zM147.9 394.5l3.8-.5-5.4-.7-3.8 .5zM144 394.9l3.8-.5-5.4-.7-3.8 .5zM140.2 395.4l3.8-.4-5.4-.7-3.8 .5zM136.3 395.8l3.8-.4-5.4-.7-3.9 .4zM132.5 396.2l3.8-.4-5.4-.6-3.9 .4zM128.7 396.5l3.8-.4-5.4-.6-3.9 .4zM244.5 377.5l3.8-1-5.1-.7-3.8 1zM240.7 378.5l3.8-1-5.1-.8-3.8 1zM236.9 379.5l3.8-1-5.1-.8-3.8 1zM233.2 380.5l3.8-1-5.1-.8-3.8 1zM229.4 381.4l3.8-.9-5.2-.8-3.8 .9zM225.6 382.3l3.8-.9-5.2-.8-3.8 .9zM221.8 383.2l3.8-.9-5.2-.8-3.8 .9zM218 384.1l3.8-.9-5.2-.9-3.8 .9zM214.2 384.9l3.8-.8-5.2-.9-3.8 .8zM210.4 385.8l3.8-.8-5.2-.9-3.8 .8zM206.6 386.6l3.8-.8-5.2-.9-3.8 .8zM202.8 387.3l3.8-.8-5.2-.9-3.8 .8zM199 388.1l3.8-.7-5.3-.9-3.8 .8zM195.2 388.8l3.8-.7-5.3-.9-3.8 .7zM191.4 389.5l3.8-.7-5.3-.9-3.8 .7zM187.6 390.2l3.8-.7-5.3-.9-3.8 .7zM183.8 390.8l3.8-.7-5.3-.9-3.8 .7zM180 391.5l3.8-.6-5.3-.8-3.8 .6zM176.2 392.1l3.8-.6-5.3-.8-3.8 .6zM172.4 392.6l3.8-.6-5.3-.8-3.8 .6zM168.5 393.2l3.8-.6-5.3-.8-3.8 .6zM164.7 393.7l3.8-.5-5.4-.8-3.8 .5zM160.9 394.2l3.8-.5-5.4-.8-3.8 .5zM157.1 394.7l3.8-.5-5.4-.7-3.8 .5zM153.3 395.2l3.8-.5-5.4-.7-3.8 .5zM149.4 395.6l3.8-.4-5.4-.7-3.8 .5zM145.6 396l3.8-.4-5.4-.7-3.8 .4zM141.8 396.4l3.8-.4-5.4-.6-3.8 .4zM137.9 396.8l3.8-.4-5.4-.6-3.8 .4zM134.1 397.1l3.8-.3-5.4-.6-3.8 .4zM249.7 378.2l3.8-1.1-5.1-.7-3.8 1zM245.9 379.3l3.8-1-5.1-.8-3.8 1zM242.1 380.3l3.8-1-5.1-.8-3.8 1zM238.3 381.3l3.8-1-5.1-.8-3.8 1zM234.5 382.3l3.8-1-5.2-.8-3.8 .9zM230.8 383.2l3.8-.9-5.2-.8-3.8 .9zM227 384.1l3.8-.9-5.2-.9-3.8 .9zM223.2 385l3.8-.9-5.2-.9-3.8 .9zM219.4 385.8l3.8-.9-5.2-.9-3.8 .8zM215.6 386.7l3.8-.8-5.2-.9-3.8 .8zM211.8 387.5l3.8-.8-5.2-.9-3.8 .8zM208.1 388.2l3.8-.8-5.2-.9-3.8 .8zM204.3 389l3.8-.7-5.3-.9-3.8 .7zM200.5 389.7l3.8-.7-5.3-.9-3.8 .7zM196.7 390.4l3.8-.7-5.3-.9-3.8 .7zM192.9 391.1l3.8-.7-5.3-.9-3.8 .7zM189.1 391.7l3.8-.6-5.3-.9-3.8 .7zM185.3 392.3l3.8-.6-5.3-.9-3.8 .6zM181.5 392.9l3.8-.6-5.3-.9-3.8 .6zM177.7 393.5l3.8-.6-5.3-.8-3.8 .6zM173.9 394l3.8-.5-5.3-.8-3.8 .6zM170.1 394.5l3.8-.5-5.4-.8-3.8 .5zM166.3 395l3.8-.5-5.4-.8-3.8 .5zM162.5 395.4l3.8-.5-5.4-.8-3.8 .5zM158.7 395.9l3.8-.4-5.4-.7-3.8 .5zM154.8 396.3l3.8-.4-5.4-.7-3.8 .4zM151 396.6l3.8-.4-5.4-.7-3.8 .4zM147.2 397l3.8-.4-5.4-.6-3.8 .4zM143.4 397.3l3.8-.3-5.4-.6-3.8 .4zM139.6 397.6l3.8-.3-5.4-.6-3.8 .3zM254.8 379l3.8-1.1-5.1-.7-3.8 1.1zM251 380.1l3.8-1.1-5.1-.8-3.8 1zM247.2 381.1l3.8-1-5.1-.8-3.8 1zM243.5 382.1l3.8-1-5.1-.8-3.8 1zM239.7 383.1l3.8-1-5.2-.8-3.8 1zM235.9 384.1l3.8-1-5.2-.9-3.8 .9zM232.2 385l3.8-.9-5.2-.9-3.8 .9zM228.4 385.9l3.8-.9-5.2-.9-3.8 .9zM224.6 386.7l3.8-.9-5.2-.9-3.8 .9zM220.9 387.6l3.8-.8-5.2-.9-3.8 .8zM217.1 388.4l3.8-.8-5.2-.9-3.8 .8zM213.3 389.2l3.8-.8-5.2-.9-3.8 .8zM209.5 389.9l3.8-.7-5.3-.9-3.8 .7zM205.7 390.6l3.8-.7-5.3-.9-3.8 .7zM202 391.3l3.8-.7-5.3-.9-3.8 .7zM198.2 392l3.8-.7-5.3-.9-3.8 .7zM194.4 392.6l3.8-.6-5.3-.9-3.8 .6zM190.6 393.2l3.8-.6-5.3-.9-3.8 .6zM186.8 393.8l3.8-.6-5.3-.9-3.8 .6zM183 394.3l3.8-.5-5.3-.9-3.8 .6zM179.2 394.8l3.8-.5-5.3-.8-3.8 .5zM175.5 395.3l3.8-.5-5.4-.8-3.8 .5zM171.7 395.7l3.8-.5-5.4-.8-3.8 .5zM167.9 396.2l3.8-.4-5.4-.8-3.8 .5zM164.1 396.6l3.8-.4-5.4-.7-3.8 .4zM160.2 396.9l3.8-.4-5.4-.7-3.8 .4zM156.4 397.3l3.8-.3-5.4-.7-3.8 .4zM152.6 397.6l3.8-.3-5.4-.6-3.8 .4zM148.8 397.9l3.8-.3-5.4-.6-3.8 .3zM145 398.1l3.8-.3-5.4-.6-3.8 .3zM259.9 379.8l3.8-1.1-5.1-.7-3.8 1.1zM256.1 380.9l3.8-1.1-5.1-.8-3.8 1.1zM252.4 382l3.8-1.1-5.1-.8-3.8 1zM248.6 383l3.8-1-5.1-.8-3.8 1zM244.9 384l3.8-1-5.2-.9-3.8 1zM241.1 385l3.8-1-5.2-.9-3.8 1zM237.4 385.9l3.8-.9-5.2-.9-3.8 .9zM233.6 386.8l3.8-.9-5.2-.9-3.8 .9zM229.8 387.7l3.8-.9-5.2-.9-3.8 .9zM226.1 388.5l3.8-.8-5.2-.9-3.8 .8zM222.3 389.3l3.8-.8-5.2-.9-3.8 .8zM218.6 390.1l3.8-.8-5.2-1-3.8 .8zM214.8 390.9l3.8-.7-5.3-1-3.8 .7zM211 391.6l3.8-.7-5.3-1-3.8 .7zM207.3 392.2l3.8-.7-5.3-.9-3.8 .7zM203.5 392.9l3.8-.6-5.3-.9-3.8 .7zM199.7 393.5l3.8-.6-5.3-.9-3.8 .6zM195.9 394.1l3.8-.6-5.3-.9-3.8 .6zM192.2 394.6l3.8-.6-5.3-.9-3.8 .6zM188.4 395.2l3.8-.5-5.3-.9-3.8 .5zM184.6 395.6l3.8-.5-5.3-.9-3.8 .5zM180.8 396.1l3.8-.5-5.4-.8-3.8 .5zM177 396.5l3.8-.4-5.4-.8-3.8 .5zM173.2 396.9l3.8-.4-5.4-.8-3.8 .4zM169.5 397.3l3.8-.4-5.4-.7-3.8 .4zM165.7 397.6l3.8-.3-5.4-.7-3.8 .4zM161.9 397.9l3.8-.3-5.4-.7-3.8 .3zM158.1 398.2l3.8-.3-5.4-.6-3.8 .3zM154.3 398.4l3.8-.2-5.4-.6-3.8 .3zM150.5 398.6l3.8-.2-5.4-.5-3.8 .3zM265 380.6l3.7-1.2-5.1-.8-3.8 1.1zM261.3 381.7l3.7-1.1-5.1-.8-3.8 1.1zM257.5 382.8l3.7-1.1-5.1-.8-3.8 1.1zM253.8 383.9l3.7-1.1-5.1-.9-3.8 1zM250 384.9l3.7-1-5.2-.9-3.8 1zM246.3 385.9l3.7-1-5.2-.9-3.8 1zM242.6 386.9l3.7-1-5.2-.9-3.8 .9zM238.8 387.8l3.7-.9-5.2-.9-3.8 .9zM235.1 388.7l3.7-.9-5.2-1-3.8 .9zM231.3 389.5l3.7-.8-5.2-1-3.8 .8zM227.6 390.3l3.8-.8-5.2-1-3.8 .8zM223.8 391.1l3.8-.8-5.2-1-3.8 .8zM220.1 391.8l3.8-.7-5.3-1-3.8 .7zM216.3 392.5l3.8-.7-5.3-1-3.8 .7zM212.5 393.2l3.8-.7-5.3-1-3.8 .7zM208.8 393.8l3.8-.6-5.3-1-3.8 .6zM205 394.4l3.8-.6-5.3-1-3.8 .6zM201.3 395l3.8-.6-5.3-.9-3.8 .6zM197.5 395.5l3.8-.5-5.3-.9-3.8 .6zM193.7 396l3.8-.5-5.3-.9-3.8 .5zM190 396.5l3.8-.5-5.3-.9-3.8 .5zM186.2 396.9l3.8-.4-5.4-.9-3.8 .5zM182.4 397.3l3.8-.4-5.4-.8-3.8 .4zM178.6 397.7l3.8-.4-5.4-.8-3.8 .4zM174.8 398l3.8-.3-5.4-.8-3.8 .4zM171.1 398.3l3.8-.3-5.4-.7-3.8 .3zM167.3 398.5l3.8-.3-5.4-.7-3.8 .3zM163.5 398.8l3.8-.2-5.4-.6-3.8 .3zM159.7 398.9l3.8-.2-5.4-.6-3.8 .2zM155.9 399.1l3.8-.2-5.4-.5-3.8 .2zM270.1 381.4l3.7-1.2-5.1-.8-3.7 1.2zM266.4 382.5l3.7-1.2-5.1-.8-3.7 1.1zM262.7 383.7l3.7-1.1-5.1-.8-3.7 1.1zM258.9 384.8l3.7-1.1-5.1-.9-3.7 1.1zM255.2 385.8l3.7-1.1-5.2-.9-3.7 1zM251.5 386.8l3.7-1-5.2-.9-3.7 1zM247.7 387.8l3.7-1-5.2-.9-3.7 1zM244 388.8l3.7-.9-5.2-1-3.7 .9zM240.3 389.7l3.7-.9-5.2-1-3.7 .9zM236.5 390.5l3.7-.9-5.2-1-3.7 .8zM232.8 391.3l3.7-.8-5.2-1-3.8 .8zM229.1 392.1l3.7-.8-5.2-1-3.8 .8zM225.3 392.8l3.7-.7-5.2-1-3.8 .7zM221.6 393.5l3.7-.7-5.3-1-3.8 .7zM217.8 394.2l3.7-.7-5.3-1-3.8 .7zM214.1 394.8l3.7-.6-5.3-1-3.8 .6zM210.3 395.4l3.7-.6-5.3-1-3.8 .6zM206.6 396l3.8-.5-5.3-1-3.8 .6zM202.8 396.5l3.8-.5-5.3-.9-3.8 .5zM199.1 396.9l3.8-.5-5.3-.9-3.8 .5zM195.3 397.4l3.8-.4-5.3-.9-3.8 .5zM191.5 397.8l3.8-.4-5.4-.9-3.8 .4zM187.8 398.1l3.8-.4-5.4-.8-3.8 .4zM184 398.4l3.8-.3-5.4-.8-3.8 .4zM180.2 398.7l3.8-.3-5.4-.8-3.8 .3zM176.5 399l3.8-.2-5.4-.7-3.8 .3zM172.7 399.2l3.8-.2-5.4-.7-3.8 .3zM168.9 399.3l3.8-.2-5.4-.6-3.8 .2zM165.1 399.5l3.8-.1-5.4-.6-3.8 .2zM161.4 399.6l3.8-.1-5.4-.5-3.8 .2zM275.3 382.2l3.7-1.3-5.1-.8-3.7 1.2zM271.5 383.4l3.7-1.2-5.1-.8-3.7 1.2zM267.8 384.6l3.7-1.2-5.1-.9-3.7 1.1zM264.1 385.7l3.7-1.1-5.1-.9-3.7 1.1zM260.4 386.8l3.7-1.1-5.2-.9-3.7 1.1zM256.7 387.8l3.7-1-5.2-.9-3.7 1zM252.9 388.8l3.7-1-5.2-1-3.7 1zM249.2 389.8l3.7-1-5.2-1-3.7 .9zM245.5 390.7l3.7-.9-5.2-1-3.7 .9zM241.8 391.5l3.7-.9-5.2-1-3.7 .9zM238 392.4l3.7-.8-5.2-1-3.7 .8zM234.3 393.1l3.7-.8-5.2-1-3.7 .8zM230.6 393.9l3.7-.7-5.2-1-3.7 .7zM226.8 394.6l3.7-.7-5.3-1-3.7 .7zM223.1 395.2l3.7-.7-5.3-1-3.7 .7zM219.4 395.8l3.7-.6-5.3-1-3.7 .6zM215.6 396.4l3.7-.6-5.3-1-3.7 .6zM211.9 396.9l3.7-.5-5.3-1-3.8 .5zM208.2 397.4l3.7-.5-5.3-1-3.8 .5zM204.4 397.9l3.7-.4-5.3-.9-3.8 .5zM200.7 398.2l3.7-.4-5.3-.9-3.8 .4zM196.9 398.6l3.7-.4-5.4-.9-3.8 .4zM193.2 398.9l3.8-.3-5.4-.8-3.8 .4zM189.4 399.2l3.8-.3-5.4-.8-3.8 .3zM185.6 399.4l3.8-.2-5.4-.8-3.8 .3zM181.9 399.6l3.8-.2-5.4-.7-3.8 .2zM178.1 399.8l3.8-.2-5.4-.7-3.8 .2zM174.4 399.9l3.8-.1-5.4-.6-3.8 .2zM170.6 400l3.8-.1-5.4-.6-3.8 .1zM166.8 400l3.8 0-5.4-.5-3.8 .1zM280.4 383l3.7-1.3-5.1-.8-3.7 1.3zM276.7 384.3l3.7-1.3-5.1-.8-3.7 1.2zM273 385.5l3.7-1.2-5.1-.9-3.7 1.2zM269.3 386.6l3.7-1.2-5.1-.9-3.7 1.1zM265.5 387.7l3.7-1.1-5.2-.9-3.7 1.1zM261.8 388.8l3.7-1.1-5.2-1-3.7 1zM258.1 389.8l3.7-1-5.2-1-3.7 1zM254.4 390.8l3.7-1-5.2-1-3.7 1zM250.7 391.7l3.7-.9-5.2-1-3.7 .9zM247 392.6l3.7-.9-5.2-1-3.7 .9zM243.3 393.4l3.7-.8-5.2-1.1-3.7 .8zM239.6 394.2l3.7-.8-5.2-1.1-3.7 .8zM235.8 394.9l3.7-.7-5.2-1.1-3.7 .7zM232.1 395.6l3.7-.7-5.3-1.1-3.7 .7zM228.4 396.3l3.7-.6-5.3-1.1-3.7 .7zM224.7 396.9l3.7-.6-5.3-1-3.7 .6zM220.9 397.4l3.7-.5-5.3-1-3.7 .6zM217.2 397.9l3.7-.5-5.3-1-3.7 .5zM213.5 398.4l3.7-.5-5.3-1-3.7 .5zM209.8 398.8l3.7-.4-5.3-1-3.7 .4zM206 399.2l3.7-.4-5.3-.9-3.7 .4zM202.3 399.5l3.7-.3-5.4-.9-3.7 .4zM198.5 399.7l3.7-.3-5.4-.9-3.8 .3zM194.8 400l3.7-.2-5.4-.8-3.8 .3zM191.1 400.2l3.7-.2-5.4-.8-3.8 .2zM187.3 400.3l3.8-.1-5.4-.7-3.8 .2zM183.5 400.4l3.8-.1-5.4-.7-3.8 .2zM179.8 400.4l3.8 0-5.4-.6-3.8 .1zM176 400.4l3.8 0-5.4-.6-3.8 .1zM172.3 400.4l3.8 0-5.4-.5-3.8 0zM285.5 383.8l3.7-1.4-5.1-.8-3.7 1.3zM281.8 385.1l3.7-1.3-5.1-.8-3.7 1.3zM278.1 386.4l3.7-1.2-5.1-.9-3.7 1.2zM274.4 387.6l3.7-1.2-5.1-.9-3.7 1.2zM270.7 388.7l3.7-1.1-5.2-1-3.7 1.1zM267 389.8l3.7-1.1-5.2-1-3.7 1.1zM263.3 390.9l3.7-1-5.2-1-3.7 1zM259.6 391.9l3.7-1-5.2-1-3.7 1zM255.9 392.8l3.7-.9-5.2-1.1-3.7 .9zM252.2 393.7l3.7-.9-5.2-1.1-3.7 .9zM248.5 394.5l3.7-.8-5.2-1.1-3.7 .8zM244.8 395.3l3.7-.8-5.2-1.1-3.7 .8zM241.1 396l3.7-.7-5.2-1.1-3.7 .7zM237.4 396.7l3.7-.7-5.3-1.1-3.7 .7zM233.7 397.3l3.7-.6-5.3-1.1-3.7 .6zM230 397.9l3.7-.6-5.3-1.1-3.7 .6zM226.3 398.5l3.7-.5-5.3-1.1-3.7 .5zM222.5 398.9l3.7-.5-5.3-1-3.7 .5zM218.8 399.4l3.7-.4-5.3-1-3.7 .5zM215.1 399.7l3.7-.4-5.3-1-3.7 .4zM211.4 400.1l3.7-.3-5.3-1-3.7 .4zM207.6 400.4l3.7-.3-5.4-.9-3.7 .3zM203.9 400.6l3.7-.2-5.4-.9-3.7 .3zM200.2 400.8l3.7-.2-5.4-.8-3.7 .2zM196.5 400.9l3.7-.1-5.4-.8-3.7 .2zM192.7 401l3.7-.1-5.4-.7-3.8 .1zM189 401l3.7 0-5.4-.7-3.8 .1zM185.2 401l3.7 0-5.4-.6-3.8 0zM181.5 400.9l3.8 .1-5.4-.5-3.8 0zM177.7 400.8l3.8 .1-5.4-.5-3.8 0zM290.6 384.7l3.7-1.4-5.1-.8-3.7 1.4zM286.9 386.1l3.7-1.3-5.1-.9-3.7 1.3zM283.3 387.3l3.7-1.3-5.1-.9-3.7 1.2zM279.6 388.6l3.7-1.2-5.1-.9-3.7 1.2zM275.9 389.8l3.7-1.2-5.2-1-3.7 1.1zM272.2 390.9l3.7-1.1-5.2-1-3.7 1.1zM268.5 391.9l3.7-1.1-5.2-1-3.7 1zM264.8 393l3.7-1-5.2-1.1-3.7 1zM261.1 393.9l3.7-1-5.2-1.1-3.7 .9zM257.4 394.8l3.7-.9-5.2-1.1-3.7 .9zM253.7 395.6l3.7-.8-5.2-1.1-3.7 .8zM250 396.4l3.7-.8-5.2-1.1-3.7 .8zM246.4 397.2l3.7-.7-5.2-1.1-3.7 .7zM242.7 397.8l3.7-.7-5.3-1.1-3.7 .7zM239 398.5l3.7-.6-5.3-1.1-3.7 .6zM235.3 399l3.7-.6-5.3-1.1-3.7 .6zM231.6 399.5l3.7-.5-5.3-1.1-3.7 .5zM227.9 400l3.7-.5-5.3-1.1-3.7 .5zM224.2 400.4l3.7-.4-5.3-1-3.7 .4zM220.4 400.7l3.7-.3-5.3-1-3.7 .4zM216.7 401l3.7-.3-5.3-1-3.7 .3zM213 401.2l3.7-.2-5.4-.9-3.7 .3zM209.3 401.4l3.7-.2-5.4-.9-3.7 .2zM205.6 401.6l3.7-.1-5.4-.8-3.7 .2zM201.9 401.6l3.7-.1-5.4-.8-3.7 .1zM198.1 401.6l3.7 0-5.4-.7-3.7 .1zM194.4 401.6l3.7 0-5.4-.7-3.7 0zM190.7 401.5l3.7 .1-5.4-.6-3.7 0zM186.9 401.4l3.7 .1-5.4-.5-3.8-.1zM183.2 401.2l3.7 .2-5.4-.5-3.8-.1zM295.8 385.6l3.7-1.5-5.1-.8-3.7 1.4zM292.1 387l3.7-1.4-5.1-.9-3.7 1.3zM288.4 388.3l3.7-1.3-5.1-.9-3.7 1.3zM284.7 389.6l3.7-1.3-5.1-1-3.7 1.2zM281 390.8l3.7-1.2-5.2-1-3.7 1.2zM277.4 392l3.7-1.2-5.2-1-3.7 1.1zM273.7 393l3.7-1.1-5.2-1.1-3.7 1.1zM270 394.1l3.7-1-5.2-1.1-3.7 1zM266.3 395l3.7-1-5.2-1.1-3.7 1zM262.7 396l3.7-.9-5.2-1.1-3.7 .9zM259 396.8l3.7-.8-5.2-1.2-3.7 .8zM255.3 397.6l3.7-.8-5.2-1.2-3.7 .8zM251.6 398.3l3.7-.7-5.2-1.2-3.7 .7zM247.9 399l3.7-.7-5.3-1.2-3.7 .7zM244.2 399.6l3.7-.6-5.3-1.1-3.7 .6zM240.6 400.1l3.7-.5-5.3-1.1-3.7 .6zM236.9 400.6l3.7-.5-5.3-1.1-3.7 .5zM233.2 401l3.7-.4-5.3-1.1-3.7 .5zM229.5 401.4l3.7-.4-5.3-1.1-3.7 .4zM225.8 401.7l3.7-.3-5.3-1-3.7 .3zM222.1 402l3.7-.2-5.3-1-3.7 .3zM218.4 402.2l3.7-.2-5.4-1-3.7 .2zM214.7 402.3l3.7-.1-5.4-.9-3.7 .2zM211 402.4l3.7-.1-5.4-.9-3.7 .1zM207.3 402.4l3.7 0-5.4-.8-3.7 .1zM203.5 402.3l3.7 0-5.4-.7-3.7 0zM199.8 402.2l3.7 .1-5.4-.7-3.7 0zM196.1 402.1l3.7 .2-5.4-.6-3.7-.1zM192.4 401.8l3.7 .2-5.4-.5-3.7-.1zM188.6 401.6l3.7 .3-5.4-.5-3.7-.2zM300.9 386.5l3.7-1.5-5.1-.8-3.7 1.5zM297.2 387.9l3.7-1.4-5.1-.9-3.7 1.4zM293.5 389.3l3.7-1.4-5.1-.9-3.7 1.3zM289.9 390.6l3.7-1.3-5.1-1-3.7 1.3zM286.2 391.9l3.7-1.3-5.2-1-3.7 1.2zM282.5 393.1l3.7-1.2-5.2-1.1-3.7 1.2zM278.9 394.2l3.7-1.1-5.2-1.1-3.7 1.1zM275.2 395.2l3.7-1.1-5.2-1.1-3.7 1zM271.5 396.2l3.7-1-5.2-1.2-3.7 1zM267.9 397.1l3.7-.9-5.2-1.2-3.7 .9zM264.2 398l3.7-.9-5.2-1.2-3.7 .8zM260.5 398.8l3.7-.8-5.2-1.2-3.7 .8zM256.9 399.5l3.7-.7-5.2-1.2-3.7 .7zM253.2 400.2l3.7-.7-5.3-1.2-3.7 .7zM249.5 400.8l3.7-.6-5.3-1.2-3.7 .6zM245.9 401.3l3.7-.5-5.3-1.2-3.7 .5zM242.2 401.7l3.7-.5-5.3-1.1-3.7 .5zM238.5 402.1l3.7-.4-5.3-1.1-3.7 .4zM234.8 402.5l3.7-.3-5.3-1.1-3.7 .4zM231.1 402.7l3.7-.3-5.3-1.1-3.7 .3zM227.4 402.9l3.7-.2-5.3-1-3.7 .2zM223.8 403.1l3.7-.1-5.4-1-3.7 .2zM220.1 403.2l3.7-.1-5.4-.9-3.7 .1zM216.4 403.2l3.7 0-5.4-.9-3.7 .1zM212.7 403.1l3.7 .1-5.4-.8-3.7 0zM209 403l3.7 .1-5.4-.7-3.7 0zM205.2 402.8l3.7 .2-5.4-.7-3.7-.1zM201.5 402.6l3.7 .2-5.4-.6-3.7-.2zM197.8 402.3l3.7 .3-5.4-.5-3.7-.2zM194.1 401.9l3.7 .4-5.4-.4-3.7-.3zM306 387.4l3.7-1.6-5.1-.9-3.7 1.5zM302.3 388.9l3.7-1.5-5.1-.9-3.7 1.4zM298.7 390.3l3.7-1.4-5.1-1-3.7 1.4zM295 391.7l3.7-1.4-5.1-1-3.7 1.3zM291.4 393l3.7-1.3-5.2-1.1-3.7 1.3zM287.7 394.2l3.7-1.2-5.2-1.1-3.7 1.2zM284.1 395.3l3.7-1.1-5.2-1.1-3.7 1.1zM280.4 396.4l3.7-1.1-5.2-1.2-3.7 1.1zM276.7 397.4l3.7-1-5.2-1.2-3.7 1zM273.1 398.4l3.7-.9-5.2-1.2-3.7 .9zM269.4 399.2l3.7-.9-5.2-1.2-3.7 .9zM265.8 400l3.7-.8-5.2-1.2-3.7 .8zM262.1 400.7l3.7-.7-5.2-1.2-3.7 .7zM258.5 401.4l3.7-.6-5.3-1.2-3.7 .7zM254.8 401.9l3.7-.6-5.3-1.2-3.7 .6zM251.1 402.5l3.7-.5-5.3-1.2-3.7 .5zM247.5 402.9l3.7-.4-5.3-1.2-3.7 .5zM243.8 403.3l3.7-.4-5.3-1.1-3.7 .4zM240.1 403.6l3.7-.3-5.3-1.1-3.7 .3zM236.5 403.8l3.7-.2-5.3-1.1-3.7 .3zM232.8 403.9l3.7-.2-5.3-1-3.7 .2zM229.1 404l3.7-.1-5.4-1-3.7 .1zM225.4 404l3.7 0-5.4-.9-3.7 .1zM221.8 404l3.7 .1-5.4-.9-3.7 0zM218.1 403.9l3.7 .1-5.4-.8-3.7-.1zM214.4 403.7l3.7 .2-5.4-.8-3.7-.1zM210.7 403.4l3.7 .3-5.4-.7-3.7-.2zM207 403.1l3.7 .3-5.4-.6-3.7-.2zM203.3 402.7l3.7 .4-5.4-.5-3.7-.3zM199.6 402.3l3.7 .5-5.5-.4-3.7-.4zM311.1 388.3l3.7-1.6-5.1-.9-3.7 1.6zM307.5 389.9l3.7-1.6-5.1-.9-3.7 1.5zM303.8 391.4l3.6-1.5-5.1-1-3.7 1.4zM300.2 392.8l3.6-1.4-5.1-1-3.7 1.4zM296.5 394.1l3.6-1.3-5.1-1.1-3.7 1.3zM292.9 395.4l3.6-1.3-5.2-1.1-3.7 1.2zM289.2 396.5l3.6-1.2-5.2-1.2-3.7 1.1zM285.6 397.6l3.6-1.1-5.2-1.2-3.7 1.1zM282 398.7l3.6-1-5.2-1.2-3.7 1zM278.3 399.6l3.6-.9-5.2-1.2-3.7 .9zM274.7 400.5l3.6-.9-5.2-1.3-3.7 .9zM271 401.3l3.6-.8-5.2-1.3-3.7 .8zM267.4 402l3.6-.7-5.2-1.3-3.7 .7zM263.7 402.6l3.6-.6-5.3-1.3-3.7 .6zM260.1 403.2l3.6-.6-5.3-1.2-3.7 .6zM256.4 403.7l3.6-.5-5.3-1.2-3.7 .5zM252.8 404.1l3.7-.4-5.3-1.2-3.7 .4zM249.1 404.4l3.7-.3-5.3-1.2-3.7 .4zM245.5 404.7l3.7-.3-5.3-1.1-3.7 .3zM241.8 404.8l3.7-.2-5.3-1.1-3.7 .2zM238.2 404.9l3.7-.1-5.3-1.1-3.7 .2zM234.5 405l3.7 0-5.4-1-3.7 .1zM230.8 404.9l3.7 0-5.4-1-3.7 0zM227.2 404.8l3.7 .1-5.4-.9-3.7-.1zM223.5 404.6l3.7 .2-5.4-.8-3.7-.1zM219.8 404.4l3.7 .3-5.4-.8-3.7-.2zM216.1 404l3.7 .3-5.4-.7-3.7-.3zM212.4 403.6l3.7 .4-5.4-.6-3.7-.3zM208.7 403.1l3.7 .5-5.4-.5-3.7-.4zM205 402.6l3.7 .6-5.5-.4-3.7-.5z"/></g><path d="M205 402.6L199.6 402.3L194.1 401.9L188.6 401.6L183.2 401.2L177.7 400.8L172.3 400.4L166.8 400L161.4 399.6L155.9 399.1L150.5 398.6L145 398.1L139.6 397.6L134.1 397.1L128.7 396.5L123.2 396L117.8 395.4L112.3 394.8L106.9 394.1L101.4 393.5L96 392.8L90.5 392.1L85.1 391.3L79.7 390.6L74.2 389.8L68.8 389L63.3 388.1L57.9 387.3L52.5 386.4L47 385.4L41.6 384.5M208.7 403.1L203.3 402.7L197.8 402.3L192.4 401.8L186.9 401.4L181.5 400.9L176 400.4L170.6 400L165.1 399.5L159.7 398.9L154.3 398.4L148.8 397.9L143.4 397.3L137.9 396.8L132.5 396.2L127.1 395.6L121.6 395L116.2 394.3L110.8 393.7L105.3 393L99.9 392.3L94.5 391.6L89 390.9L83.6 390.2L78.2 389.4L72.7 388.6L67.3 387.8L61.9 387L56.5 386.2L51 385.3L45.6 384.4M212.4 403.6L207 403.1L201.5 402.6L196.1 402.1L190.7 401.5L185.2 401L179.8 400.4L174.4 399.9L168.9 399.3L163.5 398.8L158.1 398.2L152.6 397.6L147.2 397L141.8 396.4L136.3 395.8L130.9 395.2L125.5 394.5L120.1 393.9L114.7 393.2L109.2 392.5L103.8 391.9L98.4 391.2L93 390.4L87.5 389.7L82.1 389L76.7 388.2L71.3 387.5L65.9 386.7L60.5 385.9L55 385.1L49.6 384.2M216.1 404L210.7 403.4L205.2 402.8L199.8 402.2L194.4 401.6L189 401L183.5 400.4L178.1 399.8L172.7 399.2L167.3 398.5L161.9 397.9L156.4 397.3L151 396.6L145.6 396L140.2 395.4L134.8 394.7L129.4 394.1L123.9 393.4L118.5 392.7L113.1 392L107.7 391.4L102.3 390.7L96.9 390L91.5 389.3L86.1 388.5L80.7 387.8L75.3 387.1L69.9 386.3L64.4 385.6L59 384.8L53.6 384M219.8 404.4L214.4 403.7L209 403L203.5 402.3L198.1 401.6L192.7 401L187.3 400.3L181.9 399.6L176.5 399L171.1 398.3L165.7 397.6L160.2 396.9L154.8 396.3L149.4 395.6L144 394.9L138.6 394.2L133.2 393.6L127.8 392.9L122.4 392.2L117 391.5L111.6 390.8L106.2 390.2L100.8 389.5L95.4 388.8L90 388.1L84.6 387.4L79.2 386.7L73.8 385.9L68.4 385.2L63 384.5L57.7 383.8M223.5 404.6L218.1 403.9L212.7 403.1L207.3 402.4L201.9 401.6L196.5 400.9L191.1 400.2L185.6 399.4L180.2 398.7L174.8 398L169.5 397.3L164.1 396.6L158.7 395.9L153.3 395.2L147.9 394.5L142.5 393.8L137.1 393.1L131.7 392.4L126.3 391.7L120.9 391L115.5 390.3L110.1 389.6L104.7 388.9L99.3 388.3L94 387.6L88.6 386.9L83.2 386.2L77.8 385.5L72.4 384.8L67 384.1L61.7 383.4M227.2 404.8L221.8 404L216.4 403.2L211 402.4L205.6 401.6L200.2 400.8L194.8 400L189.4 399.2L184 398.4L178.6 397.7L173.2 396.9L167.9 396.2L162.5 395.4L157.1 394.7L151.7 394L146.3 393.3L140.9 392.6L135.6 391.8L130.2 391.1L124.8 390.5L119.4 389.8L114 389.1L108.7 388.4L103.3 387.7L97.9 387L92.5 386.4L87.2 385.7L81.8 385L76.4 384.4L71 383.7L65.7 383.1M230.8 404.9L225.4 404L220.1 403.2L214.7 402.3L209.3 401.4L203.9 400.6L198.5 399.7L193.2 398.9L187.8 398.1L182.4 397.3L177 396.5L171.7 395.7L166.3 395L160.9 394.2L155.5 393.5L150.2 392.7L144.8 392L139.4 391.3L134 390.6L128.7 389.9L123.3 389.2L117.9 388.5L112.6 387.8L107.2 387.2L101.8 386.5L96.5 385.8L91.1 385.2L85.8 384.5L80.4 383.9L75 383.3L69.7 382.6M234.5 405L229.1 404L223.8 403.1L218.4 402.2L213 401.2L207.6 400.4L202.3 399.5L196.9 398.6L191.5 397.8L186.2 396.9L180.8 396.1L175.5 395.3L170.1 394.5L164.7 393.7L159.4 393L154 392.2L148.6 391.5L143.3 390.7L137.9 390L132.6 389.3L127.2 388.6L121.8 387.9L116.5 387.2L111.1 386.6L105.8 385.9L100.4 385.3L95.1 384.6L89.7 384L84.4 383.4L79 382.8L73.7 382.2M238.2 404.9L232.8 403.9L227.4 402.9L222.1 402L216.7 401L211.4 400.1L206 399.2L200.7 398.2L195.3 397.4L190 396.5L184.6 395.6L179.2 394.8L173.9 394L168.5 393.2L163.2 392.4L157.8 391.6L152.5 390.9L147.1 390.1L141.8 389.4L136.4 388.7L131.1 388L125.7 387.3L120.4 386.6L115.1 386L109.7 385.3L104.4 384.7L99 384.1L93.7 383.4L88.4 382.8L83 382.2L77.7 381.7M241.8 404.8L236.5 403.8L231.1 402.7L225.8 401.7L220.4 400.7L215.1 399.7L209.8 398.8L204.4 397.9L199.1 396.9L193.7 396L188.4 395.2L183 394.3L177.7 393.5L172.4 392.6L167 391.8L161.7 391L156.3 390.3L151 389.5L145.7 388.8L140.3 388.1L135 387.4L129.6 386.7L124.3 386L119 385.3L113.6 384.7L108.3 384.1L103 383.4L97.7 382.8L92.3 382.2L87 381.7L81.7 381.1M245.5 404.7L240.1 403.6L234.8 402.5L229.5 401.4L224.2 400.4L218.8 399.4L213.5 398.4L208.2 397.4L202.8 396.5L197.5 395.5L192.2 394.6L186.8 393.8L181.5 392.9L176.2 392.1L170.8 391.2L165.5 390.4L160.2 389.7L154.9 388.9L149.5 388.1L144.2 387.4L138.9 386.7L133.5 386L128.2 385.3L122.9 384.7L117.6 384L112.3 383.4L106.9 382.8L101.6 382.2L96.3 381.6L91 381.1L85.7 380.5M249.1 404.4L243.8 403.3L238.5 402.1L233.2 401L227.9 400L222.5 398.9L217.2 397.9L211.9 396.9L206.6 396L201.3 395L195.9 394.1L190.6 393.2L185.3 392.3L180 391.5L174.7 390.6L169.3 389.8L164 389L158.7 388.2L153.4 387.5L148.1 386.8L142.8 386L137.4 385.3L132.1 384.7L126.8 384L121.5 383.4L116.2 382.7L110.9 382.1L105.6 381.5L100.3 381L95 380.4L89.7 379.9M252.8 404.1L247.5 402.9L242.2 401.7L236.9 400.6L231.6 399.5L226.3 398.5L220.9 397.4L215.6 396.4L210.3 395.4L205 394.4L199.7 393.5L194.4 392.6L189.1 391.7L183.8 390.8L178.5 390L173.2 389.2L167.9 388.4L162.6 387.6L157.3 386.8L151.9 386.1L146.6 385.4L141.3 384.7L136 384L130.7 383.3L125.4 382.7L120.1 382.1L114.8 381.4L109.5 380.9L104.3 380.3L99 379.7L93.7 379.2M256.4 403.7L251.1 402.5L245.9 401.3L240.6 400.1L235.3 399L230 397.9L224.7 396.9L219.4 395.8L214.1 394.8L208.8 393.8L203.5 392.9L198.2 392L192.9 391.1L187.6 390.2L182.3 389.3L177 388.5L171.7 387.7L166.4 386.9L161.1 386.1L155.8 385.4L150.5 384.7L145.2 384L139.9 383.3L134.7 382.6L129.4 382L124.1 381.3L118.8 380.7L113.5 380.1L108.2 379.6L102.9 379L97.7 378.5M260.1 403.2L254.8 401.9L249.5 400.8L244.2 399.6L239 398.5L233.7 397.3L228.4 396.3L223.1 395.2L217.8 394.2L212.5 393.2L207.3 392.2L202 391.3L196.7 390.4L191.4 389.5L186.1 388.6L180.8 387.8L175.5 387L170.3 386.2L165 385.4L159.7 384.7L154.4 383.9L149.1 383.2L143.8 382.5L138.6 381.9L133.3 381.2L128 380.6L122.7 380L117.5 379.4L112.2 378.8L106.9 378.2L101.6 377.7M263.7 402.6L258.5 401.4L253.2 400.2L247.9 399L242.7 397.8L237.4 396.7L232.1 395.6L226.8 394.6L221.6 393.5L216.3 392.5L211 391.6L205.7 390.6L200.5 389.7L195.2 388.8L189.9 387.9L184.7 387.1L179.4 386.3L174.1 385.5L168.8 384.7L163.6 383.9L158.3 383.2L153 382.5L147.8 381.8L142.5 381.1L137.2 380.5L131.9 379.8L126.7 379.2L121.4 378.6L116.2 378L110.9 377.5L105.6 376.9M267.4 402L262.1 400.7L256.9 399.5L251.6 398.3L246.4 397.2L241.1 396L235.8 394.9L230.6 393.9L225.3 392.8L220.1 391.8L214.8 390.9L209.5 389.9L204.3 389L199 388.1L193.7 387.2L188.5 386.4L183.2 385.5L178 384.7L172.7 383.9L167.4 383.2L162.2 382.4L156.9 381.7L151.7 381L146.4 380.4L141.1 379.7L135.9 379.1L130.6 378.4L125.4 377.8L120.1 377.2L114.9 376.7L109.6 376.1M271 401.3L265.8 400L260.5 398.8L255.3 397.6L250 396.4L244.8 395.3L239.6 394.2L234.3 393.1L229.1 392.1L223.8 391.1L218.6 390.1L213.3 389.2L208.1 388.2L202.8 387.3L197.6 386.5L192.3 385.6L187.1 384.8L181.8 384L176.6 383.2L171.3 382.4L166.1 381.7L160.8 381L155.6 380.3L150.3 379.6L145.1 378.9L139.8 378.2L134.6 377.6L129.3 377L124.1 376.4L118.8 375.8L113.6 375.2M274.7 400.5L269.4 399.2L264.2 398L259 396.8L253.7 395.6L248.5 394.5L243.3 393.4L238 392.4L232.8 391.3L227.6 390.3L222.3 389.3L217.1 388.4L211.8 387.5L206.6 386.6L201.4 385.7L196.1 384.8L190.9 384L185.6 383.2L180.4 382.4L175.2 381.6L169.9 380.9L164.7 380.2L159.5 379.5L154.2 378.8L149 378.1L143.7 377.4L138.5 376.8L133.3 376.2L128 375.5L122.8 374.9L117.6 374.3M278.3 399.6L273.1 398.4L267.9 397.1L262.7 396L257.4 394.8L252.2 393.7L247 392.6L241.8 391.5L236.5 390.5L231.3 389.5L226.1 388.5L220.9 387.6L215.6 386.7L210.4 385.8L205.2 384.9L199.9 384L194.7 383.2L189.5 382.4L184.3 381.6L179 380.8L173.8 380.1L168.6 379.4L163.4 378.6L158.1 377.9L152.9 377.3L147.7 376.6L142.5 375.9L137.2 375.3L132 374.7L126.8 374L121.6 373.4M282 398.7L276.7 397.4L271.5 396.2L266.3 395L261.1 393.9L255.9 392.8L250.7 391.7L245.5 390.7L240.3 389.7L235.1 388.7L229.8 387.7L224.6 386.7L219.4 385.8L214.2 384.9L209 384.1L203.8 383.2L198.5 382.4L193.3 381.6L188.1 380.8L182.9 380L177.7 379.3L172.5 378.5L167.2 377.8L162 377.1L156.8 376.4L151.6 375.7L146.4 375.1L141.2 374.4L136 373.8L130.8 373.1L125.5 372.5M285.6 397.6L280.4 396.4L275.2 395.2L270 394.1L264.8 393L259.6 391.9L254.4 390.8L249.2 389.8L244 388.8L238.8 387.8L233.6 386.8L228.4 385.9L223.2 385L218 384.1L212.8 383.2L207.6 382.4L202.4 381.6L197.2 380.8L192 380L186.8 379.2L181.6 378.4L176.3 377.7L171.1 377L165.9 376.2L160.7 375.5L155.5 374.9L150.3 374.2L145.1 373.5L139.9 372.8L134.7 372.2L129.5 371.5M289.2 396.5L284.1 395.3L278.9 394.2L273.7 393L268.5 391.9L263.3 390.9L258.1 389.8L252.9 388.8L247.7 387.8L242.6 386.9L237.4 385.9L232.2 385L227 384.1L221.8 383.2L216.6 382.4L211.4 381.5L206.2 380.7L201 379.9L195.8 379.1L190.6 378.3L185.4 377.6L180.2 376.8L175 376.1L169.8 375.4L164.7 374.7L159.5 374L154.3 373.3L149.1 372.6L143.9 371.9L138.7 371.2L133.5 370.5M292.9 395.4L287.7 394.2L282.5 393.1L277.4 392L272.2 390.9L267 389.8L261.8 388.8L256.7 387.8L251.5 386.8L246.3 385.9L241.1 385L235.9 384.1L230.8 383.2L225.6 382.3L220.4 381.5L215.2 380.6L210 379.8L204.8 379L199.7 378.3L194.5 377.5L189.3 376.7L184.1 376L178.9 375.2L173.8 374.5L168.6 373.8L163.4 373L158.2 372.3L153 371.6L147.8 370.9L142.7 370.2L137.5 369.5M296.5 394.1L291.4 393L286.2 391.9L281 390.8L275.9 389.8L270.7 388.7L265.5 387.7L260.4 386.8L255.2 385.8L250 384.9L244.9 384L239.7 383.1L234.5 382.3L229.4 381.4L224.2 380.6L219 379.7L213.9 378.9L208.7 378.2L203.5 377.4L198.3 376.6L193.2 375.8L188 375.1L182.8 374.3L177.7 373.6L172.5 372.9L167.3 372.1L162.1 371.4L157 370.7L151.8 369.9L146.6 369.2L141.5 368.5M300.2 392.8L295 391.7L289.9 390.6L284.7 389.6L279.6 388.6L274.4 387.6L269.3 386.6L264.1 385.7L258.9 384.8L253.8 383.9L248.6 383L243.5 382.1L238.3 381.3L233.2 380.5L228 379.6L222.8 378.8L217.7 378L212.5 377.3L207.4 376.5L202.2 375.7L197 374.9L191.9 374.2L186.7 373.4L181.6 372.7L176.4 371.9L171.2 371.2L166.1 370.4L160.9 369.7L155.8 368.9L150.6 368.2L145.4 367.4M303.8 391.4L298.7 390.3L293.5 389.3L288.4 388.3L283.3 387.3L278.1 386.4L273 385.5L267.8 384.6L262.7 383.7L257.5 382.8L252.4 382L247.2 381.1L242.1 380.3L236.9 379.5L231.8 378.7L226.7 377.9L221.5 377.1L216.4 376.3L211.2 375.6L206.1 374.8L200.9 374L195.8 373.3L190.6 372.5L185.5 371.8L180.3 371L175.2 370.2L170 369.5L164.9 368.7L159.7 367.9L154.6 367.1L149.4 366.3M307.5 389.9L302.3 388.9L297.2 387.9L292.1 387L286.9 386.1L281.8 385.1L276.7 384.3L271.5 383.4L266.4 382.5L261.3 381.7L256.1 380.9L251 380.1L245.9 379.3L240.7 378.5L235.6 377.7L230.5 376.9L225.3 376.2L220.2 375.4L215.1 374.6L209.9 373.9L204.8 373.1L199.6 372.3L194.5 371.6L189.4 370.8L184.2 370L179.1 369.3L174 368.5L168.8 367.7L163.7 366.9L158.5 366.1L153.4 365.2M311.1 388.3L306 387.4L300.9 386.5L295.8 385.6L290.6 384.7L285.5 383.8L280.4 383L275.3 382.2L270.1 381.4L265 380.6L259.9 379.8L254.8 379L249.7 378.2L244.5 377.5L239.4 376.7L234.3 375.9L229.1 375.2L224 374.4L218.9 373.7L213.8 372.9L208.6 372.2L203.5 371.4L198.4 370.6L193.3 369.9L188.1 369.1L183 368.3L177.9 367.5L172.8 366.7L167.6 365.8L162.5 365L157.4 364.1M314.8 386.7L309.7 385.8L304.6 385L299.4 384.1L294.3 383.3L289.2 382.5L284.1 381.7L279 380.9L273.9 380.2L268.8 379.4L263.7 378.6L258.5 377.9L253.4 377.2L248.3 376.4L243.2 375.7L238.1 374.9L233 374.2L227.9 373.5L222.7 372.7L217.6 372L212.5 371.2L207.4 370.5L202.3 369.7L197.2 368.9L192.1 368.1L186.9 367.3L181.8 366.5L176.7 365.6L171.6 364.8L166.5 363.9L161.4 363M205 402.6L208.7 403.1L212.4 403.6L216.1 404L219.8 404.4L223.5 404.6L227.2 404.8L230.8 404.9L234.5 405L238.2 404.9L241.8 404.8L245.5 404.7L249.1 404.4L252.8 404.1L256.4 403.7L260.1 403.2L263.7 402.6L267.4 402L271 401.3L274.7 400.5L278.3 399.6L282 398.7L285.6 397.6L289.2 396.5L292.9 395.4L296.5 394.1L300.2 392.8L303.8 391.4L307.5 389.9L311.1 388.3L314.8 386.7M199.6 402.3L203.3 402.7L207 403.1L210.7 403.4L214.4 403.7L218.1 403.9L221.8 404L225.4 404L229.1 404L232.8 403.9L236.5 403.8L240.1 403.6L243.8 403.3L247.5 402.9L251.1 402.5L254.8 401.9L258.5 401.4L262.1 400.7L265.8 400L269.4 399.2L273.1 398.4L276.7 397.4L280.4 396.4L284.1 395.3L287.7 394.2L291.4 393L295 391.7L298.7 390.3L302.3 388.9L306 387.4L309.7 385.8M194.1 401.9L197.8 402.3L201.5 402.6L205.2 402.8L209 403L212.7 403.1L216.4 403.2L220.1 403.2L223.8 403.1L227.4 402.9L231.1 402.7L234.8 402.5L238.5 402.1L242.2 401.7L245.9 401.3L249.5 400.8L253.2 400.2L256.9 399.5L260.5 398.8L264.2 398L267.9 397.1L271.5 396.2L275.2 395.2L278.9 394.2L282.5 393.1L286.2 391.9L289.9 390.6L293.5 389.3L297.2 387.9L300.9 386.5L304.6 385M188.6 401.6L192.4 401.8L196.1 402.1L199.8 402.2L203.5 402.3L207.3 402.4L211 402.4L214.7 402.3L218.4 402.2L222.1 402L225.8 401.7L229.5 401.4L233.2 401L236.9 400.6L240.6 400.1L244.2 399.6L247.9 399L251.6 398.3L255.3 397.6L259 396.8L262.7 396L266.3 395L270 394.1L273.7 393L277.4 392L281 390.8L284.7 389.6L288.4 388.3L292.1 387L295.8 385.6L299.4 384.1M183.2 401.2L186.9 401.4L190.7 401.5L194.4 401.6L198.1 401.6L201.9 401.6L205.6 401.6L209.3 401.4L213 401.2L216.7 401L220.4 400.7L224.2 400.4L227.9 400L231.6 399.5L235.3 399L239 398.5L242.7 397.8L246.4 397.2L250 396.4L253.7 395.6L257.4 394.8L261.1 393.9L264.8 393L268.5 391.9L272.2 390.9L275.9 389.8L279.6 388.6L283.3 387.3L286.9 386.1L290.6 384.7L294.3 383.3M177.7 400.8L181.5 400.9L185.2 401L189 401L192.7 401L196.5 400.9L200.2 400.8L203.9 400.6L207.6 400.4L211.4 400.1L215.1 399.7L218.8 399.4L222.5 398.9L226.3 398.5L230 397.9L233.7 397.3L237.4 396.7L241.1 396L244.8 395.3L248.5 394.5L252.2 393.7L255.9 392.8L259.6 391.9L263.3 390.9L267 389.8L270.7 388.7L274.4 387.6L278.1 386.4L281.8 385.1L285.5 383.8L289.2 382.5M172.3 400.4L176 400.4L179.8 400.4L183.5 400.4L187.3 400.3L191.1 400.2L194.8 400L198.5 399.7L202.3 399.5L206 399.2L209.8 398.8L213.5 398.4L217.2 397.9L220.9 397.4L224.7 396.9L228.4 396.3L232.1 395.6L235.8 394.9L239.6 394.2L243.3 393.4L247 392.6L250.7 391.7L254.4 390.8L258.1 389.8L261.8 388.8L265.5 387.7L269.3 386.6L273 385.5L276.7 384.3L280.4 383L284.1 381.7M166.8 400L170.6 400L174.4 399.9L178.1 399.8L181.9 399.6L185.6 399.4L189.4 399.2L193.2 398.9L196.9 398.6L200.7 398.2L204.4 397.9L208.2 397.4L211.9 396.9L215.6 396.4L219.4 395.8L223.1 395.2L226.8 394.6L230.6 393.9L234.3 393.1L238 392.4L241.8 391.5L245.5 390.7L249.2 389.8L252.9 388.8L256.7 387.8L260.4 386.8L264.1 385.7L267.8 384.6L271.5 383.4L275.3 382.2L279 380.9M161.4 399.6L165.1 399.5L168.9 399.3L172.7 399.2L176.5 399L180.2 398.7L184 398.4L187.8 398.1L191.5 397.8L195.3 397.4L199.1 396.9L202.8 396.5L206.6 396L210.3 395.4L214.1 394.8L217.8 394.2L221.6 393.5L225.3 392.8L229.1 392.1L232.8 391.3L236.5 390.5L240.3 389.7L244 388.8L247.7 387.8L251.5 386.8L255.2 385.8L258.9 384.8L262.7 383.7L266.4 382.5L270.1 381.4L273.9 380.2M155.9 399.1L159.7 398.9L163.5 398.8L167.3 398.5L171.1 398.3L174.8 398L178.6 397.7L182.4 397.3L186.2 396.9L190 396.5L193.7 396L197.5 395.5L201.3 395L205 394.4L208.8 393.8L212.5 393.2L216.3 392.5L220.1 391.8L223.8 391.1L227.6 390.3L231.3 389.5L235.1 388.7L238.8 387.8L242.6 386.9L246.3 385.9L250 384.9L253.8 383.9L257.5 382.8L261.3 381.7L265 380.6L268.8 379.4M150.5 398.6L154.3 398.4L158.1 398.2L161.9 397.9L165.7 397.6L169.5 397.3L173.2 396.9L177 396.5L180.8 396.1L184.6 395.6L188.4 395.2L192.2 394.6L195.9 394.1L199.7 393.5L203.5 392.9L207.3 392.2L211 391.6L214.8 390.9L218.6 390.1L222.3 389.3L226.1 388.5L229.8 387.7L233.6 386.8L237.4 385.9L241.1 385L244.9 384L248.6 383L252.4 382L256.1 380.9L259.9 379.8L263.7 378.6M145 398.1L148.8 397.9L152.6 397.6L156.4 397.3L160.2 396.9L164.1 396.6L167.9 396.2L171.7 395.7L175.5 395.3L179.2 394.8L183 394.3L186.8 393.8L190.6 393.2L194.4 392.6L198.2 392L202 391.3L205.7 390.6L209.5 389.9L213.3 389.2L217.1 388.4L220.9 387.6L224.6 386.7L228.4 385.9L232.2 385L235.9 384.1L239.7 383.1L243.5 382.1L247.2 381.1L251 380.1L254.8 379L258.5 377.9M139.6 397.6L143.4 397.3L147.2 397L151 396.6L154.8 396.3L158.7 395.9L162.5 395.4L166.3 395L170.1 394.5L173.9 394L177.7 393.5L181.5 392.9L185.3 392.3L189.1 391.7L192.9 391.1L196.7 390.4L200.5 389.7L204.3 389L208.1 388.2L211.8 387.5L215.6 386.7L219.4 385.8L223.2 385L227 384.1L230.8 383.2L234.5 382.3L238.3 381.3L242.1 380.3L245.9 379.3L249.7 378.2L253.4 377.2M134.1 397.1L137.9 396.8L141.8 396.4L145.6 396L149.4 395.6L153.3 395.2L157.1 394.7L160.9 394.2L164.7 393.7L168.5 393.2L172.4 392.6L176.2 392.1L180 391.5L183.8 390.8L187.6 390.2L191.4 389.5L195.2 388.8L199 388.1L202.8 387.3L206.6 386.6L210.4 385.8L214.2 384.9L218 384.1L221.8 383.2L225.6 382.3L229.4 381.4L233.2 380.5L236.9 379.5L240.7 378.5L244.5 377.5L248.3 376.4M128.7 396.5L132.5 396.2L136.3 395.8L140.2 395.4L144 394.9L147.9 394.5L151.7 394L155.5 393.5L159.4 393L163.2 392.4L167 391.8L170.8 391.2L174.7 390.6L178.5 390L182.3 389.3L186.1 388.6L189.9 387.9L193.7 387.2L197.6 386.5L201.4 385.7L205.2 384.9L209 384.1L212.8 383.2L216.6 382.4L220.4 381.5L224.2 380.6L228 379.6L231.8 378.7L235.6 377.7L239.4 376.7L243.2 375.7M123.2 396L127.1 395.6L130.9 395.2L134.8 394.7L138.6 394.2L142.5 393.8L146.3 393.3L150.2 392.7L154 392.2L157.8 391.6L161.7 391L165.5 390.4L169.3 389.8L173.2 389.2L177 388.5L180.8 387.8L184.7 387.1L188.5 386.4L192.3 385.6L196.1 384.8L199.9 384L203.8 383.2L207.6 382.4L211.4 381.5L215.2 380.6L219 379.7L222.8 378.8L226.7 377.9L230.5 376.9L234.3 375.9L238.1 374.9M117.8 395.4L121.6 395L125.5 394.5L129.4 394.1L133.2 393.6L137.1 393.1L140.9 392.6L144.8 392L148.6 391.5L152.5 390.9L156.3 390.3L160.2 389.7L164 389L167.9 388.4L171.7 387.7L175.5 387L179.4 386.3L183.2 385.5L187.1 384.8L190.9 384L194.7 383.2L198.5 382.4L202.4 381.6L206.2 380.7L210 379.8L213.9 378.9L217.7 378L221.5 377.1L225.3 376.2L229.1 375.2L233 374.2M112.3 394.8L116.2 394.3L120.1 393.9L123.9 393.4L127.8 392.9L131.7 392.4L135.6 391.8L139.4 391.3L143.3 390.7L147.1 390.1L151 389.5L154.9 388.9L158.7 388.2L162.6 387.6L166.4 386.9L170.3 386.2L174.1 385.5L178 384.7L181.8 384L185.6 383.2L189.5 382.4L193.3 381.6L197.2 380.8L201 379.9L204.8 379L208.7 378.2L212.5 377.3L216.4 376.3L220.2 375.4L224 374.4L227.9 373.5M106.9 394.1L110.8 393.7L114.7 393.2L118.5 392.7L122.4 392.2L126.3 391.7L130.2 391.1L134 390.6L137.9 390L141.8 389.4L145.7 388.8L149.5 388.1L153.4 387.5L157.3 386.8L161.1 386.1L165 385.4L168.8 384.7L172.7 383.9L176.6 383.2L180.4 382.4L184.3 381.6L188.1 380.8L192 380L195.8 379.1L199.7 378.3L203.5 377.4L207.4 376.5L211.2 375.6L215.1 374.6L218.9 373.7L222.7 372.7M101.4 393.5L105.3 393L109.2 392.5L113.1 392L117 391.5L120.9 391L124.8 390.5L128.7 389.9L132.6 389.3L136.4 388.7L140.3 388.1L144.2 387.4L148.1 386.8L151.9 386.1L155.8 385.4L159.7 384.7L163.6 383.9L167.4 383.2L171.3 382.4L175.2 381.6L179 380.8L182.9 380L186.8 379.2L190.6 378.3L194.5 377.5L198.3 376.6L202.2 375.7L206.1 374.8L209.9 373.9L213.8 372.9L217.6 372M96 392.8L99.9 392.3L103.8 391.9L107.7 391.4L111.6 390.8L115.5 390.3L119.4 389.8L123.3 389.2L127.2 388.6L131.1 388L135 387.4L138.9 386.7L142.8 386L146.6 385.4L150.5 384.7L154.4 383.9L158.3 383.2L162.2 382.4L166.1 381.7L169.9 380.9L173.8 380.1L177.7 379.3L181.6 378.4L185.4 377.6L189.3 376.7L193.2 375.8L197 374.9L200.9 374L204.8 373.1L208.6 372.2L212.5 371.2M90.5 392.1L94.5 391.6L98.4 391.2L102.3 390.7L106.2 390.2L110.1 389.6L114 389.1L117.9 388.5L121.8 387.9L125.7 387.3L129.6 386.7L133.5 386L137.4 385.3L141.3 384.7L145.2 384L149.1 383.2L153 382.5L156.9 381.7L160.8 381L164.7 380.2L168.6 379.4L172.5 378.5L176.3 377.7L180.2 376.8L184.1 376L188 375.1L191.9 374.2L195.8 373.3L199.6 372.3L203.5 371.4L207.4 370.5M85.1 391.3L89 390.9L93 390.4L96.9 390L100.8 389.5L104.7 388.9L108.7 388.4L112.6 387.8L116.5 387.2L120.4 386.6L124.3 386L128.2 385.3L132.1 384.7L136 384L139.9 383.3L143.8 382.5L147.8 381.8L151.7 381L155.6 380.3L159.5 379.5L163.4 378.6L167.2 377.8L171.1 377L175 376.1L178.9 375.2L182.8 374.3L186.7 373.4L190.6 372.5L194.5 371.6L198.4 370.6L202.3 369.7M79.7 390.6L83.6 390.2L87.5 389.7L91.5 389.3L95.4 388.8L99.3 388.3L103.3 387.7L107.2 387.2L111.1 386.6L115.1 386L119 385.3L122.9 384.7L126.8 384L130.7 383.3L134.7 382.6L138.6 381.9L142.5 381.1L146.4 380.4L150.3 379.6L154.2 378.8L158.1 377.9L162 377.1L165.9 376.2L169.8 375.4L173.8 374.5L177.7 373.6L181.6 372.7L185.5 371.8L189.4 370.8L193.3 369.9L197.2 368.9M74.2 389.8L78.2 389.4L82.1 389L86.1 388.5L90 388.1L94 387.6L97.9 387L101.8 386.5L105.8 385.9L109.7 385.3L113.6 384.7L117.6 384L121.5 383.4L125.4 382.7L129.4 382L133.3 381.2L137.2 380.5L141.1 379.7L145.1 378.9L149 378.1L152.9 377.3L156.8 376.4L160.7 375.5L164.7 374.7L168.6 373.8L172.5 372.9L176.4 371.9L180.3 371L184.2 370L188.1 369.1L192.1 368.1M68.8 389L72.7 388.6L76.7 388.2L80.7 387.8L84.6 387.4L88.6 386.9L92.5 386.4L96.5 385.8L100.4 385.3L104.4 384.7L108.3 384.1L112.3 383.4L116.2 382.7L120.1 382.1L124.1 381.3L128 380.6L131.9 379.8L135.9 379.1L139.8 378.2L143.7 377.4L147.7 376.6L151.6 375.7L155.5 374.9L159.5 374L163.4 373L167.3 372.1L171.2 371.2L175.2 370.2L179.1 369.3L183 368.3L186.9 367.3M63.3 388.1L67.3 387.8L71.3 387.5L75.3 387.1L79.2 386.7L83.2 386.2L87.2 385.7L91.1 385.2L95.1 384.6L99 384.1L103 383.4L106.9 382.8L110.9 382.1L114.8 381.4L118.8 380.7L122.7 380L126.7 379.2L130.6 378.4L134.6 377.6L138.5 376.8L142.5 375.9L146.4 375.1L150.3 374.2L154.3 373.3L158.2 372.3L162.1 371.4L166.1 370.4L170 369.5L174 368.5L177.9 367.5L181.8 366.5M57.9 387.3L61.9 387L65.9 386.7L69.9 386.3L73.8 385.9L77.8 385.5L81.8 385L85.8 384.5L89.7 384L93.7 383.4L97.7 382.8L101.6 382.2L105.6 381.5L109.5 380.9L113.5 380.1L117.5 379.4L121.4 378.6L125.4 377.8L129.3 377L133.3 376.2L137.2 375.3L141.2 374.4L145.1 373.5L149.1 372.6L153 371.6L157 370.7L160.9 369.7L164.9 368.7L168.8 367.7L172.8 366.7L176.7 365.6M52.5 386.4L56.5 386.2L60.5 385.9L64.4 385.6L68.4 385.2L72.4 384.8L76.4 384.4L80.4 383.9L84.4 383.4L88.4 382.8L92.3 382.2L96.3 381.6L100.3 381L104.3 380.3L108.2 379.6L112.2 378.8L116.2 378L120.1 377.2L124.1 376.4L128 375.5L132 374.7L136 373.8L139.9 372.8L143.9 371.9L147.8 370.9L151.8 369.9L155.8 368.9L159.7 367.9L163.7 366.9L167.6 365.8L171.6 364.8M47 385.4L51 385.3L55 385.1L59 384.8L63 384.5L67 384.1L71 383.7L75 383.3L79 382.8L83 382.2L87 381.7L91 381.1L95 380.4L99 379.7L102.9 379L106.9 378.2L110.9 377.5L114.9 376.7L118.8 375.8L122.8 374.9L126.8 374L130.8 373.1L134.7 372.2L138.7 371.2L142.7 370.2L146.6 369.2L150.6 368.2L154.6 367.1L158.5 366.1L162.5 365L166.5 363.9M41.6 384.5L45.6 384.4L49.6 384.2L53.6 384L57.7 383.8L61.7 383.4L65.7 383.1L69.7 382.6L73.7 382.2L77.7 381.7L81.7 381.1L85.7 380.5L89.7 379.9L93.7 379.2L97.7 378.5L101.6 377.7L105.6 376.9L109.6 376.1L113.6 375.2L117.6 374.3L121.6 373.4L125.5 372.5L129.5 371.5L133.5 370.5L137.5 369.5L141.5 368.5L145.4 367.4L149.4 366.3L153.4 365.2L157.4 364.1L161.4 363" fill="none" stroke="#000" stroke-width="0.4" stroke-opacity="1"/><path d="M41.6 384.5L47 385.4L52.5 386.4L57.9 387.3L63.3 388.1L68.8 389L74.2 389.8L79.7 390.6L85.1 391.3L90.5 392.1L96 392.8L101.4 393.5L106.9 394.1L112.3 394.8L117.8 395.4L123.2 396L128.7 396.5L134.1 397.1L139.6 397.6L145 398.1L150.5 398.6L155.9 399.1L161.4 399.6L166.8 400L172.3 400.4L177.7 400.8L183.2 401.2L188.6 401.6L194.1 401.9L199.6 402.3L205 402.6L208.7 403.1L212.4 403.6L216.1 404L219.8 404.4L223.5 404.6L227.2 404.8L230.8 404.9L234.5 405L238.2 404.9L241.8 404.8L245.5 404.7L249.1 404.4L252.8 404.1L256.4 403.7L260.1 403.2L263.7 402.6L267.4 402L271 401.3L274.7 400.5L278.3 399.6L282 398.7L285.6 397.6L289.2 396.5L292.9 395.4L296.5 394.1L300.2 392.8L303.8 391.4L307.5 389.9L311.1 388.3L314.8 386.7" fill="none" stroke="#000" stroke-width="1.6" stroke-linejoin="round"/><circle cx="45.3" cy="477.7" r="0.9" fill="#30a030"/><circle cx="43.8" cy="440.7" r="0.9" fill="#30a030"/><circle cx="42.3" cy="403.7" r="0.9" fill="#30a030"/><circle cx="40.9" cy="366.6" r="0.9" fill="#30a030"/><circle cx="39.4" cy="329.6" r="0.9" fill="#30a030"/><text transform="translate(30.5 334.4) scale(0.75 1)" font-size="13.3" text-anchor="middle" font-family="Liberation Serif" font-weight="bold">98</text><text transform="translate(30.1 370.6) scale(0.75 1)" font-size="13.3" text-anchor="middle" font-family="Liberation Serif" font-weight="bold">92.5</text><text transform="translate(30.1 406.8) scale(0.75 1)" font-size="13.3" text-anchor="middle" font-family="Liberation Serif" font-weight="bold">87.5</text><text transform="translate(28.5 444.6) scale(0.75 1)" font-size="13.3" text-anchor="middle" font-family="Liberation Serif" font-weight="bold">82.25</text><text transform="translate(36.3 482.4) scale(0.75 1)" font-size="13.3" text-anchor="middle" font-family="Liberation Serif" font-weight="bold">77</text><circle cx="166.5" cy="559.5" r="1.1" fill="#111"/><circle cx="232.4" cy="556" r="1.1" fill="#111"/><circle cx="126.7" cy="547.9" r="1.1" fill="#111"/><circle cx="258.5" cy="540.9" r="1.1" fill="#111"/><circle cx="86.9" cy="536.2" r="1.1" fill="#111"/><circle cx="284.6" cy="525.7" r="1.1" fill="#111"/><text transform="translate(34.7 530.4) scale(0.75 1)" font-size="13.3" text-anchor="middle" font-family="Liberation Serif" font-weight="bold">10</text><text transform="translate(74 550.4) scale(0.75 1)" font-size="13.3" text-anchor="middle" font-family="Liberation Serif" font-weight="bold">26.88</text><text transform="translate(119.3 563.6) scale(0.75 1)" font-size="13.3" text-anchor="middle" font-family="Liberation Serif" font-weight="bold">43.75</text><text transform="translate(160.1 573.8) scale(0.75 1)" font-size="13.3" text-anchor="middle" font-family="Liberation Serif" font-weight="bold">60.63</text><text transform="translate(198.1 587) scale(0.75 1)" font-size="13.3" text-anchor="middle" font-family="Liberation Serif" font-weight="bold">77.5</text><text transform="translate(316.9 522.1) scale(0.75 1)" font-size="13.3" text-anchor="middle" font-family="Liberation Serif" font-weight="bold">10</text><text transform="translate(293.9 540.1) scale(0.75 1)" font-size="13.3" text-anchor="middle" font-family="Liberation Serif" font-weight="bold">36.25</text><text transform="translate(266.5 557.2) scale(0.75 1)" font-size="13.3" text-anchor="middle" font-family="Liberation Serif" font-weight="bold">62.5</text><text transform="translate(243.5 569.6) scale(0.75 1)" font-size="13.3" text-anchor="middle" font-family="Liberation Serif" font-weight="bold">88.75</text><text transform="translate(221.6 581.7) scale(0.75 1)" font-size="13.3" text-anchor="middle" font-family="Liberation Serif" font-weight="bold">115</text><text transform="translate(98.5 585.4) scale(0.75 1)" font-size="13.3" text-anchor="middle" font-family="Liberation Serif" font-weight="bold" textLength="109.7" lengthAdjust="spacingAndGlyphs">Dosage of NPs (mg/l)</text><text transform="translate(283 583.9) scale(0.75 1)" font-size="13.3" text-anchor="middle" font-family="Liberation Serif" font-weight="bold" textLength="54.9" lengthAdjust="spacingAndGlyphs">Time(min)</text><text transform="translate(6.5 435.2) rotate(-90)" x="0" y="5.1" font-size="15" text-anchor="middle" font-family="Liberation Serif" font-weight="bold" textLength="88.7" lengthAdjust="spacingAndGlyphs">Removal%</text><text transform="translate(72 356.2) scale(0.7 1)" font-size="15" text-anchor="middle" font-family="Liberation Sans" font-weight="bold">c</text><path d="M380.1 519L371.8 344.1" stroke="#8c8c8c" stroke-width="0.9" fill="none"/><path d="M653.4 518.9L662.4 344.1" stroke="#8c8c8c" stroke-width="0.9" fill="none"/><path d="M517.6 470.8L517.6 314.5" stroke="#8c8c8c" stroke-width="0.9" fill="none"/><path d="M371.8 344.1L517.6 314.5" stroke="#8c8c8c" stroke-width="0.9" fill="none"/><path d="M517.6 314.5L662.4 344.1" stroke="#8c8c8c" stroke-width="0.9" fill="none"/><path d="M516.8 579.3L653.4 518.9L517.6 470.8L380.1 519Z" fill="#00ffff" stroke="#444" stroke-width="0.7"/><clipPath id="fcd"><path d="M516.8 579.3L653.4 518.9L517.6 470.8L380.1 519Z"/></clipPath><g clip-path="url(#fcd)"><path d="M547.4 561.2C544.3 558.4 533.5 549.8 528.6 544.4C523.7 539 519.1 532.7 517.8 528.7C516.5 524.7 518.7 522.3 520.8 520.5C522.9 518.7 525 518.2 530.6 517.8C536.2 517.3 545.4 517.3 554.3 517.8C563.2 518.3 573.9 519.3 583.8 520.8C593.6 522.3 606.2 525.2 613.4 526.7C620.6 528.2 624.9 529.1 627.2 529.6" fill="none" stroke="#98f060" stroke-width="0.9" stroke-linejoin="round"/><path d="M550.2 560.4C547.6 557.7 538.9 548.9 534.6 543.9C530.3 538.9 525.8 534.1 524.6 530.7C523.4 527.3 525.3 525.1 527.3 523.5C529.3 521.9 531.4 521.7 536.6 521.3C541.8 520.9 550 520.9 558.3 521.3C566.6 521.7 577.1 522.7 586.3 523.8C595.5 524.9 606.6 526.9 613.4 527.9C620.2 528.9 624.9 529.3 627.2 529.6" fill="none" stroke="#98f060" stroke-width="0.9" stroke-linejoin="round"/><path d="M553 559.6C550.9 556.9 544.2 547.9 540.6 543.4C537 538.9 532.5 535.5 531.4 532.7C530.3 529.9 531.9 527.8 533.8 526.5C535.7 525.2 537.9 525.1 542.6 524.8C547.4 524.5 554.6 524.5 562.3 524.8C570 525.1 580.3 526.1 588.8 526.8C597.3 527.5 607 528.6 613.4 529.1C619.8 529.6 624.9 529.5 627.2 529.6" fill="none" stroke="#98f060" stroke-width="0.9" stroke-linejoin="round"/><path d="M555.8 558.8C554.3 556.2 549.5 546.9 546.6 542.9C543.7 538.9 539.2 536.9 538.2 534.7C537.1 532.5 538.6 530.6 540.3 529.5C542 528.4 544.3 528.5 548.6 528.3C552.9 528.1 559.2 528 566.3 528.3C573.4 528.5 583.4 529.5 591.3 529.8C599.1 530.1 607.4 530.3 613.4 530.3C619.4 530.3 624.9 529.7 627.2 529.6" fill="none" stroke="#98f060" stroke-width="0.9" stroke-linejoin="round"/><path d="M558.6 558C557.6 555.4 554.9 545.9 552.6 542.4C550.3 538.9 546 538.4 545 536.7C544 535.1 545.2 533.3 546.8 532.5C548.4 531.7 550.7 531.9 554.6 531.8C558.5 531.7 563.8 531.6 570.3 531.8C576.8 532 586.6 532.8 593.8 532.8C601 532.8 607.8 532 613.4 531.5C619 531 624.9 529.9 627.2 529.6" fill="none" stroke="#98f060" stroke-width="0.9" stroke-linejoin="round"/></g><path d="M516.8 579.3L380.1 519" stroke="#111" stroke-width="0.9" fill="none"/><path d="M516.8 579.3L653.4 518.9" stroke="#111" stroke-width="0.9" fill="none"/><style>.d0{fill:#0012e4}.d1{fill:#0018e9}.d2{fill:#001eed}.d3{fill:#0024f2}.d4{fill:#002bf5}.d5{fill:#0034f7}.d6{fill:#003ef9}.d7{fill:#0048fa}.d8{fill:#0051fc}.d9{fill:#005bfd}.d10{fill:#0065ff}.d11{fill:#0077ff}.d12{fill:#008aff}.d13{fill:#009dff}.d14{fill:#00afff}.d15{fill:#00c2ff}.d16{fill:#00d4ff}.d17{fill:#00e2fc}.d18{fill:#00e5f1}.d19{fill:#00e8e7}.d20{fill:#00eadc}.d21{fill:#00edd2}.d22{fill:#00f0c7}.d23{fill:#00efb7}.d24{fill:#00eea6}.d25{fill:#00ed95}.d26{fill:#00ec85}.d27{fill:#00eb74}.d28{fill:#00ea63}.d29{fill:#00e953}.d30{fill:#00e842}.d31{fill:#00e731}.d32{fill:#02e623}.d33{fill:#06e619}.d34{fill:#0ae60f}.d35{fill:#0de604}.d36{fill:#15e600}.d37{fill:#20e700}.d38{fill:#2ae800}.d39{fill:#34e800}.d40{fill:#42e900}.d41{fill:#55eb00}.d42{fill:#69ed00}.d43{fill:#7def00}.d44{fill:#91f000}.d45{fill:#a5f200}.d46{fill:#000ce0}</style><g stroke="#1a1a1a" stroke-width="0.5" stroke-linejoin="round"><path class="d0" d="M516.7 424.1l4.4 3.6-3.5-.1-4.4-3.5z"/><path class="d1" d="M520.2 424l4.4 3.7-3.5 0-4.4-3.6zM523.6 423.9l4.4 3.8-3.5 0-4.4-3.7z"/><path class="d2" d="M527.1 423.8l4.4 4-3.5 0-4.4-3.8zM530.6 423.7l4.3 4.1-3.5 0-4.4-4z"/><path class="d3" d="M534.1 423.5l4.3 4.2-3.5 0-4.3-4.1zM537.5 423.4l4.3 4.4-3.5 0-4.3-4.2z"/><path class="d4" d="M541 423.2l4.3 4.5-3.5 0-4.3-4.4zM544.5 422.9l4.3 4.7-3.5 .1-4.3-4.5z"/><path class="d5" d="M548 422.7l4.3 4.8-3.5 .1-4.3-4.7zM551.5 422.5l4.3 5-3.5 .1-4.3-4.8zM555 422.2l4.3 5.2-3.5 .1-4.3-5z"/><path class="d6" d="M558.5 421.9l4.3 5.4-3.5 .1-4.3-5.2zM562 421.5l4.3 5.5-3.5 .1-4.3-5.4z"/><path class="d7" d="M565.6 421.2l4.2 5.7-3.5 .1-4.3-5.5zM569.1 420.8l4.2 5.9-3.5 .2-4.2-5.7z"/><path class="d8" d="M572.6 420.5l4.2 6.2-3.5 .2-4.2-5.9zM576.1 420l4.2 6.4-3.5 .2-4.2-6.2z"/><path class="d9" d="M579.7 419.6l4.2 6.6-3.5 .2-4.2-6.4zM583.2 419.2l4.2 6.8-3.5 .2-4.2-6.6z"/><path class="d10" d="M586.7 418.7l4.2 7.1-3.5 .2-4.2-6.8zM590.3 418.2l4.1 7.3-3.5 .3-4.2-7.1z"/><path class="d11" d="M593.8 417.7l4.1 7.5-3.5 .3-4.1-7.3z"/><path class="d12" d="M597.4 417.1l4.1 7.8-3.5 .3-4.1-7.5zM600.9 416.6l4.1 8.1-3.5 .3-4.1-7.8z"/><path class="d13" d="M604.5 416l4.1 8.3-3.5 .3-4.1-8.1zM608.1 415.4l4.1 8.6-3.5 .3-4.1-8.3z"/><path class="d14" d="M611.6 414.7l4 8.9-3.6 .3-4.1-8.6zM615.2 414.1l4 9.2-3.6 .4-4-8.9z"/><path class="d15" d="M618.8 413.4l4 9.5-3.6 .4-4-9.2zM622.4 412.7l4 9.8-3.6 .4-4-9.5z"/><path class="d16" d="M626 412l3.9 10.1-3.6 .4-4-9.8zM629.6 411.2l3.9 10.4-3.6 .4-3.9-10.1z"/><path class="d17" d="M633.2 410.5l3.9 10.7-3.6 .4-3.9-10.4z"/><path class="d18" d="M636.8 409.7l3.9 11.1-3.6 .5-3.9-10.7zM640.4 408.9l3.8 11.4-3.6 .5-3.9-11.1z"/><path class="d19" d="M644 408l3.8 11.8-3.6 .5-3.8-11.4zM647.6 407.2l3.8 12.1-3.6 .5-3.8-11.8z"/><path class="d20" d="M651.3 406.3l3.7 12.5-3.6 .5-3.8-12.1z"/><path class="d21" d="M654.9 405.3l3.7 12.9-3.6 .5-3.7-12.5z"/><path class="d3" d="M512.3 420l4.4 4.1-3.5 .1-4.4-4zM515.8 419.8l4.4 4.3-3.5 .1-4.4-4.1zM519.3 419.5l4.4 4.4-3.5 .1-4.4-4.3z"/><path class="d4" d="M522.7 419.3l4.4 4.6-3.5 .1-4.4-4.4zM526.2 419l4.4 4.7-3.5 .1-4.4-4.6z"/><path class="d5" d="M529.7 418.7l4.4 4.9-3.5 .2-4.4-4.7zM533.2 418.4l4.3 5-3.5 .2-4.4-4.9z"/><path class="d6" d="M536.7 418l4.3 5.1-3.5 .2-4.3-5z"/><path class="d7" d="M540.2 417.7l4.3 5.3-3.5 .2-4.3-5.1zM543.7 417.3l4.3 5.4-3.5 .2-4.3-5.3z"/><path class="d8" d="M547.2 416.9l4.3 5.6-3.5 .3-4.3-5.4zM550.7 416.5l4.3 5.7-3.5 .3-4.3-5.6z"/><path class="d9" d="M554.2 416l4.3 5.9-3.5 .3-4.3-5.7zM557.8 415.5l4.3 6-3.5 .3-4.3-5.9z"/><path class="d10" d="M561.3 415l4.3 6.2-3.5 .3-4.3-6zM564.8 414.5l4.3 6.3-3.5 .4-4.3-6.2z"/><path class="d11" d="M568.4 414l4.2 6.5-3.5 .4-4.3-6.3zM571.9 413.4l4.2 6.6-3.5 .4-4.2-6.5z"/><path class="d12" d="M575.4 412.9l4.2 6.8-3.5 .4-4.2-6.6z"/><path class="d13" d="M579 412.3l4.2 6.9-3.5 .5-4.2-6.8zM582.5 411.6l4.2 7.1-3.5 .5-4.2-6.9z"/><path class="d14" d="M586.1 411l4.2 7.2-3.5 .5-4.2-7.1zM589.7 410.3l4.2 7.4-3.5 .5-4.2-7.2z"/><path class="d15" d="M593.2 409.6l4.2 7.5-3.6 .5-4.2-7.4z"/><path class="d16" d="M596.8 408.9l4.1 7.7-3.6 .6-4.2-7.5zM600.4 408.2l4.1 7.8-3.6 .6-4.1-7.7z"/><path class="d17" d="M604 407.4l4.1 8-3.6 .6-4.1-7.8zM607.5 406.6l4.1 8.1-3.6 .6-4.1-8z"/><path class="d18" d="M611.1 405.8l4.1 8.3-3.6 .7-4.1-8.1z"/><path class="d19" d="M614.7 405l4.1 8.4-3.6 .7-4.1-8.3zM618.3 404.1l4 8.6-3.6 .7-4.1-8.4z"/><path class="d20" d="M621.9 403.3l4 8.7-3.6 .7-4-8.6zM625.6 402.4l4 8.9-3.6 .7-4-8.7z"/><path class="d21" d="M629.2 401.4l4 9-3.6 .8-4-8.9z"/><path class="d22" d="M632.8 400.5l4 9.2-3.6 .8-4-9zM636.4 399.5l4 9.4-3.6 .8-4-9.2z"/><path class="d23" d="M640.1 398.5l3.9 9.5-3.6 .8-4-9.4z"/><path class="d24" d="M643.7 397.5l3.9 9.7-3.6 .9-3.9-9.5zM647.3 396.4l3.9 9.8-3.6 .9-3.9-9.7z"/><path class="d25" d="M651 395.4l3.9 10-3.6 .9-3.9-9.8z"/><path class="d5" d="M507.9 415.5l4.4 4.5-3.5 .2-4.4-4.4zM511.4 415.1l4.4 4.7-3.5 .2-4.4-4.5z"/><path class="d6" d="M514.9 414.7l4.4 4.8-3.5 .2-4.4-4.7zM518.3 414.3l4.4 5-3.5 .3-4.4-4.8z"/><path class="d7" d="M521.8 413.9l4.4 5.1-3.5 .3-4.4-5zM525.3 413.5l4.4 5.2-3.5 .3-4.4-5.1z"/><path class="d8" d="M528.8 413l4.4 5.4-3.5 .3-4.4-5.2z"/><path class="d9" d="M532.3 412.5l4.4 5.5-3.5 .3-4.4-5.4zM535.9 412.1l4.3 5.6-3.5 .4-4.4-5.5z"/><path class="d10" d="M539.4 411.6l4.3 5.7-3.5 .4-4.3-5.6zM542.9 411l4.3 5.9-3.5 .4-4.3-5.7z"/><path class="d11" d="M546.4 410.5l4.3 6-3.5 .4-4.3-5.9zM549.9 409.9l4.3 6.1-3.5 .4-4.3-6z"/><path class="d12" d="M553.5 409.4l4.3 6.2-3.5 .5-4.3-6.1z"/><path class="d13" d="M557 408.8l4.3 6.3-3.5 .5-4.3-6.2zM560.5 408.1l4.3 6.4-3.5 .5-4.3-6.3z"/><path class="d14" d="M564.1 407.5l4.3 6.5-3.5 .5-4.3-6.4zM567.6 406.9l4.3 6.6-3.5 .6-4.3-6.5z"/><path class="d15" d="M571.2 406.2l4.2 6.7-3.5 .6-4.3-6.6z"/><path class="d16" d="M574.8 405.5l4.2 6.8-3.5 .6-4.2-6.7zM578.3 404.8l4.2 6.8-3.6 .6-4.2-6.8z"/><path class="d17" d="M581.9 404.1l4.2 6.9-3.6 .6-4.2-6.8z"/><path class="d18" d="M585.5 403.3l4.2 7-3.6 .7-4.2-6.9zM589 402.6l4.2 7.1-3.6 .7-4.2-7z"/><path class="d19" d="M592.6 401.8l4.2 7.1-3.6 .7-4.2-7.1zM596.2 401l4.2 7.2-3.6 .7-4.2-7.1z"/><path class="d20" d="M599.8 400.2l4.2 7.2-3.6 .8-4.2-7.2z"/><path class="d21" d="M603.4 399.3l4.1 7.3-3.6 .8-4.2-7.2zM607 398.5l4.1 7.3-3.6 .8-4.1-7.3z"/><path class="d22" d="M610.6 397.6l4.1 7.4-3.6 .8-4.1-7.3z"/><path class="d23" d="M614.2 396.7l4.1 7.4-3.6 .9-4.1-7.4zM617.8 395.8l4.1 7.5-3.6 .9-4.1-7.4z"/><path class="d24" d="M621.5 394.8l4.1 7.5-3.6 .9-4.1-7.5z"/><path class="d25" d="M625.1 393.9l4.1 7.5-3.6 .9-4.1-7.5zM628.7 392.9l4.1 7.6-3.6 1-4.1-7.5z"/><path class="d26" d="M632.4 391.9l4.1 7.6-3.6 1-4.1-7.6z"/><path class="d27" d="M636 390.9l4.1 7.6-3.6 1-4.1-7.6zM639.7 389.9l4.1 7.6-3.6 1-4.1-7.6z"/><path class="d28" d="M643.3 388.8l4 7.6-3.6 1-4.1-7.6z"/><path class="d29" d="M647 387.7l4 7.6-3.7 1.1-4-7.6z"/><path class="d7" d="M503.5 410.7l4.4 4.7-3.5 .3-4.4-4.6z"/><path class="d8" d="M507 410.2l4.4 4.9-3.5 .4-4.4-4.7zM510.4 409.7l4.4 5-3.5 .4-4.4-4.9z"/><path class="d9" d="M513.9 409.2l4.4 5.1-3.5 .4-4.4-5zM517.4 408.7l4.4 5.2-3.5 .4-4.4-5.1z"/><path class="d10" d="M520.9 408.1l4.4 5.4-3.5 .4-4.4-5.2z"/><path class="d11" d="M524.5 407.6l4.4 5.5-3.5 .5-4.4-5.4zM528 407l4.4 5.6-3.5 .5-4.4-5.5z"/><path class="d12" d="M531.5 406.4l4.4 5.7-3.5 .5-4.4-5.6zM535 405.8l4.4 5.7-3.5 .5-4.4-5.7z"/><path class="d13" d="M538.5 405.2l4.3 5.8-3.5 .5-4.4-5.7z"/><path class="d14" d="M542.1 404.6l4.3 5.9-3.5 .5-4.3-5.8zM545.6 403.9l4.3 6-3.5 .6-4.3-5.9z"/><path class="d15" d="M549.1 403.3l4.3 6.1-3.5 .6-4.3-6z"/><path class="d16" d="M552.7 402.6l4.3 6.1-3.5 .6-4.3-6.1zM556.2 402l4.3 6.2-3.5 .6-4.3-6.1z"/><path class="d17" d="M559.8 401.3l4.3 6.2-3.5 .6-4.3-6.2zM563.4 400.6l4.3 6.3-3.5 .6-4.3-6.2z"/><path class="d18" d="M566.9 399.9l4.3 6.3-3.6 .7-4.3-6.3z"/><path class="d19" d="M570.5 399.1l4.3 6.4-3.6 .7-4.3-6.3zM574.1 398.4l4.3 6.4-3.6 .7-4.3-6.4z"/><path class="d20" d="M577.6 397.7l4.3 6.4-3.6 .7-4.3-6.4z"/><path class="d21" d="M581.2 396.9l4.2 6.4-3.6 .7-4.3-6.4zM584.8 396.1l4.2 6.4-3.6 .8-4.2-6.4z"/><path class="d22" d="M588.4 395.3l4.2 6.4-3.6 .8-4.2-6.4zM592 394.5l4.2 6.4-3.6 .8-4.2-6.4z"/><path class="d23" d="M595.6 393.7l4.2 6.4-3.6 .8-4.2-6.4z"/><path class="d24" d="M599.2 392.9l4.2 6.4-3.6 .8-4.2-6.4zM602.8 392.1l4.2 6.4-3.6 .9-4.2-6.4z"/><path class="d25" d="M606.4 391.2l4.2 6.4-3.6 .9-4.2-6.4z"/><path class="d26" d="M610 390.4l4.2 6.3-3.6 .9-4.2-6.4zM613.7 389.5l4.2 6.3-3.6 .9-4.2-6.3z"/><path class="d27" d="M617.3 388.6l4.2 6.3-3.6 .9-4.2-6.3z"/><path class="d28" d="M620.9 387.7l4.2 6.2-3.6 1-4.2-6.3zM624.6 386.8l4.2 6.2-3.6 1-4.2-6.2z"/><path class="d29" d="M628.2 385.8l4.2 6.1-3.6 1-4.2-6.2z"/><path class="d30" d="M631.8 384.9l4.2 6-3.6 1-4.2-6.1zM635.5 383.9l4.2 5.9-3.6 1-4.2-6z"/><path class="d31" d="M639.2 383l4.1 5.8-3.7 1.1-4.2-5.9z"/><path class="d32" d="M642.8 382l4.1 5.8-3.7 1.1-4.1-5.8z"/><path class="d9" d="M499 405.9l4.4 4.8-3.5 .5-4.5-4.7z"/><path class="d10" d="M502.5 405.4l4.4 4.9-3.5 .5-4.4-4.8z"/><path class="d11" d="M506 404.7l4.4 5-3.5 .5-4.4-4.9zM509.5 404.1l4.4 5.1-3.5 .5-4.4-5z"/><path class="d12" d="M513 403.5l4.4 5.1-3.5 .5-4.4-5.1z"/><path class="d13" d="M516.5 402.9l4.4 5.2-3.5 .5-4.4-5.1zM520.1 402.3l4.4 5.3-3.5 .6-4.4-5.2z"/><path class="d14" d="M523.6 401.6l4.4 5.4-3.5 .6-4.4-5.3zM527.1 401l4.4 5.4-3.5 .6-4.4-5.4z"/><path class="d15" d="M530.6 400.3l4.4 5.5-3.5 .6-4.4-5.4z"/><path class="d16" d="M534.2 399.7l4.4 5.5-3.5 .6-4.4-5.5zM537.7 399l4.4 5.6-3.5 .6-4.4-5.5z"/><path class="d17" d="M541.2 398.3l4.4 5.6-3.5 .6-4.4-5.6z"/><path class="d18" d="M544.8 397.6l4.4 5.6-3.5 .6-4.4-5.6zM548.3 397l4.3 5.7-3.5 .7-4.4-5.6z"/><path class="d19" d="M551.9 396.3l4.3 5.7-3.5 .7-4.3-5.7z"/><path class="d20" d="M555.5 395.6l4.3 5.7-3.6 .7-4.3-5.7zM559 394.9l4.3 5.7-3.6 .7-4.3-5.7z"/><path class="d21" d="M562.6 394.1l4.3 5.7-3.6 .7-4.3-5.7zM566.2 393.4l4.3 5.7-3.6 .7-4.3-5.7z"/><path class="d22" d="M569.8 392.7l4.3 5.7-3.6 .7-4.3-5.7z"/><path class="d23" d="M573.3 392l4.3 5.7-3.6 .7-4.3-5.7zM576.9 391.2l4.3 5.7-3.6 .8-4.3-5.7z"/><path class="d24" d="M580.5 390.5l4.3 5.7-3.6 .8-4.3-5.7z"/><path class="d25" d="M584.1 389.7l4.3 5.6-3.6 .8-4.3-5.7zM587.7 388.9l4.3 5.6-3.6 .8-4.3-5.6z"/><path class="d26" d="M591.3 388.2l4.3 5.6-3.6 .8-4.3-5.6zM594.9 387.4l4.3 5.5-3.6 .8-4.3-5.6z"/><path class="d27" d="M598.5 386.6l4.3 5.4-3.6 .8-4.3-5.5z"/><path class="d28" d="M602.2 385.8l4.2 5.4-3.6 .9-4.3-5.4zM605.8 385l4.2 5.3-3.6 .9-4.2-5.4z"/><path class="d29" d="M609.4 384.2l4.2 5.2-3.6 .9-4.2-5.3z"/><path class="d30" d="M613 383.4l4.2 5.2-3.6 .9-4.2-5.2zM616.7 382.6l4.2 5.1-3.6 .9-4.2-5.2z"/><path class="d31" d="M620.3 381.8l4.2 5-3.6 .9-4.2-5.1z"/><path class="d32" d="M624 381l4.2 4.9-3.6 .9-4.2-5zM627.6 380.1l4.2 4.8-3.6 .9-4.2-4.9z"/><path class="d33" d="M631.3 379.3l4.2 4.7-3.7 1-4.2-4.8zM634.9 378.4l4.2 4.5-3.7 1-4.2-4.7z"/><path class="d34" d="M638.6 377.6l4.2 4.4-3.7 1-4.2-4.5z"/><path class="d12" d="M494.6 401.3l4.5 4.6-3.5 .6-4.5-4.6zM498.1 400.7l4.5 4.7-3.5 .6-4.5-4.6z"/><path class="d13" d="M501.6 400l4.5 4.7-3.5 .6-4.5-4.7z"/><path class="d14" d="M505.1 399.4l4.4 4.8-3.5 .6-4.5-4.7zM508.6 398.7l4.4 4.8-3.5 .6-4.4-4.8z"/><path class="d15" d="M512.1 398.1l4.4 4.8-3.5 .6-4.4-4.8z"/><path class="d16" d="M515.6 397.4l4.4 4.8-3.5 .6-4.4-4.8zM519.2 396.8l4.4 4.9-3.5 .6-4.4-4.8z"/><path class="d17" d="M522.7 396.1l4.4 4.9-3.5 .6-4.4-4.9z"/><path class="d18" d="M526.2 395.4l4.4 4.9-3.5 .7-4.4-4.9zM529.8 394.8l4.4 4.9-3.5 .7-4.4-4.9z"/><path class="d19" d="M533.3 394.1l4.4 4.9-3.5 .7-4.4-4.9z"/><path class="d20" d="M536.9 393.4l4.4 4.9-3.5 .7-4.4-4.9zM540.4 392.7l4.4 4.9-3.5 .7-4.4-4.9z"/><path class="d21" d="M544 392l4.4 4.9-3.6 .7-4.4-4.9zM547.5 391.4l4.4 4.9-3.6 .7-4.4-4.9z"/><path class="d22" d="M551.1 390.7l4.4 4.9-3.6 .7-4.4-4.9z"/><path class="d23" d="M554.7 390l4.4 4.9-3.6 .7-4.4-4.9zM558.3 389.3l4.4 4.9-3.6 .7-4.4-4.9z"/><path class="d24" d="M561.8 388.6l4.3 4.8-3.6 .7-4.4-4.9z"/><path class="d25" d="M565.4 387.9l4.3 4.8-3.6 .7-4.3-4.8zM569 387.2l4.3 4.8-3.6 .7-4.3-4.8z"/><path class="d26" d="M572.6 386.5l4.3 4.8-3.6 .7-4.3-4.8zM576.2 385.7l4.3 4.7-3.6 .7-4.3-4.8z"/><path class="d27" d="M579.8 385l4.3 4.7-3.6 .8-4.3-4.7z"/><path class="d28" d="M583.4 384.3l4.3 4.6-3.6 .8-4.3-4.7zM587 383.6l4.3 4.6-3.6 .8-4.3-4.6z"/><path class="d29" d="M590.6 382.9l4.3 4.5-3.6 .8-4.3-4.6zM594.2 382.1l4.3 4.5-3.6 .8-4.3-4.5z"/><path class="d30" d="M597.9 381.4l4.3 4.4-3.6 .8-4.3-4.5z"/><path class="d31" d="M601.5 380.7l4.3 4.3-3.6 .8-4.3-4.4zM605.1 380l4.3 4.3-3.6 .8-4.3-4.3z"/><path class="d32" d="M608.8 379.2l4.3 4.2-3.6 .8-4.3-4.3zM612.4 378.5l4.3 4.1-3.6 .8-4.3-4.2z"/><path class="d33" d="M616 377.7l4.3 4-3.6 .8-4.3-4.1z"/><path class="d34" d="M619.7 377l4.3 4-3.6 .8-4.3-4zM623.3 376.3l4.3 3.9-3.6 .8-4.3-4z"/><path class="d35" d="M627 375.5l4.3 3.8-3.7 .8-4.3-3.9zM630.6 374.8l4.3 3.7-3.7 .8-4.3-3.8z"/><path class="d36" d="M634.3 374l4.3 3.6-3.7 .9-4.3-3.7z"/><path class="d14" d="M490.1 397l4.5 4.3-3.5 .6-4.5-4.4z"/><path class="d15" d="M493.6 396.4l4.5 4.3-3.5 .6-4.5-4.3zM497.1 395.8l4.5 4.3-3.5 .6-4.5-4.3z"/><path class="d16" d="M500.6 395.2l4.5 4.2-3.5 .6-4.5-4.3z"/><path class="d17" d="M504.1 394.5l4.5 4.2-3.5 .6-4.5-4.2zM507.7 393.9l4.5 4.2-3.5 .7-4.5-4.2z"/><path class="d18" d="M511.2 393.3l4.4 4.1-3.5 .7-4.5-4.2z"/><path class="d19" d="M514.7 392.7l4.4 4.1-3.5 .7-4.4-4.1zM518.2 392l4.4 4.1-3.5 .7-4.4-4.1z"/><path class="d20" d="M521.8 391.4l4.4 4-3.5 .7-4.4-4.1zM525.3 390.8l4.4 4-3.5 .7-4.4-4z"/><path class="d21" d="M528.9 390.1l4.4 4-3.5 .7-4.4-4z"/><path class="d22" d="M532.4 389.5l4.4 3.9-3.6 .7-4.4-4zM536 388.8l4.4 3.9-3.6 .7-4.4-3.9z"/><path class="d23" d="M539.6 388.2l4.4 3.9-3.6 .7-4.4-3.9z"/><path class="d24" d="M543.1 387.5l4.4 3.9-3.6 .7-4.4-3.9zM546.7 386.8l4.4 3.8-3.6 .7-4.4-3.9z"/><path class="d25" d="M550.3 386.2l4.4 3.8-3.6 .7-4.4-3.8zM553.9 385.5l4.4 3.8-3.6 .7-4.4-3.8z"/><path class="d26" d="M557.4 384.8l4.4 3.7-3.6 .7-4.4-3.8z"/><path class="d27" d="M561 384.2l4.4 3.7-3.6 .7-4.4-3.7zM564.6 383.5l4.4 3.7-3.6 .7-4.4-3.7z"/><path class="d28" d="M568.2 382.8l4.4 3.7-3.6 .7-4.4-3.7zM571.8 382.1l4.4 3.6-3.6 .7-4.4-3.7z"/><path class="d29" d="M575.4 381.4l4.4 3.6-3.6 .7-4.4-3.6z"/><path class="d30" d="M579 380.7l4.4 3.6-3.6 .7-4.4-3.6zM582.7 380l4.4 3.5-3.6 .7-4.4-3.6z"/><path class="d31" d="M586.3 379.3l4.4 3.5-3.6 .7-4.4-3.5zM589.9 378.6l4.3 3.5-3.6 .7-4.4-3.5z"/><path class="d32" d="M593.5 377.9l4.3 3.5-3.6 .7-4.3-3.5z"/><path class="d33" d="M597.2 377.2l4.3 3.4-3.6 .7-4.3-3.5zM600.8 376.5l4.3 3.4-3.6 .7-4.3-3.4z"/><path class="d34" d="M604.4 375.8l4.3 3.4-3.6 .7-4.3-3.4zM608.1 375.1l4.3 3.4-3.6 .7-4.3-3.4z"/><path class="d35" d="M611.7 374.4l4.3 3.3-3.6 .7-4.3-3.4zM615.4 373.7l4.3 3.3-3.6 .7-4.3-3.3z"/><path class="d36" d="M619 372.9l4.3 3.3-3.7 .7-4.3-3.3z"/><path class="d37" d="M622.7 372.2l4.3 3.3-3.7 .7-4.3-3.3zM626.3 371.5l4.3 3.3-3.7 .7-4.3-3.3z"/><path class="d38" d="M630 370.8l4.3 3.2-3.7 .8-4.3-3.3z"/><path class="d16" d="M485.6 393l4.5 4-3.5 .6-4.5-4.1z"/><path class="d17" d="M489.1 392.5l4.5 3.9-3.5 .6-4.5-4zM492.6 392l4.5 3.8-3.5 .6-4.5-3.9z"/><path class="d18" d="M496.1 391.5l4.5 3.7-3.5 .6-4.5-3.8z"/><path class="d19" d="M499.7 390.9l4.5 3.6-3.5 .6-4.5-3.7zM503.2 390.4l4.5 3.5-3.5 .6-4.5-3.6z"/><path class="d20" d="M506.7 389.9l4.5 3.4-3.5 .6-4.5-3.5zM510.3 389.3l4.5 3.4-3.5 .6-4.5-3.4z"/><path class="d21" d="M513.8 388.7l4.5 3.3-3.5 .6-4.5-3.4z"/><path class="d22" d="M517.3 388.2l4.4 3.2-3.5 .6-4.5-3.3zM520.9 387.6l4.4 3.1-3.5 .6-4.4-3.2z"/><path class="d23" d="M524.4 387l4.4 3.1-3.6 .6-4.4-3.1zM528 386.4l4.4 3-3.6 .6-4.4-3.1z"/><path class="d24" d="M531.6 385.8l4.4 3-3.6 .7-4.4-3z"/><path class="d25" d="M535.1 385.2l4.4 2.9-3.6 .7-4.4-3zM538.7 384.6l4.4 2.9-3.6 .7-4.4-2.9z"/><path class="d26" d="M542.3 384l4.4 2.8-3.6 .7-4.4-2.9zM545.9 383.4l4.4 2.8-3.6 .7-4.4-2.8z"/><path class="d27" d="M549.4 382.8l4.4 2.8-3.6 .7-4.4-2.8z"/><path class="d28" d="M553 382.1l4.4 2.7-3.6 .7-4.4-2.8zM556.6 381.5l4.4 2.7-3.6 .7-4.4-2.7z"/><path class="d29" d="M560.2 380.8l4.4 2.7-3.6 .7-4.4-2.7zM563.8 380.1l4.4 2.7-3.6 .7-4.4-2.7z"/><path class="d30" d="M567.4 379.5l4.4 2.6-3.6 .7-4.4-2.7z"/><path class="d31" d="M571 378.8l4.4 2.6-3.6 .7-4.4-2.6zM574.7 378.1l4.4 2.6-3.6 .7-4.4-2.6z"/><path class="d32" d="M578.3 377.4l4.4 2.6-3.6 .7-4.4-2.6zM581.9 376.7l4.4 2.6-3.6 .7-4.4-2.6z"/><path class="d33" d="M585.5 376l4.4 2.6-3.6 .7-4.4-2.6z"/><path class="d34" d="M589.1 375.3l4.4 2.6-3.6 .7-4.4-2.6zM592.8 374.6l4.4 2.6-3.6 .7-4.4-2.6z"/><path class="d35" d="M596.4 373.9l4.4 2.7-3.6 .7-4.4-2.6zM600.1 373.1l4.4 2.7-3.6 .7-4.4-2.7z"/><path class="d36" d="M603.7 372.4l4.4 2.7-3.6 .7-4.4-2.7zM607.4 371.6l4.4 2.7-3.6 .7-4.4-2.7z"/><path class="d37" d="M611 370.9l4.4 2.8-3.6 .7-4.4-2.7z"/><path class="d38" d="M614.7 370.1l4.4 2.8-3.7 .7-4.4-2.8zM618.3 369.4l4.3 2.9-3.7 .7-4.4-2.8z"/><path class="d39" d="M622 368.6l4.3 2.9-3.7 .7-4.3-2.9zM625.7 367.8l4.3 3-3.7 .7-4.3-2.9z"/><path class="d18" d="M481.1 389.4l4.5 3.6-3.5 .5-4.5-3.7z"/><path class="d19" d="M484.6 389l4.5 3.5-3.5 .5-4.5-3.6zM488.1 388.6l4.5 3.4-3.5 .5-4.5-3.5z"/><path class="d20" d="M491.6 388.2l4.5 3.2-3.5 .5-4.5-3.4zM495.2 387.8l4.5 3.1-3.5 .5-4.5-3.2z"/><path class="d21" d="M498.7 387.4l4.5 3-3.5 .5-4.5-3.1z"/><path class="d22" d="M502.2 386.9l4.5 2.9-3.5 .5-4.5-3zM505.8 386.5l4.5 2.8-3.5 .6-4.5-2.9z"/><path class="d23" d="M509.3 386l4.5 2.8-3.5 .6-4.5-2.8zM512.9 385.5l4.5 2.7-3.5 .6-4.5-2.8z"/><path class="d24" d="M516.4 385l4.5 2.6-3.6 .6-4.5-2.7zM520 384.5l4.5 2.5-3.6 .6-4.5-2.6z"/><path class="d25" d="M523.6 384l4.5 2.4-3.6 .6-4.5-2.5z"/><path class="d26" d="M527.1 383.5l4.4 2.4-3.6 .6-4.5-2.4zM530.7 382.9l4.4 2.3-3.6 .6-4.4-2.4z"/><path class="d27" d="M534.3 382.4l4.4 2.3-3.6 .6-4.4-2.3zM537.8 381.8l4.4 2.2-3.6 .6-4.4-2.3z"/><path class="d28" d="M541.4 381.2l4.4 2.2-3.6 .6-4.4-2.2zM545 380.6l4.4 2.1-3.6 .6-4.4-2.2z"/><path class="d29" d="M548.6 380l4.4 2.1-3.6 .6-4.4-2.1z"/><path class="d30" d="M552.2 379.4l4.4 2-3.6 .6-4.4-2.1zM555.8 378.8l4.4 2-3.6 .7-4.4-2z"/><path class="d31" d="M559.4 378.2l4.4 2-3.6 .7-4.4-2zM563 377.5l4.4 2-3.6 .7-4.4-2z"/><path class="d32" d="M566.6 376.8l4.4 2-3.6 .7-4.4-2z"/><path class="d33" d="M570.2 376.2l4.4 2-3.6 .7-4.4-2zM573.9 375.5l4.4 1.9-3.6 .7-4.4-2z"/><path class="d34" d="M577.5 374.8l4.4 2-3.6 .7-4.4-1.9zM581.1 374.1l4.4 2-3.6 .7-4.4-2z"/><path class="d35" d="M584.7 373.3l4.4 2-3.6 .7-4.4-2zM588.4 372.6l4.4 2-3.6 .7-4.4-2z"/><path class="d36" d="M592 371.9l4.4 2-3.6 .7-4.4-2z"/><path class="d37" d="M595.7 371.1l4.4 2-3.6 .7-4.4-2zM599.3 370.3l4.4 2.1-3.6 .7-4.4-2z"/><path class="d38" d="M603 369.5l4.4 2.1-3.6 .7-4.4-2.1zM606.6 368.7l4.4 2.2-3.7 .8-4.4-2.1z"/><path class="d39" d="M610.3 367.9l4.4 2.2-3.7 .8-4.4-2.2z"/><path class="d40" d="M613.9 367.1l4.4 2.3-3.7 .8-4.4-2.2zM617.6 366.2l4.4 2.3-3.7 .8-4.4-2.3z"/><path class="d41" d="M621.3 365.4l4.4 2.4-3.7 .8-4.4-2.3z"/><path class="d20" d="M476.6 386.2l4.5 3.2-3.5 .4-4.5-3.3zM480.1 385.9l4.5 3.1-3.5 .4-4.5-3.2z"/><path class="d21" d="M483.6 385.6l4.5 3-3.5 .4-4.5-3.1z"/><path class="d22" d="M487.1 385.3l4.5 2.9-3.5 .4-4.5-3zM490.7 385l4.5 2.8-3.5 .4-4.5-2.9z"/><path class="d23" d="M494.2 384.6l4.5 2.7-3.5 .4-4.5-2.8zM497.8 384.3l4.5 2.7-3.5 .4-4.5-2.7z"/><path class="d24" d="M501.3 383.9l4.5 2.6-3.5 .5-4.5-2.7zM504.9 383.5l4.5 2.5-3.5 .5-4.5-2.6z"/><path class="d25" d="M508.4 383.1l4.5 2.4-3.5 .5-4.5-2.5zM512 382.7l4.5 2.3-3.6 .5-4.5-2.4z"/><path class="d26" d="M515.5 382.3l4.5 2.3-3.6 .5-4.5-2.3zM519.1 381.8l4.5 2.2-3.6 .5-4.5-2.3z"/><path class="d27" d="M522.7 381.4l4.5 2.1-3.6 .5-4.5-2.2zM526.2 380.9l4.5 2-3.6 .5-4.5-2.1z"/><path class="d28" d="M529.8 380.4l4.5 2-3.6 .6-4.5-2z"/><path class="d29" d="M533.4 379.9l4.5 1.9-3.6 .6-4.5-2zM537 379.4l4.5 1.9-3.6 .6-4.5-1.9z"/><path class="d30" d="M540.6 378.8l4.4 1.8-3.6 .6-4.5-1.9zM544.2 378.3l4.4 1.8-3.6 .6-4.4-1.8z"/><path class="d31" d="M547.8 377.7l4.4 1.7-3.6 .6-4.4-1.8zM551.4 377.1l4.4 1.7-3.6 .6-4.4-1.7z"/><path class="d32" d="M555 376.5l4.4 1.7-3.6 .6-4.4-1.7zM558.6 375.9l4.4 1.6-3.6 .7-4.4-1.7z"/><path class="d33" d="M562.2 375.3l4.4 1.6-3.6 .7-4.4-1.6z"/><path class="d34" d="M565.8 374.6l4.4 1.6-3.6 .7-4.4-1.6zM569.4 373.9l4.4 1.5-3.6 .7-4.4-1.6z"/><path class="d35" d="M573 373.3l4.4 1.5-3.6 .7-4.4-1.5zM576.7 372.6l4.4 1.5-3.6 .7-4.4-1.5z"/><path class="d36" d="M580.3 371.8l4.4 1.5-3.6 .7-4.4-1.5z"/><path class="d37" d="M583.9 371.1l4.4 1.5-3.6 .7-4.4-1.5zM587.6 370.4l4.4 1.5-3.6 .8-4.4-1.5z"/><path class="d38" d="M591.2 369.6l4.4 1.5-3.6 .8-4.4-1.5zM594.9 368.8l4.4 1.5-3.6 .8-4.4-1.5z"/><path class="d39" d="M598.5 368l4.4 1.5-3.7 .8-4.4-1.5zM602.2 367.2l4.4 1.5-3.7 .8-4.4-1.5z"/><path class="d40" d="M605.9 366.4l4.4 1.5-3.7 .8-4.4-1.5z"/><path class="d41" d="M609.5 365.5l4.4 1.5-3.7 .8-4.4-1.5zM613.2 364.7l4.4 1.6-3.7 .8-4.4-1.5z"/><path class="d42" d="M616.9 363.8l4.4 1.6-3.7 .9-4.4-1.6z"/><path class="d22" d="M472 383.4l4.5 2.8-3.5 .3-4.5-2.8zM475.6 383.2l4.5 2.7-3.5 .3-4.5-2.8z"/><path class="d23" d="M479.1 383l4.5 2.6-3.5 .3-4.5-2.7zM482.6 382.8l4.5 2.5-3.5 .3-4.5-2.6z"/><path class="d24" d="M486.2 382.5l4.5 2.5-3.5 .3-4.5-2.5zM489.7 382.2l4.5 2.4-3.5 .3-4.5-2.5z"/><path class="d25" d="M493.3 381.9l4.5 2.3-3.5 .4-4.5-2.4zM496.8 381.6l4.5 2.3-3.5 .4-4.5-2.3z"/><path class="d26" d="M500.4 381.3l4.5 2.2-3.5 .4-4.5-2.3zM503.9 381l4.5 2.1-3.6 .4-4.5-2.2z"/><path class="d27" d="M507.5 380.6l4.5 2.1-3.6 .4-4.5-2.1zM511.1 380.3l4.5 2-3.6 .4-4.5-2.1z"/><path class="d28" d="M514.6 379.9l4.5 1.9-3.6 .4-4.5-2zM518.2 379.5l4.5 1.9-3.6 .5-4.5-1.9z"/><path class="d29" d="M521.8 379.1l4.5 1.8-3.6 .5-4.5-1.9zM525.3 378.6l4.5 1.7-3.6 .5-4.5-1.8z"/><path class="d30" d="M528.9 378.2l4.5 1.7-3.6 .5-4.5-1.7zM532.5 377.7l4.5 1.6-3.6 .5-4.5-1.7z"/><path class="d31" d="M536.1 377.2l4.5 1.6-3.6 .5-4.5-1.6zM539.7 376.7l4.5 1.5-3.6 .6-4.5-1.6z"/><path class="d32" d="M543.3 376.2l4.5 1.5-3.6 .6-4.5-1.5zM546.9 375.7l4.5 1.4-3.6 .6-4.5-1.5z"/><path class="d33" d="M550.5 375.1l4.5 1.4-3.6 .6-4.5-1.4zM554.1 374.6l4.5 1.3-3.6 .6-4.5-1.4z"/><path class="d34" d="M557.7 374l4.5 1.3-3.6 .6-4.5-1.3z"/><path class="d35" d="M561.3 373.4l4.5 1.2-3.6 .6-4.5-1.3zM565 372.8l4.5 1.2-3.6 .7-4.5-1.2z"/><path class="d36" d="M568.6 372.1l4.5 1.1-3.6 .7-4.5-1.2zM572.2 371.5l4.4 1.1-3.6 .7-4.5-1.1z"/><path class="d37" d="M575.9 370.8l4.4 1.1-3.6 .7-4.4-1.1zM579.5 370.1l4.4 1-3.6 .7-4.4-1.1z"/><path class="d38" d="M583.1 369.4l4.4 1-3.6 .7-4.4-1z"/><path class="d39" d="M586.8 368.7l4.4 .9-3.6 .8-4.4-1zM590.4 367.9l4.4 .9-3.7 .8-4.4-.9z"/><path class="d40" d="M594.1 367.2l4.4 .9-3.7 .8-4.4-.9zM597.7 366.4l4.4 .8-3.7 .8-4.4-.9z"/><path class="d41" d="M601.4 365.6l4.4 .8-3.7 .8-4.4-.8z"/><path class="d42" d="M605.1 364.8l4.4 .8-3.7 .8-4.4-.8zM608.8 363.9l4.4 .7-3.7 .9-4.4-.8z"/><path class="d43" d="M612.4 363.1l4.4 .7-3.7 .9-4.4-.7z"/><path class="d23" d="M467.5 381.4l4.5 2-3.5 .2-4.5-2.1zM471.1 381.3l4.5 1.9-3.5 .2-4.5-2z"/><path class="d24" d="M474.6 381.1l4.5 1.9-3.5 .2-4.5-1.9zM478.1 381l4.5 1.8-3.5 .2-4.5-1.9z"/><path class="d25" d="M481.7 380.8l4.5 1.7-3.5 .3-4.5-1.8zM485.2 380.6l4.5 1.7-3.5 .3-4.5-1.7z"/><path class="d26" d="M488.8 380.3l4.5 1.6-3.5 .3-4.5-1.7zM492.3 380.1l4.5 1.6-3.5 .3-4.5-1.6z"/><path class="d27" d="M495.9 379.8l4.5 1.5-3.6 .3-4.5-1.6zM499.4 379.6l4.5 1.4-3.6 .3-4.5-1.5z"/><path class="d28" d="M503 379.3l4.5 1.4-3.6 .4-4.5-1.4zM506.6 379l4.5 1.3-3.6 .4-4.5-1.4z"/><path class="d29" d="M510.1 378.6l4.5 1.3-3.6 .4-4.5-1.3zM513.7 378.3l4.5 1.2-3.6 .4-4.5-1.3z"/><path class="d30" d="M517.3 377.9l4.5 1.2-3.6 .4-4.5-1.2zM520.9 377.5l4.5 1.1-3.6 .4-4.5-1.2z"/><path class="d31" d="M524.5 377.1l4.5 1-3.6 .4-4.5-1.1zM528 376.7l4.5 1-3.6 .5-4.5-1z"/><path class="d32" d="M531.6 376.3l4.5 .9-3.6 .5-4.5-1zM535.2 375.8l4.5 .9-3.6 .5-4.5-.9z"/><path class="d33" d="M538.8 375.4l4.5 .9-3.6 .5-4.5-.9zM542.4 374.9l4.5 .8-3.6 .5-4.5-.9z"/><path class="d34" d="M546 374.4l4.5 .8-3.6 .6-4.5-.8zM549.6 373.9l4.5 .7-3.6 .6-4.5-.8z"/><path class="d35" d="M553.3 373.3l4.5 .7-3.6 .6-4.5-.7zM556.9 372.8l4.5 .6-3.6 .6-4.5-.7z"/><path class="d36" d="M560.5 372.2l4.5 .6-3.6 .6-4.5-.6zM564.1 371.6l4.5 .6-3.6 .6-4.5-.6z"/><path class="d37" d="M567.8 371l4.5 .5-3.6 .7-4.5-.6z"/><path class="d38" d="M571.4 370.3l4.5 .5-3.6 .7-4.5-.5zM575 369.7l4.5 .4-3.6 .7-4.5-.5z"/><path class="d39" d="M578.7 369l4.5 .4-3.6 .7-4.5-.4zM582.3 368.3l4.5 .4-3.6 .7-4.5-.4z"/><path class="d40" d="M586 367.6l4.5 .3-3.7 .7-4.5-.4zM589.6 366.9l4.5 .3-3.7 .8-4.5-.3z"/><path class="d41" d="M593.3 366.1l4.5 .3-3.7 .8-4.5-.3z"/><path class="d42" d="M596.9 365.3l4.5 .3-3.7 .8-4.5-.3zM600.6 364.5l4.5 .2-3.7 .8-4.5-.3z"/><path class="d43" d="M604.3 363.7l4.5 .2-3.7 .8-4.5-.2zM608 362.9l4.5 .2-3.7 .9-4.5-.2z"/><path class="d24" d="M463 380.5l4.5 .9-3.5 .1-4.5-1zM466.6 380.4l4.5 .9-3.5 .1-4.5-.9z"/><path class="d25" d="M470.1 380.3l4.5 .8-3.5 .2-4.5-.9zM473.6 380.2l4.5 .7-3.5 .2-4.5-.8z"/><path class="d26" d="M477.2 380.1l4.5 .6-3.5 .2-4.5-.7zM480.7 380l4.5 .6-3.5 .2-4.5-.6z"/><path class="d27" d="M484.3 379.8l4.5 .5-3.5 .2-4.5-.6zM487.8 379.7l4.5 .4-3.6 .2-4.5-.5z"/><path class="d28" d="M491.4 379.5l4.5 .4-3.6 .3-4.5-.4zM495 379.3l4.5 .3-3.6 .3-4.5-.4zM498.5 379l4.5 .2-3.6 .3-4.5-.3z"/><path class="d29" d="M502.1 378.8l4.5 .2-3.6 .3-4.5-.2zM505.7 378.5l4.5 .1-3.6 .3-4.5-.2z"/><path class="d30" d="M509.2 378.2l4.5 .1-3.6 .3-4.5-.1zM512.8 377.9l4.5 0-3.6 .4-4.5-.1z"/><path class="d31" d="M516.4 377.5l4.5 0-3.6 .4-4.5 0zM520 377.2l4.5 0-3.6 .4-4.5 0z"/><path class="d32" d="M523.6 376.8l4.5-.1-3.6 .4-4.5 0zM527.1 376.4l4.5-.1-3.6 .4-4.5 .1z"/><path class="d33" d="M530.7 376l4.5-.1-3.6 .5-4.5 .1zM534.3 375.5l4.5-.2-3.6 .5-4.5 .1z"/><path class="d34" d="M537.9 375.1l4.5-.2-3.6 .5-4.5 .2zM541.5 374.6l4.5-.2-3.6 .5-4.5 .2z"/><path class="d35" d="M545.2 374.1l4.5-.2-3.6 .5-4.5 .2zM548.8 373.5l4.5-.2-3.6 .5-4.5 .2z"/><path class="d36" d="M552.4 373l4.5-.2-3.6 .6-4.5 .2zM556 372.4l4.5-.2-3.6 .6-4.5 .2z"/><path class="d37" d="M559.6 371.8l4.5-.3-3.6 .6-4.5 .2z"/><path class="d38" d="M563.3 371.2l4.5-.3-3.6 .6-4.5 .3zM566.9 370.6l4.5-.2-3.6 .6-4.5 .3z"/><path class="d39" d="M570.5 369.9l4.5-.2-3.6 .7-4.5 .2zM574.2 369.2l4.5-.2-3.6 .7-4.5 .2z"/><path class="d40" d="M577.8 368.5l4.5-.2-3.6 .7-4.5 .2zM581.5 367.8l4.5-.2-3.7 .7-4.5 .2z"/><path class="d41" d="M585.1 367l4.5-.2-3.7 .7-4.5 .2zM588.8 366.3l4.5-.2-3.7 .8-4.5 .2z"/><path class="d42" d="M592.5 365.5l4.5-.1-3.7 .8-4.5 .2z"/><path class="d43" d="M596.1 364.6l4.5-.1-3.7 .8-4.5 .1zM599.8 363.8l4.5-.1-3.7 .8-4.5 .1z"/><path class="d44" d="M603.5 362.9l4.5 0-3.7 .8-4.5 .1z"/><path class="d25" d="M458.5 380.7l4.5-.2-3.5 0-4.5 .1zM462.1 380.7l4.5-.3-3.5 .1-4.5 .2zM465.6 380.8l4.5-.4-3.5 .1-4.5 .3z"/><path class="d26" d="M469.1 380.7l4.5-.5-3.5 .1-4.5 .4zM472.7 380.7l4.5-.6-3.5 .1-4.5 .5z"/><path class="d27" d="M476.2 380.7l4.5-.7-3.5 .1-4.5 .6zM479.8 380.6l4.5-.7-3.6 .2-4.5 .7zM483.4 380.5l4.5-.8-3.6 .2-4.5 .7z"/><path class="d28" d="M486.9 380.3l4.5-.9-3.6 .2-4.5 .8zM490.5 380.2l4.5-.9-3.6 .2-4.5 .9z"/><path class="d29" d="M494 380l4.5-1-3.6 .2-4.5 .9zM497.6 379.8l4.5-1-3.6 .3-4.5 1z"/><path class="d30" d="M501.2 379.6l4.5-1.1-3.6 .3-4.5 1zM504.7 379.3l4.5-1.1-3.6 .3-4.5 1.1z"/><path class="d31" d="M508.3 379l4.5-1.1-3.6 .3-4.5 1.1zM511.9 378.7l4.5-1.2-3.6 .3-4.5 1.1z"/><path class="d32" d="M515.5 378.4l4.5-1.2-3.6 .4-4.5 1.2zM519.1 378l4.5-1.2-3.6 .4-4.5 1.2z"/><path class="d33" d="M522.7 377.6l4.5-1.2-3.6 .4-4.5 1.2zM526.2 377.2l4.5-1.2-3.6 .4-4.5 1.2z"/><path class="d34" d="M529.8 376.7l4.5-1.2-3.6 .4-4.5 1.2zM533.4 376.3l4.5-1.2-3.6 .5-4.5 1.2z"/><path class="d35" d="M537.1 375.8l4.5-1.2-3.6 .5-4.5 1.2zM540.7 375.2l4.5-1.2-3.6 .5-4.5 1.2z"/><path class="d36" d="M544.3 374.7l4.5-1.1-3.6 .5-4.5 1.2zM547.9 374.1l4.5-1.1-3.6 .6-4.5 1.1z"/><path class="d37" d="M551.5 373.5l4.5-1.1-3.6 .6-4.5 1.1zM555.1 372.9l4.5-1-3.6 .6-4.5 1.1z"/><path class="d38" d="M558.8 372.2l4.5-1-3.6 .6-4.5 1zM562.4 371.5l4.5-.9-3.6 .6-4.5 1z"/><path class="d39" d="M566 370.8l4.5-.9-3.6 .7-4.5 .9zM569.7 370l4.5-.8-3.6 .7-4.5 .9z"/><path class="d40" d="M573.3 369.2l4.5-.7-3.6 .7-4.5 .8z"/><path class="d41" d="M577 368.4l4.5-.6-3.7 .7-4.5 .7zM580.6 367.6l4.5-.5-3.7 .8-4.5 .6z"/><path class="d42" d="M584.3 366.7l4.5-.5-3.7 .8-4.5 .5zM588 365.8l4.5-.4-3.7 .8-4.5 .5z"/><path class="d43" d="M591.6 364.9l4.5-.2-3.7 .8-4.5 .4z"/><path class="d44" d="M595.3 363.9l4.5-.1-3.7 .8-4.5 .2zM599 362.9l4.5 0-3.7 .9-4.5 .1z"/><path class="d25" d="M454.1 381.8l4.5-1.1-3.5-.1-4.5 1zM457.6 381.9l4.5-1.2-3.5 0-4.5 1.1zM461.1 382l4.5-1.2-3.5 0-4.5 1.2z"/><path class="d26" d="M464.7 382l4.5-1.3-3.5 0-4.5 1.2zM468.2 382l4.5-1.3-3.5 0-4.5 1.3z"/><path class="d27" d="M471.8 382l4.5-1.4-3.5 .1-4.5 1.3zM475.3 382l4.5-1.4-3.6 .1-4.5 1.4zM478.9 381.9l4.5-1.4-3.6 .1-4.5 1.4z"/><path class="d28" d="M482.4 381.8l4.5-1.5-3.6 .1-4.5 1.4zM486 381.7l4.5-1.5-3.6 .2-4.5 1.5z"/><path class="d29" d="M489.6 381.5l4.5-1.5-3.6 .2-4.5 1.5zM493.1 381.3l4.5-1.5-3.6 .2-4.5 1.5z"/><path class="d30" d="M496.7 381.1l4.5-1.6-3.6 .2-4.5 1.5zM500.3 380.9l4.5-1.6-3.6 .3-4.5 1.6z"/><path class="d31" d="M503.8 380.6l4.5-1.6-3.6 .3-4.5 1.6zM507.4 380.3l4.5-1.6-3.6 .3-4.5 1.6zM511 379.9l4.5-1.6-3.6 .3-4.5 1.6z"/><path class="d32" d="M514.6 379.6l4.5-1.6-3.6 .4-4.5 1.6zM518.2 379.2l4.5-1.6-3.6 .4-4.5 1.6z"/><path class="d33" d="M521.8 378.7l4.5-1.5-3.6 .4-4.5 1.6zM525.3 378.2l4.5-1.5-3.6 .4-4.5 1.5z"/><path class="d34" d="M528.9 377.7l4.5-1.5-3.6 .5-4.5 1.5z"/><path class="d35" d="M532.6 377.2l4.5-1.4-3.6 .5-4.5 1.5zM536.2 376.6l4.5-1.4-3.6 .5-4.5 1.4z"/><path class="d36" d="M539.8 376.1l4.5-1.4-3.6 .6-4.5 1.4zM543.4 375.4l4.5-1.3-3.6 .6-4.5 1.4z"/><path class="d37" d="M547 374.8l4.5-1.3-3.6 .6-4.5 1.3zM550.6 374.1l4.5-1.2-3.6 .6-4.5 1.3z"/><path class="d38" d="M554.3 373.3l4.5-1.1-3.6 .7-4.5 1.2zM557.9 372.6l4.5-1.1-3.6 .7-4.5 1.1z"/><path class="d39" d="M561.5 371.8l4.5-1-3.6 .7-4.5 1.1z"/><path class="d40" d="M565.2 370.9l4.5-.9-3.6 .8-4.5 1zM568.8 370.1l4.5-.8-3.6 .8-4.5 .9z"/><path class="d41" d="M572.5 369.2l4.5-.8-3.7 .8-4.5 .8zM576.1 368.2l4.5-.7-3.7 .8-4.5 .8z"/><path class="d42" d="M579.8 367.3l4.5-.6-3.7 .9-4.5 .7z"/><path class="d43" d="M583.5 366.3l4.5-.5-3.7 .9-4.5 .6zM587.1 365.2l4.5-.3-3.7 .9-4.5 .5z"/><path class="d44" d="M590.8 364.2l4.5-.2-3.7 1-4.5 .3z"/><path class="d45" d="M594.5 363l4.5-.1-3.7 1-4.5 .2z"/><path class="d25" d="M449.6 383.4l4.5-1.6-3.5-.1-4.5 1.6zM453.1 383.5l4.5-1.6-3.5-.1-4.5 1.6zM456.7 383.5l4.5-1.5-3.5-.1-4.5 1.6z"/><path class="d26" d="M460.2 383.5l4.5-1.5-3.5 0-4.5 1.5zM463.8 383.5l4.5-1.5-3.5 0-4.5 1.5z"/><path class="d27" d="M467.3 383.5l4.5-1.4-3.5 0-4.5 1.5zM470.8 383.4l4.5-1.4-3.6 0-4.5 1.4zM474.4 383.3l4.5-1.4-3.6 .1-4.5 1.4z"/><path class="d28" d="M478 383.2l4.5-1.3-3.6 .1-4.5 1.4zM481.5 383l4.5-1.3-3.6 .1-4.5 1.3z"/><path class="d29" d="M485.1 382.8l4.5-1.3-3.6 .2-4.5 1.3zM488.6 382.6l4.5-1.2-3.6 .2-4.5 1.3z"/><path class="d30" d="M492.2 382.3l4.5-1.2-3.6 .2-4.5 1.2zM495.8 382.1l4.5-1.2-3.6 .3-4.5 1.2zM499.3 381.7l4.5-1.1-3.6 .3-4.5 1.2z"/><path class="d31" d="M502.9 381.4l4.5-1.1-3.6 .3-4.5 1.1zM506.5 381l4.5-1.1-3.6 .3-4.5 1.1z"/><path class="d32" d="M510.1 380.6l4.5-1.1-3.6 .4-4.5 1.1zM513.7 380.2l4.5-1-3.6 .4-4.5 1.1z"/><path class="d33" d="M517.3 379.7l4.5-1-3.6 .4-4.5 1zM520.9 379.2l4.5-1-3.6 .5-4.5 1z"/><path class="d34" d="M524.5 378.7l4.5-.9-3.6 .5-4.5 1z"/><path class="d35" d="M528.1 378.1l4.5-.9-3.6 .5-4.5 .9zM531.7 377.5l4.5-.9-3.6 .6-4.5 .9z"/><path class="d36" d="M535.3 376.9l4.5-.8-3.6 .6-4.5 .9zM538.9 376.2l4.5-.8-3.6 .6-4.5 .8z"/><path class="d37" d="M542.5 375.5l4.5-.8-3.6 .7-4.5 .8zM546.1 374.8l4.5-.7-3.6 .7-4.5 .8z"/><path class="d38" d="M549.8 374l4.5-.7-3.6 .7-4.5 .7z"/><path class="d39" d="M553.4 373.2l4.5-.7-3.6 .8-4.5 .7zM557 372.4l4.5-.6-3.6 .8-4.5 .7z"/><path class="d40" d="M560.7 371.5l4.5-.6-3.6 .8-4.5 .6zM564.3 370.6l4.5-.6-3.6 .9-4.5 .6z"/><path class="d41" d="M568 369.7l4.5-.5-3.7 .9-4.5 .6z"/><path class="d42" d="M571.6 368.7l4.5-.5-3.7 .9-4.5 .5zM575.3 367.7l4.5-.5-3.7 1-4.5 .5z"/><path class="d43" d="M579 366.7l4.5-.4-3.7 1-4.5 .5z"/><path class="d44" d="M582.6 365.6l4.5-.4-3.7 1-4.5 .4zM586.3 364.5l4.5-.4-3.7 1.1-4.5 .4z"/><path class="d45" d="M590 363.4l4.5-.3-3.7 1.1-4.5 .4z"/><path class="d24" d="M445.1 385.3l4.5-1.9-3.5-.1-4.4 2z"/><path class="d25" d="M448.7 385.2l4.5-1.7-3.5-.1-4.5 1.9zM452.2 385.1l4.5-1.5-3.5 0-4.5 1.7z"/><path class="d26" d="M455.7 384.9l4.5-1.4-3.5 0-4.5 1.5zM459.3 384.8l4.5-1.2-3.5 0-4.5 1.4zM462.8 384.6l4.5-1.1-3.5 0-4.5 1.2z"/><path class="d27" d="M466.4 384.4l4.5-1-3.5 .1-4.5 1.1zM469.9 384.1l4.5-.8-3.6 .1-4.5 1z"/><path class="d28" d="M473.5 383.9l4.5-.7-3.6 .1-4.5 .8zM477 383.6l4.5-.6-3.6 .2-4.5 .7z"/><path class="d29" d="M480.6 383.3l4.5-.5-3.6 .2-4.5 .6zM484.1 383l4.5-.4-3.6 .2-4.5 .5z"/><path class="d30" d="M487.7 382.6l4.5-.3-3.6 .3-4.5 .4zM491.3 382.3l4.5-.2-3.6 .3-4.5 .3z"/><path class="d31" d="M494.9 381.9l4.5-.1-3.6 .3-4.5 .2zM498.4 381.5l4.5-.1-3.6 .3-4.5 .1z"/><path class="d32" d="M502 381l4.5 0-3.6 .4-4.5 .1zM505.6 380.6l4.5 0-3.6 .4-4.5 0z"/><path class="d33" d="M509.2 380.1l4.5 .1-3.6 .4-4.5 0zM512.8 379.6l4.5 .1-3.6 .5-4.5-.1z"/><path class="d34" d="M516.4 379l4.5 .2-3.6 .5-4.5-.1zM520 378.5l4.5 .2-3.6 .5-4.5-.2z"/><path class="d35" d="M523.6 377.9l4.5 .2-3.6 .6-4.5-.2zM527.2 377.3l4.5 .2-3.6 .6-4.5-.2z"/><path class="d36" d="M530.8 376.7l4.5 .2-3.6 .6-4.5-.2z"/><path class="d37" d="M534.4 376l4.5 .2-3.6 .7-4.5-.2zM538 375.3l4.5 .2-3.6 .7-4.5-.2z"/><path class="d38" d="M541.6 374.6l4.5 .2-3.6 .7-4.5-.2zM545.3 373.9l4.5 .1-3.6 .8-4.5-.2z"/><path class="d39" d="M548.9 373.1l4.5 .1-3.6 .8-4.5-.1z"/><path class="d40" d="M552.5 372.4l4.5 0-3.6 .8-4.5-.1zM556.2 371.6l4.5 0-3.6 .9-4.5 0z"/><path class="d41" d="M559.8 370.7l4.5-.1-3.6 .9-4.5 0zM563.5 369.9l4.5-.2-3.7 .9-4.5 .1z"/><path class="d42" d="M567.1 369l4.5-.3-3.7 1-4.5 .2z"/><path class="d43" d="M570.8 368.1l4.5-.3-3.7 1-4.5 .3zM574.5 367.1l4.5-.4-3.7 1-4.5 .3z"/><path class="d44" d="M578.1 366.2l4.5-.6-3.7 1.1-4.5 .4z"/><path class="d45" d="M581.8 365.2l4.5-.7-3.7 1.1-4.5 .6zM585.5 364.2l4.5-.8-3.7 1.1-4.5 .7z"/><path class="d24" d="M440.7 387.6l4.4-2.3-3.5 .1-4.4 2.6zM444.2 387.3l4.4-2.1-3.5 .1-4.4 2.3z"/><path class="d25" d="M447.7 386.9l4.5-1.8-3.5 .1-4.4 2.1zM451.3 386.5l4.5-1.6-3.5 .1-4.5 1.8z"/><path class="d26" d="M454.8 386.1l4.5-1.4-3.5 .2-4.5 1.6zM458.3 385.7l4.5-1.2-3.5 .2-4.5 1.4z"/><path class="d27" d="M461.9 385.3l4.5-1-3.5 .2-4.5 1.2zM465.4 384.9l4.5-.8-3.5 .2-4.5 1z"/><path class="d28" d="M469 384.5l4.5-.6-3.6 .3-4.5 .8zM472.5 384l4.5-.4-3.6 .3-4.5 .6z"/><path class="d29" d="M476.1 383.6l4.5-.3-3.6 .3-4.5 .4z"/><path class="d30" d="M479.6 383.1l4.5-.1-3.6 .3-4.5 .3zM483.2 382.7l4.5 0-3.6 .3-4.5 .1z"/><path class="d31" d="M486.8 382.2l4.5 .1-3.6 .4-4.5 0zM490.4 381.7l4.5 .2-3.6 .4-4.5-.1z"/><path class="d32" d="M493.9 381.2l4.5 .3-3.6 .4-4.5-.2zM497.5 380.7l4.5 .4-3.6 .4-4.5-.3z"/><path class="d33" d="M501.1 380.2l4.5 .4-3.6 .5-4.5-.4zM504.7 379.6l4.5 .5-3.6 .5-4.5-.4z"/><path class="d34" d="M508.3 379.1l4.5 .5-3.6 .5-4.5-.5zM511.9 378.5l4.5 .5-3.6 .5-4.5-.5z"/><path class="d35" d="M515.5 378l4.5 .5-3.6 .6-4.5-.5zM519.1 377.4l4.5 .5-3.6 .6-4.5-.5z"/><path class="d36" d="M522.7 376.8l4.5 .5-3.6 .6-4.5-.5z"/><path class="d37" d="M526.3 376.2l4.5 .4-3.6 .6-4.5-.5zM529.9 375.6l4.5 .4-3.6 .7-4.5-.4z"/><path class="d38" d="M533.5 375l4.5 .3-3.6 .7-4.5-.4zM537.1 374.4l4.5 .3-3.6 .7-4.5-.3z"/><path class="d39" d="M540.8 373.7l4.5 .2-3.6 .7-4.5-.3zM544.4 373.1l4.5 0-3.6 .8-4.5-.2z"/><path class="d40" d="M548 372.4l4.5-.1-3.6 .8-4.5 0z"/><path class="d41" d="M551.7 371.8l4.5-.2-3.6 .8-4.5 .1zM555.3 371.1l4.5-.4-3.6 .8-4.5 .2z"/><path class="d42" d="M559 370.4l4.5-.5-3.7 .9-4.5 .4zM562.6 369.7l4.5-.7-3.7 .9-4.5 .5z"/><path class="d43" d="M566.3 369l4.5-.9-3.7 .9-4.5 .7z"/><path class="d44" d="M569.9 368.3l4.5-1.1-3.7 .9-4.5 .9zM573.6 367.5l4.5-1.4-3.7 1-4.5 1.1z"/><path class="d45" d="M577.3 366.8l4.5-1.6-3.7 1-4.5 1.4zM580.9 366l4.5-1.9-3.7 1-4.5 1.6z"/><path class="d23" d="M436.3 390.8l4.4-3.1-3.5 .3-4.4 3.4z"/><path class="d24" d="M439.8 390.1l4.4-2.9-3.5 .4-4.4 3.1z"/><path class="d25" d="M443.3 389.5l4.4-2.6-3.5 .4-4.4 2.9zM446.8 388.8l4.4-2.3-3.5 .4-4.4 2.6z"/><path class="d26" d="M450.4 388.2l4.5-2.1-3.5 .4-4.4 2.3zM453.9 387.6l4.5-1.8-3.5 .4-4.5 2.1z"/><path class="d27" d="M457.4 387l4.5-1.6-3.5 .4-4.5 1.8zM461 386.3l4.5-1.4-3.5 .4-4.5 1.6z"/><path class="d28" d="M464.5 385.7l4.5-1.2-3.5 .4-4.5 1.4z"/><path class="d29" d="M468 385.1l4.5-1.1-3.6 .4-4.5 1.2zM471.6 384.5l4.5-.9-3.6 .4-4.5 1.1z"/><path class="d30" d="M475.2 383.9l4.5-.8-3.6 .5-4.5 .9zM478.7 383.3l4.5-.6-3.6 .5-4.5 .8z"/><path class="d31" d="M482.3 382.7l4.5-.5-3.6 .5-4.5 .6zM485.9 382.1l4.5-.4-3.6 .5-4.5 .5z"/><path class="d32" d="M489.4 381.6l4.5-.4-3.6 .5-4.5 .4z"/><path class="d33" d="M493 381l4.5-.3-3.6 .5-4.5 .4zM496.6 380.4l4.5-.3-3.6 .5-4.5 .3z"/><path class="d34" d="M500.2 379.9l4.5-.2-3.6 .5-4.5 .3zM503.8 379.3l4.5-.2-3.6 .5-4.5 .2z"/><path class="d35" d="M507.4 378.8l4.5-.2-3.6 .6-4.5 .2zM511 378.2l4.5-.3-3.6 .6-4.5 .2z"/><path class="d36" d="M514.6 377.7l4.5-.3-3.6 .6-4.5 .3zM518.2 377.2l4.5-.3-3.6 .6-4.5 .3z"/><path class="d37" d="M521.8 376.6l4.5-.4-3.6 .6-4.5 .3z"/><path class="d38" d="M525.4 376.1l4.5-.5-3.6 .6-4.5 .4zM529 375.6l4.5-.6-3.6 .6-4.5 .5z"/><path class="d39" d="M532.6 375.1l4.5-.7-3.6 .6-4.5 .6zM536.3 374.6l4.5-.9-3.6 .6-4.5 .7z"/><path class="d40" d="M539.9 374.1l4.5-1-3.6 .6-4.5 .9zM543.5 373.7l4.5-1.2-3.6 .7-4.5 1z"/><path class="d41" d="M547.2 373.2l4.5-1.4-3.6 .7-4.5 1.2zM550.8 372.7l4.5-1.6-3.6 .7-4.5 1.4z"/><path class="d42" d="M554.4 372.3l4.5-1.9-3.6 .7-4.5 1.6zM558.1 371.8l4.5-2.1-3.7 .7-4.5 1.9z"/><path class="d43" d="M561.7 371.4l4.5-2.4-3.7 .7-4.5 2.1zM565.4 370.9l4.6-2.7-3.7 .7-4.5 2.4z"/><path class="d44" d="M569 370.5l4.6-3-3.7 .7-4.6 2.7zM572.7 370.1l4.6-3.3-3.7 .7-4.6 3z"/><path class="d45" d="M576.3 369.7l4.6-3.6-3.7 .8-4.6 3.3z"/><path class="d22" d="M431.9 395l4.4-4.2-3.5 .6-4.4 4.5z"/><path class="d23" d="M435.4 394.1l4.4-4-3.5 .6-4.4 4.2z"/><path class="d24" d="M438.9 393.2l4.4-3.7-3.5 .6-4.4 4zM442.4 392.3l4.4-3.5-3.5 .6-4.4 3.7z"/><path class="d25" d="M445.9 391.5l4.4-3.3-3.5 .6-4.4 3.5z"/><path class="d26" d="M449.5 390.7l4.4-3.1-3.5 .6-4.4 3.3zM453 389.9l4.4-2.9-3.5 .6-4.4 3.1z"/><path class="d27" d="M456.5 389.1l4.4-2.7-3.5 .6-4.4 2.9z"/><path class="d28" d="M460 388.3l4.5-2.6-3.5 .6-4.4 2.7zM463.6 387.6l4.5-2.4-3.5 .6-4.5 2.6z"/><path class="d29" d="M467.1 386.8l4.5-2.3-3.6 .6-4.5 2.4z"/><path class="d30" d="M470.7 386.1l4.5-2.2-3.6 .6-4.5 2.3zM474.2 385.4l4.5-2.1-3.6 .6-4.5 2.2z"/><path class="d31" d="M477.8 384.8l4.5-2-3.6 .6-4.5 2.1zM481.4 384.1l4.5-2-3.6 .6-4.5 2z"/><path class="d32" d="M484.9 383.5l4.5-1.9-3.6 .6-4.5 2z"/><path class="d33" d="M488.5 382.9l4.5-1.9-3.6 .6-4.5 1.9zM492.1 382.3l4.5-1.9-3.6 .6-4.5 1.9z"/><path class="d34" d="M495.7 381.8l4.5-1.9-3.6 .6-4.5 1.9zM499.3 381.2l4.5-1.9-3.6 .6-4.5 1.9z"/><path class="d35" d="M502.9 380.7l4.5-2-3.6 .5-4.5 1.9zM506.5 380.2l4.5-2-3.6 .5-4.5 2z"/><path class="d36" d="M510.1 379.8l4.5-2.1-3.6 .5-4.5 2zM513.7 379.3l4.5-2.2-3.6 .5-4.5 2.1z"/><path class="d37" d="M517.3 378.9l4.5-2.3-3.6 .5-4.5 2.2zM520.9 378.5l4.5-2.4-3.6 .5-4.5 2.3z"/><path class="d38" d="M524.5 378.2l4.5-2.5-3.6 .5-4.5 2.4zM528.1 377.8l4.5-2.7-3.6 .5-4.5 2.5z"/><path class="d39" d="M531.7 377.5l4.5-2.9-3.6 .5-4.5 2.7zM535.4 377.2l4.5-3.1-3.6 .5-4.5 2.9z"/><path class="d40" d="M539 376.9l4.5-3.3-3.6 .5-4.5 3.1zM542.6 376.7l4.5-3.5-3.6 .5-4.5 3.3z"/><path class="d41" d="M546.2 376.5l4.5-3.7-3.6 .5-4.5 3.5zM549.9 376.3l4.6-4-3.6 .5-4.5 3.7z"/><path class="d42" d="M553.5 376.1l4.6-4.3-3.6 .4-4.6 4zM557.2 376l4.6-4.6-3.6 .4-4.6 4.3z"/><path class="d43" d="M560.8 375.8l4.6-4.9-3.7 .4-4.6 4.6zM564.4 375.8l4.6-5.2-3.7 .4-4.6 4.9zM568.1 375.7l4.6-5.6-3.7 .4-4.6 5.2z"/><path class="d44" d="M571.7 375.7l4.6-6-3.7 .4-4.6 5.6z"/><path class="d21" d="M427.6 400.1l4.3-5.1-3.5 .9-4.3 5.3z"/><path class="d22" d="M431.1 399l4.4-5-3.5 .9-4.3 5.1z"/><path class="d23" d="M434.5 398l4.4-4.8-3.5 .9-4.4 5zM438 397l4.4-4.6-3.5 .9-4.4 4.8z"/><path class="d24" d="M441.5 396l4.4-4.5-3.5 .8-4.4 4.6z"/><path class="d25" d="M445.1 395l4.4-4.4-3.5 .8-4.4 4.5z"/><path class="d26" d="M448.6 394.1l4.4-4.2-3.5 .8-4.4 4.4zM452.1 393.2l4.4-4.1-3.5 .8-4.4 4.2z"/><path class="d27" d="M455.6 392.3l4.4-4-3.5 .8-4.4 4.1z"/><path class="d28" d="M459.2 391.5l4.4-3.9-3.5 .7-4.4 4zM462.7 390.7l4.4-3.9-3.5 .7-4.4 3.9z"/><path class="d29" d="M466.2 389.9l4.4-3.8-3.6 .7-4.4 3.9z"/><path class="d30" d="M469.8 389.2l4.4-3.8-3.6 .7-4.4 3.8zM473.3 388.5l4.5-3.7-3.6 .7-4.4 3.8z"/><path class="d31" d="M476.9 387.8l4.5-3.7-3.6 .6-4.5 3.7zM480.5 387.2l4.5-3.7-3.6 .6-4.5 3.7z"/><path class="d32" d="M484 386.6l4.5-3.7-3.6 .6-4.5 3.7z"/><path class="d33" d="M487.6 386.1l4.5-3.7-3.6 .6-4.5 3.7zM491.2 385.5l4.5-3.8-3.6 .6-4.5 3.7z"/><path class="d34" d="M494.8 385.1l4.5-3.8-3.6 .5-4.5 3.8zM498.4 384.6l4.5-3.9-3.6 .5-4.5 3.8z"/><path class="d35" d="M502 384.2l4.5-4-3.6 .5-4.5 3.9zM505.6 383.8l4.5-4-3.6 .5-4.5 4z"/><path class="d36" d="M509.2 383.5l4.5-4.2-3.6 .4-4.5 4zM512.8 383.2l4.5-4.3-3.6 .4-4.5 4.2z"/><path class="d37" d="M516.4 382.9l4.5-4.4-3.6 .4-4.5 4.3zM520 382.7l4.5-4.5-3.6 .4-4.5 4.4z"/><path class="d38" d="M523.6 382.5l4.5-4.7-3.6 .3-4.5 4.5zM527.2 382.4l4.5-4.9-3.6 .3-4.5 4.7zM530.8 382.3l4.5-5.1-3.6 .3-4.5 4.9z"/><path class="d39" d="M534.4 382.2l4.5-5.3-3.6 .3-4.5 5.1zM538.1 382.2l4.6-5.5-3.6 .2-4.5 5.3z"/><path class="d40" d="M541.7 382.2l4.6-5.7-3.6 .2-4.6 5.5zM545.3 382.2l4.6-6-3.6 .2-4.6 5.7zM548.9 382.3l4.6-6.3-3.6 .2-4.6 6z"/><path class="d41" d="M552.6 382.5l4.6-6.5-3.6 .1-4.6 6.3zM556.2 382.7l4.6-6.8-3.6 .1-4.6 6.5zM559.8 382.9l4.6-7.1-3.6 .1-4.6 6.8z"/><path class="d42" d="M563.5 383.2l4.6-7.5-3.6 .1-4.6 7.1zM567.1 383.5l4.6-7.8-3.6 0-4.6 7.5z"/><path class="d19" d="M423.3 405.9l4.3-5.7-3.5 1.1-4.3 5.8z"/><path class="d20" d="M426.7 404.7l4.3-5.7-3.5 1.1-4.3 5.7z"/><path class="d21" d="M430.2 403.6l4.3-5.6-3.5 1.1-4.3 5.7z"/><path class="d22" d="M433.7 402.5l4.3-5.5-3.5 1-4.3 5.6z"/><path class="d23" d="M437.2 401.4l4.4-5.5-3.5 1-4.3 5.5zM440.7 400.4l4.4-5.4-3.5 1-4.4 5.5z"/><path class="d24" d="M444.2 399.5l4.4-5.4-3.5 .9-4.4 5.4z"/><path class="d25" d="M447.7 398.5l4.4-5.3-3.5 .9-4.4 5.4z"/><path class="d26" d="M451.2 397.6l4.4-5.3-3.5 .9-4.4 5.3zM454.8 396.8l4.4-5.3-3.5 .8-4.4 5.3z"/><path class="d27" d="M458.3 396l4.4-5.3-3.5 .8-4.4 5.3z"/><path class="d28" d="M461.8 395.2l4.4-5.3-3.5 .8-4.4 5.3zM465.4 394.5l4.4-5.3-3.6 .7-4.4 5.3z"/><path class="d29" d="M468.9 393.8l4.4-5.3-3.6 .7-4.4 5.3z"/><path class="d30" d="M472.5 393.2l4.4-5.3-3.6 .7-4.4 5.3zM476 392.6l4.4-5.4-3.6 .6-4.4 5.3z"/><path class="d31" d="M479.6 392l4.4-5.4-3.6 .6-4.4 5.4zM483.2 391.5l4.5-5.4-3.6 .6-4.4 5.4z"/><path class="d32" d="M486.7 391l4.5-5.5-3.6 .5-4.5 5.4zM490.3 390.6l4.5-5.6-3.6 .5-4.5 5.5z"/><path class="d33" d="M493.9 390.2l4.5-5.6-3.6 .4-4.5 5.6z"/><path class="d34" d="M497.5 389.9l4.5-5.7-3.6 .4-4.5 5.6zM501.1 389.6l4.5-5.8-3.6 .4-4.5 5.7zM504.7 389.4l4.5-5.9-3.6 .3-4.5 5.8z"/><path class="d35" d="M508.3 389.2l4.5-6-3.6 .3-4.5 5.9zM511.9 389l4.5-6.1-3.6 .3-4.5 6z"/><path class="d36" d="M515.5 388.9l4.5-6.2-3.6 .2-4.5 6.1zM519.1 388.9l4.5-6.4-3.6 .2-4.5 6.2z"/><path class="d37" d="M522.7 388.9l4.5-6.5-3.6 .1-4.5 6.4zM526.3 388.9l4.5-6.7-3.6 .1-4.5 6.5zM529.9 389l4.5-6.8-3.6 .1-4.5 6.7z"/><path class="d38" d="M533.5 389.2l4.6-7-3.6 0-4.5 6.8zM537.1 389.3l4.6-7.2-3.6 0-4.6 7zM540.7 389.6l4.6-7.3-3.6-.1-4.6 7.2zM544.3 389.9l4.6-7.5-3.6-.1-4.6 7.3z"/><path class="d39" d="M548 390.2l4.6-7.7-3.6-.1-4.6 7.5zM551.6 390.6l4.6-8-3.6-.2-4.6 7.7zM555.2 391.1l4.6-8.2-3.6-.2-4.6 8zM558.8 391.6l4.6-8.4-3.6-.3-4.6 8.2z"/><path class="d40" d="M562.4 392.1l4.6-8.7-3.6-.3-4.6 8.4z"/><path class="d18" d="M419 411.9l4.3-6-3.5 1.2-4.3 6zM422.4 410.8l4.3-6.1-3.5 1.2-4.3 6z"/><path class="d19" d="M425.9 409.7l4.3-6.1-3.5 1.1-4.3 6.1z"/><path class="d20" d="M429.4 408.7l4.3-6.2-3.5 1.1-4.3 6.1z"/><path class="d21" d="M432.9 407.7l4.3-6.2-3.5 1-4.3 6.2z"/><path class="d22" d="M436.4 406.7l4.3-6.3-3.5 1-4.3 6.2zM439.9 405.8l4.3-6.3-3.5 1-4.3 6.3z"/><path class="d23" d="M443.4 404.9l4.3-6.4-3.5 .9-4.3 6.3z"/><path class="d24" d="M446.9 404.1l4.3-6.4-3.5 .9-4.3 6.4z"/><path class="d25" d="M450.4 403.3l4.4-6.5-3.5 .8-4.3 6.4zM453.9 402.5l4.4-6.6-3.5 .8-4.4 6.5z"/><path class="d26" d="M457.5 401.8l4.4-6.6-3.5 .8-4.4 6.6z"/><path class="d27" d="M461 401.2l4.4-6.7-3.5 .7-4.4 6.6zM464.5 400.5l4.4-6.7-3.5 .7-4.4 6.7z"/><path class="d28" d="M468.1 400l4.4-6.8-3.6 .6-4.4 6.7zM471.6 399.4l4.4-6.9-3.6 .6-4.4 6.8z"/><path class="d29" d="M475.2 398.9l4.4-6.9-3.6 .6-4.4 6.9z"/><path class="d30" d="M478.7 398.5l4.4-7-3.6 .5-4.4 6.9zM482.3 398.1l4.4-7-3.6 .5-4.4 7z"/><path class="d31" d="M485.9 397.7l4.4-7.1-3.6 .4-4.4 7zM489.5 397.4l4.4-7.2-3.6 .4-4.4 7.1z"/><path class="d32" d="M493 397.1l4.5-7.2-3.6 .3-4.4 7.2zM496.6 396.9l4.5-7.3-3.6 .3-4.5 7.2z"/><path class="d33" d="M500.2 396.7l4.5-7.4-3.6 .2-4.5 7.3zM503.8 396.6l4.5-7.4-3.6 .2-4.5 7.4zM507.4 396.5l4.5-7.5-3.6 .1-4.5 7.4z"/><path class="d34" d="M511 396.5l4.5-7.6-3.6 .1-4.5 7.5zM514.6 396.5l4.5-7.6-3.6 .1-4.5 7.6z"/><path class="d35" d="M518.2 396.6l4.5-7.7-3.6 0-4.5 7.6zM521.8 396.7l4.5-7.8-3.6 0-4.5 7.7zM525.4 396.9l4.5-7.9-3.6-.1-4.5 7.8z"/><path class="d36" d="M529 397.1l4.5-7.9-3.6-.1-4.5 7.9zM532.6 397.3l4.6-8-3.6-.2-4.5 7.9zM536.2 397.7l4.6-8.1-3.6-.2-4.6 8zM539.8 398l4.6-8.1-3.6-.3-4.6 8.1z"/><path class="d37" d="M543.4 398.5l4.6-8.2-3.6-.3-4.6 8.1zM547 398.9l4.6-8.3-3.6-.4-4.6 8.2zM550.6 399.4l4.6-8.4-3.6-.4-4.6 8.3zM554.2 400l4.6-8.5-3.6-.5-4.6 8.4zM557.8 400.7l4.6-8.5-3.6-.6-4.6 8.5z"/><path class="d16" d="M414.7 418l4.3-6.2-3.5 1.1-4.3 6z"/><path class="d17" d="M418.2 417.1l4.3-6.3-3.5 1.1-4.3 6.2zM421.6 416.2l4.3-6.5-3.5 1.1-4.3 6.3z"/><path class="d18" d="M425.1 415.3l4.3-6.6-3.5 1-4.3 6.5z"/><path class="d19" d="M428.6 414.4l4.3-6.8-3.5 1-4.3 6.6z"/><path class="d20" d="M432.1 413.6l4.3-6.9-3.5 1-4.3 6.8zM435.6 412.8l4.3-7-3.5 .9-4.3 6.9z"/><path class="d21" d="M439.1 412.1l4.3-7.2-3.5 .9-4.3 7z"/><path class="d22" d="M442.6 411.4l4.3-7.3-3.5 .8-4.3 7.2z"/><path class="d23" d="M446.1 410.7l4.3-7.4-3.5 .8-4.3 7.3zM449.6 410.1l4.3-7.5-3.5 .8-4.3 7.4z"/><path class="d24" d="M453.1 409.5l4.3-7.6-3.5 .7-4.3 7.5zM456.6 408.9l4.3-7.7-3.5 .7-4.3 7.6z"/><path class="d25" d="M460.2 408.4l4.4-7.8-3.5 .6-4.3 7.7z"/><path class="d26" d="M463.7 407.9l4.4-7.9-3.5 .6-4.4 7.8zM467.3 407.4l4.4-8-3.6 .5-4.4 7.9z"/><path class="d27" d="M470.8 407l4.4-8.1-3.6 .5-4.4 8zM474.4 406.6l4.4-8.1-3.6 .4-4.4 8.1z"/><path class="d28" d="M477.9 406.3l4.4-8.2-3.6 .4-4.4 8.1zM481.5 406l4.4-8.2-3.6 .4-4.4 8.2z"/><path class="d29" d="M485 405.7l4.4-8.3-3.6 .3-4.4 8.2zM488.6 405.5l4.4-8.3-3.6 .3-4.4 8.3z"/><path class="d30" d="M492.2 405.3l4.4-8.4-3.6 .2-4.4 8.3zM495.7 405.1l4.5-8.4-3.6 .2-4.4 8.4z"/><path class="d31" d="M499.3 405l4.5-8.4-3.6 .1-4.5 8.4zM502.9 405l4.5-8.4-3.6 .1-4.5 8.4zM506.5 405l4.5-8.5-3.6 0-4.5 8.4z"/><path class="d32" d="M510.1 405l4.5-8.5-3.6 0-4.5 8.5zM513.7 405l4.5-8.5-3.6-.1-4.5 8.5z"/><path class="d33" d="M517.2 405.1l4.5-8.4-3.6-.1-4.5 8.5zM520.8 405.3l4.5-8.4-3.6-.2-4.5 8.4zM524.4 405.5l4.5-8.4-3.6-.2-4.5 8.4zM528 405.7l4.5-8.4-3.6-.3-4.5 8.4z"/><path class="d34" d="M531.6 406l4.5-8.3-3.6-.3-4.5 8.4zM535.2 406.3l4.6-8.3-3.6-.4-4.5 8.3zM538.8 406.7l4.6-8.2-3.6-.4-4.6 8.3zM542.4 407.1l4.6-8.2-3.6-.5-4.6 8.2z"/><path class="d35" d="M546 407.6l4.6-8.1-3.6-.5-4.6 8.2zM549.6 408.1l4.6-8.1-3.6-.6-4.6 8.1zM553.2 408.6l4.6-8-3.6-.6-4.6 8.1z"/><path class="d14" d="M410.5 424.4l4.2-6.3-3.5 1-4.2 6.1z"/><path class="d15" d="M413.9 423.6l4.2-6.5-3.5 1-4.2 6.3zM417.4 422.9l4.3-6.7-3.5 .9-4.2 6.5z"/><path class="d16" d="M420.9 422.2l4.3-6.9-3.5 .9-4.3 6.7z"/><path class="d17" d="M424.3 421.6l4.3-7.1-3.5 .9-4.3 6.9z"/><path class="d18" d="M427.8 420.9l4.3-7.3-3.5 .8-4.3 7.1zM431.3 420.3l4.3-7.5-3.5 .8-4.3 7.3z"/><path class="d19" d="M434.8 419.7l4.3-7.6-3.5 .7-4.3 7.5z"/><path class="d20" d="M438.3 419.2l4.3-7.8-3.5 .7-4.3 7.6zM441.8 418.6l4.3-7.9-3.5 .7-4.3 7.8z"/><path class="d21" d="M445.3 418.1l4.3-8-3.5 .6-4.3 7.9zM448.8 417.6l4.3-8.2-3.5 .6-4.3 8z"/><path class="d22" d="M452.3 417.2l4.3-8.3-3.5 .6-4.3 8.2z"/><path class="d23" d="M455.9 416.7l4.3-8.4-3.5 .5-4.3 8.3zM459.4 416.3l4.3-8.5-3.5 .5-4.3 8.4z"/><path class="d24" d="M462.9 416l4.3-8.6-3.5 .5-4.3 8.5zM466.4 415.6l4.4-8.6-3.5 .4-4.3 8.6z"/><path class="d25" d="M470 415.3l4.4-8.7-3.6 .4-4.4 8.6zM473.5 415l4.4-8.7-3.6 .3-4.4 8.7z"/><path class="d26" d="M477.1 414.7l4.4-8.8-3.6 .3-4.4 8.7zM480.6 414.5l4.4-8.8-3.6 .3-4.4 8.8z"/><path class="d27" d="M484.2 414.3l4.4-8.8-3.6 .2-4.4 8.8zM487.7 414.1l4.4-8.9-3.6 .2-4.4 8.8z"/><path class="d28" d="M491.3 414l4.4-8.9-3.6 .1-4.4 8.9zM494.9 413.9l4.4-8.8-3.6 .1-4.4 8.9z"/><path class="d29" d="M498.4 413.8l4.5-8.8-3.6 .1-4.4 8.8zM502 413.8l4.5-8.8-3.6 0-4.5 8.8zM505.6 413.7l4.5-8.8-3.6 0-4.5 8.8z"/><path class="d30" d="M509.2 413.7l4.5-8.7-3.6-.1-4.5 8.8zM512.8 413.8l4.5-8.6-3.6-.1-4.5 8.7zM516.3 413.9l4.5-8.6-3.6-.1-4.5 8.6z"/><path class="d31" d="M519.9 414l4.5-8.5-3.6-.2-4.5 8.6zM523.5 414.1l4.5-8.4-3.6-.2-4.5 8.5zM527.1 414.3l4.5-8.3-3.6-.3-4.5 8.4z"/><path class="d32" d="M530.7 414.5l4.5-8.2-3.6-.3-4.5 8.3zM534.3 414.7l4.5-8-3.6-.4-4.5 8.2zM537.9 415l4.5-7.9-3.6-.4-4.5 8zM541.5 415.3l4.6-7.7-3.6-.5-4.5 7.9z"/><path class="d33" d="M545.1 415.6l4.6-7.6-3.6-.5-4.6 7.7zM548.7 416l4.6-7.4-3.6-.6-4.6 7.6z"/><path class="d12" d="M406.2 430.8l4.2-6.5-3.5 .8-4.2 6.2z"/><path class="d13" d="M409.7 430.3l4.2-6.7-3.5 .7-4.2 6.5zM413.2 429.8l4.2-6.9-3.5 .7-4.2 6.7z"/><path class="d14" d="M416.6 429.3l4.2-7.1-3.5 .7-4.2 6.9z"/><path class="d15" d="M420.1 428.8l4.2-7.3-3.5 .7-4.2 7.1zM423.6 428.3l4.2-7.4-3.5 .6-4.2 7.3z"/><path class="d16" d="M427 427.9l4.3-7.6-3.5 .6-4.2 7.4z"/><path class="d17" d="M430.5 427.4l4.3-7.7-3.5 .6-4.3 7.6zM434 427l4.3-7.9-3.5 .6-4.3 7.7z"/><path class="d18" d="M437.5 426.6l4.3-8-3.5 .5-4.3 7.9zM441 426.2l4.3-8.1-3.5 .5-4.3 8z"/><path class="d19" d="M444.5 425.9l4.3-8.2-3.5 .5-4.3 8.1z"/><path class="d20" d="M448 425.5l4.3-8.3-3.5 .5-4.3 8.2zM451.5 425.2l4.3-8.4-3.5 .4-4.3 8.3z"/><path class="d21" d="M455.1 424.8l4.3-8.5-3.5 .4-4.3 8.4zM458.6 424.5l4.3-8.6-3.5 .4-4.3 8.5z"/><path class="d22" d="M462.1 424.3l4.3-8.6-3.5 .3-4.3 8.6zM465.6 424l4.3-8.7-3.5 .3-4.3 8.6z"/><path class="d23" d="M469.2 423.7l4.4-8.7-3.5 .3-4.3 8.7zM472.7 423.5l4.4-8.7-3.5 .3-4.4 8.7z"/><path class="d24" d="M476.3 423.3l4.4-8.8-3.6 .2-4.4 8.7zM479.8 423.1l4.4-8.8-3.6 .2-4.4 8.8z"/><path class="d25" d="M483.3 422.9l4.4-8.7-3.6 .2-4.4 8.8zM486.9 422.7l4.4-8.7-3.6 .1-4.4 8.7z"/><path class="d26" d="M490.5 422.6l4.4-8.7-3.6 .1-4.4 8.7zM494 422.5l4.4-8.6-3.6 .1-4.4 8.7zM497.6 422.3l4.4-8.6-3.6 .1-4.4 8.6z"/><path class="d27" d="M501.1 422.3l4.5-8.5-3.6 0-4.4 8.6zM504.7 422.2l4.5-8.4-3.6 0-4.5 8.5z"/><path class="d28" d="M508.3 422.1l4.5-8.4-3.6 0-4.5 8.4zM511.9 422.1l4.5-8.3-3.6-.1-4.5 8.4zM515.4 422.1l4.5-8.1-3.6-.1-4.5 8.3z"/><path class="d29" d="M519 422.1l4.5-8-3.6-.1-4.5 8.1zM522.6 422.1l4.5-7.9-3.6-.2-4.5 8zM526.2 422.2l4.5-7.7-3.6-.2-4.5 7.9z"/><path class="d30" d="M529.8 422.3l4.5-7.5-3.6-.2-4.5 7.7zM533.4 422.4l4.5-7.4-3.6-.3-4.5 7.5zM536.9 422.5l4.5-7.2-3.6-.3-4.5 7.4z"/><path class="d31" d="M540.5 422.6l4.5-7-3.6-.3-4.5 7.2zM544.1 422.8l4.5-6.8-3.6-.4-4.5 7z"/><path class="d10" d="M402 437.5l4.2-6.7-3.4 .5-4.2 6.5z"/><path class="d11" d="M405.5 437.1l4.2-6.8-3.5 .5-4.2 6.7zM408.9 436.8l4.2-7-3.5 .5-4.2 6.8z"/><path class="d12" d="M412.4 436.5l4.2-7.2-3.5 .5-4.2 7z"/><path class="d13" d="M415.9 436.1l4.2-7.3-3.5 .5-4.2 7.2zM419.3 435.8l4.2-7.5-3.5 .5-4.2 7.3z"/><path class="d14" d="M422.8 435.5l4.2-7.6-3.5 .5-4.2 7.5zM426.3 435.2l4.2-7.7-3.5 .4-4.2 7.6z"/><path class="d15" d="M429.8 434.9l4.2-7.8-3.5 .4-4.2 7.7zM433.3 434.6l4.3-7.9-3.5 .4-4.2 7.8z"/><path class="d16" d="M436.8 434.3l4.3-8-3.5 .4-4.3 7.9z"/><path class="d17" d="M440.2 434l4.3-8.1-3.5 .4-4.3 8zM443.7 433.7l4.3-8.2-3.5 .4-4.3 8.1z"/><path class="d18" d="M447.3 433.4l4.3-8.3-3.5 .3-4.3 8.2zM450.8 433.2l4.3-8.3-3.5 .3-4.3 8.3z"/><path class="d19" d="M454.3 432.9l4.3-8.4-3.5 .3-4.3 8.3zM457.8 432.7l4.3-8.4-3.5 .3-4.3 8.4z"/><path class="d20" d="M461.3 432.4l4.3-8.4-3.5 .3-4.3 8.4zM464.8 432.2l4.3-8.4-3.5 .3-4.3 8.4z"/><path class="d21" d="M468.4 431.9l4.4-8.5-3.5 .2-4.3 8.4zM471.9 431.7l4.4-8.5-3.5 .2-4.4 8.5z"/><path class="d22" d="M475.4 431.5l4.4-8.4-3.5 .2-4.4 8.5zM479 431.3l4.4-8.4-3.5 .2-4.4 8.4z"/><path class="d23" d="M482.5 431.1l4.4-8.4-3.6 .2-4.4 8.4zM486.1 430.9l4.4-8.3-3.6 .1-4.4 8.4z"/><path class="d24" d="M489.6 430.7l4.4-8.3-3.6 .1-4.4 8.3zM493.2 430.6l4.4-8.2-3.6 .1-4.4 8.3zM496.7 430.4l4.4-8.1-3.6 .1-4.4 8.2z"/><path class="d25" d="M500.3 430.2l4.4-8.1-3.6 .1-4.4 8.1zM503.8 430.1l4.5-8-3.6 0-4.4 8.1z"/><path class="d26" d="M507.4 430l4.5-7.8-3.6 0-4.5 8zM511 429.8l4.5-7.7-3.6 0-4.5 7.8z"/><path class="d27" d="M514.5 429.7l4.5-7.6-3.6 0-4.5 7.7zM518.1 429.6l4.5-7.5-3.6 0-4.5 7.6zM521.7 429.5l4.5-7.3-3.6-.1-4.5 7.5z"/><path class="d28" d="M525.3 429.4l4.5-7.1-3.6-.1-4.5 7.3zM528.9 429.3l4.5-7-3.6-.1-4.5 7.1zM532.4 429.2l4.5-6.8-3.6-.1-4.5 7z"/><path class="d29" d="M536 429.2l4.5-6.6-3.6-.1-4.5 6.8zM539.6 429.1l4.5-6.4-3.6-.2-4.5 6.6z"/><path class="d8" d="M397.9 444.4l4.2-6.9-3.4 .4-4.2 6.8z"/><path class="d9" d="M401.3 444.2l4.2-7.1-3.5 .3-4.2 6.9zM404.8 444l4.2-7.2-3.5 .3-4.2 7.1z"/><path class="d10" d="M408.2 443.8l4.2-7.4-3.5 .3-4.2 7.2zM411.7 443.6l4.2-7.5-3.5 .3-4.2 7.4z"/><path class="d11" d="M415.1 443.4l4.2-7.6-3.5 .3-4.2 7.5zM418.6 443.2l4.2-7.7-3.5 .3-4.2 7.6z"/><path class="d12" d="M422.1 443l4.2-7.8-3.5 .3-4.2 7.7z"/><path class="d13" d="M425.5 442.8l4.2-7.9-3.5 .3-4.2 7.8zM429 442.6l4.2-8-3.5 .3-4.2 7.9z"/><path class="d14" d="M432.5 442.3l4.2-8.1-3.5 .3-4.2 8zM436 442.1l4.3-8.1-3.5 .3-4.2 8.1z"/><path class="d15" d="M439.5 441.9l4.3-8.2-3.5 .3-4.3 8.1zM443 441.7l4.3-8.3-3.5 .3-4.3 8.2z"/><path class="d16" d="M446.5 441.5l4.3-8.3-3.5 .3-4.3 8.3zM450 441.3l4.3-8.3-3.5 .3-4.3 8.3z"/><path class="d17" d="M453.5 441l4.3-8.4-3.5 .3-4.3 8.3zM457 440.8l4.3-8.4-3.5 .2-4.3 8.4z"/><path class="d18" d="M460.5 440.6l4.3-8.4-3.5 .2-4.3 8.4zM464 440.4l4.3-8.4-3.5 .2-4.3 8.4z"/><path class="d19" d="M467.6 440.1l4.3-8.4-3.5 .2-4.3 8.4zM471.1 439.9l4.4-8.4-3.5 .2-4.3 8.4z"/><path class="d20" d="M474.6 439.7l4.4-8.4-3.5 .2-4.4 8.4zM478.1 439.4l4.4-8.3-3.5 .2-4.4 8.4z"/><path class="d21" d="M481.7 439.2l4.4-8.3-3.5 .2-4.4 8.3zM485.2 439l4.4-8.2-3.5 .2-4.4 8.3z"/><path class="d22" d="M488.8 438.7l4.4-8.2-3.6 .2-4.4 8.2zM492.3 438.5l4.4-8.1-3.6 .2-4.4 8.2z"/><path class="d23" d="M495.8 438.3l4.4-8-3.6 .2-4.4 8.1zM499.4 438l4.4-7.9-3.6 .1-4.4 8zM503 437.8l4.4-7.8-3.6 .1-4.4 7.9z"/><path class="d24" d="M506.5 437.5l4.5-7.7-3.6 .1-4.4 7.8zM510.1 437.3l4.5-7.6-3.6 .1-4.5 7.7z"/><path class="d25" d="M513.6 437.1l4.5-7.5-3.6 .1-4.5 7.6zM517.2 436.8l4.5-7.3-3.6 .1-4.5 7.5z"/><path class="d26" d="M520.8 436.6l4.5-7.2-3.6 .1-4.5 7.3zM524.4 436.3l4.5-7-3.6 .1-4.5 7.2z"/><path class="d27" d="M527.9 436.1l4.5-6.8-3.6 .1-4.5 7zM531.5 435.8l4.5-6.7-3.6 .1-4.5 6.8zM535.1 435.6l4.5-6.5-3.6 .1-4.5 6.7z"/><path class="d6" d="M393.7 451.7l4.2-7.3-3.4 .2-4.1 7.1z"/><path class="d7" d="M397.1 451.6l4.2-7.4-3.4 .2-4.2 7.3zM400.6 451.5l4.2-7.5-3.5 .2-4.2 7.4z"/><path class="d8" d="M404 451.4l4.2-7.6-3.5 .2-4.2 7.5zM407.5 451.4l4.2-7.7-3.5 .2-4.2 7.6z"/><path class="d9" d="M411 451.3l4.2-7.9-3.5 .2-4.2 7.7zM414.4 451.1l4.2-8-3.5 .2-4.2 7.9z"/><path class="d10" d="M417.9 451l4.2-8-3.5 .2-4.2 8zM421.3 450.9l4.2-8.1-3.5 .2-4.2 8z"/><path class="d11" d="M424.8 450.8l4.2-8.2-3.5 .2-4.2 8.1zM428.3 450.6l4.2-8.3-3.5 .2-4.2 8.2z"/><path class="d12" d="M431.8 450.5l4.2-8.4-3.5 .2-4.2 8.3zM435.3 450.3l4.2-8.4-3.5 .2-4.2 8.4z"/><path class="d13" d="M438.7 450.2l4.2-8.5-3.5 .2-4.2 8.4zM442.2 450l4.3-8.5-3.5 .2-4.2 8.5z"/><path class="d14" d="M445.7 449.8l4.3-8.5-3.5 .2-4.3 8.5zM449.2 449.6l4.3-8.6-3.5 .2-4.3 8.5z"/><path class="d15" d="M452.7 449.4l4.3-8.6-3.5 .2-4.3 8.6zM456.2 449.2l4.3-8.6-3.5 .2-4.3 8.6z"/><path class="d16" d="M459.7 449l4.3-8.6-3.5 .2-4.3 8.6zM463.2 448.7l4.3-8.6-3.5 .2-4.3 8.6z"/><path class="d17" d="M466.7 448.5l4.3-8.6-3.5 .2-4.3 8.6zM470.3 448.3l4.3-8.6-3.5 .2-4.3 8.6z"/><path class="d18" d="M473.8 448l4.4-8.6-3.5 .2-4.3 8.6zM477.3 447.7l4.4-8.5-3.5 .2-4.4 8.6z"/><path class="d19" d="M480.8 447.5l4.4-8.5-3.5 .2-4.4 8.5zM484.4 447.2l4.4-8.5-3.5 .2-4.4 8.5z"/><path class="d20" d="M487.9 446.9l4.4-8.4-3.5 .2-4.4 8.5zM491.4 446.6l4.4-8.3-3.5 .2-4.4 8.4z"/><path class="d21" d="M495 446.3l4.4-8.3-3.6 .2-4.4 8.3zM498.5 446l4.4-8.2-3.6 .2-4.4 8.3z"/><path class="d22" d="M502.1 445.6l4.4-8.1-3.6 .2-4.4 8.2zM505.6 445.3l4.4-8-3.6 .2-4.4 8.1z"/><path class="d23" d="M509.2 445l4.5-7.9-3.6 .2-4.4 8zM512.8 444.6l4.5-7.8-3.6 .2-4.5 7.9z"/><path class="d24" d="M516.3 444.2l4.5-7.7-3.6 .2-4.5 7.8zM519.9 443.9l4.5-7.6-3.6 .2-4.5 7.7z"/><path class="d25" d="M523.5 443.5l4.5-7.4-3.6 .2-4.5 7.6zM527 443.1l4.5-7.3-3.6 .2-4.5 7.4z"/><path class="d26" d="M530.6 442.7l4.5-7.1-3.6 .2-4.5 7.3z"/><path class="d4" d="M389.6 459.3l4.1-7.7-3.4 .1-4.1 7.5zM393 459.4l4.1-7.8-3.4 .1-4.1 7.7z"/><path class="d5" d="M396.5 459.4l4.1-7.9-3.4 .1-4.1 7.8zM399.9 459.5l4.1-8-3.5 .1-4.1 7.9z"/><path class="d6" d="M403.4 459.5l4.1-8.1-3.5 .1-4.1 8zM406.8 459.5l4.1-8.2-3.5 .1-4.1 8.1z"/><path class="d7" d="M410.3 459.5l4.2-8.3-3.5 .1-4.1 8.2zM413.7 459.4l4.2-8.4-3.5 .1-4.2 8.3z"/><path class="d8" d="M417.2 459.4l4.2-8.5-3.5 .1-4.2 8.4zM420.6 459.4l4.2-8.6-3.5 .1-4.2 8.5z"/><path class="d9" d="M424.1 459.3l4.2-8.7-3.5 .1-4.2 8.6zM427.6 459.2l4.2-8.7-3.5 .2-4.2 8.7z"/><path class="d10" d="M431 459.1l4.2-8.8-3.5 .2-4.2 8.7zM434.5 459l4.2-8.9-3.5 .2-4.2 8.8z"/><path class="d11" d="M438 458.9l4.2-8.9-3.5 .2-4.2 8.9zM441.5 458.8l4.2-9-3.5 .2-4.2 8.9z"/><path class="d12" d="M445 458.6l4.2-9-3.5 .2-4.2 9zM448.5 458.4l4.3-9-3.5 .2-4.2 9z"/><path class="d13" d="M451.9 458.3l4.3-9.1-3.5 .2-4.3 9zM455.4 458.1l4.3-9.1-3.5 .2-4.3 9.1z"/><path class="d14" d="M458.9 457.9l4.3-9.1-3.5 .2-4.3 9.1zM462.4 457.6l4.3-9.1-3.5 .2-4.3 9.1z"/><path class="d15" d="M466 457.4l4.3-9.1-3.5 .2-4.3 9.1zM469.5 457.1l4.3-9.1-3.5 .3-4.3 9.1z"/><path class="d16" d="M473 456.9l4.3-9.1-3.5 .3-4.3 9.1zM476.5 456.6l4.3-9.1-3.5 .3-4.3 9.1z"/><path class="d17" d="M480 456.3l4.4-9.1-3.5 .3-4.3 9.1zM483.5 456l4.4-9.1-3.5 .3-4.4 9.1z"/><path class="d18" d="M487.1 455.7l4.4-9.1-3.5 .3-4.4 9.1zM490.6 455.3l4.4-9-3.5 .3-4.4 9.1z"/><path class="d19" d="M494.1 455l4.4-9-3.5 .3-4.4 9zM497.7 454.6l4.4-8.9-3.6 .3-4.4 9z"/><path class="d20" d="M501.2 454.2l4.4-8.9-3.6 .3-4.4 8.9zM504.8 453.8l4.4-8.8-3.6 .3-4.4 8.9z"/><path class="d21" d="M508.3 453.4l4.4-8.8-3.6 .4-4.4 8.8zM511.9 452.9l4.5-8.7-3.6 .4-4.4 8.8z"/><path class="d22" d="M515.4 452.5l4.5-8.6-3.6 .4-4.5 8.7z"/><path class="d23" d="M519 452l4.5-8.5-3.6 .4-4.5 8.6zM522.6 451.5l4.5-8.4-3.6 .4-4.5 8.5z"/><path class="d24" d="M526.1 451l4.5-8.3-3.6 .4-4.5 8.4z"/><path class="d1" d="M385.5 467.5l4.1-8.1-3.4-.1-4.1 8z"/><path class="d2" d="M388.9 467.6l4.1-8.3-3.4-.1-4.1 8.1zM392.4 467.8l4.1-8.4-3.4 0-4.1 8.3z"/><path class="d3" d="M395.8 467.9l4.1-8.5-3.4 0-4.1 8.4zM399.3 468.1l4.1-8.6-3.4 0-4.1 8.5z"/><path class="d4" d="M402.7 468.2l4.1-8.7-3.4 0-4.1 8.6zM406.1 468.3l4.1-8.8-3.5 0-4.1 8.7z"/><path class="d5" d="M409.6 468.4l4.1-8.9-3.5 0-4.1 8.8zM413 468.4l4.1-9-3.5 0-4.1 8.9z"/><path class="d6" d="M416.5 468.5l4.1-9.1-3.5 .1-4.1 9zM420 468.5l4.2-9.2-3.5 .1-4.1 9.1z"/><path class="d7" d="M423.4 468.5l4.2-9.3-3.5 .1-4.2 9.2zM426.9 468.5l4.2-9.4-3.5 .1-4.2 9.3zM430.3 468.5l4.2-9.5-3.5 .1-4.2 9.4z"/><path class="d8" d="M433.8 468.4l4.2-9.5-3.5 .1-4.2 9.5zM437.3 468.4l4.2-9.6-3.5 .1-4.2 9.5z"/><path class="d9" d="M440.8 468.3l4.2-9.7-3.5 .2-4.2 9.6zM444.2 468.2l4.2-9.7-3.5 .2-4.2 9.7z"/><path class="d10" d="M447.7 468.1l4.2-9.8-3.5 .2-4.2 9.7zM451.2 467.9l4.2-9.9-3.5 .2-4.2 9.8z"/><path class="d11" d="M454.7 467.8l4.3-9.9-3.5 .2-4.2 9.9zM458.2 467.6l4.3-10-3.5 .2-4.3 9.9z"/><path class="d12" d="M461.7 467.4l4.3-10-3.5 .2-4.3 10zM465.2 467.2l4.3-10-3.5 .3-4.3 10z"/><path class="d13" d="M468.7 466.9l4.3-10.1-3.5 .3-4.3 10zM472.2 466.7l4.3-10.1-3.5 .3-4.3 10.1z"/><path class="d14" d="M475.7 466.4l4.3-10.1-3.5 .3-4.3 10.1z"/><path class="d15" d="M479.2 466.1l4.3-10.2-3.5 .3-4.3 10.1zM482.7 465.8l4.3-10.2-3.5 .3-4.3 10.2z"/><path class="d16" d="M486.2 465.5l4.4-10.2-3.5 .3-4.3 10.2zM489.8 465.1l4.4-10.2-3.5 .4-4.4 10.2z"/><path class="d17" d="M493.3 464.8l4.4-10.2-3.5 .4-4.4 10.2zM496.8 464.4l4.4-10.2-3.5 .4-4.4 10.2z"/><path class="d18" d="M500.4 464l4.4-10.2-3.5 .4-4.4 10.2zM503.9 463.6l4.4-10.2-3.6 .4-4.4 10.2z"/><path class="d19" d="M507.4 463.1l4.4-10.2-3.6 .4-4.4 10.2zM511 462.6l4.4-10.2-3.6 .5-4.4 10.2z"/><path class="d20" d="M514.5 462.2l4.5-10.1-3.6 .5-4.4 10.2zM518.1 461.6l4.5-10.1-3.6 .5-4.5 10.1z"/><path class="d21" d="M521.6 461.1l4.5-10.1-3.6 .5-4.5 10.1z"/><path class="d46" d="M381.5 476.1l4-8.7-3.4-.2-4 8.5zM384.9 476.4l4-8.8-3.4-.2-4 8.7z"/><path class="d0" d="M388.3 476.7l4-8.9-3.4-.2-4 8.8zM391.8 477l4.1-9.1-3.4-.1-4 8.9z"/><path class="d1" d="M395.2 477.3l4.1-9.2-3.4-.1-4.1 9.1zM398.6 477.5l4.1-9.3-3.4-.1-4.1 9.2zM402.1 477.7l4.1-9.5-3.4-.1-4.1 9.3z"/><path class="d2" d="M405.5 477.9l4.1-9.6-3.4-.1-4.1 9.5zM408.9 478.1l4.1-9.7-3.5-.1-4.1 9.6z"/><path class="d3" d="M412.4 478.3l4.1-9.8-3.5 0-4.1 9.7zM415.8 478.4l4.1-9.9-3.5 0-4.1 9.8z"/><path class="d4" d="M419.3 478.6l4.1-10-3.5 0-4.1 9.9zM422.7 478.7l4.1-10.2-3.5 0-4.1 10z"/><path class="d5" d="M426.2 478.7l4.1-10.3-3.5 0-4.1 10.2zM429.7 478.8l4.1-10.4-3.5 0-4.1 10.3zM433.1 478.8l4.2-10.5-3.5 .1-4.1 10.4z"/><path class="d6" d="M436.6 478.9l4.2-10.6-3.5 .1-4.2 10.5zM440.1 478.9l4.2-10.7-3.5 .1-4.2 10.6z"/><path class="d7" d="M443.5 478.8l4.2-10.8-3.5 .1-4.2 10.7zM447 478.8l4.2-10.9-3.5 .1-4.2 10.8z"/><path class="d8" d="M450.5 478.7l4.2-11-3.5 .2-4.2 10.9zM454 478.7l4.2-11.1-3.5 .2-4.2 11z"/><path class="d9" d="M457.4 478.6l4.2-11.2-3.5 .2-4.2 11.1zM460.9 478.4l4.2-11.3-3.5 .2-4.2 11.2z"/><path class="d10" d="M464.4 478.3l4.3-11.3-3.5 .2-4.2 11.3zM467.9 478.1l4.3-11.4-3.5 .3-4.3 11.3z"/><path class="d11" d="M471.4 477.9l4.3-11.5-3.5 .3-4.3 11.4zM474.9 477.7l4.3-11.6-3.5 .3-4.3 11.5z"/><path class="d12" d="M478.4 477.5l4.3-11.7-3.5 .3-4.3 11.6zM481.9 477.2l4.3-11.8-3.5 .3-4.3 11.7z"/><path class="d13" d="M485.4 477l4.3-11.8-3.5 .3-4.3 11.8zM488.9 476.7l4.4-11.9-3.5 .4-4.3 11.8z"/><path class="d14" d="M492.5 476.4l4.4-12-3.5 .4-4.4 11.9z"/><path class="d15" d="M496 476l4.4-12-3.5 .4-4.4 12zM499.5 475.7l4.4-12.1-3.5 .4-4.4 12z"/><path class="d16" d="M503 475.3l4.4-12.2-3.5 .4-4.4 12.1zM506.6 474.9l4.4-12.2-3.5 .5-4.4 12.2z"/><path class="d17" d="M510.1 474.4l4.4-12.3-3.6 .5-4.4 12.2zM513.6 474l4.5-12.3-3.6 .5-4.4 12.3z"/><path class="d18" d="M517.2 473.5l4.5-12.4-3.6 .5-4.5 12.3z"/></g><circle cx="378.1" cy="477" r="0.9" fill="#20a0a0"/><circle cx="376.5" cy="443.8" r="0.9" fill="#20a0a0"/><circle cx="375" cy="410.6" r="0.9" fill="#20a0a0"/><circle cx="373.4" cy="377.3" r="0.9" fill="#20a0a0"/><circle cx="371.8" cy="344.1" r="0.9" fill="#20a0a0"/><text transform="translate(362.7 353) scale(0.75 1)" font-size="13.3" text-anchor="middle" font-family="Liberation Serif" font-weight="bold">94</text><text transform="translate(360 382.1) scale(0.75 1)" font-size="13.3" text-anchor="middle" font-family="Liberation Serif" font-weight="bold">88.5</text><text transform="translate(364.5 415.7) scale(0.75 1)" font-size="13.3" text-anchor="middle" font-family="Liberation Serif" font-weight="bold">83</text><text transform="translate(363.6 449.2) scale(0.75 1)" font-size="13.3" text-anchor="middle" font-family="Liberation Serif" font-weight="bold">77.5</text><text transform="translate(368 481.9) scale(0.75 1)" font-size="13.3" text-anchor="middle" font-family="Liberation Serif" font-weight="bold">72</text><circle cx="482.6" cy="564.2" r="1.1" fill="#111"/><circle cx="550.9" cy="564.2" r="1.1" fill="#111"/><circle cx="448.4" cy="549.1" r="1.1" fill="#111"/><circle cx="585.1" cy="549.1" r="1.1" fill="#111"/><circle cx="414.3" cy="534.1" r="1.1" fill="#111"/><circle cx="619.2" cy="534" r="1.1" fill="#111"/><text transform="translate(372 525.7) scale(0.75 1)" font-size="13.3" text-anchor="middle" font-family="Liberation Serif" font-weight="bold">40</text><text transform="translate(402.5 545.4) scale(0.75 1)" font-size="13.3" text-anchor="middle" font-family="Liberation Serif" font-weight="bold">32.5</text><text transform="translate(441.4 559.4) scale(0.75 1)" font-size="13.3" text-anchor="middle" font-family="Liberation Serif" font-weight="bold">25</text><text transform="translate(473 576.4) scale(0.75 1)" font-size="13.3" text-anchor="middle" font-family="Liberation Serif" font-weight="bold">17.5</text><text transform="translate(509 591.7) scale(0.75 1)" font-size="13.3" text-anchor="middle" font-family="Liberation Serif" font-weight="bold">10</text><text transform="translate(528.9 591.6) scale(0.75 1)" font-size="13.3" text-anchor="middle" font-family="Liberation Serif" font-weight="bold">3</text><text transform="translate(560.4 576.7) scale(0.75 1)" font-size="13.3" text-anchor="middle" font-family="Liberation Serif" font-weight="bold">5.25</text><text transform="translate(589.8 566.7) scale(0.75 1)" font-size="13.3" text-anchor="middle" font-family="Liberation Serif" font-weight="bold">7.5</text><text transform="translate(625.3 549.1) scale(0.75 1)" font-size="13.3" text-anchor="middle" font-family="Liberation Serif" font-weight="bold">9.75</text><text transform="translate(660.8 532) scale(0.75 1)" font-size="13.3" text-anchor="middle" font-family="Liberation Serif" font-weight="bold">12</text><text transform="translate(402.8 581.4) scale(0.75 1)" font-size="13.3" text-anchor="middle" font-family="Liberation Serif" font-weight="bold" textLength="97.3" lengthAdjust="spacingAndGlyphs">Con.aniline (mg/l)</text><text transform="translate(614.8 580.6) scale(0.75 1)" font-size="13.3" text-anchor="middle" font-family="Liberation Serif" font-weight="bold">pH</text><text transform="translate(336.6 422.8) rotate(-90)" x="0" y="5.1" font-size="15" text-anchor="middle" font-family="Liberation Serif" font-weight="bold" textLength="79.5" lengthAdjust="spacingAndGlyphs">Removal%</text><text transform="translate(398.6 369.9) scale(0.7 1)" font-size="15" text-anchor="middle" font-family="Liberation Sans" font-weight="bold">d</text><path d="M58.1 826.1L47.8 654.1" stroke="#8c8c8c" stroke-width="0.9" fill="none"/><path d="M347.1 825.5L356.7 653.6" stroke="#8c8c8c" stroke-width="0.9" fill="none"/><path d="M202.6 780.6L202.2 623.6" stroke="#8c8c8c" stroke-width="0.9" fill="none"/><path d="M47.8 654.1L202.2 623.6" stroke="#8c8c8c" stroke-width="0.9" fill="none"/><path d="M202.2 623.6L356.7 653.6" stroke="#8c8c8c" stroke-width="0.9" fill="none"/><path d="M201.8 885.9L347.1 825.5L202.6 780.6L58.1 826.1Z" fill="#ffff00" stroke="#444" stroke-width="0.7"/><clipPath id="fce"><path d="M201.8 885.9L347.1 825.5L202.6 780.6L58.1 826.1Z"/></clipPath><g clip-path="url(#fce)"></g><path d="M201.8 885.9L58.1 826.1" stroke="#111" stroke-width="0.9" fill="none"/><path d="M201.8 885.9L347.1 825.5" stroke="#111" stroke-width="0.9" fill="none"/><style>.e0{fill:#0034f7}.e1{fill:#003ef9}.e2{fill:#0077ff}.e3{fill:#0065ff}.e4{fill:#005bfd}.e5{fill:#00d4ff}.e6{fill:#00c2ff}.e7{fill:#00afff}.e8{fill:#00eadc}.e9{fill:#00e8e7}.e10{fill:#00e5f1}.e11{fill:#00efb7}.e12{fill:#00f0c7}.e13{fill:#00ec85}.e14{fill:#00ed95}.e15{fill:#00ea63}.e16{fill:#00eb74}.e17{fill:#00e953}.e18{fill:#00e842}.e19{fill:#00e731}.e20{fill:#02e623}.e21{fill:#06e619}.e22{fill:#0ae60f}.e23{fill:#0de604}.e24{fill:#15e600}.e25{fill:#20e700}.e26{fill:#2ae800}.e27{fill:#34e800}.e28{fill:#00e2fc}.e29{fill:#009dff}.e30{fill:#008aff}.e31{fill:#0048fa}.e32{fill:#0024f2}.e33{fill:#001eed}</style><g stroke="#1a1a1a" stroke-width="0.5" stroke-linejoin="round"><path class="e0" d="M201.4 715.3l5 14.7-3.9-.4-5-15.1zM205.3 716.1l4.9 14.3-3.9-.4-5-14.7zM209.2 716.9l4.9 14-3.9-.5-4.9-14.3zM213.1 717.8l4.9 13.6-3.9-.5-4.9-14z"/><path class="e1" d="M217 718.7l4.9 13.3-3.9-.5-4.9-13.6zM221 719.5l4.9 13-3.9-.6-4.9-13.3zM224.9 720.4l4.8 12.7-3.9-.6-4.9-13zM228.8 721.4l4.8 12.4-3.9-.6-4.8-12.7zM232.7 722.3l4.8 12.1-3.9-.7-4.8-12.4zM236.6 723.2l4.8 11.9-3.9-.7-4.8-12.1zM240.6 724.2l4.8 11.7-3.9-.7-4.8-11.9zM244.5 725.2l4.7 11.5-3.9-.8-4.8-11.7zM248.4 726.2l4.7 11.3-3.9-.8-4.7-11.5zM252.3 727.2l4.7 11.1-3.9-.8-4.7-11.3zM256.2 728.2l4.7 11-3.9-.9-4.7-11.1zM260.1 729.2l4.7 10.8-3.9-.9-4.7-11zM264.1 730.3l4.7 10.7-3.9-.9-4.7-10.8zM268 731.4l4.7 10.7-3.9-1-4.7-10.7zM271.9 732.4l4.6 10.6-3.9-1-4.7-10.7zM275.8 733.5l4.6 10.5-3.9-1.1-4.6-10.6zM279.7 734.7l4.6 10.5-3.9-1.1-4.6-10.5zM283.6 735.8l4.6 10.5-3.9-1.1-4.6-10.5zM287.6 736.9l4.6 10.5-3.9-1.2-4.6-10.5zM291.5 738.1l4.5 10.6-3.9-1.2-4.6-10.5zM295.4 739.3l4.5 10.6-3.9-1.2-4.5-10.6zM299.3 740.5l4.5 10.7-3.9-1.3-4.5-10.6zM303.2 741.7l4.5 10.8-3.9-1.3-4.5-10.7zM307.1 742.9l4.5 11-3.9-1.4-4.5-10.8zM311 744.2l4.4 11.1-3.9-1.4-4.5-11zM314.9 745.4l4.4 11.3-3.9-1.4-4.4-11.1zM318.8 746.7l4.4 11.5-3.9-1.5-4.4-11.3z"/><path class="e0" d="M322.7 748l4.3 11.7-3.9-1.5-4.4-11.5zM326.6 749.3l4.3 11.9-3.9-1.6-4.3-11.7zM330.5 750.6l4.3 12.2-3.9-1.6-4.3-11.9zM334.4 752l4.2 12.5-3.9-1.6-4.3-12.2zM338.3 753.4l4.2 12.8-3.9-1.7-4.2-12.5zM342.2 754.7l4.2 13.1-3.9-1.7-4.2-12.8zM346.1 756.2l4.1 13.5-3.8-1.8-4.2-13.1z"/><path class="e2" d="M196.4 702.3l5 13-3.9-.8-5.1-13.2zM200.3 703.3l5 12.8-3.9-.8-5-13zM204.2 704.3l5 12.6-3.9-.8-5-12.8zM208.2 705.4l5 12.4-3.9-.9-5-12.6zM212.1 706.4l4.9 12.2-3.9-.9-5-12.4zM216 707.5l4.9 12.1-3.9-.9-4.9-12.2zM220 708.5l4.9 11.9-3.9-.9-4.9-12.1zM223.9 709.6l4.9 11.8-3.9-.9-4.9-11.9zM227.9 710.7l4.9 11.6-3.9-.9-4.9-11.8zM231.8 711.8l4.8 11.5-3.9-.9-4.9-11.6zM235.7 712.8l4.8 11.4-3.9-1-4.8-11.5zM239.7 713.9l4.8 11.3-3.9-1-4.8-11.4zM243.6 715l4.8 11.2-3.9-1-4.8-11.3zM247.5 716.1l4.8 11.1-3.9-1-4.8-11.2zM251.5 717.2l4.8 11-3.9-1-4.8-11.1zM255.4 718.3l4.7 10.9-3.9-1-4.8-11zM259.3 719.4l4.7 10.9-3.9-1.1-4.7-10.9zM263.3 720.5l4.7 10.8-3.9-1.1-4.7-10.9zM267.2 721.6l4.7 10.8-3.9-1.1-4.7-10.8zM271.1 722.7l4.7 10.8-3.9-1.1-4.7-10.8zM275.1 723.9l4.6 10.8-3.9-1.1-4.7-10.8zM279 725l4.6 10.8-3.9-1.1-4.6-10.8zM282.9 726.1l4.6 10.8-3.9-1.1-4.6-10.8z"/><path class="e3" d="M286.9 727.3l4.6 10.8-3.9-1.2-4.6-10.8zM290.8 728.4l4.6 10.9-3.9-1.2-4.6-10.8zM294.7 729.6l4.5 10.9-3.9-1.2-4.6-10.9zM298.7 730.7l4.5 11-3.9-1.2-4.5-10.9zM302.6 731.9l4.5 11-3.9-1.2-4.5-11zM306.5 733.1l4.5 11.1-3.9-1.2-4.5-11zM310.5 734.2l4.5 11.2-3.9-1.3-4.5-11.1zM314.4 735.4l4.4 11.3-3.9-1.3-4.5-11.2zM318.3 736.6l4.4 11.4-3.9-1.3-4.4-11.3zM322.2 737.8l4.4 11.5-3.9-1.3-4.4-11.4zM326.2 739l4.4 11.7-3.9-1.3-4.4-11.5zM330.1 740.2l4.3 11.8-3.9-1.3-4.4-11.7zM334 741.4l4.3 12-3.9-1.4-4.3-11.8zM337.9 742.6l4.3 12.2-3.9-1.4-4.3-12z"/><path class="e4" d="M341.8 743.8l4.2 12.4-3.9-1.4-4.3-12.2z"/><path class="e5" d="M191.3 691.1l5.1 11.2-3.9-1-5.1-11.3zM195.2 692.2l5.1 11.1-3.9-1-5.1-11.2z"/><path class="e6" d="M199.2 693.3l5 11-3.9-1-5.1-11.1zM203.2 694.4l5 11-3.9-1-5-11zM207.1 695.5l5 10.9-3.9-1.1-5-11zM211.1 696.6l5 10.8-3.9-1.1-5-10.9zM215 697.8l5 10.8-3.9-1.1-5-10.8zM219 698.9l4.9 10.7-3.9-1.1-5-10.8zM222.9 700l4.9 10.7-3.9-1.1-4.9-10.7zM226.9 701.1l4.9 10.6-3.9-1.1-4.9-10.7zM230.8 702.2l4.9 10.6-3.9-1.1-4.9-10.6zM234.8 703.3l4.9 10.6-3.9-1.1-4.9-10.6zM238.8 704.5l4.8 10.5-3.9-1.1-4.9-10.6zM242.7 705.6l4.8 10.5-3.9-1.1-4.8-10.5zM246.7 706.7l4.8 10.5-3.9-1.1-4.8-10.5zM250.6 707.8l4.8 10.5-3.9-1.1-4.8-10.5zM254.6 708.9l4.8 10.5-3.9-1.1-4.8-10.5zM258.5 710.1l4.8 10.4-3.9-1.1-4.8-10.5zM262.5 711.2l4.7 10.4-3.9-1.1-4.8-10.4zM266.4 712.3l4.7 10.4-3.9-1.1-4.7-10.4zM270.4 713.4l4.7 10.4-3.9-1.1-4.7-10.4zM274.3 714.5l4.7 10.5-3.9-1.1-4.7-10.4zM278.3 715.7l4.7 10.5-3.9-1.1-4.7-10.5zM282.2 716.8l4.6 10.5-3.9-1.1-4.7-10.5zM286.2 717.9l4.6 10.5-3.9-1.1-4.6-10.5zM290.1 719.1l4.6 10.5-3.9-1.2-4.6-10.5zM294.1 720.2l4.6 10.6-3.9-1.2-4.6-10.5zM298 721.3l4.6 10.6-3.9-1.2-4.6-10.6z"/><path class="e7" d="M302 722.4l4.6 10.6-3.9-1.2-4.6-10.6zM305.9 723.6l4.5 10.7-3.9-1.2-4.6-10.6zM309.9 724.7l4.5 10.7-3.9-1.2-4.5-10.7zM313.8 725.8l4.5 10.8-3.9-1.2-4.5-10.7zM317.8 727l4.5 10.8-3.9-1.2-4.5-10.8zM321.7 728.1l4.5 10.9-3.9-1.2-4.5-10.8zM325.6 729.2l4.4 11-3.9-1.2-4.5-10.9zM329.6 730.3l4.4 11-3.9-1.2-4.4-11zM333.5 731.5l4.4 11.1-3.9-1.2-4.4-11zM337.5 732.6l4.4 11.2-3.9-1.2-4.4-11.1z"/><path class="e8" d="M186.2 681.8l5.1 9.3-4-1.1-5.1-9.3zM190.1 682.9l5.1 9.3-4-1.1-5.1-9.3zM194.1 684l5.1 9.3-4-1.1-5.1-9.3zM198.1 685.1l5.1 9.3-4-1.1-5.1-9.3zM202.1 686.2l5 9.3-4-1.1-5.1-9.3z"/><path class="e9" d="M206 687.4l5 9.3-4-1.1-5-9.3zM210 688.5l5 9.3-4-1.1-5-9.3zM214 689.6l5 9.3-4-1.1-5-9.3zM218 690.7l5 9.3-4-1.1-5-9.3zM221.9 691.8l5 9.3-4-1.1-5-9.3zM225.9 692.9l4.9 9.3-4-1.1-5-9.3zM229.9 694l4.9 9.4-4-1.1-4.9-9.3zM233.8 695.1l4.9 9.4-4-1.1-4.9-9.4zM237.8 696.2l4.9 9.4-4-1.1-4.9-9.4zM241.8 697.3l4.9 9.4-4-1.1-4.9-9.4zM245.8 698.4l4.9 9.4-4-1.1-4.9-9.4zM249.7 699.5l4.8 9.4-4-1.1-4.9-9.4zM253.7 700.6l4.8 9.4-4-1.1-4.8-9.4zM257.7 701.7l4.8 9.5-4-1.1-4.8-9.4zM261.6 702.8l4.8 9.5-4-1.1-4.8-9.5zM265.6 703.9l4.8 9.5-4-1.1-4.8-9.5zM269.6 705l4.8 9.5-4-1.1-4.8-9.5zM273.5 706.1l4.7 9.5-4-1.1-4.8-9.5zM277.5 707.2l4.7 9.6-3.9-1.1-4.7-9.5zM281.5 708.3l4.7 9.6-3.9-1.1-4.7-9.6zM285.4 709.4l4.7 9.6-3.9-1.1-4.7-9.6zM289.4 710.5l4.7 9.6-3.9-1.1-4.7-9.6zM293.4 711.7l4.7 9.7-3.9-1.1-4.7-9.6z"/><path class="e10" d="M297.3 712.8l4.6 9.7-3.9-1.1-4.7-9.7zM301.3 713.9l4.6 9.7-3.9-1.1-4.6-9.7zM305.3 715l4.6 9.7-3.9-1.1-4.6-9.7zM309.2 716.1l4.6 9.8-3.9-1.1-4.6-9.7zM313.2 717.2l4.6 9.8-3.9-1.1-4.6-9.8zM317.2 718.3l4.5 9.8-3.9-1.1-4.6-9.8zM321.1 719.4l4.5 9.9-3.9-1.1-4.5-9.8zM325.1 720.5l4.5 9.9-3.9-1.1-4.5-9.9zM329 721.6l4.5 9.9-3.9-1.1-4.5-9.9zM333 722.7l4.5 10-3.9-1.1-4.5-9.9z"/><path class="e11" d="M181 674.5l5.1 7.3-4-1.1-5.1-7.2zM185 675.6l5.1 7.3-4-1.1-5.1-7.3zM189 676.7l5.1 7.3-4-1.1-5.1-7.3zM193 677.8l5.1 7.4-4-1.1-5.1-7.3zM197 678.9l5.1 7.4-4-1.1-5.1-7.4zM201 679.9l5.1 7.4-4-1.1-5.1-7.4zM205 681l5.1 7.4-4-1.1-5.1-7.4zM208.9 682.1l5 7.5-4-1.1-5.1-7.4zM212.9 683.2l5 7.5-4-1.1-5-7.5zM216.9 684.2l5 7.5-4-1.1-5-7.5zM220.9 685.3l5 7.6-4-1.1-5-7.5zM224.9 686.4l5 7.6-4-1.1-5-7.6zM228.9 687.5l5 7.6-4-1.1-5-7.6zM232.9 688.5l5 7.7-4-1.1-5-7.6zM236.8 689.6l4.9 7.7-4-1.1-5-7.7zM240.8 690.7l4.9 7.7-4-1.1-4.9-7.7z"/><path class="e12" d="M244.8 691.7l4.9 7.8-4-1.1-4.9-7.7zM248.8 692.8l4.9 7.8-4-1.1-4.9-7.8zM252.8 693.9l4.9 7.9-4-1.1-4.9-7.8zM256.8 694.9l4.9 7.9-4-1.1-4.9-7.9zM260.8 696l4.9 7.9-4-1.1-4.9-7.9zM264.7 697.1l4.8 8-4-1.1-4.9-7.9zM268.7 698.1l4.8 8-4-1.1-4.8-8zM272.7 699.2l4.8 8.1-4-1.1-4.8-8zM276.7 700.2l4.8 8.1-4-1.1-4.8-8.1zM280.7 701.3l4.8 8.1-4-1.1-4.8-8.1zM284.6 702.4l4.8 8.2-4-1.1-4.8-8.1zM288.6 703.4l4.7 8.2-4-1.1-4.8-8.2zM292.6 704.5l4.7 8.3-4-1.1-4.7-8.2zM296.6 705.5l4.7 8.3-4-1.1-4.7-8.3zM300.6 706.6l4.7 8.4-4-1.1-4.7-8.3zM304.5 707.7l4.7 8.4-4-1.1-4.7-8.4zM308.5 708.7l4.7 8.4-4-1.1-4.7-8.4zM312.5 709.8l4.6 8.5-4-1.1-4.7-8.4zM316.5 710.8l4.6 8.5-4-1.1-4.6-8.5zM320.5 711.9l4.6 8.6-4-1.1-4.6-8.5zM324.4 712.9l4.6 8.6-4-1.1-4.6-8.6zM328.4 714l4.6 8.7-4-1.1-4.6-8.6z"/><path class="e13" d="M175.9 669.4l5.1 5.2-4-1.1-5.1-5.2zM179.9 670.4l5.1 5.2-4-1.1-5.1-5.2zM183.9 671.5l5.1 5.2-4-1.1-5.1-5.2zM187.9 672.6l5.1 5.2-4-1.1-5.1-5.2zM191.9 673.7l5.1 5.2-4-1.1-5.1-5.2zM195.9 674.7l5.1 5.2-4-1.1-5.1-5.2zM199.9 675.8l5.1 5.2-4-1.1-5.1-5.2zM203.9 676.9l5.1 5.2-4-1.1-5.1-5.2zM207.9 677.9l5.1 5.2-4-1.1-5.1-5.2z"/><path class="e14" d="M211.9 679l5 5.3-4-1.1-5.1-5.2zM215.9 680l5 5.3-4-1.1-5-5.3zM219.9 681.1l5 5.3-4-1.1-5-5.3zM223.9 682.1l5 5.4-4-1.1-5-5.3zM227.9 683.1l5 5.4-4-1.1-5-5.4zM231.9 684.2l5 5.4-4-1.1-5-5.4zM235.8 685.2l5 5.5-4-1.1-5-5.4zM239.8 686.2l5 5.5-4-1.1-5-5.5zM243.8 687.2l5 5.6-4-1.1-5-5.5zM247.8 688.2l5 5.6-4-1.1-5-5.6zM251.8 689.2l4.9 5.7-4-1.1-5-5.6zM255.8 690.2l4.9 5.7-4-1.1-4.9-5.7zM259.8 691.2l4.9 5.8-4-1.1-4.9-5.7zM263.8 692.2l4.9 5.9-4-1.1-4.9-5.8zM267.8 693.2l4.9 6-4-1.1-4.9-5.9zM271.8 694.2l4.9 6-4-1.1-4.9-6zM275.8 695.2l4.9 6.1-4-1.1-4.9-6zM279.8 696.2l4.9 6.2-4-1.1-4.9-6.1zM283.8 697.1l4.8 6.3-4-1.1-4.9-6.2zM287.8 698.1l4.8 6.4-4-1.1-4.8-6.3zM291.8 699.1l4.8 6.5-4-1.1-4.8-6.4zM295.8 700l4.8 6.6-4-1.1-4.8-6.5zM299.8 701l4.8 6.7-4-1.1-4.8-6.6zM303.8 701.9l4.8 6.8-4-1.1-4.8-6.7zM307.8 702.9l4.7 6.9-4-1.1-4.8-6.8zM311.8 703.8l4.7 7-4-1.1-4.7-6.9zM315.8 704.7l4.7 7.1-4-1.1-4.7-7zM319.7 705.7l4.7 7.2-4-1.1-4.7-7.1zM323.7 706.6l4.7 7.4-4-1-4.7-7.2z"/><path class="e15" d="M170.8 666.1l5.1 3.2-4-1.1-5.1-3.3zM174.8 667.3l5.1 3.2-4-1.1-5.1-3.2zM178.8 668.4l5.1 3.1-4-1.1-5.1-3.2zM182.8 669.6l5.1 3-4-1.1-5.1-3.1zM186.8 670.7l5.1 3-4-1.1-5.1-3zM190.8 671.8l5.1 3-4-1.1-5.1-3z"/><path class="e16" d="M194.8 672.9l5.1 2.9-4-1.1-5.1-3zM198.8 674l5.1 2.9-4-1.1-5.1-2.9zM202.8 675l5.1 2.9-4-1.1-5.1-2.9zM206.8 676.1l5.1 2.9-4-1.1-5.1-2.9zM210.8 677.2l5.1 2.9-4-1-5.1-2.9zM214.8 678.2l5.1 2.9-4-1-5.1-2.9zM218.8 679.2l5.1 2.9-4-1-5.1-2.9zM222.8 680.2l5 2.9-4-1-5.1-2.9zM226.8 681.2l5 2.9-4-1-5-2.9zM230.8 682.2l5 3-4-1-5-2.9zM234.8 683.2l5 3-4-1-5-3zM238.8 684.2l5 3.1-4-1-5-3zM242.8 685.1l5 3.1-4-1-5-3.1zM246.8 686l5 3.2-4-1-5-3.1zM250.8 687l5 3.3-4-1-5-3.2zM254.8 687.9l5 3.4-4-1-5-3.3zM258.8 688.8l5 3.5-4-1-5-3.4zM262.8 689.6l5 3.6-4-1-5-3.5zM266.8 690.5l5 3.7-4-1-5-3.6zM270.8 691.4l5 3.8-4-1-5-3.7zM274.8 692.2l4.9 4-4-1-5-3.8zM278.9 693l4.9 4.1-4-1-4.9-4zM282.9 693.9l4.9 4.3-4-1-4.9-4.1zM286.9 694.7l4.9 4.4-4-1-4.9-4.3zM290.9 695.4l4.9 4.6-4-1-4.9-4.4zM294.9 696.2l4.9 4.8-4-1-4.9-4.6zM298.9 697l4.9 5-4-.9-4.9-4.8zM302.9 697.7l4.8 5.2-4-.9-4.9-5z"/><path class="e15" d="M306.9 698.4l4.8 5.4-4-.9-4.8-5.2zM310.9 699.1l4.8 5.6-4-.9-4.8-5.4zM315 699.8l4.8 5.8-4-.9-4.8-5.6zM319 700.5l4.8 6.1-4-.9-4.8-5.8z"/><path class="e17" d="M165.6 663.7l5.1 2.4-4-1.2-5.1-2.5zM169.6 665l5.1 2.3-4-1.2-5.1-2.4zM173.6 666.2l5.1 2.2-4-1.1-5.1-2.3zM177.7 667.5l5.1 2.1-4-1.1-5.1-2.2zM181.7 668.7l5.1 2-4-1.1-5.1-2.1zM185.7 669.9l5.1 1.9-4-1.1-5.1-2zM189.7 671.1l5.1 1.8-4-1.1-5.1-1.9zM193.7 672.2l5.1 1.8-4-1.1-5.1-1.8zM197.7 673.3l5.1 1.7-4-1.1-5.1-1.8zM201.7 674.4l5.1 1.7-4-1.1-5.1-1.7zM205.7 675.5l5.1 1.7-4-1-5.1-1.7zM209.7 676.6l5.1 1.6-4-1-5.1-1.7zM213.7 677.6l5.1 1.6-4-1-5.1-1.6zM217.7 678.6l5.1 1.6-4-1-5.1-1.6zM221.7 679.6l5.1 1.6-4-1-5.1-1.6zM225.7 680.5l5.1 1.7-4-1-5.1-1.6zM229.8 681.5l5.1 1.7-4-1-5.1-1.7zM233.8 682.4l5.1 1.8-4-1-5.1-1.7zM237.8 683.3l5 1.8-4-.9-5.1-1.8zM241.8 684.2l5 1.9-4-.9-5-1.8zM245.8 685l5 2-4-.9-5-1.9zM249.8 685.8l5 2-4-.9-5-2zM253.8 686.6l5 2.1-4-.9-5-2zM257.8 687.4l5 2.3-4-.9-5-2.1zM261.8 688.1l5 2.4-4-.9-5-2.3zM265.8 688.9l5 2.5-4-.9-5-2.4zM269.9 689.5l5 2.7-4-.8-5-2.5zM273.9 690.2l5 2.8-4-.8-5-2.7zM277.9 690.9l5 3-4-.8-5-2.8zM281.9 691.5l5 3.2-4-.8-5-3zM285.9 692.1l5 3.4-4-.8-5-3.2zM290 692.6l4.9 3.6-4-.8-5-3.4zM294 693.2l4.9 3.8-4-.8-4.9-3.6z"/><path class="e18" d="M298 693.7l4.9 4-4-.7-4.9-3.8zM302 694.2l4.9 4.3-4-.7-4.9-4zM306.1 694.6l4.9 4.5-4-.7-4.9-4.3zM310.1 695.1l4.9 4.8-4-.7-4.9-4.5zM314.1 695.5l4.8 5.1-4-.7-4.9-4.8z"/><path class="e19" d="M160.5 660.8l5.2 2.9-4-1.3-5.2-3z"/><path class="e18" d="M164.5 662.2l5.2 2.8-4-1.3-5.2-2.9zM168.5 663.6l5.1 2.6-4-1.3-5.2-2.8zM172.5 664.9l5.1 2.5-4-1.2-5.1-2.6zM176.5 666.2l5.1 2.5-4-1.2-5.1-2.5zM180.6 667.5l5.1 2.4-4-1.2-5.1-2.5zM184.6 668.8l5.1 2.3-4-1.2-5.1-2.4zM188.6 670l5.1 2.2-4-1.1-5.1-2.3zM192.6 671.2l5.1 2.2-4-1.1-5.1-2.2zM196.6 672.3l5.1 2.1-4-1.1-5.1-2.2zM200.6 673.4l5.1 2.1-4-1.1-5.1-2.1zM204.6 674.5l5.1 2-4-1.1-5.1-2.1zM208.6 675.6l5.1 2-4-1-5.1-2zM212.7 676.6l5.1 2-4-1-5.1-2zM216.7 677.6l5.1 2-4-1-5.1-2zM220.7 678.6l5.1 2-4-1-5.1-2zM224.7 679.5l5.1 2-4-.9-5.1-2zM228.7 680.4l5.1 2-4-.9-5.1-2zM232.7 681.3l5.1 2-4-.9-5.1-2zM236.7 682.1l5.1 2.1-4-.9-5.1-2zM240.7 682.9l5 2.1-4-.8-5.1-2.1zM244.7 683.6l5 2.2-4-.8-5-2.1zM248.8 684.4l5 2.2-4-.8-5-2.2zM252.8 685.1l5 2.3-4-.8-5-2.2zM256.8 685.7l5 2.4-4-.7-5-2.3zM260.8 686.4l5 2.5-4-.7-5-2.4zM264.8 686.9l5 2.6-4-.7-5-2.5zM268.9 687.5l5 2.7-4-.7-5-2.6zM272.9 688l5 2.8-4-.6-5-2.7z"/><path class="e19" d="M276.9 688.5l5 3-4-.6-5-2.8zM280.9 688.9l5 3.1-4-.6-5-3zM285 689.4l5 3.3-4-.6-5-3.1zM289 689.7l5 3.4-4-.5-5-3.3zM293.1 690.1l4.9 3.6-4-.5-5-3.4zM297.1 690.4l4.9 3.8-4-.5-4.9-3.6z"/><path class="e20" d="M301.1 690.6l4.9 4-4-.5-4.9-3.8zM305.2 690.9l4.9 4.2-4-.4-4.9-4zM309.2 691.1l4.9 4.4-4-.4-4.9-4.2zM155.3 656.6l5.2 4.3-4-1.4-5.2-4.4zM159.3 658l5.2 4.2-4-1.4-5.2-4.3zM163.3 659.5l5.2 4.1-4-1.4-5.2-4.2zM167.3 660.9l5.2 4-4-1.3-5.2-4.1zM171.4 662.3l5.2 4-4-1.3-5.2-4zM175.4 663.6l5.2 3.9-4-1.3-5.2-4z"/><path class="e19" d="M179.4 664.9l5.1 3.9-4-1.2-5.2-3.9zM183.4 666.2l5.1 3.8-4-1.2-5.1-3.9zM187.5 667.4l5.1 3.7-4-1.2-5.1-3.8zM191.5 668.6l5.1 3.7-4-1.2-5.1-3.7zM195.5 669.8l5.1 3.6-4-1.1-5.1-3.7zM199.5 670.9l5.1 3.6-4-1.1-5.1-3.6zM203.5 672l5.1 3.6-4-1.1-5.1-3.6zM207.6 673.1l5.1 3.5-4-1-5.1-3.6zM211.6 674.1l5.1 3.5-4-1-5.1-3.5zM215.6 675.1l5.1 3.5-4-1-5.1-3.5zM219.6 676l5.1 3.5-4-.9-5.1-3.5zM223.6 677l5.1 3.4-4-.9-5.1-3.5zM227.6 677.8l5.1 3.4-4-.9-5.1-3.4zM231.7 678.7l5.1 3.4-4-.8-5.1-3.4zM235.7 679.5l5 3.4-4-.8-5.1-3.4zM239.7 680.2l5 3.4-4-.8-5-3.4zM243.7 681l5 3.4-4-.7-5-3.4zM247.7 681.7l5 3.4-4-.7-5-3.4zM251.8 682.3l5 3.4-4-.7-5-3.4z"/><path class="e20" d="M255.8 682.9l5 3.4-4-.6-5-3.4zM259.8 683.5l5 3.4-4-.6-5-3.4zM263.9 684l5 3.5-4-.6-5-3.4zM267.9 684.5l5 3.5-4-.5-5-3.5zM271.9 685l5 3.5-4-.5-5-3.5zM276 685.4l5 3.6-4-.4-5-3.5z"/><path class="e21" d="M280 685.8l5 3.6-4-.4-5-3.6zM284 686.1l5 3.6-4-.4-5-3.6zM288.1 686.4l5 3.7-4-.3-5-3.6zM292.1 686.6l5 3.7-4-.3-5-3.7zM296.2 686.8l4.9 3.8-4-.3-5-3.7z"/><path class="e22" d="M300.3 687l4.9 3.9-4-.2-4.9-3.8zM304.3 687.1l4.9 3.9-4.1-.2-4.9-3.9zM150 651.8l5.2 4.8-4-1.5-5.2-4.8zM154.1 653.2l5.2 4.8-4-1.5-5.2-4.8zM158.1 654.7l5.2 4.8-4-1.4-5.2-4.8zM162.1 656.1l5.2 4.8-4-1.4-5.2-4.8zM166.2 657.5l5.2 4.8-4-1.4-5.2-4.8zM170.2 658.8l5.2 4.8-4-1.3-5.2-4.8z"/><path class="e21" d="M174.2 660.2l5.2 4.8-4-1.3-5.2-4.8zM178.3 661.4l5.2 4.7-4-1.3-5.2-4.8zM182.3 662.7l5.2 4.7-4-1.2-5.2-4.7zM186.3 663.9l5.2 4.7-4-1.2-5.2-4.7zM190.4 665.1l5.1 4.7-4-1.2-5.2-4.7zM194.4 666.3l5.1 4.6-4-1.1-5.1-4.7zM198.4 667.4l5.1 4.6-4-1.1-5.1-4.6zM202.4 668.5l5.1 4.6-4-1.1-5.1-4.6zM206.5 669.6l5.1 4.5-4-1-5.1-4.6zM210.5 670.6l5.1 4.5-4-1-5.1-4.5zM214.5 671.6l5.1 4.4-4-1-5.1-4.5zM218.5 672.6l5.1 4.4-4-.9-5.1-4.4zM222.6 673.5l5.1 4.3-4-.9-5.1-4.4zM226.6 674.4l5.1 4.3-4-.8-5.1-4.3zM230.6 675.3l5.1 4.2-4-.8-5.1-4.3zM234.7 676.1l5.1 4.1-4-.8-5.1-4.2zM238.7 676.9l5 4.1-4-.7-5.1-4.1zM242.7 677.7l5 4-4-.7-5-4.1zM246.7 678.4l5 3.9-4-.6-5-4zM250.8 679.1l5 3.9-4-.6-5-3.9zM254.8 679.7l5 3.8-4-.6-5-3.9z"/><path class="e22" d="M258.8 680.3l5 3.7-4-.5-5-3.8zM262.9 680.9l5 3.6-4-.5-5-3.7zM266.9 681.5l5 3.5-4-.5-5-3.6zM271 682l5 3.4-4-.4-5-3.5zM275 682.5l5 3.3-4-.4-5-3.4zM279 682.9l5 3.2-4-.3-5-3.3z"/><path class="e23" d="M283.1 683.3l5 3.1-4-.3-5-3.2zM287.1 683.7l5 3-4-.2-5-3.1zM291.2 684l5 2.9-4.1-.2-5-3zM295.3 684.3l5 2.7-4.1-.2-5-2.9zM299.3 684.5l5 2.6-4.1-.1-5-2.7z"/><path class="e24" d="M144.8 647.8l5.2 4-4-1.5-5.2-3.8zM148.8 649.2l5.2 4.1-4-1.5-5.2-4zM152.9 650.5l5.2 4.2-4-1.4-5.2-4.1zM156.9 651.8l5.2 4.3-4-1.4-5.2-4.2zM161 653.1l5.2 4.4-4-1.4-5.2-4.3zM165 654.4l5.2 4.5-4-1.4-5.2-4.4z"/><path class="e23" d="M169 655.6l5.2 4.5-4-1.3-5.2-4.5zM173.1 656.9l5.2 4.6-4-1.3-5.2-4.5zM177.1 658.1l5.2 4.6-4-1.3-5.2-4.6zM181.2 659.3l5.2 4.6-4-1.2-5.2-4.6zM185.2 660.5l5.2 4.7-4-1.2-5.2-4.6zM189.2 661.6l5.2 4.7-4-1.2-5.2-4.7zM193.3 662.8l5.1 4.7-4-1.1-5.2-4.7zM197.3 663.9l5.1 4.6-4-1.1-5.1-4.7zM201.3 665l5.1 4.6-4-1.1-5.1-4.6zM205.4 666.1l5.1 4.6-4-1-5.1-4.6zM209.4 667.1l5.1 4.5-4-1-5.1-4.6zM213.4 668.1l5.1 4.4-4-1-5.1-4.5zM217.5 669.2l5.1 4.4-4-.9-5.1-4.4zM221.5 670.2l5.1 4.3-4-.9-5.1-4.4zM225.5 671.1l5.1 4.1-4-.9-5.1-4.3zM229.6 672.1l5.1 4-4-.8-5.1-4.1zM233.6 673l5.1 3.9-4-.8-5.1-4zM237.6 673.9l5.1 3.7-4-.8-5.1-3.9zM241.7 674.8l5.1 3.6-4-.7-5.1-3.7zM245.7 675.7l5.1 3.4-4-.7-5.1-3.6zM249.7 676.5l5.1 3.2-4-.7-5.1-3.4zM253.8 677.3l5.1 3-4-.6-5.1-3.2zM257.8 678.1l5.1 2.8-4-.6-5.1-3zM261.9 678.9l5.1 2.6-4-.5-5.1-2.8zM265.9 679.6l5.1 2.3-4-.5-5.1-2.6z"/><path class="e24" d="M269.9 680.4l5.1 2.1-4-.5-5.1-2.3zM274 681.1l5.1 1.8-4-.4-5.1-2.1zM278 681.8l5.1 1.5-4-.4-5.1-1.8zM282.1 682.4l5.1 1.2-4.1-.4-5.1-1.5zM286.1 683.1l5.1 .9-4.1-.3-5.1-1.2zM290.2 683.7l5.1 .6-4.1-.3-5.1-.9z"/><path class="e25" d="M294.2 684.3l5.1 .3-4.1-.2-5.1-.6z"/><path class="e26" d="M139.6 645.8l5.2 2-4.1-1.4-5.2-1.8zM143.6 646.9l5.2 2.3-4-1.4-5.2-2z"/><path class="e25" d="M147.7 648l5.2 2.5-4-1.3-5.2-2.3zM151.7 649.1l5.2 2.7-4-1.3-5.2-2.5zM155.8 650.2l5.2 2.9-4-1.3-5.2-2.7zM159.8 651.3l5.2 3.1-4-1.3-5.2-2.9zM163.8 652.4l5.2 3.3-4-1.3-5.2-3.1zM167.9 653.5l5.2 3.4-4-1.2-5.2-3.3zM171.9 654.6l5.2 3.5-4-1.2-5.2-3.4zM176 655.7l5.2 3.6-4-1.2-5.2-3.5zM180 656.8l5.2 3.7-4-1.2-5.2-3.6zM184.1 657.9l5.2 3.7-4-1.2-5.2-3.7zM188.1 659l5.2 3.8-4-1.1-5.2-3.7zM192.1 660.1l5.2 3.8-4-1.1-5.2-3.8zM196.2 661.2l5.1 3.8-4-1.1-5.2-3.8zM200.2 662.3l5.1 3.7-4-1.1-5.1-3.8zM204.3 663.4l5.1 3.7-4-1.1-5.1-3.7zM208.3 664.5l5.1 3.6-4-1-5.1-3.7zM212.4 665.6l5.1 3.5-4-1-5.1-3.6zM216.4 666.7l5.1 3.4-4-1-5.1-3.5zM220.4 667.9l5.1 3.3-4-1-5.1-3.4z"/><path class="e24" d="M224.5 669l5.1 3.1-4-1-5.1-3.3zM228.5 670.1l5.1 2.9-4-.9-5.1-3.1zM232.5 671.2l5.1 2.7-4-.9-5.1-2.9zM236.6 672.3l5.1 2.5-4-.9-5.1-2.7zM240.6 673.4l5.1 2.2-4-.9-5.1-2.5zM244.7 674.6l5.1 1.9-4-.8-5.1-2.2zM248.7 675.7l5.1 1.6-4-.8-5.1-1.9zM252.7 676.8l5.1 1.3-4-.8-5.1-1.6zM256.8 677.9l5.1 1-4-.8-5.1-1.3zM260.8 679l5.1 .6-4-.8-5.1-1z"/><path class="e25" d="M264.8 680.2l5.1 .2-4-.7-5.1-.6zM268.9 681.3l5.1-.2-4-.7-5.1-.2zM272.9 682.4l5.1-.6-4-.7-5.1 .2zM276.9 683.5l5.1-1.1-4-.7-5.1 .6zM281 684.7l5.1-1.6-4-.6-5.1 1.1zM285 685.8l5.2-2.1-4-.6-5.1 1.6zM289 686.9l5.2-2.7-4.1-.6-5.2 2.1z"/><path class="e26" d="M134.4 645.8l5.2 0-4-1.1-5.2 .3zM138.4 646.6l5.2 .3-4-1.1-5.2 0zM142.5 647.4l5.2 .5-4-1.1-5.2-.3zM146.5 648.3l5.2 .8-4-1.1-5.2-.5zM150.6 649.1l5.2 1-4-1.1-5.2-.8zM154.6 650l5.2 1.2-4-1.1-5.2-1zM158.7 650.9l5.2 1.4-4-1.1-5.2-1.2zM162.7 651.8l5.2 1.6-4-1.1-5.2-1.4zM166.7 652.8l5.2 1.8-4-1.1-5.2-1.6zM170.8 653.8l5.2 1.9-4-1.1-5.2-1.8zM174.8 654.8l5.2 2-4-1.1-5.2-1.9zM178.9 655.8l5.2 2.1-4-1.1-5.2-2zM182.9 656.8l5.2 2.1-4-1.1-5.2-2.1zM187 657.9l5.2 2.2-4-1.1-5.2-2.1zM191 659l5.2 2.2-4-1.1-5.2-2.2zM195.1 660.1l5.2 2.2-4-1.1-5.2-2.2zM199.1 661.3l5.1 2.1-4-1.1-5.2-2.2zM203.2 662.4l5.1 2.1-4-1.1-5.1-2.1zM207.2 663.6l5.1 2-4-1.1-5.1-2.1zM211.3 664.8l5.1 1.9-4-1.1-5.1-2zM215.3 666.1l5.1 1.8-4-1.1-5.1-1.9zM219.3 667.3l5.1 1.6-4-1.1-5.1-1.8zM223.4 668.6l5.1 1.5-4-1.1-5.1-1.6zM227.4 669.9l5.1 1.3-4-1.1-5.1-1.5zM231.5 671.3l5.1 1.1-4-1.1-5.1-1.3z"/><path class="e25" d="M235.5 672.6l5.1 .8-4-1.1-5.1-1.1zM239.5 674l5.1 .5-4-1.1-5.1-.8zM243.6 675.4l5.1 .3-4-1.1-5.1-.5zM247.6 676.9l5.1-.1-4-1.1-5.1-.3zM251.6 678.3l5.1-.4-4-1.1-5.1 .1zM255.7 679.8l5.1-.8-4-1.1-5.1 .4zM259.7 681.3l5.1-1.2-4-1.1-5.1 .8zM263.7 682.9l5.1-1.6-4-1.1-5.1 1.2zM267.7 684.4l5.2-2-4-1.1-5.1 1.6zM271.8 686l5.2-2.5-4-1.1-5.2 2z"/><path class="e24" d="M275.8 687.6l5.2-3-4-1.1-5.2 2.5zM279.8 689.3l5.2-3.5-4-1.1-5.2 3zM283.8 691l5.2-4.1-4-1.1-5.2 3.5z"/><path class="e26" d="M129.3 647.8l5.1-2-4-.8-5.1 2.2zM133.3 648.4l5.1-1.8-4-.8-5.1 2zM137.4 649l5.1-1.6-4-.8-5.1 1.8z"/><path class="e27" d="M141.4 649.6l5.1-1.4-4-.8-5.1 1.6zM145.4 650.3l5.1-1.2-4-.9-5.1 1.4zM149.5 651l5.1-1-4-.9-5.1 1.2zM153.5 651.8l5.1-.9-4-.9-5.1 1zM157.6 652.6l5.1-.7-4-.9-5.1 .9zM161.6 653.4l5.2-.6-4-1-5.1 .7zM165.6 654.3l5.2-.5-4-1-5.2 .6zM169.7 655.2l5.2-.4-4-1-5.2 .5zM173.7 656.1l5.2-.3-4-1-5.2 .4zM177.8 657.1l5.2-.2-4-1-5.2 .3zM181.8 658.1l5.2-.2-4-1.1-5.2 .2zM185.9 659.2l5.2-.1-4-1.1-5.2 .2zM189.9 660.2l5.2-.1-4-1.1-5.2 .1zM194 661.4l5.2-.1-4-1.1-5.2 .1zM198 662.5l5.1-.1-4-1.2-5.2 .1zM202.1 663.7l5.1-.1-4-1.2-5.1 .1zM206.1 665l5.1-.2-4-1.2-5.1 .1zM210.2 666.3l5.1-.2-4-1.2-5.1 .2z"/><path class="e26" d="M214.2 667.6l5.1-.3-4-1.3-5.1 .2zM218.2 669l5.1-.4-4-1.3-5.1 .3zM222.3 670.4l5.1-.4-4-1.3-5.1 .4zM226.3 671.8l5.1-.6-4-1.3-5.1 .4zM230.4 673.3l5.1-.7-4-1.4-5.1 .6zM234.4 674.8l5.1-.8-4-1.4-5.1 .7zM238.4 676.4l5.1-1-4-1.4-5.1 .8zM242.5 678l5.1-1.2-4-1.4-5.1 1z"/><path class="e25" d="M246.5 679.7l5.1-1.3-4-1.5-5.1 1.2zM250.5 681.4l5.1-1.5-4-1.5-5.1 1.3zM254.5 683.1l5.2-1.8-4-1.5-5.1 1.5zM258.6 684.9l5.2-2-4-1.5-5.2 1.8zM262.6 686.7l5.2-2.3-4-1.6-5.2 2z"/><path class="e24" d="M266.6 688.5l5.2-2.5-4-1.6-5.2 2.3zM270.6 690.5l5.2-2.8-4-1.6-5.2 2.5zM274.6 692.4l5.2-3.1-4-1.6-5.2 2.8zM278.6 694.4l5.2-3.4-4-1.7-5.2 3.1z"/><path class="e26" d="M124.3 651.5l5-3.8-4-.5-5 3.8zM128.3 652.1l5.1-3.7-4-.6-5 3.8zM132.3 652.6l5.1-3.6-4-.6-5.1 3.7zM136.3 653.2l5.1-3.6-4-.7-5.1 3.6zM140.4 653.8l5.1-3.5-4-.7-5.1 3.6zM144.4 654.5l5.1-3.5-4-.7-5.1 3.5zM148.4 655.2l5.1-3.4-4-.8-5.1 3.5z"/><path class="e27" d="M152.5 655.9l5.1-3.3-4-.8-5.1 3.4zM156.5 656.7l5.1-3.3-4-.8-5.1 3.3zM160.5 657.5l5.1-3.2-4-.9-5.1 3.3zM164.6 658.3l5.1-3.2-4-.9-5.1 3.2zM168.6 659.2l5.1-3.1-4-.9-5.1 3.2zM172.7 660.1l5.1-3-4-1-5.1 3.1zM176.7 661.1l5.1-3-4-1-5.1 3zM180.7 662.1l5.1-2.9-4-1.1-5.1 3zM184.8 663.1l5.1-2.9-4-1.1-5.1 2.9zM188.8 664.2l5.1-2.8-4-1.1-5.1 2.9zM192.9 665.3l5.1-2.7-4-1.2-5.1 2.8zM196.9 666.4l5.1-2.7-4-1.2-5.1 2.7zM201 667.6l5.1-2.6-4-1.2-5.1 2.7zM205 668.8l5.1-2.5-4-1.3-5.1 2.6z"/><path class="e26" d="M209 670.1l5.1-2.5-4-1.3-5.1 2.5zM213.1 671.4l5.2-2.4-4-1.4-5.1 2.5zM217.1 672.7l5.2-2.4-4-1.4-5.2 2.4zM221.2 674.1l5.2-2.3-4-1.4-5.2 2.4zM225.2 675.5l5.2-2.2-4-1.5-5.2 2.3zM229.2 677l5.2-2.2-4-1.5-5.2 2.2zM233.3 678.5l5.2-2.1-4-1.6-5.2 2.2z"/><path class="e25" d="M237.3 680l5.2-2-4-1.6-5.2 2.1zM241.3 681.6l5.2-2-4-1.7-5.2 2zM245.4 683.2l5.2-1.9-4-1.7-5.2 2zM249.4 684.9l5.2-1.8-4-1.7-5.2 1.9zM253.4 686.6l5.1-1.8-4-1.8-5.2 1.8z"/><path class="e24" d="M257.4 688.4l5.1-1.7-4-1.8-5.1 1.8zM261.5 690.2l5.1-1.6-4-1.9-5.1 1.7zM265.5 692l5.1-1.6-4-1.9-5.1 1.6zM269.5 693.9l5.1-1.5-4-2-5.1 1.6z"/><path class="e23" d="M273.5 695.8l5.1-1.4-4-2-5.1 1.5z"/><path class="e24" d="M119.3 656.6l5-5-4-.5-5 5z"/><path class="e25" d="M123.3 657.1l5-5.1-4-.5-5 5zM127.3 657.7l5-5.1-4-.6-5 5.1zM131.3 658.4l5-5.2-4-.6-5 5.1zM135.3 659l5-5.2-4-.6-5 5.2zM139.4 659.7l5-5.2-4-.7-5 5.2zM143.4 660.4l5-5.2-4-.7-5 5.2zM147.4 661.1l5-5.2-4-.7-5 5.2z"/><path class="e26" d="M151.4 661.9l5.1-5.2-4-.8-5 5.2zM155.5 662.7l5.1-5.2-4-.8-5.1 5.2zM159.5 663.5l5.1-5.2-4-.8-5.1 5.2zM163.5 664.4l5.1-5.1-4-.9-5.1 5.2zM167.6 665.2l5.1-5.1-4-.9-5.1 5.1zM171.6 666.1l5.1-5-4-1-5.1 5.1zM175.6 667l5.1-5-4-1-5.1 5zM179.7 668l5.1-4.9-4-1-5.1 5zM183.7 669l5.1-4.8-4-1.1-5.1 4.9zM187.8 670l5.1-4.7-4-1.1-5.1 4.8zM191.8 671l5.1-4.6-4-1.1-5.1 4.7zM195.8 672.1l5.1-4.5-4-1.2-5.1 4.6zM199.9 673.2l5.1-4.4-4-1.2-5.1 4.5zM203.9 674.3l5.1-4.3-4-1.3-5.1 4.4zM207.9 675.5l5.1-4.1-4-1.3-5.1 4.3zM212 676.7l5.2-4-4-1.3-5.1 4.1zM216 677.9l5.2-3.8-4-1.4-5.2 4z"/><path class="e25" d="M220.1 679.2l5.2-3.6-4-1.4-5.2 3.8zM224.1 680.4l5.2-3.4-4-1.5-5.2 3.6zM228.1 681.7l5.2-3.3-4-1.5-5.2 3.4zM232.2 683.1l5.2-3.1-4-1.5-5.2 3.3zM236.2 684.5l5.2-2.8-4-1.6-5.2 3.1zM240.2 685.9l5.2-2.6-4-1.6-5.2 2.8zM244.2 687.3l5.2-2.4-4-1.7-5.2 2.6z"/><path class="e24" d="M248.3 688.8l5.2-2.1-4-1.7-5.2 2.4zM252.3 690.3l5.1-1.9-4-1.8-5.2 2.1zM256.3 691.8l5.1-1.6-4-1.8-5.1 1.9zM260.3 693.4l5.1-1.3-4-1.8-5.1 1.6zM264.4 695l5.1-1.1-4-1.9-5.1 1.3z"/><path class="e23" d="M268.4 696.6l5.1-.8-4-1.9-5.1 1.1zM114.3 662.3l4.9-5.7-4-.6-4.9 5.6zM118.3 662.9l5-5.8-4-.6-4.9 5.7zM122.3 663.6l5-5.9-4-.6-5 5.8zM126.3 664.3l5-5.9-4-.6-5 5.9z"/><path class="e24" d="M130.4 665l5-6-4-.7-5 5.9zM134.4 665.7l5-6-4-.7-5 6zM138.4 666.5l5-6.1-4-.7-5 6zM142.4 667.2l5-6.1-4-.7-5 6.1zM146.4 668l5-6.1-4-.8-5 6.1zM150.5 668.8l5-6.1-4-.8-5 6.1zM154.5 669.6l5-6.1-4-.8-5 6.1zM158.5 670.4l5-6.1-4-.8-5 6.1zM162.5 671.3l5.1-6.1-4-.9-5 6.1zM166.6 672.2l5.1-6-4-.9-5.1 6.1zM170.6 673l5.1-6-4-.9-5.1 6zM174.6 673.9l5.1-5.9-4-1-5.1 6z"/><path class="e25" d="M178.6 674.9l5.1-5.9-4-1-5.1 5.9zM182.7 675.8l5.1-5.8-4-1-5.1 5.9zM186.7 676.8l5.1-5.7-4-1-5.1 5.8zM190.7 677.7l5.1-5.6-4-1.1-5.1 5.7zM194.7 678.7l5.1-5.5-4-1.1-5.1 5.6zM198.8 679.8l5.1-5.4-4-1.1-5.1 5.5zM202.8 680.8l5.1-5.3-4-1.2-5.1 5.4zM206.8 681.8l5.1-5.2-4-1.2-5.1 5.3z"/><path class="e24" d="M210.9 682.9l5.1-5-4-1.2-5.1 5.2zM214.9 684l5.2-4.9-4-1.2-5.1 5zM218.9 685.1l5.2-4.7-4-1.3-5.2 4.9zM223 686.3l5.2-4.5-4-1.3-5.2 4.7zM227 687.4l5.2-4.3-4-1.3-5.2 4.5zM231 688.6l5.2-4.1-4-1.4-5.2 4.3zM235 689.8l5.2-3.9-4-1.4-5.2 4.1zM239.1 691l5.2-3.7-4-1.4-5.2 3.9zM243.1 692.2l5.2-3.5-4-1.5-5.2 3.7zM247.1 693.5l5.2-3.2-4-1.5-5.2 3.5zM251.1 694.8l5.2-3-4-1.5-5.2 3.2zM255.2 696.1l5.2-2.7-4-1.6-5.2 3zM259.2 697.4l5.2-2.4-4-1.6-5.2 2.7z"/><path class="e23" d="M263.2 698.7l5.2-2.1-4-1.6-5.2 2.4z"/><path class="e21" d="M109.4 668.2l4.9-5.9-4-.6-4.9 5.8zM113.4 668.9l4.9-5.9-4-.7-4.9 5.9z"/><path class="e22" d="M117.4 669.6l4.9-6-4-.7-4.9 5.9zM121.4 670.3l4.9-6-4-.7-4.9 6zM125.4 671.1l5-6.1-4-.7-4.9 6zM129.4 671.8l5-6.1-4-.7-5 6.1zM133.4 672.6l5-6.1-4-.7-5 6.1zM137.4 673.4l5-6.2-4-.8-5 6.1zM141.4 674.2l5-6.2-4-.8-5 6.2zM145.5 675l5-6.2-4-.8-5 6.2zM149.5 675.8l5-6.2-4-.8-5 6.2z"/><path class="e23" d="M153.5 676.7l5-6.2-4-.8-5 6.2zM157.5 677.5l5-6.2-4-.8-5 6.2zM161.5 678.4l5-6.2-4-.9-5 6.2zM165.5 679.3l5-6.2-4-.9-5 6.2zM169.5 680.2l5.1-6.2-4-.9-5 6.2zM173.6 681.1l5.1-6.2-4-.9-5.1 6.2zM177.6 682l5.1-6.2-4-.9-5.1 6.2zM181.6 683l5.1-6.2-4-1-5.1 6.2zM185.6 683.9l5.1-6.2-4-1-5.1 6.2zM189.6 684.9l5.1-6.1-4-1-5.1 6.2zM193.7 685.9l5.1-6.1-4-1-5.1 6.1zM197.7 686.9l5.1-6.1-4-1-5.1 6.1zM201.7 687.9l5.1-6-4-1.1-5.1 6.1zM205.7 688.9l5.1-6-4-1.1-5.1 6zM209.8 690l5.1-6-4-1.1-5.1 6zM213.8 691l5.1-5.9-4-1.1-5.1 6zM217.8 692.1l5.2-5.8-4-1.1-5.1 5.9zM221.8 693.2l5.2-5.8-4-1.2-5.2 5.8zM225.8 694.3l5.2-5.7-4-1.2-5.2 5.8zM229.9 695.4l5.2-5.7-4-1.2-5.2 5.7zM233.9 696.6l5.2-5.6-4-1.2-5.2 5.7zM237.9 697.7l5.2-5.5-4-1.2-5.2 5.6zM241.9 698.9l5.2-5.4-4-1.3-5.2 5.5zM246 700.1l5.2-5.3-4-1.3-5.2 5.4zM250 701.3l5.2-5.3-4-1.3-5.2 5.3zM254 702.5l5.2-5.2-4-1.3-5.2 5.3zM258 703.8l5.2-5.1-4-1.3-5.2 5.2z"/><path class="e20" d="M104.5 674.4l4.9-6.2-4-.7-4.9 6.2zM108.5 675.1l4.9-6.2-4-.7-4.9 6.2zM112.5 675.8l4.9-6.3-4-.7-4.9 6.2zM116.5 676.6l4.9-6.3-4-.7-4.9 6.3zM120.5 677.4l4.9-6.3-4-.7-4.9 6.3zM124.5 678.2l4.9-6.4-4-.8-4.9 6.3zM128.5 679l4.9-6.4-4-.8-4.9 6.4zM132.5 679.8l5-6.4-4-.8-4.9 6.4z"/><path class="e21" d="M136.5 680.6l5-6.5-4-.8-5 6.4zM140.5 681.5l5-6.5-4-.8-5 6.5zM144.5 682.4l5-6.5-4-.8-5 6.5zM148.5 683.2l5-6.6-4-.8-5 6.5zM152.5 684.1l5-6.6-4-.9-5 6.6zM156.5 685l5-6.7-4-.9-5 6.6zM160.5 686l5-6.7-4-.9-5 6.7zM164.5 686.9l5-6.7-4-.9-5 6.7zM168.5 687.9l5-6.8-4-.9-5 6.7zM172.5 688.8l5-6.8-4-.9-5 6.8zM176.5 689.8l5.1-6.9-4-.9-5 6.8zM180.6 690.8l5.1-6.9-4-1-5.1 6.9zM184.6 691.8l5.1-6.9-4-1-5.1 6.9zM188.6 692.8l5.1-7-4-1-5.1 6.9zM192.6 693.9l5.1-7-4-1-5.1 7zM196.6 694.9l5.1-7.1-4-1-5.1 7zM200.6 696l5.1-7.1-4-1-5.1 7.1zM204.6 697.1l5.1-7.2-4-1-5.1 7.1zM208.6 698.2l5.1-7.2-4-1.1-5.1 7.2zM212.7 699.3l5.1-7.2-4-1.1-5.1 7.2zM216.7 700.5l5.2-7.3-4-1.1-5.1 7.2zM220.7 701.6l5.2-7.3-4-1.1-5.2 7.3zM224.7 702.8l5.2-7.4-4-1.1-5.2 7.3zM228.7 704l5.2-7.4-4-1.1-5.2 7.4zM232.7 705.2l5.2-7.5-4-1.2-5.2 7.4zM236.7 706.4l5.2-7.5-4-1.2-5.2 7.5zM240.7 707.7l5.2-7.6-4-1.2-5.2 7.5zM244.8 708.9l5.2-7.6-4-1.2-5.2 7.6zM248.8 710.2l5.2-7.7-4-1.2-5.2 7.6zM252.8 711.5l5.2-7.7-4-1.2-5.2 7.7z"/><path class="e18" d="M99.6 681.1l4.9-6.7-4-.7-4.8 6.7zM103.6 681.9l4.9-6.8-4-.7-4.9 6.7zM107.6 682.7l4.9-6.9-4-.8-4.9 6.8zM111.6 683.5l4.9-6.9-4-.8-4.9 6.9zM115.6 684.4l4.9-7-4-.8-4.9 6.9zM119.6 685.2l4.9-7-4-.8-4.9 7zM123.6 686.1l4.9-7.1-4-.8-4.9 7z"/><path class="e19" d="M127.6 687l4.9-7.2-4-.8-4.9 7.1zM131.5 687.9l4.9-7.2-4-.8-4.9 7.2zM135.5 688.8l4.9-7.3-4-.8-4.9 7.2zM139.5 689.7l4.9-7.4-4-.9-4.9 7.3zM143.5 690.7l5-7.4-4-.9-4.9 7.4zM147.5 691.6l5-7.5-4-.9-5 7.4zM151.5 692.6l5-7.6-4-.9-5 7.5zM155.5 693.6l5-7.6-4-.9-5 7.6zM159.5 694.6l5-7.7-4-.9-5 7.6zM163.5 695.6l5-7.8-4-1-5 7.7zM167.5 696.7l5-7.9-4-1-5 7.8zM171.5 697.7l5-7.9-4-1-5 7.9zM175.5 698.8l5-8-4-1-5 7.9zM179.5 699.9l5-8.1-4-1-5 8zM183.5 701l5.1-8.2-4-1-5 8.1zM187.5 702.1l5.1-8.3-4-1-5.1 8.2zM191.5 703.3l5.1-8.3-4-1.1-5.1 8.3zM195.5 704.4l5.1-8.4-4-1.1-5.1 8.3zM199.5 705.6l5.1-8.5-4-1.1-5.1 8.4zM203.5 706.8l5.1-8.6-4-1.1-5.1 8.5zM207.5 708l5.1-8.7-4-1.1-5.1 8.6zM211.5 709.3l5.1-8.8-4-1.1-5.1 8.7zM215.5 710.5l5.1-8.9-4-1.2-5.1 8.8zM219.5 711.8l5.2-9-4-1.2-5.1 8.9zM223.5 713.1l5.2-9.1-4-1.2-5.2 9zM227.5 714.4l5.2-9.2-4-1.2-5.2 9.1zM231.5 715.7l5.2-9.3-4-1.2-5.2 9.2zM235.5 717l5.2-9.4-4-1.2-5.2 9.3zM239.5 718.4l5.2-9.5-4-1.3-5.2 9.4zM243.5 719.8l5.2-9.6-4-1.3-5.2 9.5zM247.5 721.2l5.2-9.7-4-1.3-5.2 9.6z"/><path class="e15" d="M94.8 688.6l4.8-7.5-4-.8-4.8 7.4zM98.8 689.5l4.8-7.6-4-.8-4.8 7.5zM102.8 690.4l4.8-7.7-4-.8-4.8 7.6zM106.8 691.3l4.8-7.8-4-.8-4.8 7.7zM110.8 692.3l4.8-7.9-4-.8-4.8 7.8zM114.7 693.2l4.8-8-4-.9-4.8 7.9zM118.7 694.2l4.9-8.1-4-.9-4.8 8zM122.7 695.2l4.9-8.2-4-.9-4.9 8.1zM126.7 696.2l4.9-8.3-4-.9-4.9 8.2z"/><path class="e17" d="M130.7 697.2l4.9-8.4-4-.9-4.9 8.3zM134.6 698.2l4.9-8.5-4-.9-4.9 8.4zM138.6 699.3l4.9-8.6-4-.9-4.9 8.5zM142.6 700.3l4.9-8.7-4-1-4.9 8.6zM146.6 701.4l4.9-8.8-4-1-4.9 8.7zM150.6 702.5l4.9-8.9-4-1-4.9 8.8zM154.6 703.6l4.9-9-4-1-4.9 8.9zM158.6 704.7l5-9.1-4-1-4.9 9zM162.6 705.9l5-9.2-4-1-5 9.1zM166.5 707l5-9.3-4-1.1-5 9.2zM170.5 708.2l5-9.4-4-1.1-5 9.3zM174.5 709.4l5-9.5-4-1.1-5 9.4zM178.5 710.6l5-9.6-4-1.1-5 9.5zM182.5 711.8l5-9.7-4-1.1-5 9.6zM186.5 713l5-9.8-4-1.1-5 9.7zM190.5 714.3l5.1-9.8-4-1.2-5 9.8zM194.5 715.6l5.1-9.9-4-1.2-5.1 9.8zM198.5 716.8l5.1-10-4-1.2-5.1 9.9zM202.5 718.1l5.1-10.1-4-1.2-5.1 10zM206.4 719.4l5.1-10.2-4-1.2-5.1 10.1zM210.4 720.8l5.1-10.3-4-1.2-5.1 10.2zM214.4 722.1l5.1-10.3-4-1.3-5.1 10.3zM218.4 723.5l5.1-10.4-4-1.3-5.1 10.3zM222.4 724.9l5.2-10.5-4-1.3-5.1 10.4z"/><path class="e15" d="M226.4 726.3l5.2-10.6-4-1.3-5.2 10.5zM230.4 727.7l5.2-10.7-4-1.3-5.2 10.6zM234.3 729.1l5.2-10.7-4-1.4-5.2 10.7zM238.3 730.6l5.2-10.8-4-1.4-5.2 10.7zM242.3 732.1l5.2-10.9-4-1.4-5.2 10.8z"/><path class="e14" d="M90.1 696.7l4.7-8.1-4-.9-4.7 8z"/><path class="e13" d="M94.1 697.8l4.8-8.3-4-.9-4.7 8.1zM98 698.8l4.8-8.4-4-.9-4.8 8.3zM102 699.9l4.8-8.6-4-.9-4.8 8.4zM106 701l4.8-8.7-4-.9-4.8 8.6zM109.9 702.1l4.8-8.9-4-1-4.8 8.7zM113.9 703.2l4.8-9-4-1-4.8 8.9zM117.9 704.3l4.8-9.1-4-1-4.8 9zM121.9 705.5l4.8-9.3-4-1-4.8 9.1zM125.8 706.6l4.8-9.4-4-1-4.8 9.3zM129.8 707.8l4.8-9.5-4-1-4.8 9.4zM133.8 708.9l4.8-9.6-4-1-4.8 9.5zM137.8 710.1l4.9-9.7-4-1.1-4.8 9.6zM141.7 711.3l4.9-9.9-4-1.1-4.9 9.7zM145.7 712.5l4.9-10-4-1.1-4.9 9.9zM149.7 713.7l4.9-10.1-4-1.1-4.9 10zM153.7 714.9l4.9-10.2-4-1.1-4.9 10.1zM157.6 716.2l4.9-10.3-4-1.1-4.9 10.2zM161.6 717.4l4.9-10.4-4-1.2-4.9 10.3zM165.6 718.7l4.9-10.5-4-1.2-4.9 10.4zM169.6 720l5-10.6-4-1.2-4.9 10.5zM173.5 721.3l5-10.7-4-1.2-5 10.6zM177.5 722.6l5-10.8-4-1.2-5 10.7zM181.5 723.9l5-10.8-4-1.2-5 10.8zM185.5 725.2l5-10.9-4-1.2-5 10.8zM189.4 726.5l5-11-4-1.3-5 10.9zM193.4 727.9l5-11.1-4-1.3-5 11zM197.4 729.3l5.1-11.1-4-1.3-5 11.1zM201.4 730.7l5.1-11.2-4-1.3-5.1 11.1zM205.3 732l5.1-11.3-4-1.3-5.1 11.2zM209.3 733.5l5.1-11.3-4-1.3-5.1 11.3zM213.3 734.9l5.1-11.4-4-1.4-5.1 11.3zM217.3 736.3l5.1-11.4-4-1.4-5.1 11.4z"/><path class="e14" d="M221.2 737.8l5.1-11.5-4-1.4-5.1 11.4zM225.2 739.2l5.2-11.5-4-1.4-5.1 11.5zM229.2 740.7l5.2-11.6-4-1.4-5.2 11.5zM233.1 742.2l5.2-11.6-4-1.5-5.2 11.6zM237.1 743.7l5.2-11.6-4-1.5-5.2 11.6z"/><path class="e11" d="M85.4 705.4l4.7-8.7-4-1-4.7 8.5zM89.4 706.6l4.7-8.8-4-1.1-4.7 8.7zM93.3 707.8l4.7-9-4-1.1-4.7 8.8zM97.3 709.1l4.7-9.2-4-1.1-4.7 9zM101.3 710.3l4.7-9.3-4-1.1-4.7 9.2zM105.2 711.6l4.7-9.5-4-1.1-4.7 9.3zM109.2 712.8l4.7-9.6-4-1.1-4.7 9.5zM113.1 714.1l4.8-9.8-4-1.1-4.7 9.6zM117.1 715.4l4.8-9.9-4-1.1-4.8 9.8zM121.1 716.6l4.8-10-4-1.1-4.8 9.9zM125 717.9l4.8-10.2-4-1.2-4.8 10zM129 719.2l4.8-10.3-4-1.2-4.8 10.2zM133 720.5l4.8-10.4-4-1.2-4.8 10.3zM136.9 721.8l4.8-10.5-4-1.2-4.8 10.4zM140.9 723.1l4.8-10.7-4-1.2-4.8 10.5zM144.8 724.5l4.8-10.8-4-1.2-4.8 10.7zM148.8 725.8l4.9-10.9-4-1.2-4.8 10.8zM152.8 727.1l4.9-11-4-1.2-4.9 10.9zM156.7 728.5l4.9-11.1-4-1.3-4.9 11zM160.7 729.8l4.9-11.2-4-1.3-4.9 11.1zM164.7 731.2l4.9-11.2-4-1.3-4.9 11.2zM168.6 732.6l4.9-11.3-4-1.3-4.9 11.2zM172.6 734l4.9-11.4-4-1.3-4.9 11.3zM176.5 735.3l5-11.5-4-1.3-4.9 11.4zM180.5 736.7l5-11.5-4-1.3-5 11.5zM184.5 738.1l5-11.6-4-1.3-5 11.5zM188.4 739.6l5-11.7-4-1.4-5 11.6zM192.4 741l5-11.7-4-1.4-5 11.7zM196.3 742.4l5-11.8-4-1.4-5 11.7zM200.3 743.8l5-11.8-4-1.4-5 11.8z"/><path class="e12" d="M204.3 745.3l5.1-11.8-4-1.4-5 11.8zM208.2 746.7l5.1-11.9-4-1.4-5.1 11.8zM212.2 748.2l5.1-11.9-4-1.4-5.1 11.9zM216.1 749.7l5.1-11.9-4-1.4-5.1 11.9zM220.1 751.2l5.1-11.9-4-1.5-5.1 11.9zM224 752.6l5.1-11.9-4-1.5-5.1 11.9zM228 754.1l5.2-11.9-4-1.5-5.1 11.9zM231.9 755.6l5.2-12-4-1.5-5.2 11.9z"/><path class="e8" d="M80.8 714.5l4.6-9.1-4-1.2-4.6 8.9zM84.7 715.9l4.7-9.3-4-1.2-4.6 9.1zM88.7 717.3l4.7-9.5-4-1.2-4.7 9.3zM92.6 718.7l4.7-9.6-4-1.2-4.7 9.5zM96.6 720.1l4.7-9.8-4-1.2-4.7 9.6zM100.5 721.5l4.7-9.9-4-1.3-4.7 9.8zM104.5 722.9l4.7-10.1-4-1.3-4.7 9.9zM108.4 724.3l4.7-10.2-4-1.3-4.7 10.1zM112.4 725.7l4.7-10.3-4-1.3-4.7 10.2zM116.3 727.1l4.7-10.5-4-1.3-4.7 10.3zM120.3 728.5l4.7-10.6-4-1.3-4.7 10.5zM124.2 729.9l4.7-10.7-4-1.3-4.7 10.6zM128.2 731.3l4.8-10.8-4-1.3-4.7 10.7zM132.1 732.8l4.8-10.9-4-1.3-4.8 10.8zM136.1 734.2l4.8-11-4-1.3-4.8 10.9zM140 735.6l4.8-11.1-4-1.3-4.8 11zM144 737l4.8-11.2-4-1.3-4.8 11.1zM147.9 738.5l4.8-11.3-4-1.3-4.8 11.2zM151.9 739.9l4.8-11.4-4-1.3-4.8 11.3zM155.8 741.3l4.9-11.5-4-1.4-4.8 11.4zM159.8 742.8l4.9-11.6-4-1.4-4.9 11.5zM163.7 744.2l4.9-11.6-4-1.4-4.9 11.6zM167.7 745.6l4.9-11.7-4-1.4-4.9 11.6zM171.6 747.1l4.9-11.7-4-1.4-4.9 11.7zM175.6 748.5l4.9-11.8-4-1.4-4.9 11.7z"/><path class="e9" d="M179.5 750l4.9-11.8-4-1.4-4.9 11.8zM183.5 751.4l5-11.9-4-1.4-4.9 11.8zM187.4 752.9l5-11.9-4-1.4-5 11.9zM191.3 754.3l5-11.9-4-1.4-5 11.9zM195.3 755.8l5-12-4-1.4-5 11.9zM199.2 757.3l5-12-4-1.4-5 12zM203.2 758.7l5-12-4-1.5-5 12zM207.1 760.2l5.1-12-4-1.5-5 12zM211.1 761.7l5.1-12-4-1.5-5.1 12zM215 763.1l5.1-12-4-1.5-5.1 12zM218.9 764.6l5.1-12-4-1.5-5.1 12zM222.9 766.1l5.1-11.9-4-1.5-5.1 12zM226.8 767.6l5.1-11.9-4-1.5-5.1 11.9z"/><path class="e10" d="M76.2 724.3l4.6-9.8-4-1.4-4.6 9.6zM80.1 725.8l4.6-9.9-4-1.4-4.6 9.8z"/><path class="e28" d="M84.1 727.4l4.6-10.1-4-1.4-4.6 9.9zM88 728.9l4.6-10.2-4-1.4-4.6 10.1zM92 730.4l4.6-10.4-4-1.4-4.6 10.2zM95.9 732l4.6-10.5-4-1.4-4.6 10.4zM99.8 733.5l4.6-10.6-4-1.4-4.6 10.5zM103.8 735l4.7-10.8-4-1.4-4.6 10.6zM107.7 736.6l4.7-10.9-4-1.4-4.7 10.8zM111.7 738.1l4.7-11-4-1.4-4.7 10.9zM115.6 739.6l4.7-11.1-4-1.4-4.7 11zM119.5 741.1l4.7-11.2-4-1.4-4.7 11.1zM123.5 742.7l4.7-11.3-4-1.4-4.7 11.2zM127.4 744.2l4.7-11.4-4-1.4-4.7 11.3zM131.4 745.7l4.7-11.5-3.9-1.4-4.7 11.4zM135.3 747.2l4.8-11.6-3.9-1.4-4.7 11.5zM139.2 748.7l4.8-11.6-3.9-1.4-4.8 11.6zM143.2 750.2l4.8-11.7-3.9-1.4-4.8 11.6zM147.1 751.7l4.8-11.8-3.9-1.4-4.8 11.7z"/><path class="e5" d="M151 753.2l4.8-11.8-3.9-1.4-4.8 11.8zM155 754.6l4.8-11.9-3.9-1.4-4.8 11.8zM158.9 756.1l4.8-11.9-3.9-1.4-4.8 11.9zM162.8 757.6l4.9-12-3.9-1.4-4.8 11.9zM166.7 759.1l4.9-12-3.9-1.4-4.9 12zM170.7 760.6l4.9-12-3.9-1.4-4.9 12zM174.6 762l4.9-12.1-3.9-1.4-4.9 12zM178.5 763.5l4.9-12.1-3.9-1.5-4.9 12.1zM182.5 765l4.9-12.1-3.9-1.5-4.9 12.1zM186.4 766.4l5-12.1-3.9-1.5-4.9 12.1zM190.3 767.9l5-12.1-3.9-1.5-5 12.1zM194.2 769.3l5-12.1-3.9-1.5-5 12.1zM198.2 770.8l5-12.1-3.9-1.5-5 12.1zM202.1 772.2l5-12.1-3.9-1.5-5 12.1zM206 773.7l5-12-3.9-1.5-5 12.1zM209.9 775.1l5-12-3.9-1.5-5 12zM213.9 776.6l5.1-12-3.9-1.5-5 12zM217.8 778l5.1-11.9-3.9-1.5-5.1 12zM221.7 779.4l5.1-11.9-3.9-1.5-5.1 11.9z"/><path class="e6" d="M71.7 735l4.5-10.7-3.9-1.6-4.5 10.6z"/><path class="e7" d="M75.6 736.7l4.5-10.8-3.9-1.5-4.5 10.7zM79.5 738.3l4.5-11-3.9-1.5-4.5 10.8zM83.5 740l4.5-11.1-3.9-1.5-4.5 11zM87.4 741.6l4.5-11.2-3.9-1.5-4.5 11.1zM91.3 743.3l4.6-11.3-3.9-1.5-4.5 11.2zM95.3 744.9l4.6-11.4-3.9-1.5-4.6 11.3zM99.2 746.6l4.6-11.5-3.9-1.5-4.6 11.4zM103.1 748.2l4.6-11.6-3.9-1.5-4.6 11.5zM107.1 749.8l4.6-11.7-3.9-1.5-4.6 11.6zM111 751.4l4.6-11.8-3.9-1.5-4.6 11.7zM114.9 753l4.6-11.9-3.9-1.5-4.6 11.8zM118.8 754.6l4.7-11.9-3.9-1.5-4.6 11.9z"/><path class="e29" d="M122.7 756.2l4.7-12-3.9-1.5-4.7 11.9zM126.7 757.7l4.7-12.1-3.9-1.5-4.7 12zM130.6 759.3l4.7-12.1-3.9-1.5-4.7 12.1zM134.5 760.9l4.7-12.2-3.9-1.5-4.7 12.1zM138.4 762.4l4.7-12.2-3.9-1.5-4.7 12.2zM142.3 763.9l4.8-12.3-3.9-1.5-4.7 12.2zM146.3 765.5l4.8-12.3-3.9-1.5-4.8 12.3zM150.2 767l4.8-12.3-3.9-1.5-4.8 12.3zM154.1 768.5l4.8-12.3-3.9-1.5-4.8 12.3zM158 770l4.8-12.4-3.9-1.5-4.8 12.3zM161.9 771.5l4.8-12.4-3.9-1.5-4.8 12.4zM165.8 773l4.8-12.4-3.9-1.5-4.8 12.4zM169.7 774.4l4.9-12.4-3.9-1.5-4.8 12.4zM173.6 775.9l4.9-12.4-3.9-1.5-4.9 12.4zM177.6 777.3l4.9-12.4-3.9-1.5-4.9 12.4zM181.5 778.8l4.9-12.3-3.9-1.5-4.9 12.4zM185.4 780.2l4.9-12.3-3.9-1.5-4.9 12.3zM189.3 781.6l4.9-12.3-3.9-1.5-4.9 12.3z"/><path class="e30" d="M193.2 783l5-12.2-3.9-1.4-4.9 12.3zM197.1 784.4l5-12.2-3.9-1.4-5 12.2zM201 785.8l5-12.2-3.9-1.4-5 12.2zM204.9 787.2l5-12.1-3.9-1.4-5 12.2zM208.8 788.6l5-12-3.9-1.4-5 12.1zM212.8 790l5-12-3.9-1.4-5 12zM216.7 791.3l5.1-11.9-3.9-1.4-5 12z"/><path class="e2" d="M67.3 746.9l4.4-11.9-3.9-1.7-4.4 11.8zM71.2 748.7l4.4-12-3.9-1.7-4.4 11.9zM75.1 750.4l4.4-12.1-3.9-1.7-4.4 12zM79 752.2l4.4-12.2-3.9-1.7-4.4 12.1zM82.9 753.9l4.5-12.3-3.9-1.7-4.4 12.2zM86.9 755.6l4.5-12.3-3.9-1.6-4.5 12.3z"/><path class="e3" d="M90.8 757.3l4.5-12.4-3.9-1.6-4.5 12.3zM94.7 759l4.5-12.5-3.9-1.6-4.5 12.4zM98.6 760.7l4.5-12.5-3.9-1.6-4.5 12.5zM102.5 762.4l4.5-12.6-3.9-1.6-4.5 12.5zM106.4 764l4.6-12.6-3.9-1.6-4.5 12.6zM110.3 765.7l4.6-12.7-3.9-1.6-4.6 12.6zM114.2 767.3l4.6-12.7-3.9-1.6-4.6 12.7zM118.1 768.9l4.6-12.8-3.9-1.6-4.6 12.7zM122 770.5l4.6-12.8-3.9-1.6-4.6 12.8zM125.9 772.1l4.6-12.8-3.9-1.6-4.6 12.8zM129.8 773.7l4.7-12.8-3.9-1.6-4.6 12.8zM133.7 775.3l4.7-12.9-3.9-1.5-4.7 12.8zM137.6 776.8l4.7-12.9-3.9-1.5-4.7 12.9z"/><path class="e4" d="M141.5 778.3l4.7-12.9-3.9-1.5-4.7 12.9zM145.4 779.8l4.7-12.9-3.9-1.5-4.7 12.9zM149.3 781.3l4.7-12.9-3.9-1.5-4.7 12.9zM153.2 782.8l4.8-12.9-3.9-1.5-4.7 12.9zM157.1 784.3l4.8-12.8-3.9-1.5-4.8 12.9zM161 785.8l4.8-12.8-3.9-1.5-4.8 12.8zM164.9 787.2l4.8-12.8-3.9-1.5-4.8 12.8zM168.8 788.6l4.8-12.8-3.9-1.5-4.8 12.8zM172.7 790l4.9-12.7-3.9-1.5-4.8 12.8zM176.6 791.4l4.9-12.7-3.9-1.4-4.9 12.7zM180.5 792.8l4.9-12.6-3.9-1.4-4.9 12.7zM184.4 794.2l4.9-12.6-3.9-1.4-4.9 12.6zM188.3 795.5l4.9-12.5-3.9-1.4-4.9 12.6zM192.2 796.9l4.9-12.4-3.9-1.4-4.9 12.5zM196.1 798.2l5-12.4-3.9-1.4-4.9 12.4zM200 799.5l5-12.3-3.9-1.4-5 12.4zM203.9 800.8l5-12.2-3.9-1.4-5 12.3zM207.7 802.1l5-12.1-3.9-1.4-5 12.2zM211.6 803.3l5-12-3.9-1.4-5 12.1z"/><path class="e31" d="M63 760.3l4.3-13.4-3.9-1.8-4.3 13.3zM66.9 762.1l4.3-13.4-3.9-1.8-4.3 13.4zM70.8 763.9l4.3-13.5-3.9-1.8-4.3 13.4zM74.7 765.7l4.3-13.5-3.9-1.7-4.3 13.5zM78.6 767.5l4.4-13.6-3.9-1.7-4.3 13.5zM82.5 769.2l4.4-13.6-3.9-1.7-4.4 13.6zM86.4 771l4.4-13.6-3.9-1.7-4.4 13.6zM90.3 772.7l4.4-13.6-3.9-1.7-4.4 13.6z"/><path class="e1" d="M94.2 774.4l4.4-13.7-3.9-1.7-4.4 13.6zM98.1 776.1l4.5-13.7-3.9-1.7-4.4 13.7zM101.9 777.7l4.5-13.7-3.9-1.7-4.5 13.7zM105.8 779.4l4.5-13.7-3.9-1.6-4.5 13.7zM109.7 781l4.5-13.7-3.9-1.6-4.5 13.7zM113.6 782.6l4.5-13.7-3.9-1.6-4.5 13.7zM117.5 784.2l4.6-13.7-3.9-1.6-4.5 13.7zM121.4 785.8l4.6-13.7-3.9-1.6-4.6 13.7zM125.2 787.3l4.6-13.6-3.9-1.6-4.6 13.7zM129.1 788.9l4.6-13.6-3.9-1.6-4.6 13.6zM133 790.4l4.6-13.6-3.9-1.5-4.6 13.6zM136.9 791.9l4.7-13.6-3.9-1.5-4.6 13.6zM140.8 793.4l4.7-13.5-3.9-1.5-4.7 13.6zM144.6 794.8l4.7-13.5-3.9-1.5-4.7 13.5zM148.5 796.3l4.7-13.4-3.9-1.5-4.7 13.5zM152.4 797.7l4.7-13.4-3.9-1.5-4.7 13.4zM156.3 799.1l4.8-13.3-3.9-1.5-4.7 13.4zM160.1 800.5l4.8-13.3-3.9-1.4-4.8 13.3zM164 801.9l4.8-13.2-3.9-1.4-4.8 13.3zM167.9 803.2l4.8-13.2-3.9-1.4-4.8 13.2zM171.8 804.5l4.8-13.1-3.9-1.4-4.8 13.2zM175.6 805.8l4.8-13-3.9-1.4-4.8 13.1zM179.5 807.1l4.9-12.9-3.9-1.4-4.8 13zM183.4 808.4l4.9-12.8-3.9-1.4-4.9 12.9zM187.3 809.6l4.9-12.7-3.9-1.3-4.9 12.8zM191.1 810.8l4.9-12.6-3.9-1.3-4.9 12.7zM195 812l4.9-12.5-3.9-1.3-4.9 12.6zM198.9 813.2l5-12.4-3.9-1.3-4.9 12.5zM202.8 814.4l5-12.3-3.9-1.3-5 12.4zM206.7 815.5l5-12.2-3.9-1.3-5 12.3z"/><path class="e32" d="M58.8 775.5l4.1-15.2-3.9-1.8-4.1 15.2zM62.7 777.3l4.2-15.2-3.9-1.8-4.1 15.2zM66.6 779.1l4.2-15.1-3.9-1.8-4.2 15.2zM70.5 780.8l4.2-15.1-3.9-1.8-4.2 15.1zM74.4 782.6l4.2-15.1-3.9-1.8-4.2 15.1z"/><path class="e33" d="M78.2 784.3l4.3-15.1-3.9-1.8-4.2 15.1zM82.1 786l4.3-15.1-3.9-1.7-4.3 15.1zM86 787.7l4.3-15-3.9-1.7-4.3 15.1zM89.8 789.4l4.3-15-3.9-1.7-4.3 15zM93.7 791l4.4-14.9-3.9-1.7-4.3 15zM97.6 792.6l4.4-14.9-3.9-1.7-4.4 14.9zM101.4 794.2l4.4-14.9-3.9-1.6-4.4 14.9zM105.3 795.8l4.4-14.8-3.9-1.6-4.4 14.9zM109.2 797.4l4.5-14.8-3.9-1.6-4.4 14.8zM113 798.9l4.5-14.7-3.9-1.6-4.5 14.8zM116.9 800.4l4.5-14.6-3.9-1.6-4.5 14.7zM120.7 801.9l4.5-14.6-3.9-1.6-4.5 14.6zM124.6 803.4l4.5-14.5-3.9-1.5-4.5 14.6zM128.4 804.9l4.6-14.5-3.9-1.5-4.5 14.5zM132.3 806.3l4.6-14.4-3.9-1.5-4.6 14.5zM136.2 807.7l4.6-14.3-3.9-1.5-4.6 14.4zM140 809.1l4.6-14.2-3.9-1.5-4.6 14.3zM143.9 810.4l4.7-14.1-3.9-1.4-4.6 14.2zM147.7 811.8l4.7-14.1-3.9-1.4-4.7 14.1zM151.6 813.1l4.7-14-3.9-1.4-4.7 14.1zM155.4 814.4l4.7-13.9-3.9-1.4-4.7 14zM159.3 815.6l4.7-13.8-3.9-1.4-4.7 13.9zM163.1 816.9l4.8-13.7-3.9-1.3-4.7 13.8zM167 818.1l4.8-13.6-3.9-1.3-4.8 13.7zM170.8 819.3l4.8-13.5-3.9-1.3-4.8 13.6zM174.7 820.5l4.8-13.4-3.9-1.3-4.8 13.5zM178.6 821.6l4.8-13.2-3.9-1.3-4.8 13.4zM182.4 822.7l4.9-13.1-3.9-1.2-4.8 13.2zM186.3 823.8l4.9-13-3.9-1.2-4.9 13.1zM190.1 824.9l4.9-12.9-3.9-1.2-4.9 13zM194 825.9l4.9-12.7-3.9-1.2-4.9 12.9z"/><path class="e32" d="M197.8 827l4.9-12.6-3.9-1.2-4.9 12.7zM201.7 828l4.9-12.5-3.9-1.1-4.9 12.6z"/></g><circle cx="55.6" cy="784.8" r="0.9" fill="#c0b000"/><circle cx="53.7" cy="752.1" r="0.9" fill="#c0b000"/><circle cx="51.7" cy="719.5" r="0.9" fill="#c0b000"/><circle cx="49.8" cy="686.8" r="0.9" fill="#c0b000"/><circle cx="47.8" cy="654.1" r="0.9" fill="#c0b000"/><text transform="translate(38.5 660.3) scale(0.75 1)" font-size="13.3" text-anchor="middle" font-family="Liberation Serif" font-weight="bold">90</text><text transform="translate(35.3 691.2) scale(0.75 1)" font-size="13.3" text-anchor="middle" font-family="Liberation Serif" font-weight="bold">86.25</text><text transform="translate(39.2 722.1) scale(0.75 1)" font-size="13.3" text-anchor="middle" font-family="Liberation Serif" font-weight="bold">82.5</text><text transform="translate(37.5 755.7) scale(0.75 1)" font-size="13.3" text-anchor="middle" font-family="Liberation Serif" font-weight="bold">78.75</text><text transform="translate(45 789.3) scale(0.75 1)" font-size="13.3" text-anchor="middle" font-family="Liberation Serif" font-weight="bold">75</text><circle cx="165.9" cy="870.9" r="1.1" fill="#111"/><circle cx="238.1" cy="870.8" r="1.1" fill="#111"/><circle cx="130" cy="856" r="1.1" fill="#111"/><circle cx="274.5" cy="855.7" r="1.1" fill="#111"/><circle cx="94" cy="841.1" r="1.1" fill="#111"/><circle cx="310.8" cy="840.6" r="1.1" fill="#111"/><text transform="translate(42.3 827.2) scale(0.75 1)" font-size="13.3" text-anchor="middle" font-family="Liberation Serif" font-weight="bold">77.5</text><text transform="translate(82.6 854) scale(0.75 1)" font-size="13.3" text-anchor="middle" font-family="Liberation Serif" font-weight="bold">60.63</text><text transform="translate(119.7 871) scale(0.75 1)" font-size="13.3" text-anchor="middle" font-family="Liberation Serif" font-weight="bold">43.75</text><text transform="translate(157.7 887.6) scale(0.75 1)" font-size="13.3" text-anchor="middle" font-family="Liberation Serif" font-weight="bold">26.88</text><text transform="translate(195.3 898.2) scale(0.75 1)" font-size="13.3" text-anchor="middle" font-family="Liberation Serif" font-weight="bold">10</text><text transform="translate(210.5 896.9) scale(0.75 1)" font-size="13.3" text-anchor="middle" font-family="Liberation Serif" font-weight="bold">3</text><text transform="translate(242.5 890.3) scale(0.75 1)" font-size="13.3" text-anchor="middle" font-family="Liberation Serif" font-weight="bold">5.25</text><text transform="translate(278 874.5) scale(0.75 1)" font-size="13.3" text-anchor="middle" font-family="Liberation Serif" font-weight="bold">7.5</text><text transform="translate(317.4 857.4) scale(0.75 1)" font-size="13.3" text-anchor="middle" font-family="Liberation Serif" font-weight="bold">9.75</text><text transform="translate(350.3 843) scale(0.75 1)" font-size="13.3" text-anchor="middle" font-family="Liberation Serif" font-weight="bold">12</text><text transform="translate(70 892) scale(0.75 1)" font-size="13.3" text-anchor="middle" font-family="Liberation Serif" font-weight="bold" textLength="119.5" lengthAdjust="spacingAndGlyphs">Dosage of NPs (mg/l)</text><text transform="translate(297.7 886.4) scale(0.75 1)" font-size="13.3" text-anchor="middle" font-family="Liberation Serif" font-weight="bold">pH</text><text transform="translate(12 739) rotate(-90)" x="0" y="5.1" font-size="15" text-anchor="middle" font-family="Liberation Serif" font-weight="bold" textLength="81.3" lengthAdjust="spacingAndGlyphs">Removal%</text><text transform="translate(68.6 678.8) scale(0.7 1)" font-size="15" text-anchor="middle" font-family="Liberation Sans" font-weight="bold">e</text><path d="M410.2 813.9L401 644.7" stroke="#8c8c8c" stroke-width="0.9" fill="none"/><path d="M665.7 813.8L674.4 644.5" stroke="#8c8c8c" stroke-width="0.9" fill="none"/><path d="M537.6 767.9L538.2 615.8" stroke="#8c8c8c" stroke-width="0.9" fill="none"/><path d="M401 644.7L538.2 615.8" stroke="#8c8c8c" stroke-width="0.9" fill="none"/><path d="M538.2 615.8L674.4 644.5" stroke="#8c8c8c" stroke-width="0.9" fill="none"/><path d="M537.6 873L665.7 813.8L537.6 767.9L410.2 813.9Z" fill="#fe8040" stroke="#444" stroke-width="0.7"/><clipPath id="fcf"><path d="M537.6 873L665.7 813.8L537.6 767.9L410.2 813.9Z"/></clipPath><g clip-path="url(#fcf)"><path d="M450.9 799.4C460.8 804.4 490.5 819.8 510.2 829.5C530 839.3 559.7 853 569.6 857.7" fill="none" stroke="#d6c23a" stroke-width="0.9" stroke-linejoin="round"/><path d="M458.8 796.8C468.6 801.7 498 816.8 517.6 826.3C537.2 835.9 566.6 849.3 576.4 853.9" fill="none" stroke="#d6c23a" stroke-width="0.9" stroke-linejoin="round"/><path d="M466 794.5C475.8 799.3 505.1 814.2 524.6 823.5C544.1 832.8 573.4 846 583.2 850.5" fill="none" stroke="#d6c23a" stroke-width="0.9" stroke-linejoin="round"/><path d="M472 792.8C481.9 797.5 511.7 811.9 531.5 821C551.4 830 581.2 842.7 591.1 847.1" fill="none" stroke="#d6c23a" stroke-width="0.9" stroke-linejoin="round"/><path d="M479.8 790.2C489.6 794.7 519.2 808.7 538.9 817.4C558.5 826.1 588.1 838.4 597.9 842.6" fill="none" stroke="#d6c23a" stroke-width="0.9" stroke-linejoin="round"/></g><path d="M537.6 873L410.2 813.9" stroke="#111" stroke-width="0.9" fill="none"/><path d="M537.6 873L665.7 813.8" stroke="#111" stroke-width="0.9" fill="none"/><style>.f0{fill:#64d76e}</style><g stroke="none"><path class="f0" d="M537.8 722.4l4.3 .4-4.4-1.3-4.3-.4zM533.4 721.9l4.3 .5-4.4-1.2-4.4-.5zM529.1 721.3l4.4 .6-4.4-1.2-4.4-.6zM524.7 720.6l4.4 .7-4.4-1.2-4.4-.7zM520.4 719.9l4.4 .8-4.4-1.2-4.4-.7zM516 719l4.4 .8-4.4-1.1-4.4-.8zM511.6 718.1l4.4 .9-4.4-1.1-4.4-.9zM507.2 717.1l4.4 1-4.4-1.1-4.4-1zM502.8 716l4.4 1.1-4.4-1.1-4.4-1.1zM498.3 714.9l4.4 1.1-4.4-1.1-4.4-1.2zM493.9 713.7l4.4 1.2-4.4-1.1-4.4-1.2zM489.5 712.4l4.4 1.3-4.4-1.2-4.4-1.3zM485 711l4.5 1.3-4.4-1.2-4.5-1.4zM480.5 709.6l4.5 1.4-4.4-1.2-4.5-1.4zM476 708.2l4.5 1.5-4.4-1.3-4.5-1.5zM471.6 706.6l4.5 1.5-4.4-1.3-4.5-1.6zM467 705.1l4.5 1.6-4.4-1.3-4.5-1.6zM462.5 703.4l4.5 1.6-4.4-1.4-4.5-1.7zM458 701.8l4.5 1.7-4.4-1.5-4.5-1.7zM453.5 700.1l4.5 1.7-4.4-1.5-4.5-1.8zM448.9 698.3l4.6 1.8-4.4-1.6-4.6-1.8zM444.3 696.5l4.6 1.8-4.4-1.7-4.6-1.9zM439.8 694.7l4.6 1.8-4.4-1.8-4.6-1.9zM435.2 692.8l4.6 1.9-4.4-1.8-4.6-2zM430.6 690.9l4.6 1.9-4.5-1.9-4.6-2zM425.9 689l4.6 1.9-4.5-2-4.6-2zM421.3 687.1l4.6 1.9-4.5-2.1-4.6-2zM416.7 685.1l4.6 1.9-4.5-2.2-4.7-2.1zM412 683.2l4.7 2-4.5-2.4-4.7-2.1zM407.4 681.2l4.7 2-4.5-2.5-4.7-2.1zM542.2 723.7l4.3 .4-4.4-1.3-4.3-.4zM537.8 723.1l4.3 .5-4.4-1.3-4.3-.5zM533.5 722.5l4.4 .6-4.4-1.2-4.4-.6zM529.1 721.8l4.4 .7-4.4-1.2-4.4-.7zM524.7 721l4.4 .8-4.4-1.2-4.4-.8zM520.3 720.2l4.4 .9-4.4-1.2-4.4-.8zM515.9 719.3l4.4 .9-4.4-1.1-4.4-.9zM511.5 718.3l4.4 1-4.4-1.1-4.4-1zM507.1 717.2l4.4 1.1-4.4-1.1-4.4-1.1zM502.7 716.1l4.4 1.1-4.4-1.2-4.4-1.1zM498.3 714.9l4.4 1.2-4.4-1.2-4.4-1.2zM493.8 713.6l4.4 1.3-4.4-1.2-4.4-1.3zM489.4 712.3l4.5 1.3-4.4-1.2-4.5-1.3zM484.9 710.9l4.5 1.4-4.4-1.2-4.5-1.4zM480.4 709.5l4.5 1.4-4.4-1.3-4.5-1.5zM476 708l4.5 1.5-4.4-1.3-4.5-1.5zM471.5 706.5l4.5 1.5-4.4-1.4-4.5-1.6zM466.9 704.9l4.5 1.6-4.4-1.4-4.5-1.6zM462.4 703.3l4.5 1.6-4.4-1.5-4.5-1.7zM457.9 701.6l4.5 1.6-4.4-1.5-4.5-1.7zM453.3 700l4.5 1.7-4.4-1.6-4.6-1.8zM448.8 698.2l4.6 1.7-4.4-1.7-4.6-1.8zM444.2 696.5l4.6 1.7-4.4-1.7-4.6-1.8zM439.6 694.7l4.6 1.8-4.4-1.8-4.6-1.9zM435 692.9l4.6 1.8-4.5-1.9-4.6-1.9zM430.4 691.1l4.6 1.8-4.5-2-4.6-1.9zM425.8 689.3l4.6 1.8-4.5-2.1-4.6-1.9zM421.2 687.4l4.6 1.8-4.5-2.2-4.6-1.9zM416.5 685.6l4.6 1.9-4.5-2.3-4.7-2zM411.9 683.7l4.7 1.9-4.5-2.4-4.7-2zM546.5 724.9l4.3 .5-4.4-1.3-4.3-.4zM542.2 724.4l4.3 .6-4.4-1.3-4.3-.5zM537.8 723.7l4.4 .6-4.4-1.2-4.4-.6zM533.5 723l4.4 .7-4.4-1.2-4.4-.7zM529.1 722.2l4.4 .8-4.4-1.2-4.4-.8zM524.7 721.4l4.4 .9-4.4-1.2-4.4-.9zM520.3 720.4l4.4 .9-4.4-1.2-4.4-.9zM515.9 719.4l4.4 1-4.4-1.2-4.4-1zM511.5 718.4l4.4 1.1-4.4-1.2-4.4-1.1zM507.1 717.2l4.4 1.1-4.4-1.2-4.4-1.1zM502.7 716.1l4.4 1.2-4.4-1.2-4.4-1.2zM498.2 714.8l4.4 1.2-4.4-1.2-4.4-1.3zM493.8 713.5l4.5 1.3-4.4-1.2-4.5-1.3zM489.3 712.2l4.5 1.3-4.4-1.3-4.5-1.4zM484.8 710.8l4.5 1.4-4.4-1.3-4.5-1.4zM480.4 709.4l4.5 1.4-4.4-1.3-4.5-1.5zM475.9 707.9l4.5 1.5-4.4-1.4-4.5-1.5zM471.4 706.4l4.5 1.5-4.4-1.4-4.5-1.6zM466.8 704.8l4.5 1.6-4.4-1.5-4.5-1.6zM462.3 703.2l4.5 1.6-4.4-1.5-4.5-1.6zM457.8 701.6l4.5 1.6-4.4-1.6-4.5-1.7zM453.2 699.9l4.6 1.7-4.4-1.6-4.6-1.7zM448.6 698.3l4.6 1.7-4.4-1.7-4.6-1.7zM444.1 696.6l4.6 1.7-4.4-1.8-4.6-1.8zM439.5 694.8l4.6 1.7-4.4-1.9-4.6-1.8zM434.9 693.1l4.6 1.7-4.5-1.9-4.6-1.8zM430.3 691.4l4.6 1.7-4.5-2-4.6-1.8zM425.6 689.6l4.6 1.8-4.5-2.1-4.6-1.8zM421 687.8l4.6 1.8-4.5-2.2-4.6-1.9zM416.4 686.1l4.6 1.8-4.5-2.3-4.7-1.9zM550.9 726.2l4.3 .5-4.4-1.3-4.3-.5zM546.5 725.6l4.3 .6-4.4-1.3-4.3-.6zM542.2 725l4.3 .7-4.4-1.3-4.4-.6zM537.8 724.2l4.4 .7-4.4-1.2-4.4-.7zM533.4 723.4l4.4 .8-4.4-1.2-4.4-.8zM529.1 722.5l4.4 .9-4.4-1.2-4.4-.9zM524.7 721.6l4.4 .9-4.4-1.2-4.4-.9zM520.3 720.6l4.4 1-4.4-1.2-4.4-1zM515.9 719.6l4.4 1.1-4.4-1.2-4.4-1.1zM511.5 718.5l4.4 1.1-4.4-1.2-4.4-1.1zM507 717.3l4.4 1.2-4.4-1.2-4.4-1.2zM502.6 716.1l4.4 1.2-4.4-1.2-4.4-1.2zM498.2 714.8l4.4 1.3-4.4-1.2-4.5-1.3zM493.7 713.5l4.5 1.3-4.4-1.3-4.5-1.3zM489.2 712.1l4.5 1.4-4.4-1.3-4.5-1.4zM484.8 710.7l4.5 1.4-4.4-1.3-4.5-1.4zM480.3 709.3l4.5 1.4-4.4-1.4-4.5-1.5zM475.8 707.8l4.5 1.5-4.4-1.4-4.5-1.5zM471.3 706.3l4.5 1.5-4.4-1.5-4.5-1.6zM466.7 704.8l4.5 1.5-4.4-1.5-4.5-1.6zM462.2 703.2l4.5 1.6-4.4-1.6-4.5-1.6zM457.6 701.6l4.5 1.6-4.4-1.6-4.6-1.7zM453.1 700l4.6 1.6-4.4-1.7-4.6-1.7zM448.5 698.4l4.6 1.6-4.4-1.7-4.6-1.7zM443.9 696.7l4.6 1.7-4.4-1.8-4.6-1.7zM439.3 695.1l4.6 1.7-4.5-1.9-4.6-1.7zM434.7 693.4l4.6 1.7-4.5-2-4.6-1.7zM430.1 691.7l4.6 1.7-4.5-2-4.6-1.8zM425.5 690l4.6 1.7-4.5-2.1-4.6-1.8zM420.9 688.3l4.6 1.7-4.5-2.2-4.6-1.8zM555.2 727.6l4.3 .6-4.4-1.4-4.3-.5zM550.9 726.9l4.3 .6-4.4-1.3-4.3-.6zM546.5 726.2l4.3 .7-4.4-1.3-4.3-.7zM542.2 725.5l4.4 .8-4.4-1.3-4.4-.7zM537.8 724.6l4.4 .8-4.4-1.2-4.4-.8zM533.4 723.8l4.4 .9-4.4-1.2-4.4-.9zM529.1 722.8l4.4 .9-4.4-1.2-4.4-.9zM524.7 721.8l4.4 1-4.4-1.2-4.4-1zM520.3 720.8l4.4 1-4.4-1.2-4.4-1.1zM515.9 719.7l4.4 1.1-4.4-1.2-4.4-1.1zM511.4 718.5l4.4 1.1-4.4-1.2-4.4-1.2zM507 717.3l4.4 1.2-4.4-1.2-4.4-1.2zM502.6 716.1l4.4 1.2-4.4-1.3-4.4-1.3zM498.1 714.8l4.5 1.3-4.4-1.3-4.5-1.3zM493.6 713.5l4.5 1.3-4.4-1.3-4.5-1.4zM489.2 712.1l4.5 1.4-4.4-1.4-4.5-1.4zM484.7 710.7l4.5 1.4-4.4-1.4-4.5-1.4zM480.2 709.3l4.5 1.4-4.4-1.4-4.5-1.5zM475.7 707.8l4.5 1.5-4.4-1.5-4.5-1.5zM471.1 706.3l4.5 1.5-4.4-1.5-4.5-1.5zM466.6 704.8l4.5 1.5-4.4-1.6-4.5-1.6zM462.1 703.3l4.5 1.5-4.4-1.6-4.5-1.6zM457.5 701.7l4.6 1.6-4.4-1.7-4.6-1.6zM453 700.2l4.6 1.6-4.4-1.7-4.6-1.6zM448.4 698.6l4.6 1.6-4.4-1.8-4.6-1.7zM443.8 697l4.6 1.6-4.5-1.8-4.6-1.7zM439.2 695.3l4.6 1.6-4.5-1.9-4.6-1.7zM434.6 693.7l4.6 1.6-4.5-2-4.6-1.7zM430 692.1l4.6 1.6-4.5-2-4.6-1.7zM425.4 690.5l4.6 1.6-4.5-2.1-4.6-1.7zM559.6 728.9l4.3 .6-4.4-1.4-4.3-.6zM555.2 728.2l4.3 .7-4.4-1.3-4.3-.6zM550.9 727.5l4.3 .7-4.4-1.3-4.3-.7zM546.5 726.7l4.4 .8-4.4-1.3-4.4-.8zM542.2 725.9l4.4 .8-4.4-1.3-4.4-.8zM537.8 725l4.4 .9-4.4-1.2-4.4-.9zM533.4 724.1l4.4 .9-4.4-1.2-4.4-.9zM529 723.1l4.4 1-4.4-1.2-4.4-1zM524.6 722l4.4 1-4.4-1.2-4.4-1zM520.2 720.9l4.4 1.1-4.4-1.2-4.4-1.1zM515.8 719.8l4.4 1.1-4.4-1.3-4.4-1.1zM511.4 718.6l4.4 1.2-4.4-1.3-4.4-1.2zM506.9 717.4l4.4 1.2-4.4-1.3-4.4-1.2zM502.5 716.1l4.5 1.3-4.4-1.3-4.5-1.3zM498 714.9l4.5 1.3-4.4-1.3-4.5-1.3zM493.6 713.5l4.5 1.3-4.4-1.4-4.5-1.4zM489.1 712.2l4.5 1.4-4.4-1.4-4.5-1.4zM484.6 710.8l4.5 1.4-4.4-1.4-4.5-1.4zM480.1 709.3l4.5 1.4-4.4-1.5-4.5-1.5zM475.6 707.9l4.5 1.4-4.4-1.5-4.5-1.5zM471 706.4l4.5 1.5-4.4-1.6-4.5-1.5zM466.5 704.9l4.5 1.5-4.4-1.6-4.5-1.5zM462 703.4l4.5 1.5-4.4-1.6-4.6-1.6zM457.4 701.9l4.6 1.5-4.4-1.7-4.6-1.6zM452.8 700.4l4.6 1.5-4.4-1.7-4.6-1.6zM448.3 698.8l4.6 1.6-4.4-1.8-4.6-1.6zM443.7 697.2l4.6 1.6-4.5-1.8-4.6-1.6zM439.1 695.7l4.6 1.6-4.5-1.9-4.6-1.6zM434.5 694.1l4.6 1.6-4.5-1.9-4.6-1.6zM429.8 692.5l4.6 1.6-4.5-2-4.6-1.6zM563.9 730.2l4.3 .6-4.4-1.4-4.3-.6zM559.6 729.6l4.3 .7-4.4-1.4-4.3-.7zM555.3 728.8l4.3 .7-4.4-1.3-4.3-.7zM550.9 728l4.3 .8-4.4-1.3-4.4-.8zM546.6 727.2l4.4 .8-4.4-1.3-4.4-.8zM542.2 726.3l4.4 .9-4.4-1.3-4.4-.9zM537.8 725.3l4.4 .9-4.4-1.3-4.4-.9zM533.4 724.3l4.4 1-4.4-1.3-4.4-1zM529 723.3l4.4 1-4.4-1.3-4.4-1zM524.6 722.2l4.4 1.1-4.4-1.3-4.4-1.1zM520.2 721.1l4.4 1.1-4.4-1.3-4.4-1.1zM515.8 719.9l4.4 1.2-4.4-1.3-4.4-1.2zM511.3 718.7l4.4 1.2-4.4-1.3-4.4-1.2zM506.9 717.5l4.4 1.2-4.4-1.3-4.5-1.3zM502.4 716.2l4.5 1.3-4.4-1.3-4.5-1.3zM498 714.9l4.5 1.3-4.4-1.4-4.5-1.3zM493.5 713.6l4.5 1.3-4.4-1.4-4.5-1.4zM489 712.2l4.5 1.4-4.4-1.4-4.5-1.4zM484.5 710.9l4.5 1.4-4.4-1.5-4.5-1.4zM480 709.4l4.5 1.4-4.4-1.5-4.5-1.4zM475.5 708l4.5 1.4-4.4-1.5-4.5-1.5zM470.9 706.6l4.5 1.5-4.4-1.6-4.5-1.5zM466.4 705.1l4.5 1.5-4.4-1.6-4.5-1.5zM461.8 703.6l4.6 1.5-4.4-1.7-4.6-1.5zM457.3 702.1l4.6 1.5-4.4-1.7-4.6-1.5zM452.7 700.6l4.6 1.5-4.4-1.8-4.6-1.6zM448.1 699.1l4.6 1.5-4.5-1.8-4.6-1.6zM443.5 697.6l4.6 1.5-4.5-1.8-4.6-1.6zM438.9 696l4.6 1.5-4.5-1.9-4.6-1.6zM434.3 694.5l4.6 1.5-4.5-1.9-4.6-1.6zM568.3 731.6l4.3 .7-4.4-1.4-4.3-.6zM564 730.9l4.3 .7-4.4-1.4-4.3-.7zM559.6 730.1l4.3 .8-4.4-1.3-4.3-.7zM555.3 729.3l4.3 .8-4.4-1.3-4.3-.8zM550.9 728.5l4.4 .9-4.4-1.3-4.4-.8zM546.6 727.5l4.4 .9-4.4-1.3-4.4-.9zM542.2 726.6l4.4 .9-4.4-1.3-4.4-.9zM537.8 725.6l4.4 1-4.4-1.3-4.4-1zM533.4 724.6l4.4 1-4.4-1.3-4.4-1zM529 723.5l4.4 1.1-4.4-1.3-4.4-1.1zM524.6 722.4l4.4 1.1-4.4-1.3-4.4-1.1zM520.2 721.3l4.4 1.1-4.4-1.3-4.4-1.2zM515.7 720.1l4.4 1.2-4.4-1.3-4.4-1.2zM511.3 718.9l4.4 1.2-4.4-1.3-4.4-1.2zM506.8 717.6l4.5 1.2-4.4-1.4-4.5-1.3zM502.4 716.3l4.5 1.3-4.4-1.4-4.5-1.3zM497.9 715l4.5 1.3-4.4-1.4-4.5-1.3zM493.4 713.7l4.5 1.3-4.4-1.4-4.5-1.4zM488.9 712.4l4.5 1.4-4.4-1.5-4.5-1.4zM484.4 711l4.5 1.4-4.4-1.5-4.5-1.4zM479.9 709.6l4.5 1.4-4.4-1.5-4.5-1.4zM475.4 708.2l4.5 1.4-4.4-1.6-4.5-1.5zM470.8 706.7l4.5 1.4-4.4-1.6-4.5-1.5zM466.3 705.3l4.5 1.4-4.4-1.6-4.6-1.5zM461.7 703.8l4.6 1.5-4.4-1.7-4.6-1.5zM457.1 702.4l4.6 1.5-4.4-1.7-4.6-1.5zM452.6 700.9l4.6 1.5-4.4-1.8-4.6-1.5zM448 699.4l4.6 1.5-4.5-1.8-4.6-1.5zM443.4 697.9l4.6 1.5-4.5-1.8-4.6-1.5zM438.8 696.4l4.6 1.5-4.5-1.9-4.6-1.5zM572.6 733l4.3 .7-4.4-1.4-4.3-.7zM568.3 732.3l4.3 .7-4.4-1.4-4.3-.7zM564 731.5l4.3 .8-4.4-1.4-4.3-.8zM559.6 730.6l4.3 .8-4.4-1.3-4.3-.8zM555.3 729.8l4.4 .9-4.4-1.3-4.4-.9zM550.9 728.9l4.4 .9-4.4-1.3-4.4-.9zM546.6 727.9l4.4 1-4.4-1.3-4.4-.9zM542.2 726.9l4.4 1-4.4-1.3-4.4-1zM537.8 725.9l4.4 1-4.4-1.3-4.4-1zM533.4 724.8l4.4 1.1-4.4-1.3-4.4-1.1zM529 723.7l4.4 1.1-4.4-1.3-4.4-1.1zM524.6 722.6l4.4 1.1-4.4-1.3-4.4-1.1zM520.1 721.4l4.4 1.2-4.4-1.3-4.4-1.2zM515.7 720.2l4.4 1.2-4.4-1.4-4.4-1.2zM511.2 719l4.5 1.2-4.4-1.4-4.5-1.2zM506.8 717.8l4.5 1.2-4.4-1.4-4.5-1.3zM502.3 716.5l4.5 1.3-4.4-1.4-4.5-1.3zM497.8 715.2l4.5 1.3-4.4-1.4-4.5-1.3zM493.3 713.9l4.5 1.3-4.4-1.5-4.5-1.4zM488.8 712.5l4.5 1.3-4.4-1.5-4.5-1.4zM484.3 711.2l4.5 1.4-4.4-1.5-4.5-1.4zM479.8 709.8l4.5 1.4-4.4-1.6-4.5-1.4zM475.3 708.4l4.5 1.4-4.4-1.6-4.5-1.4zM470.7 706.9l4.5 1.4-4.4-1.6-4.5-1.4zM466.2 705.5l4.6 1.4-4.4-1.7-4.6-1.5zM461.6 704.1l4.6 1.4-4.4-1.7-4.6-1.5zM457 702.6l4.6 1.5-4.4-1.7-4.6-1.5zM452.4 701.1l4.6 1.5-4.5-1.7-4.6-1.5zM447.8 699.7l4.6 1.5-4.5-1.8-4.6-1.5zM443.2 698.2l4.6 1.5-4.5-1.8-4.6-1.5zM577 734.4l4.3 .7-4.4-1.4-4.3-.7zM572.7 733.6l4.3 .8-4.4-1.4-4.3-.7zM568.3 732.8l4.3 .8-4.4-1.4-4.3-.8zM564 732l4.3 .8-4.4-1.4-4.3-.8zM559.7 731.1l4.3 .9-4.4-1.3-4.4-.9zM555.3 730.2l4.4 .9-4.4-1.3-4.4-.9zM550.9 729.2l4.4 1-4.4-1.3-4.4-1zM546.6 728.2l4.4 1-4.4-1.3-4.4-1zM542.2 727.2l4.4 1-4.4-1.3-4.4-1zM537.8 726.2l4.4 1.1-4.4-1.3-4.4-1.1zM533.4 725.1l4.4 1.1-4.4-1.3-4.4-1.1zM528.9 723.9l4.4 1.1-4.4-1.3-4.4-1.1zM524.5 722.8l4.4 1.1-4.4-1.4-4.4-1.2zM520.1 721.6l4.4 1.2-4.4-1.4-4.4-1.2zM515.6 720.4l4.4 1.2-4.4-1.4-4.5-1.2zM511.2 719.2l4.5 1.2-4.4-1.4-4.5-1.2zM506.7 717.9l4.5 1.3-4.4-1.4-4.5-1.3zM502.2 716.7l4.5 1.3-4.4-1.5-4.5-1.3zM497.7 715.4l4.5 1.3-4.4-1.5-4.5-1.3zM493.2 714l4.5 1.3-4.4-1.5-4.5-1.3zM488.7 712.7l4.5 1.3-4.4-1.5-4.5-1.4zM484.2 711.3l4.5 1.4-4.4-1.5-4.5-1.4zM479.7 710l4.5 1.4-4.4-1.6-4.5-1.4zM475.2 708.6l4.5 1.4-4.4-1.6-4.5-1.4zM470.6 707.2l4.5 1.4-4.4-1.6-4.6-1.4zM466 705.7l4.6 1.4-4.4-1.6-4.6-1.4zM461.5 704.3l4.6 1.4-4.4-1.7-4.6-1.5zM456.9 702.9l4.6 1.4-4.4-1.7-4.6-1.5zM452.3 701.4l4.6 1.5-4.5-1.7-4.6-1.5zM447.7 699.9l4.6 1.5-4.5-1.7-4.6-1.5zM581.3 735.8l4.3 .8-4.4-1.4-4.3-.7zM577 735l4.3 .8-4.4-1.4-4.3-.8zM572.7 734.2l4.3 .8-4.4-1.4-4.3-.8zM568.4 733.3l4.3 .9-4.4-1.4-4.3-.8zM564 732.4l4.3 .9-4.4-1.4-4.3-.9zM559.7 731.5l4.4 .9-4.4-1.3-4.4-.9zM555.3 730.6l4.4 1-4.4-1.3-4.4-1zM550.9 729.6l4.4 1-4.4-1.3-4.4-1zM546.5 728.6l4.4 1-4.4-1.3-4.4-1zM542.2 727.5l4.4 1-4.4-1.3-4.4-1.1zM537.8 726.4l4.4 1.1-4.4-1.4-4.4-1.1zM533.3 725.3l4.4 1.1-4.4-1.4-4.4-1.1zM528.9 724.2l4.4 1.1-4.4-1.4-4.4-1.1zM524.5 723l4.4 1.2-4.4-1.4-4.4-1.2zM520 721.8l4.4 1.2-4.4-1.4-4.4-1.2zM515.6 720.6l4.5 1.2-4.4-1.4-4.5-1.2zM511.1 719.4l4.5 1.2-4.4-1.4-4.5-1.3zM506.6 718.1l4.5 1.3-4.4-1.5-4.5-1.3zM502.2 716.9l4.5 1.3-4.4-1.5-4.5-1.3zM497.7 715.6l4.5 1.3-4.4-1.5-4.5-1.3zM493.2 714.2l4.5 1.3-4.4-1.5-4.5-1.3zM488.6 712.9l4.5 1.3-4.4-1.5-4.5-1.4zM484.1 711.5l4.5 1.4-4.4-1.6-4.5-1.4zM479.6 710.2l4.5 1.4-4.4-1.6-4.5-1.4zM475 708.8l4.5 1.4-4.4-1.6-4.5-1.4zM470.5 707.4l4.6 1.4-4.4-1.6-4.6-1.4zM465.9 705.9l4.6 1.4-4.4-1.6-4.6-1.4zM461.3 704.5l4.6 1.4-4.4-1.7-4.6-1.4zM456.8 703.1l4.6 1.4-4.5-1.7-4.6-1.5zM452.2 701.6l4.6 1.5-4.5-1.7-4.6-1.5zM585.7 737.2l4.3 .8-4.4-1.4-4.3-.8zM581.4 736.4l4.3 .8-4.4-1.4-4.3-.8zM577.1 735.6l4.3 .8-4.4-1.4-4.3-.8zM572.7 734.7l4.3 .9-4.4-1.4-4.3-.9zM568.4 733.8l4.3 .9-4.4-1.4-4.3-.9zM564 732.9l4.4 .9-4.4-1.4-4.4-.9zM559.7 731.9l4.4 1-4.4-1.4-4.4-1zM555.3 730.9l4.4 1-4.4-1.4-4.4-1zM550.9 729.9l4.4 1-4.4-1.4-4.4-1zM546.5 728.9l4.4 1-4.4-1.4-4.4-1zM542.1 727.8l4.4 1.1-4.4-1.4-4.4-1.1zM537.7 726.7l4.4 1.1-4.4-1.4-4.4-1.1zM533.3 725.6l4.4 1.1-4.4-1.4-4.4-1.1zM528.9 724.4l4.4 1.1-4.4-1.4-4.4-1.2zM524.4 723.3l4.4 1.2-4.4-1.4-4.4-1.2zM520 722.1l4.5 1.2-4.4-1.4-4.5-1.2zM515.5 720.9l4.5 1.2-4.4-1.4-4.5-1.2zM511.1 719.6l4.5 1.2-4.4-1.5-4.5-1.3zM506.6 718.4l4.5 1.3-4.4-1.5-4.5-1.3zM502.1 717.1l4.5 1.3-4.4-1.5-4.5-1.3zM497.6 715.8l4.5 1.3-4.4-1.5-4.5-1.3zM493.1 714.4l4.5 1.3-4.4-1.5-4.5-1.3zM488.6 713.1l4.5 1.3-4.4-1.5-4.5-1.4zM484 711.7l4.5 1.4-4.4-1.6-4.5-1.4zM479.5 710.4l4.5 1.4-4.4-1.6-4.5-1.4zM474.9 709l4.6 1.4-4.4-1.6-4.6-1.4zM470.4 707.6l4.6 1.4-4.4-1.6-4.6-1.4zM465.8 706.1l4.6 1.4-4.4-1.6-4.6-1.4zM461.2 704.7l4.6 1.4-4.4-1.6-4.6-1.4zM456.6 703.2l4.6 1.5-4.5-1.6-4.6-1.5zM590.1 738.7l4.3 .8-4.3-1.5-4.3-.8zM585.7 737.8l4.3 .8-4.4-1.4-4.3-.8zM581.4 737l4.3 .8-4.4-1.4-4.3-.8zM577.1 736.1l4.3 .9-4.4-1.4-4.3-.9zM572.8 735.2l4.3 .9-4.4-1.4-4.3-.9zM568.4 734.3l4.3 .9-4.4-1.4-4.4-.9zM564.1 733.3l4.4 1-4.4-1.4-4.4-1zM559.7 732.3l4.4 1-4.4-1.4-4.4-1zM555.3 731.3l4.4 1-4.4-1.4-4.4-1zM550.9 730.3l4.4 1-4.4-1.4-4.4-1zM546.5 729.2l4.4 1.1-4.4-1.4-4.4-1.1zM542.1 728.1l4.4 1.1-4.4-1.4-4.4-1.1zM537.7 727l4.4 1.1-4.4-1.4-4.4-1.1zM533.3 725.9l4.4 1.1-4.4-1.4-4.4-1.1zM528.8 724.7l4.4 1.2-4.4-1.4-4.4-1.2zM524.4 723.5l4.4 1.2-4.4-1.4-4.5-1.2zM519.9 722.3l4.5 1.2-4.4-1.5-4.5-1.2zM515.5 721.1l4.5 1.2-4.4-1.5-4.5-1.2zM511 719.8l4.5 1.2-4.4-1.5-4.5-1.3zM506.5 718.6l4.5 1.3-4.4-1.5-4.5-1.3zM502 717.3l4.5 1.3-4.4-1.5-4.5-1.3zM497.5 716l4.5 1.3-4.4-1.5-4.5-1.3zM493 714.6l4.5 1.3-4.4-1.5-4.5-1.3zM488.5 713.3l4.5 1.3-4.4-1.5-4.5-1.4zM483.9 711.9l4.5 1.4-4.4-1.6-4.5-1.4zM479.4 710.5l4.5 1.4-4.4-1.6-4.6-1.4zM474.8 709.1l4.6 1.4-4.4-1.6-4.6-1.4zM470.2 707.7l4.6 1.4-4.4-1.6-4.6-1.4zM465.7 706.3l4.6 1.4-4.4-1.6-4.6-1.4zM461.1 704.8l4.6 1.5-4.5-1.6-4.6-1.5zM594.4 740.1l4.3 .8-4.3-1.5-4.3-.8zM590.1 739.3l4.3 .8-4.4-1.4-4.3-.8zM585.8 738.4l4.3 .9-4.4-1.4-4.3-.8zM581.5 737.5l4.3 .9-4.4-1.4-4.3-.9zM577.1 736.6l4.3 .9-4.4-1.4-4.3-.9zM572.8 735.7l4.3 .9-4.4-1.4-4.3-.9zM568.4 734.7l4.4 1-4.4-1.4-4.4-1zM564.1 733.7l4.4 1-4.4-1.4-4.4-1zM559.7 732.7l4.4 1-4.4-1.4-4.4-1zM555.3 731.7l4.4 1-4.4-1.4-4.4-1zM550.9 730.6l4.4 1.1-4.4-1.4-4.4-1.1zM546.5 729.5l4.4 1.1-4.4-1.4-4.4-1.1zM542.1 728.4l4.4 1.1-4.4-1.4-4.4-1.1zM537.7 727.3l4.4 1.1-4.4-1.4-4.4-1.1zM533.2 726.2l4.4 1.1-4.4-1.4-4.4-1.2zM528.8 725l4.4 1.2-4.4-1.4-4.4-1.2zM524.3 723.8l4.5 1.2-4.4-1.5-4.5-1.2zM519.9 722.6l4.5 1.2-4.4-1.5-4.5-1.2zM515.4 721.3l4.5 1.2-4.4-1.5-4.5-1.2zM510.9 720.1l4.5 1.3-4.4-1.5-4.5-1.3zM506.4 718.8l4.5 1.3-4.4-1.5-4.5-1.3zM501.9 717.5l4.5 1.3-4.4-1.5-4.5-1.3zM497.4 716.2l4.5 1.3-4.4-1.5-4.5-1.3zM492.9 714.8l4.5 1.3-4.4-1.5-4.5-1.3zM488.4 713.5l4.5 1.4-4.4-1.5-4.5-1.4zM483.8 712.1l4.5 1.4-4.4-1.5-4.5-1.4zM479.2 710.7l4.6 1.4-4.4-1.6-4.6-1.4zM474.7 709.3l4.6 1.4-4.4-1.6-4.6-1.4zM470.1 707.8l4.6 1.4-4.4-1.6-4.6-1.4zM465.5 706.4l4.6 1.5-4.4-1.6-4.6-1.5zM598.8 741.5l4.3 .8-4.3-1.5-4.3-.8zM594.5 740.7l4.3 .8-4.4-1.5-4.3-.8zM590.1 739.8l4.3 .9-4.4-1.4-4.3-.9zM585.8 738.9l4.3 .9-4.4-1.4-4.3-.9zM581.5 738l4.3 .9-4.4-1.4-4.3-.9zM577.2 737.1l4.3 .9-4.4-1.4-4.3-.9zM572.8 736.1l4.4 1-4.4-1.4-4.4-1zM568.4 735.1l4.4 1-4.4-1.4-4.4-1zM564.1 734.1l4.4 1-4.4-1.4-4.4-1zM559.7 733.1l4.4 1-4.4-1.4-4.4-1zM555.3 732.1l4.4 1.1-4.4-1.4-4.4-1.1zM550.9 731l4.4 1.1-4.4-1.4-4.4-1.1zM546.5 729.9l4.4 1.1-4.4-1.4-4.4-1.1zM542.1 728.8l4.4 1.1-4.4-1.4-4.4-1.1zM537.6 727.6l4.4 1.1-4.4-1.4-4.4-1.1zM533.2 726.5l4.4 1.2-4.4-1.5-4.4-1.2zM528.8 725.3l4.5 1.2-4.4-1.5-4.5-1.2zM524.3 724.1l4.5 1.2-4.4-1.5-4.5-1.2zM519.8 722.8l4.5 1.2-4.4-1.5-4.5-1.2zM515.3 721.6l4.5 1.3-4.4-1.5-4.5-1.3zM510.9 720.3l4.5 1.3-4.4-1.5-4.5-1.3zM506.3 719l4.5 1.3-4.4-1.5-4.5-1.3zM501.8 717.7l4.5 1.3-4.4-1.5-4.5-1.3zM497.3 716.4l4.5 1.3-4.4-1.5-4.5-1.3zM492.8 715l4.5 1.4-4.4-1.5-4.5-1.4zM488.2 713.6l4.5 1.4-4.4-1.5-4.5-1.4zM483.7 712.2l4.6 1.4-4.4-1.5-4.6-1.4zM479.1 710.8l4.6 1.4-4.4-1.5-4.6-1.4zM474.6 709.4l4.6 1.4-4.4-1.5-4.6-1.4zM470 707.9l4.6 1.5-4.4-1.5-4.6-1.5zM603.1 743l4.3 .8-4.3-1.5-4.3-.8zM598.8 742.2l4.3 .9-4.4-1.5-4.3-.8zM594.5 741.3l4.3 .9-4.4-1.5-4.3-.9zM590.2 740.4l4.3 .9-4.4-1.4-4.3-.9zM585.9 739.5l4.3 .9-4.4-1.4-4.3-.9zM581.5 738.5l4.3 .9-4.4-1.4-4.3-.9zM577.2 737.6l4.3 1-4.4-1.4-4.4-1zM572.8 736.6l4.4 1-4.4-1.4-4.4-1zM568.5 735.6l4.4 1-4.4-1.4-4.4-1zM564.1 734.5l4.4 1-4.4-1.4-4.4-1zM559.7 733.5l4.4 1-4.4-1.4-4.4-1.1zM555.3 732.4l4.4 1.1-4.4-1.4-4.4-1.1zM550.9 731.3l4.4 1.1-4.4-1.4-4.4-1.1zM546.5 730.2l4.4 1.1-4.4-1.5-4.4-1.1zM542 729.1l4.4 1.1-4.4-1.5-4.4-1.1zM537.6 727.9l4.4 1.2-4.4-1.5-4.4-1.2zM533.2 726.7l4.4 1.2-4.4-1.5-4.5-1.2zM528.7 725.5l4.5 1.2-4.4-1.5-4.5-1.2zM524.2 724.3l4.5 1.2-4.4-1.5-4.5-1.2zM519.8 723.1l4.5 1.2-4.4-1.5-4.5-1.3zM515.3 721.8l4.5 1.3-4.4-1.5-4.5-1.3zM510.8 720.5l4.5 1.3-4.4-1.5-4.5-1.3zM506.3 719.2l4.5 1.3-4.4-1.5-4.5-1.3zM501.7 717.9l4.5 1.3-4.4-1.5-4.5-1.3zM497.2 716.5l4.5 1.4-4.4-1.5-4.5-1.4zM492.7 715.1l4.5 1.4-4.4-1.5-4.5-1.4zM488.1 713.7l4.5 1.4-4.4-1.5-4.6-1.4zM483.6 712.3l4.6 1.4-4.4-1.5-4.6-1.4zM479 710.9l4.6 1.4-4.4-1.5-4.6-1.4zM474.4 709.4l4.6 1.5-4.4-1.5-4.6-1.5zM607.5 744.5l4.3 .8-4.3-1.5-4.3-.8zM603.2 743.6l4.3 .9-4.4-1.5-4.3-.9zM598.9 742.7l4.3 .9-4.4-1.5-4.3-.9zM594.6 741.8l4.3 .9-4.4-1.5-4.3-.9zM590.2 740.9l4.3 .9-4.4-1.5-4.3-.9zM585.9 740l4.3 .9-4.4-1.5-4.3-.9zM581.6 739l4.3 1-4.4-1.5-4.3-1zM577.2 738l4.4 1-4.4-1.5-4.4-1zM572.8 737l4.4 1-4.4-1.5-4.4-1zM568.5 736l4.4 1-4.4-1.5-4.4-1zM564.1 735l4.4 1-4.4-1.5-4.4-1zM559.7 733.9l4.4 1.1-4.4-1.5-4.4-1.1zM555.3 732.8l4.4 1.1-4.4-1.5-4.4-1.1zM550.9 731.7l4.4 1.1-4.4-1.5-4.4-1.1zM546.4 730.6l4.4 1.1-4.4-1.5-4.4-1.1zM542 729.4l4.4 1.2-4.4-1.5-4.4-1.2zM537.6 728.2l4.4 1.2-4.4-1.5-4.4-1.2zM533.1 727l4.5 1.2-4.4-1.5-4.5-1.2zM528.7 725.8l4.5 1.2-4.4-1.5-4.5-1.2zM524.2 724.6l4.5 1.2-4.4-1.5-4.5-1.2zM519.7 723.3l4.5 1.3-4.4-1.5-4.5-1.3zM515.2 722l4.5 1.3-4.4-1.5-4.5-1.3zM510.7 720.7l4.5 1.3-4.4-1.5-4.5-1.3zM506.2 719.4l4.5 1.3-4.4-1.5-4.5-1.3zM501.7 718l4.5 1.4-4.4-1.5-4.5-1.4zM497.1 716.6l4.5 1.4-4.4-1.5-4.5-1.4zM492.6 715.2l4.5 1.4-4.4-1.5-4.5-1.4zM488 713.8l4.6 1.4-4.4-1.5-4.6-1.4zM483.5 712.4l4.6 1.4-4.4-1.5-4.6-1.4zM478.9 710.9l4.6 1.5-4.4-1.5-4.6-1.5zM611.8 745.9l4.3 .8-4.3-1.5-4.3-.8zM607.5 745.1l4.3 .9-4.4-1.5-4.3-.9zM603.2 744.2l4.3 .9-4.4-1.5-4.3-.9zM598.9 743.3l4.3 .9-4.4-1.5-4.3-.9zM594.6 742.4l4.3 .9-4.4-1.5-4.3-.9zM590.3 741.5l4.3 .9-4.4-1.5-4.3-.9zM585.9 740.5l4.3 1-4.4-1.5-4.3-1zM581.6 739.5l4.3 1-4.4-1.5-4.4-1zM577.2 738.5l4.4 1-4.4-1.5-4.4-1zM572.8 737.5l4.4 1-4.4-1.5-4.4-1zM568.5 736.4l4.4 1-4.4-1.5-4.4-1zM564.1 735.4l4.4 1.1-4.4-1.5-4.4-1.1zM559.7 734.3l4.4 1.1-4.4-1.5-4.4-1.1zM555.3 733.2l4.4 1.1-4.4-1.5-4.4-1.1zM550.8 732l4.4 1.1-4.4-1.5-4.4-1.1zM546.4 730.9l4.4 1.2-4.4-1.5-4.4-1.2zM542 729.7l4.4 1.2-4.4-1.5-4.4-1.2zM537.5 728.5l4.4 1.2-4.4-1.5-4.5-1.2zM533.1 727.3l4.5 1.2-4.4-1.5-4.5-1.2zM528.6 726l4.5 1.2-4.4-1.5-4.5-1.2zM524.1 724.8l4.5 1.3-4.4-1.5-4.5-1.3zM519.6 723.5l4.5 1.3-4.4-1.5-4.5-1.3zM515.1 722.2l4.5 1.3-4.4-1.5-4.5-1.3zM510.6 720.9l4.5 1.3-4.4-1.5-4.5-1.3zM506.1 719.5l4.5 1.4-4.4-1.5-4.5-1.4zM501.6 718.1l4.5 1.4-4.4-1.5-4.5-1.4zM497 716.7l4.5 1.4-4.4-1.5-4.5-1.4zM492.5 715.3l4.6 1.4-4.4-1.5-4.6-1.4zM487.9 713.9l4.6 1.4-4.4-1.5-4.6-1.4zM483.3 712.4l4.6 1.5-4.4-1.5-4.6-1.5zM616.2 747.4l4.3 .8-4.3-1.5-4.3-.8zM611.9 746.6l4.3 .9-4.4-1.5-4.3-.9zM607.6 745.7l4.3 .9-4.4-1.5-4.3-.9zM603.3 744.8l4.3 .9-4.4-1.5-4.3-.9zM599 743.9l4.3 .9-4.4-1.5-4.3-.9zM594.6 742.9l4.3 .9-4.4-1.5-4.3-.9zM590.3 742l4.3 1-4.4-1.5-4.3-1zM585.9 741l4.3 1-4.4-1.5-4.3-1zM581.6 740l4.4 1-4.4-1.5-4.4-1zM577.2 739l4.4 1-4.4-1.5-4.4-1zM572.9 737.9l4.4 1-4.4-1.5-4.4-1zM568.5 736.9l4.4 1.1-4.4-1.5-4.4-1.1zM564.1 735.8l4.4 1.1-4.4-1.5-4.4-1.1zM559.7 734.7l4.4 1.1-4.4-1.5-4.4-1.1zM555.2 733.5l4.4 1.1-4.4-1.5-4.4-1.1zM550.8 732.4l4.4 1.2-4.4-1.5-4.4-1.2zM546.4 731.2l4.4 1.2-4.4-1.5-4.4-1.2zM541.9 730l4.4 1.2-4.4-1.5-4.4-1.2zM537.5 728.8l4.5 1.2-4.4-1.5-4.5-1.2zM533 727.5l4.5 1.2-4.4-1.5-4.5-1.2zM528.5 726.3l4.5 1.3-4.4-1.5-4.5-1.3zM524 725l4.5 1.3-4.4-1.5-4.5-1.3zM519.6 723.7l4.5 1.3-4.4-1.5-4.5-1.3zM515 722.3l4.5 1.3-4.4-1.5-4.5-1.3zM510.5 721l4.5 1.3-4.4-1.5-4.5-1.4zM506 719.6l4.5 1.4-4.4-1.5-4.5-1.4zM501.5 718.2l4.5 1.4-4.4-1.5-4.5-1.4zM496.9 716.8l4.5 1.4-4.4-1.5-4.6-1.4zM492.4 715.4l4.6 1.4-4.4-1.5-4.6-1.4zM487.8 713.9l4.6 1.5-4.4-1.5-4.6-1.5zM620.5 748.9l4.3 .8-4.3-1.5-4.3-.8zM616.2 748.1l4.3 .8-4.3-1.5-4.3-.9zM611.9 747.2l4.3 .9-4.4-1.5-4.3-.9zM607.6 746.3l4.3 .9-4.4-1.5-4.3-.9zM603.3 745.4l4.3 .9-4.4-1.5-4.3-.9zM599 744.5l4.3 .9-4.4-1.5-4.3-.9zM594.7 743.5l4.3 1-4.4-1.5-4.3-1zM590.3 742.5l4.3 1-4.4-1.5-4.3-1zM586 741.5l4.4 1-4.4-1.5-4.4-1zM581.6 740.5l4.4 1-4.4-1.5-4.4-1zM577.2 739.4l4.4 1.1-4.4-1.5-4.4-1zM572.9 738.4l4.4 1.1-4.4-1.5-4.4-1.1zM568.5 737.3l4.4 1.1-4.4-1.5-4.4-1.1zM564.1 736.1l4.4 1.1-4.4-1.5-4.4-1.1zM559.6 735l4.4 1.1-4.4-1.5-4.4-1.1zM555.2 733.8l4.4 1.2-4.4-1.5-4.4-1.2zM550.8 732.7l4.4 1.2-4.4-1.5-4.4-1.2zM546.3 731.5l4.4 1.2-4.4-1.5-4.4-1.2zM541.9 730.2l4.5 1.2-4.4-1.5-4.5-1.2zM537.4 729l4.5 1.2-4.4-1.5-4.5-1.2zM533 727.7l4.5 1.3-4.4-1.5-4.5-1.3zM528.5 726.4l4.5 1.3-4.4-1.5-4.5-1.3zM524 725.1l4.5 1.3-4.4-1.5-4.5-1.3zM519.5 723.8l4.5 1.3-4.4-1.5-4.5-1.3zM515 722.5l4.5 1.3-4.4-1.5-4.5-1.3zM510.4 721.1l4.5 1.4-4.4-1.5-4.5-1.4zM505.9 719.7l4.5 1.4-4.4-1.5-4.5-1.4zM501.4 718.3l4.5 1.4-4.4-1.5-4.5-1.4zM496.8 716.9l4.6 1.4-4.4-1.5-4.6-1.4zM492.2 715.4l4.6 1.4-4.4-1.5-4.6-1.5zM624.9 750.4l4.3 .8-4.3-1.5-4.3-.8zM620.6 749.6l4.3 .8-4.3-1.5-4.3-.8zM616.3 748.7l4.3 .9-4.4-1.5-4.3-.9zM612 747.8l4.3 .9-4.4-1.5-4.3-.9zM607.7 746.9l4.3 .9-4.4-1.5-4.3-.9zM603.4 746l4.3 .9-4.4-1.5-4.3-.9zM599 745l4.3 1-4.4-1.5-4.3-1zM594.7 744l4.3 1-4.4-1.5-4.3-1zM590.4 743l4.3 1-4.4-1.5-4.4-1zM586 742l4.4 1-4.4-1.5-4.4-1zM581.6 740.9l4.4 1.1-4.4-1.5-4.4-1.1zM577.2 739.9l4.4 1.1-4.4-1.5-4.4-1.1zM572.9 738.8l4.4 1.1-4.4-1.5-4.4-1.1zM568.5 737.6l4.4 1.1-4.4-1.5-4.4-1.1zM564 736.5l4.4 1.1-4.4-1.5-4.4-1.1zM559.6 735.3l4.4 1.2-4.4-1.5-4.4-1.2zM555.2 734.1l4.4 1.2-4.4-1.5-4.4-1.2zM550.8 732.9l4.4 1.2-4.4-1.5-4.4-1.2zM546.3 731.7l4.4 1.2-4.4-1.5-4.5-1.2zM541.9 730.5l4.5 1.2-4.4-1.5-4.5-1.2zM537.4 729.2l4.5 1.3-4.4-1.5-4.5-1.3zM532.9 727.9l4.5 1.3-4.4-1.5-4.5-1.3zM528.4 726.6l4.5 1.3-4.4-1.5-4.5-1.3zM523.9 725.3l4.5 1.3-4.4-1.5-4.5-1.3zM519.4 723.9l4.5 1.3-4.4-1.5-4.5-1.3zM514.9 722.6l4.5 1.4-4.4-1.5-4.5-1.4zM510.3 721.2l4.5 1.4-4.4-1.5-4.5-1.4zM505.8 719.8l4.5 1.4-4.4-1.5-4.5-1.4zM501.2 718.4l4.6 1.4-4.4-1.5-4.6-1.4zM496.7 717l4.6 1.4-4.4-1.5-4.6-1.4zM629.2 751.9l4.3 .8-4.3-1.5-4.3-.8zM624.9 751.1l4.3 .8-4.3-1.5-4.3-.8zM620.6 750.2l4.3 .8-4.4-1.5-4.3-.9zM616.4 749.4l4.3 .9-4.4-1.5-4.3-.9zM612 748.4l4.3 .9-4.4-1.5-4.3-.9zM607.7 747.5l4.3 .9-4.4-1.5-4.3-.9zM603.4 746.6l4.3 1-4.4-1.5-4.3-1zM599.1 745.6l4.3 1-4.4-1.5-4.3-1zM594.7 744.6l4.3 1-4.4-1.5-4.3-1zM590.4 743.5l4.4 1-4.4-1.5-4.4-1zM586 742.5l4.4 1.1-4.4-1.5-4.4-1.1zM581.6 741.4l4.4 1.1-4.4-1.5-4.4-1.1zM577.2 740.3l4.4 1.1-4.4-1.5-4.4-1.1zM572.9 739.2l4.4 1.1-4.4-1.5-4.4-1.1zM568.4 738l4.4 1.2-4.4-1.5-4.4-1.1zM564 736.8l4.4 1.2-4.4-1.5-4.4-1.2zM559.6 735.6l4.4 1.2-4.4-1.5-4.4-1.2zM555.2 734.4l4.4 1.2-4.4-1.5-4.4-1.2zM550.7 733.2l4.4 1.2-4.4-1.5-4.4-1.2zM546.3 731.9l4.5 1.3-4.4-1.5-4.5-1.2zM541.8 730.7l4.5 1.3-4.4-1.5-4.5-1.3zM537.3 729.4l4.5 1.3-4.4-1.5-4.5-1.3zM532.8 728.1l4.5 1.3-4.4-1.5-4.5-1.3zM528.3 726.8l4.5 1.3-4.4-1.5-4.5-1.3zM523.8 725.4l4.5 1.3-4.4-1.5-4.5-1.3zM519.3 724.1l4.5 1.3-4.4-1.5-4.5-1.4zM514.8 722.7l4.5 1.4-4.4-1.5-4.5-1.4zM510.2 721.3l4.5 1.4-4.4-1.5-4.5-1.4zM505.7 720l4.5 1.4-4.4-1.5-4.6-1.4zM501.1 718.6l4.6 1.4-4.4-1.6-4.6-1.4zM633.6 753.4l4.3 .8-4.3-1.5-4.3-.8zM629.3 752.6l4.3 .8-4.3-1.5-4.3-.8zM625 751.8l4.3 .8-4.4-1.5-4.3-.8zM620.7 750.9l4.3 .9-4.4-1.5-4.3-.9zM616.4 750l4.3 .9-4.4-1.5-4.3-.9zM612.1 749.1l4.3 .9-4.4-1.5-4.3-.9zM607.8 748.1l4.3 1-4.4-1.6-4.3-1zM603.4 747.1l4.3 1-4.4-1.6-4.3-1zM599.1 746.1l4.3 1-4.4-1.6-4.3-1zM594.8 745.1l4.4 1-4.4-1.6-4.4-1zM590.4 744l4.4 1.1-4.4-1.5-4.4-1.1zM586 742.9l4.4 1.1-4.4-1.5-4.4-1.1zM581.6 741.8l4.4 1.1-4.4-1.5-4.4-1.1zM577.3 740.7l4.4 1.1-4.4-1.5-4.4-1.1zM572.8 739.5l4.4 1.2-4.4-1.5-4.4-1.2zM568.4 738.3l4.4 1.2-4.4-1.5-4.4-1.2zM564 737.1l4.4 1.2-4.4-1.5-4.4-1.2zM559.6 735.9l4.4 1.2-4.4-1.5-4.4-1.2zM555.1 734.7l4.4 1.2-4.4-1.5-4.4-1.2zM550.7 733.4l4.5 1.3-4.4-1.5-4.5-1.3zM546.2 732.1l4.5 1.3-4.4-1.5-4.5-1.3zM541.7 730.8l4.5 1.3-4.4-1.5-4.5-1.3zM537.3 729.5l4.5 1.3-4.4-1.5-4.5-1.3zM532.8 728.2l4.5 1.3-4.4-1.5-4.5-1.3zM528.3 726.9l4.5 1.3-4.4-1.5-4.5-1.3zM523.8 725.6l4.5 1.3-4.4-1.5-4.5-1.3zM519.2 724.2l4.5 1.3-4.4-1.5-4.5-1.4zM514.7 722.9l4.5 1.3-4.4-1.5-4.5-1.4zM510.1 721.5l4.5 1.4-4.4-1.6-4.5-1.4zM505.6 720.2l4.6 1.4-4.4-1.6-4.6-1.4zM637.9 754.9l4.3 .7-4.3-1.5-4.3-.8zM633.6 754.1l4.3 .8-4.3-1.5-4.3-.8zM629.4 753.3l4.3 .8-4.4-1.5-4.3-.8zM625.1 752.4l4.3 .8-4.4-1.5-4.3-.9zM620.8 751.6l4.3 .9-4.4-1.6-4.3-.9zM616.5 750.6l4.3 .9-4.4-1.6-4.3-.9zM612.1 749.7l4.3 1-4.4-1.6-4.3-1zM607.8 748.7l4.3 1-4.4-1.6-4.3-1zM603.5 747.7l4.3 1-4.4-1.6-4.3-1zM599.1 746.6l4.3 1-4.4-1.6-4.4-1zM594.8 745.6l4.4 1.1-4.4-1.6-4.4-1.1zM590.4 744.5l4.4 1.1-4.4-1.6-4.4-1.1zM586 743.3l4.4 1.1-4.4-1.5-4.4-1.1zM581.6 742.2l4.4 1.2-4.4-1.5-4.4-1.1zM577.2 741l4.4 1.2-4.4-1.5-4.4-1.2zM572.8 739.8l4.4 1.2-4.4-1.5-4.4-1.2zM568.4 738.6l4.4 1.2-4.4-1.5-4.4-1.2zM564 737.4l4.4 1.2-4.4-1.5-4.4-1.2zM559.6 736.1l4.4 1.2-4.4-1.5-4.4-1.2zM555.1 734.9l4.4 1.3-4.4-1.5-4.5-1.3zM550.6 733.6l4.5 1.3-4.4-1.5-4.5-1.3zM546.2 732.3l4.5 1.3-4.4-1.5-4.5-1.3zM541.7 731l4.5 1.3-4.4-1.5-4.5-1.3zM537.2 729.7l4.5 1.3-4.4-1.5-4.5-1.3zM532.7 728.4l4.5 1.3-4.4-1.5-4.5-1.3zM528.2 727.1l4.5 1.3-4.4-1.5-4.5-1.3zM523.7 725.8l4.5 1.3-4.4-1.5-4.5-1.3zM519.1 724.5l4.5 1.3-4.4-1.5-4.5-1.3zM514.6 723.2l4.5 1.3-4.4-1.6-4.5-1.4zM510 721.9l4.6 1.3-4.5-1.6-4.6-1.4zM642.3 756.4l4.3 .7-4.3-1.5-4.3-.7zM638 755.6l4.3 .7-4.3-1.5-4.3-.8zM633.7 754.8l4.3 .8-4.4-1.5-4.3-.8zM629.4 754l4.3 .8-4.4-1.5-4.3-.8zM625.1 753.1l4.3 .9-4.4-1.6-4.3-.9zM620.8 752.2l4.3 .9-4.4-1.6-4.3-.9zM616.5 751.3l4.3 .9-4.4-1.6-4.3-1zM612.2 750.3l4.3 1-4.4-1.6-4.3-1zM607.9 749.3l4.3 1-4.4-1.6-4.3-1zM603.5 748.2l4.3 1.1-4.4-1.6-4.3-1zM599.2 747.1l4.4 1.1-4.4-1.6-4.4-1.1zM594.8 746l4.4 1.1-4.4-1.6-4.4-1.1zM590.4 744.9l4.4 1.1-4.4-1.6-4.4-1.1zM586 743.7l4.4 1.2-4.4-1.5-4.4-1.2zM581.6 742.5l4.4 1.2-4.4-1.5-4.4-1.2zM577.2 741.3l4.4 1.2-4.4-1.5-4.4-1.2zM572.8 740.1l4.4 1.2-4.4-1.5-4.4-1.2zM568.4 738.9l4.4 1.2-4.4-1.5-4.4-1.2zM564 737.6l4.4 1.3-4.4-1.5-4.4-1.2zM559.5 736.3l4.4 1.3-4.4-1.5-4.4-1.3zM555.1 735.1l4.5 1.3-4.4-1.5-4.5-1.3zM550.6 733.8l4.5 1.3-4.4-1.5-4.5-1.3zM546.1 732.5l4.5 1.3-4.4-1.5-4.5-1.3zM541.6 731.2l4.5 1.3-4.4-1.5-4.5-1.3zM537.1 729.9l4.5 1.3-4.4-1.5-4.5-1.3zM532.6 728.6l4.5 1.3-4.4-1.5-4.5-1.3zM528.1 727.4l4.5 1.3-4.4-1.5-4.5-1.3zM523.6 726.1l4.5 1.3-4.4-1.6-4.5-1.3zM519 724.8l4.5 1.3-4.4-1.6-4.5-1.3zM514.5 723.6l4.5 1.2-4.5-1.7-4.6-1.3zM646.6 757.8l4.3 .6-4.3-1.4-4.3-.7zM642.3 757.1l4.3 .7-4.3-1.5-4.3-.7zM638.1 756.4l4.3 .8-4.3-1.5-4.3-.8zM633.8 755.6l4.3 .8-4.4-1.6-4.3-.8zM629.5 754.7l4.3 .9-4.4-1.6-4.3-.9zM625.2 753.8l4.3 .9-4.4-1.6-4.3-.9zM620.9 752.9l4.3 .9-4.4-1.6-4.3-.9zM616.6 751.9l4.3 1-4.4-1.6-4.3-1zM612.2 750.9l4.3 1-4.4-1.6-4.3-1zM607.9 749.8l4.3 1.1-4.4-1.6-4.3-1.1zM603.5 748.7l4.3 1.1-4.4-1.6-4.4-1.1zM599.2 747.6l4.4 1.1-4.4-1.6-4.4-1.1zM594.8 746.4l4.4 1.2-4.4-1.6-4.4-1.1zM590.4 745.2l4.4 1.2-4.4-1.5-4.4-1.2zM586 744l4.4 1.2-4.4-1.5-4.4-1.2zM581.6 742.8l4.4 1.2-4.4-1.5-4.4-1.2zM577.2 741.6l4.4 1.2-4.4-1.5-4.4-1.2zM572.8 740.3l4.4 1.3-4.4-1.5-4.4-1.2zM568.4 739.1l4.4 1.3-4.4-1.5-4.4-1.3zM563.9 737.8l4.4 1.3-4.4-1.5-4.4-1.3zM559.5 736.5l4.5 1.3-4.4-1.5-4.5-1.3zM555 735.2l4.5 1.3-4.4-1.5-4.5-1.3zM550.6 734l4.5 1.3-4.4-1.5-4.5-1.3zM546.1 732.7l4.5 1.3-4.4-1.5-4.5-1.3zM541.6 731.4l4.5 1.3-4.4-1.5-4.5-1.3zM537.1 730.2l4.5 1.2-4.4-1.5-4.5-1.3zM532.6 729l4.5 1.2-4.4-1.6-4.5-1.3zM528 727.8l4.5 1.2-4.4-1.6-4.5-1.3zM523.5 726.6l4.5 1.2-4.4-1.7-4.5-1.3zM519 725.4l4.5 1.2-4.5-1.7-4.5-1.2zM651 759.3l4.3 .6-4.3-1.4-4.3-.6zM646.7 758.7l4.3 .7-4.3-1.5-4.3-.7zM642.4 757.9l4.3 .7-4.3-1.5-4.3-.8zM638.1 757.2l4.3 .8-4.4-1.6-4.3-.8zM633.8 756.3l4.3 .8-4.4-1.6-4.3-.9zM629.6 755.4l4.3 .9-4.4-1.6-4.3-.9zM625.2 754.5l4.3 .9-4.4-1.6-4.3-.9zM620.9 753.5l4.3 1-4.4-1.6-4.3-1zM616.6 752.5l4.3 1-4.4-1.6-4.3-1zM612.3 751.4l4.3 1.1-4.4-1.6-4.3-1.1zM607.9 750.3l4.3 1.1-4.4-1.6-4.3-1.1zM603.6 749.1l4.4 1.1-4.4-1.6-4.4-1.1zM599.2 748l4.4 1.2-4.4-1.6-4.4-1.2zM594.8 746.8l4.4 1.2-4.4-1.5-4.4-1.2zM590.4 745.5l4.4 1.2-4.4-1.5-4.4-1.2zM586.1 744.3l4.4 1.2-4.4-1.5-4.4-1.2zM581.6 743.1l4.4 1.3-4.4-1.5-4.4-1.2zM577.2 741.8l4.4 1.3-4.4-1.5-4.4-1.3zM572.8 740.5l4.4 1.3-4.4-1.5-4.4-1.3zM568.4 739.3l4.4 1.3-4.4-1.5-4.4-1.3zM563.9 738l4.4 1.3-4.4-1.5-4.5-1.3zM559.5 736.7l4.5 1.3-4.4-1.5-4.5-1.3zM555 735.5l4.5 1.3-4.4-1.5-4.5-1.3zM550.5 734.2l4.5 1.2-4.4-1.5-4.5-1.3zM546 733l4.5 1.2-4.4-1.5-4.5-1.3zM541.5 731.8l4.5 1.2-4.4-1.5-4.5-1.2zM537 730.6l4.5 1.2-4.4-1.6-4.5-1.2zM532.5 729.5l4.5 1.1-4.4-1.6-4.5-1.2zM528 728.4l4.5 1.1-4.4-1.7-4.5-1.2zM523.4 727.3l4.5 1.1-4.5-1.8-4.5-1.2zM655.3 760.8l4.3 .5-4.3-1.4-4.3-.6zM651 760.2l4.3 .6-4.3-1.5-4.3-.7zM646.8 759.5l4.3 .7-4.3-1.5-4.3-.7zM642.5 758.8l4.3 .8-4.4-1.6-4.3-.8zM638.2 757.9l4.3 .8-4.4-1.6-4.3-.8zM633.9 757.1l4.3 .9-4.4-1.6-4.3-.9zM629.6 756.1l4.3 .9-4.4-1.6-4.3-.9zM625.3 755.1l4.3 1-4.4-1.6-4.3-1zM621 754.1l4.3 1-4.4-1.6-4.3-1zM616.6 753l4.3 1.1-4.4-1.6-4.3-1.1zM612.3 751.9l4.3 1.1-4.4-1.6-4.3-1.1zM608 750.7l4.3 1.2-4.4-1.6-4.4-1.1zM603.6 749.5l4.4 1.2-4.4-1.6-4.4-1.2zM599.2 748.3l4.4 1.2-4.4-1.6-4.4-1.2zM594.8 747.1l4.4 1.2-4.4-1.5-4.4-1.2zM590.5 745.8l4.4 1.3-4.4-1.5-4.4-1.2zM586.1 744.5l4.4 1.3-4.4-1.5-4.4-1.3zM581.6 743.3l4.4 1.3-4.4-1.5-4.4-1.3zM577.2 742l4.4 1.3-4.4-1.5-4.4-1.3zM572.8 740.7l4.4 1.3-4.4-1.5-4.4-1.3zM568.3 739.4l4.4 1.3-4.4-1.5-4.4-1.3zM563.9 738.2l4.5 1.3-4.4-1.5-4.5-1.3zM559.4 737l4.5 1.2-4.4-1.5-4.5-1.3zM554.9 735.7l4.5 1.2-4.4-1.5-4.5-1.2zM550.4 734.6l4.5 1.2-4.4-1.5-4.5-1.2zM545.9 733.4l4.5 1.2-4.4-1.6-4.5-1.2zM541.4 732.3l4.5 1.1-4.4-1.6-4.5-1.2zM536.9 731.2l4.5 1.1-4.4-1.7-4.5-1.1zM532.4 730.2l4.5 1-4.4-1.8-4.5-1.1zM527.9 729.3l4.5 1-4.5-1.9-4.5-1.1zM659.6 762.3l4.3 .5-4.3-1.4-4.3-.5zM655.4 761.7l4.3 .6-4.3-1.5-4.3-.6zM651.1 761.1l4.3 .6-4.3-1.5-4.3-.7zM646.8 760.4l4.3 .7-4.4-1.6-4.3-.8zM642.6 759.6l4.3 .8-4.4-1.6-4.3-.8zM638.3 758.7l4.3 .9-4.4-1.6-4.3-.9zM634 757.7l4.3 .9-4.4-1.6-4.3-.9zM629.7 756.8l4.3 1-4.4-1.6-4.3-1zM625.3 755.7l4.3 1-4.4-1.6-4.3-1zM621 754.6l4.3 1.1-4.4-1.6-4.3-1.1zM616.7 753.5l4.3 1.1-4.4-1.6-4.3-1.1zM612.3 752.3l4.3 1.2-4.4-1.6-4.3-1.2zM608 751.1l4.4 1.2-4.4-1.6-4.4-1.2zM603.6 749.8l4.4 1.2-4.4-1.6-4.4-1.2zM599.2 748.6l4.4 1.3-4.4-1.5-4.4-1.2zM594.9 747.3l4.4 1.3-4.4-1.5-4.4-1.3zM590.5 746l4.4 1.3-4.4-1.5-4.4-1.3zM586 744.7l4.4 1.3-4.4-1.5-4.4-1.3zM581.6 743.5l4.4 1.3-4.4-1.5-4.4-1.3zM577.2 742.2l4.4 1.3-4.4-1.5-4.4-1.3zM572.8 740.9l4.4 1.3-4.4-1.5-4.4-1.3zM568.3 739.7l4.5 1.2-4.4-1.5-4.5-1.3zM563.8 738.5l4.5 1.2-4.4-1.5-4.5-1.2zM559.4 737.3l4.5 1.2-4.4-1.5-4.5-1.2zM554.9 736.2l4.5 1.1-4.4-1.5-4.5-1.2zM550.4 735.1l4.5 1.1-4.4-1.6-4.5-1.2zM545.9 734l4.5 1-4.4-1.7-4.5-1.1zM541.4 733.1l4.5 1-4.4-1.7-4.5-1.1zM536.9 732.2l4.5 .9-4.4-1.8-4.5-1zM532.3 731.3l4.5 .8-4.4-1.9-4.5-1zM664 763.7l4.3 .4-4.3-1.4-4.3-.5zM659.7 763.2l4.3 .5-4.3-1.5-4.3-.6zM655.5 762.7l4.3 .6-4.3-1.5-4.3-.6zM651.2 762l4.3 .7-4.3-1.6-4.3-.7zM646.9 761.2l4.3 .8-4.4-1.6-4.3-.8zM642.6 760.3l4.3 .9-4.4-1.6-4.3-.9zM638.3 759.4l4.3 .9-4.4-1.6-4.3-.9zM634 758.4l4.3 1-4.4-1.6-4.3-1zM629.7 757.3l4.3 1.1-4.4-1.6-4.3-1zM625.4 756.2l4.3 1.1-4.4-1.6-4.3-1.1zM621.1 755.1l4.3 1.2-4.4-1.6-4.3-1.1zM616.7 753.9l4.3 1.2-4.4-1.6-4.3-1.2zM612.4 752.6l4.4 1.2-4.4-1.6-4.4-1.2zM608 751.4l4.4 1.3-4.4-1.6-4.4-1.2zM603.6 750.1l4.4 1.3-4.4-1.5-4.4-1.3zM599.3 748.8l4.4 1.3-4.4-1.5-4.4-1.3zM594.9 747.5l4.4 1.3-4.4-1.5-4.4-1.3zM590.5 746.2l4.4 1.3-4.4-1.5-4.4-1.3zM586 744.9l4.4 1.3-4.4-1.5-4.4-1.3zM581.6 743.6l4.4 1.3-4.4-1.5-4.4-1.3zM577.2 742.4l4.4 1.2-4.4-1.5-4.4-1.3zM572.7 741.2l4.4 1.2-4.4-1.5-4.5-1.2zM568.3 740l4.5 1.2-4.4-1.5-4.5-1.2zM563.8 738.9l4.5 1.1-4.4-1.5-4.5-1.2zM559.3 737.8l4.5 1.1-4.4-1.6-4.5-1.1zM554.8 736.8l4.5 1-4.4-1.6-4.5-1.1zM550.3 735.8l4.5 .9-4.4-1.7-4.5-1zM545.8 735l4.5 .9-4.4-1.8-4.5-1zM541.3 734.2l4.5 .8-4.4-1.9-4.5-.9zM536.8 733.5l4.5 .7-4.4-2-4.5-.8z"/></g><path d="M536.8 733.5L532.3 731.3L527.9 729.3L523.4 727.3L519 725.4L514.5 723.6L510 721.9L505.6 720.2L501.1 718.6L496.7 717L492.2 715.4L487.8 713.9L483.3 712.4L478.9 710.9L474.4 709.4L470 707.9L465.5 706.4L461.1 704.8L456.6 703.2L452.2 701.6L447.7 699.9L443.2 698.2L438.8 696.4L434.3 694.5L429.8 692.5L425.4 690.5L420.9 688.3L416.4 686.1L411.9 683.7L407.4 681.2L402.8 678.6M541.3 734.2L536.9 732.2L532.4 730.2L528 728.4L523.5 726.6L519 724.8L514.6 723.2L510.1 721.5L505.7 720L501.2 718.4L496.8 716.9L492.4 715.4L487.9 713.9L483.5 712.4L479 710.9L474.6 709.4L470.1 707.8L465.7 706.3L461.2 704.7L456.8 703.1L452.3 701.4L447.8 699.7L443.4 697.9L438.9 696L434.5 694.1L430 692.1L425.5 690L421 687.8L416.5 685.6L412 683.2L407.5 680.7M545.8 735L541.4 733.1L536.9 731.2L532.5 729.5L528 727.8L523.6 726.1L519.1 724.5L514.7 722.9L510.2 721.3L505.8 719.8L501.4 718.3L496.9 716.8L492.5 715.3L488 713.8L483.6 712.3L479.1 710.8L474.7 709.3L470.2 707.7L465.8 706.1L461.3 704.5L456.9 702.9L452.4 701.1L448 699.4L443.5 697.6L439.1 695.7L434.6 693.7L430.1 691.7L425.6 689.6L421.2 687.4L416.7 685.1L412.2 682.8M550.3 735.8L545.9 734L541.4 732.3L537 730.6L532.6 729L528.1 727.4L523.7 725.8L519.2 724.2L514.8 722.7L510.3 721.2L505.9 719.7L501.5 718.2L497 716.7L492.6 715.2L488.1 713.7L483.7 712.2L479.2 710.7L474.8 709.1L470.4 707.6L465.9 705.9L461.5 704.3L457 702.6L452.6 700.9L448.1 699.1L443.7 697.2L439.2 695.3L434.7 693.4L430.3 691.4L425.8 689.3L421.3 687.1L416.8 684.9M554.8 736.8L550.4 735.1L545.9 733.4L541.5 731.8L537.1 730.2L532.6 728.6L528.2 727.1L523.8 725.6L519.3 724.1L514.9 722.6L510.4 721.1L506 719.6L501.6 718.1L497.1 716.6L492.7 715.1L488.2 713.6L483.8 712.1L479.4 710.5L474.9 709L470.5 707.4L466 705.7L461.6 704.1L457.1 702.4L452.7 700.6L448.3 698.8L443.8 697L439.3 695.1L434.9 693.1L430.4 691.1L425.9 689L421.5 686.9M559.3 737.8L554.9 736.2L550.4 734.6L546 733L541.6 731.4L537.1 729.9L532.7 728.4L528.3 726.9L523.8 725.4L519.4 723.9L515 722.5L510.5 721L506.1 719.5L501.7 718L497.2 716.5L492.8 715L488.4 713.5L483.9 711.9L479.5 710.4L475 708.8L470.6 707.2L466.2 705.5L461.7 703.8L457.3 702.1L452.8 700.4L448.4 698.6L443.9 696.7L439.5 694.8L435 692.9L430.6 690.9L426.1 688.9M563.8 738.9L559.4 737.3L554.9 735.7L550.5 734.2L546.1 732.7L541.6 731.2L537.2 729.7L532.8 728.2L528.3 726.8L523.9 725.3L519.5 723.8L515 722.3L510.6 720.9L506.2 719.4L501.7 717.9L497.3 716.4L492.9 714.8L488.5 713.3L484 711.7L479.6 710.2L475.2 708.6L470.7 706.9L466.3 705.3L461.8 703.6L457.4 701.9L453 700.2L448.5 698.4L444.1 696.6L439.6 694.7L435.2 692.8L430.7 690.9M568.3 740L563.8 738.5L559.4 737L555 735.5L550.6 734L546.1 732.5L541.7 731L537.3 729.5L532.8 728.1L528.4 726.6L524 725.1L519.6 723.7L515.1 722.2L510.7 720.7L506.3 719.2L501.8 717.7L497.4 716.2L493 714.6L488.6 713.1L484.1 711.5L479.7 710L475.3 708.4L470.8 706.7L466.4 705.1L462 703.4L457.5 701.7L453.1 700L448.6 698.3L444.2 696.5L439.8 694.7L435.3 692.8M572.7 741.2L568.3 739.7L563.9 738.2L559.5 736.7L555 735.2L550.6 733.8L546.2 732.3L541.7 730.8L537.3 729.4L532.9 727.9L528.5 726.4L524 725L519.6 723.5L515.2 722L510.8 720.5L506.3 719L501.9 717.5L497.5 716L493.1 714.4L488.6 712.9L484.2 711.3L479.8 709.8L475.4 708.2L470.9 706.6L466.5 704.9L462.1 703.3L457.6 701.6L453.2 699.9L448.8 698.2L444.3 696.5L439.9 694.8M577.2 742.4L572.8 740.9L568.3 739.4L563.9 738L559.5 736.5L555.1 735.1L550.6 733.6L546.2 732.1L541.8 730.7L537.4 729.2L533 727.7L528.5 726.3L524.1 724.8L519.7 723.3L515.3 721.8L510.9 720.3L506.4 718.8L502 717.3L497.6 715.8L493.2 714.2L488.7 712.7L484.3 711.2L479.9 709.6L475.5 708L471 706.4L466.6 704.8L462.2 703.2L457.8 701.6L453.3 700L448.9 698.3L444.5 696.6M581.6 743.6L577.2 742.2L572.8 740.7L568.4 739.3L563.9 737.8L559.5 736.3L555.1 734.9L550.7 733.4L546.3 731.9L541.9 730.5L537.4 729L533 727.5L528.6 726L524.2 724.6L519.8 723.1L515.3 721.6L510.9 720.1L506.5 718.6L502.1 717.1L497.7 715.6L493.2 714L488.8 712.5L484.4 711L480 709.4L475.6 707.9L471.1 706.3L466.7 704.8L462.3 703.2L457.9 701.6L453.5 700.1L449 698.5M586 744.9L581.6 743.5L577.2 742L572.8 740.5L568.4 739.1L564 737.6L559.6 736.1L555.1 734.7L550.7 733.2L546.3 731.7L541.9 730.2L537.5 728.8L533.1 727.3L528.7 725.8L524.2 724.3L519.8 722.8L515.4 721.3L511 719.8L506.6 718.4L502.2 716.9L497.7 715.4L493.3 713.9L488.9 712.4L484.5 710.9L480.1 709.3L475.7 707.8L471.3 706.3L466.8 704.8L462.4 703.3L458 701.8L453.6 700.2M590.5 746.2L586 744.7L581.6 743.3L577.2 741.8L572.8 740.3L568.4 738.9L564 737.4L559.6 735.9L555.2 734.4L550.8 732.9L546.3 731.5L541.9 730L537.5 728.5L533.1 727L528.7 725.5L524.3 724.1L519.9 722.6L515.5 721.1L511.1 719.6L506.6 718.1L502.2 716.7L497.8 715.2L493.4 713.7L489 712.2L484.6 710.8L480.2 709.3L475.8 707.8L471.4 706.4L466.9 704.9L462.5 703.4L458.1 702M594.9 747.5L590.5 746L586.1 744.5L581.6 743.1L577.2 741.6L572.8 740.1L568.4 738.6L564 737.1L559.6 735.6L555.2 734.1L550.8 732.7L546.4 731.2L542 729.7L537.6 728.2L533.2 726.7L528.8 725.3L524.3 723.8L519.9 722.3L515.5 720.9L511.1 719.4L506.7 717.9L502.3 716.5L497.9 715L493.5 713.6L489.1 712.2L484.7 710.7L480.3 709.3L475.9 707.9L471.5 706.5L467 705.1L462.6 703.7M599.3 748.8L594.9 747.3L590.5 745.8L586.1 744.3L581.6 742.8L577.2 741.3L572.8 739.8L568.4 738.3L564 736.8L559.6 735.3L555.2 733.8L550.8 732.4L546.4 730.9L542 729.4L537.6 727.9L533.2 726.5L528.8 725L524.4 723.5L520 722.1L515.6 720.6L511.2 719.2L506.8 717.8L502.4 716.3L498 714.9L493.6 713.5L489.2 712.1L484.8 710.7L480.4 709.4L476 708L471.6 706.6L467.2 705.3M603.6 750.1L599.2 748.6L594.8 747.1L590.4 745.5L586 744L581.6 742.5L577.2 741L572.8 739.5L568.4 738L564 736.5L559.6 735L555.2 733.5L550.8 732L546.4 730.6L542 729.1L537.6 727.6L533.2 726.2L528.8 724.7L524.4 723.3L520 721.8L515.6 720.4L511.2 719L506.8 717.6L502.4 716.2L498 714.9L493.6 713.5L489.2 712.1L484.8 710.8L480.4 709.5L476 708.2L471.7 706.9M608 751.4L603.6 749.8L599.2 748.3L594.8 746.8L590.4 745.2L586 743.7L581.6 742.2L577.3 740.7L572.9 739.2L568.5 737.6L564.1 736.1L559.7 734.7L555.3 733.2L550.9 731.7L546.5 730.2L542.1 728.8L537.7 727.3L533.3 725.9L528.9 724.4L524.5 723L520.1 721.6L515.7 720.2L511.3 718.9L506.9 717.5L502.5 716.1L498.1 714.8L493.7 713.5L489.3 712.2L484.9 710.9L480.5 709.6L476.1 708.4M612.4 752.6L608 751.1L603.6 749.5L599.2 748L594.8 746.4L590.4 744.9L586 743.3L581.6 741.8L577.2 740.3L572.9 738.8L568.5 737.3L564.1 735.8L559.7 734.3L555.3 732.8L550.9 731.3L546.5 729.9L542.1 728.4L537.7 727L533.3 725.6L528.9 724.2L524.5 722.8L520.1 721.4L515.7 720.1L511.3 718.7L506.9 717.4L502.6 716.1L498.2 714.8L493.8 713.5L489.4 712.3L485 711L480.6 709.8M616.7 753.9L612.3 752.3L608 750.7L603.6 749.1L599.2 747.6L594.8 746L590.4 744.5L586 742.9L581.6 741.4L577.2 739.9L572.9 738.4L568.5 736.9L564.1 735.4L559.7 733.9L555.3 732.4L550.9 731L546.5 729.5L542.1 728.1L537.7 726.7L533.3 725.3L528.9 723.9L524.6 722.6L520.2 721.3L515.8 719.9L511.4 718.6L507 717.3L502.6 716.1L498.2 714.8L493.8 713.6L489.5 712.4L485.1 711.2M621.1 755.1L616.7 753.5L612.3 751.9L607.9 750.3L603.5 748.7L599.2 747.1L594.8 745.6L590.4 744L586 742.5L581.6 740.9L577.2 739.4L572.9 737.9L568.5 736.4L564.1 735L559.7 733.5L555.3 732.1L550.9 730.6L546.5 729.2L542.1 727.8L537.8 726.4L533.4 725.1L529 723.7L524.6 722.4L520.2 721.1L515.8 719.8L511.4 718.5L507 717.3L502.7 716.1L498.3 714.9L493.9 713.7L489.5 712.5M625.4 756.2L621 754.6L616.6 753L612.3 751.4L607.9 749.8L603.5 748.2L599.1 746.6L594.8 745.1L590.4 743.5L586 742L581.6 740.5L577.2 739L572.8 737.5L568.5 736L564.1 734.5L559.7 733.1L555.3 731.7L550.9 730.3L546.5 728.9L542.2 727.5L537.8 726.2L533.4 724.8L529 723.5L524.6 722.2L520.2 720.9L515.9 719.7L511.5 718.5L507.1 717.2L502.7 716.1L498.3 714.9L494 713.7M629.7 757.3L625.3 755.7L621 754.1L616.6 752.5L612.2 750.9L607.9 749.3L603.5 747.7L599.1 746.1L594.7 744.6L590.4 743L586 741.5L581.6 740L577.2 738.5L572.8 737L568.5 735.6L564.1 734.1L559.7 732.7L555.3 731.3L550.9 729.9L546.5 728.6L542.2 727.2L537.8 725.9L533.4 724.6L529 723.3L524.6 722L520.3 720.8L515.9 719.6L511.5 718.4L507.1 717.2L502.8 716L498.4 714.9M634 758.4L629.7 756.8L625.3 755.1L620.9 753.5L616.6 751.9L612.2 750.3L607.8 748.7L603.4 747.1L599.1 745.6L594.7 744L590.3 742.5L585.9 741L581.6 739.5L577.2 738L572.8 736.6L568.4 735.1L564.1 733.7L559.7 732.3L555.3 730.9L550.9 729.6L546.6 728.2L542.2 726.9L537.8 725.6L533.4 724.3L529 723.1L524.7 721.8L520.3 720.6L515.9 719.4L511.5 718.3L507.2 717.1L502.8 716M638.3 759.4L634 757.7L629.6 756.1L625.2 754.5L620.9 752.9L616.5 751.3L612.1 749.7L607.8 748.1L603.4 746.6L599 745L594.7 743.5L590.3 742L585.9 740.5L581.6 739L577.2 737.6L572.8 736.1L568.4 734.7L564.1 733.3L559.7 731.9L555.3 730.6L550.9 729.2L546.6 727.9L542.2 726.6L537.8 725.3L533.4 724.1L529.1 722.8L524.7 721.6L520.3 720.4L515.9 719.3L511.6 718.1L507.2 717M642.6 760.3L638.3 758.7L633.9 757.1L629.6 755.4L625.2 753.8L620.8 752.2L616.5 750.6L612.1 749.1L607.7 747.5L603.4 746L599 744.5L594.6 742.9L590.3 741.5L585.9 740L581.5 738.5L577.2 737.1L572.8 735.7L568.4 734.3L564 732.9L559.7 731.5L555.3 730.2L550.9 728.9L546.6 727.5L542.2 726.3L537.8 725L533.4 723.8L529.1 722.5L524.7 721.4L520.3 720.2L516 719L511.6 717.9M646.9 761.2L642.6 759.6L638.2 757.9L633.8 756.3L629.5 754.7L625.1 753.1L620.8 751.6L616.4 750L612 748.4L607.7 746.9L603.3 745.4L599 743.9L594.6 742.4L590.2 740.9L585.9 739.5L581.5 738L577.1 736.6L572.8 735.2L568.4 733.8L564 732.4L559.7 731.1L555.3 729.8L550.9 728.5L546.6 727.2L542.2 725.9L537.8 724.6L533.4 723.4L529.1 722.2L524.7 721L520.4 719.9L516 718.7M651.2 762L646.8 760.4L642.5 758.8L638.1 757.2L633.8 755.6L629.4 754L625.1 752.4L620.7 750.9L616.4 749.4L612 747.8L607.6 746.3L603.3 744.8L598.9 743.3L594.6 741.8L590.2 740.4L585.8 738.9L581.5 737.5L577.1 736.1L572.7 734.7L568.4 733.3L564 732L559.6 730.6L555.3 729.3L550.9 728L546.5 726.7L542.2 725.5L537.8 724.2L533.5 723L529.1 721.8L524.7 720.6L520.4 719.5M655.5 762.7L651.1 761.1L646.8 759.5L642.4 757.9L638.1 756.4L633.7 754.8L629.4 753.3L625 751.8L620.6 750.2L616.3 748.7L611.9 747.2L607.6 745.7L603.2 744.2L598.9 742.7L594.5 741.3L590.1 739.8L585.8 738.4L581.4 737L577.1 735.6L572.7 734.2L568.3 732.8L564 731.5L559.6 730.1L555.3 728.8L550.9 727.5L546.5 726.2L542.2 725L537.8 723.7L533.5 722.5L529.1 721.3L524.7 720.1M659.7 763.2L655.4 761.7L651 760.2L646.7 758.7L642.3 757.1L638 755.6L633.6 754.1L629.3 752.6L624.9 751.1L620.6 749.6L616.2 748.1L611.9 746.6L607.5 745.1L603.2 743.6L598.8 742.2L594.5 740.7L590.1 739.3L585.7 737.8L581.4 736.4L577 735L572.7 733.6L568.3 732.3L564 730.9L559.6 729.6L555.2 728.2L550.9 726.9L546.5 725.6L542.2 724.4L537.8 723.1L533.4 721.9L529.1 720.7M664 763.7L659.6 762.3L655.3 760.8L651 759.3L646.6 757.8L642.3 756.4L637.9 754.9L633.6 753.4L629.2 751.9L624.9 750.4L620.5 748.9L616.2 747.4L611.8 745.9L607.5 744.5L603.1 743L598.8 741.5L594.4 740.1L590.1 738.7L585.7 737.2L581.3 735.8L577 734.4L572.6 733L568.3 731.6L563.9 730.2L559.6 728.9L555.2 727.6L550.9 726.2L546.5 724.9L542.2 723.7L537.8 722.4L533.4 721.2M668.3 764.1L663.9 762.7L659.6 761.3L655.2 759.9L650.9 758.5L646.5 757L642.2 755.6L637.8 754.1L633.5 752.7L629.1 751.2L624.8 749.7L620.4 748.3L616.1 746.8L611.7 745.3L607.4 743.8L603.1 742.4L598.7 740.9L594.4 739.4L590 738L585.7 736.6L581.3 735.1L577 733.7L572.6 732.3L568.3 730.9L563.9 729.5L559.5 728.1L555.2 726.8L550.8 725.4L546.5 724.1L542.1 722.8L537.8 721.5M536.8 733.5L541.3 734.2L545.8 735L550.3 735.8L554.8 736.8L559.3 737.8L563.8 738.9L568.3 740L572.7 741.2L577.2 742.4L581.6 743.6L586 744.9L590.5 746.2L594.9 747.5L599.3 748.8L603.6 750.1L608 751.4L612.4 752.6L616.7 753.9L621.1 755.1L625.4 756.2L629.7 757.3L634 758.4L638.3 759.4L642.6 760.3L646.9 761.2L651.2 762L655.5 762.7L659.7 763.2L664 763.7L668.3 764.1M532.3 731.3L536.9 732.2L541.4 733.1L545.9 734L550.4 735.1L554.9 736.2L559.4 737.3L563.8 738.5L568.3 739.7L572.8 740.9L577.2 742.2L581.6 743.5L586 744.7L590.5 746L594.9 747.3L599.2 748.6L603.6 749.8L608 751.1L612.3 752.3L616.7 753.5L621 754.6L625.3 755.7L629.7 756.8L634 757.7L638.3 758.7L642.6 759.6L646.8 760.4L651.1 761.1L655.4 761.7L659.6 762.3L663.9 762.7M527.9 729.3L532.4 730.2L536.9 731.2L541.4 732.3L545.9 733.4L550.4 734.6L554.9 735.7L559.4 737L563.9 738.2L568.3 739.4L572.8 740.7L577.2 742L581.6 743.3L586.1 744.5L590.5 745.8L594.8 747.1L599.2 748.3L603.6 749.5L608 750.7L612.3 751.9L616.6 753L621 754.1L625.3 755.1L629.6 756.1L633.9 757.1L638.2 757.9L642.5 758.8L646.8 759.5L651 760.2L655.3 760.8L659.6 761.3M523.4 727.3L528 728.4L532.5 729.5L537 730.6L541.5 731.8L546 733L550.5 734.2L555 735.5L559.5 736.7L563.9 738L568.4 739.3L572.8 740.5L577.2 741.8L581.6 743.1L586.1 744.3L590.4 745.5L594.8 746.8L599.2 748L603.6 749.1L607.9 750.3L612.3 751.4L616.6 752.5L620.9 753.5L625.2 754.5L629.6 755.4L633.8 756.3L638.1 757.2L642.4 757.9L646.7 758.7L651 759.3L655.2 759.9M519 725.4L523.5 726.6L528 727.8L532.6 729L537.1 730.2L541.6 731.4L546.1 732.7L550.6 734L555 735.2L559.5 736.5L563.9 737.8L568.4 739.1L572.8 740.3L577.2 741.6L581.6 742.8L586 744L590.4 745.2L594.8 746.4L599.2 747.6L603.5 748.7L607.9 749.8L612.2 750.9L616.6 751.9L620.9 752.9L625.2 753.8L629.5 754.7L633.8 755.6L638.1 756.4L642.3 757.1L646.6 757.8L650.9 758.5M514.5 723.6L519 724.8L523.6 726.1L528.1 727.4L532.6 728.6L537.1 729.9L541.6 731.2L546.1 732.5L550.6 733.8L555.1 735.1L559.5 736.3L564 737.6L568.4 738.9L572.8 740.1L577.2 741.3L581.6 742.5L586 743.7L590.4 744.9L594.8 746L599.2 747.1L603.5 748.2L607.9 749.3L612.2 750.3L616.5 751.3L620.8 752.2L625.1 753.1L629.4 754L633.7 754.8L638 755.6L642.3 756.4L646.5 757M510 721.9L514.6 723.2L519.1 724.5L523.7 725.8L528.2 727.1L532.7 728.4L537.2 729.7L541.7 731L546.2 732.3L550.6 733.6L555.1 734.9L559.6 736.1L564 737.4L568.4 738.6L572.8 739.8L577.2 741L581.6 742.2L586 743.3L590.4 744.5L594.8 745.6L599.1 746.6L603.5 747.7L607.8 748.7L612.1 749.7L616.5 750.6L620.8 751.6L625.1 752.4L629.4 753.3L633.6 754.1L637.9 754.9L642.2 755.6M505.6 720.2L510.1 721.5L514.7 722.9L519.2 724.2L523.8 725.6L528.3 726.9L532.8 728.2L537.3 729.5L541.7 730.8L546.2 732.1L550.7 733.4L555.1 734.7L559.6 735.9L564 737.1L568.4 738.3L572.8 739.5L577.3 740.7L581.6 741.8L586 742.9L590.4 744L594.8 745.1L599.1 746.1L603.4 747.1L607.8 748.1L612.1 749.1L616.4 750L620.7 750.9L625 751.8L629.3 752.6L633.6 753.4L637.8 754.1M501.1 718.6L505.7 720L510.2 721.3L514.8 722.7L519.3 724.1L523.8 725.4L528.3 726.8L532.8 728.1L537.3 729.4L541.8 730.7L546.3 731.9L550.7 733.2L555.2 734.4L559.6 735.6L564 736.8L568.4 738L572.9 739.2L577.2 740.3L581.6 741.4L586 742.5L590.4 743.5L594.7 744.6L599.1 745.6L603.4 746.6L607.7 747.5L612 748.4L616.4 749.4L620.6 750.2L624.9 751.1L629.2 751.9L633.5 752.7M496.7 717L501.2 718.4L505.8 719.8L510.3 721.2L514.9 722.6L519.4 723.9L523.9 725.3L528.4 726.6L532.9 727.9L537.4 729.2L541.9 730.5L546.3 731.7L550.8 732.9L555.2 734.1L559.6 735.3L564 736.5L568.5 737.6L572.9 738.8L577.2 739.9L581.6 740.9L586 742L590.4 743L594.7 744L599 745L603.4 746L607.7 746.9L612 747.8L616.3 748.7L620.6 749.6L624.9 750.4L629.1 751.2M492.2 715.4L496.8 716.9L501.4 718.3L505.9 719.7L510.4 721.1L515 722.5L519.5 723.8L524 725.1L528.5 726.4L533 727.7L537.4 729L541.9 730.2L546.3 731.5L550.8 732.7L555.2 733.8L559.6 735L564.1 736.1L568.5 737.3L572.9 738.4L577.2 739.4L581.6 740.5L586 741.5L590.3 742.5L594.7 743.5L599 744.5L603.3 745.4L607.6 746.3L611.9 747.2L616.2 748.1L620.5 748.9L624.8 749.7M487.8 713.9L492.4 715.4L496.9 716.8L501.5 718.2L506 719.6L510.5 721L515 722.3L519.6 723.7L524 725L528.5 726.3L533 727.5L537.5 728.8L541.9 730L546.4 731.2L550.8 732.4L555.2 733.5L559.7 734.7L564.1 735.8L568.5 736.9L572.9 737.9L577.2 739L581.6 740L585.9 741L590.3 742L594.6 742.9L599 743.9L603.3 744.8L607.6 745.7L611.9 746.6L616.2 747.4L620.4 748.3M483.3 712.4L487.9 713.9L492.5 715.3L497 716.7L501.6 718.1L506.1 719.5L510.6 720.9L515.1 722.2L519.6 723.5L524.1 724.8L528.6 726L533.1 727.3L537.5 728.5L542 729.7L546.4 730.9L550.8 732L555.3 733.2L559.7 734.3L564.1 735.4L568.5 736.4L572.8 737.5L577.2 738.5L581.6 739.5L585.9 740.5L590.3 741.5L594.6 742.4L598.9 743.3L603.2 744.2L607.5 745.1L611.8 745.9L616.1 746.8M478.9 710.9L483.5 712.4L488 713.8L492.6 715.2L497.1 716.6L501.7 718L506.2 719.4L510.7 720.7L515.2 722L519.7 723.3L524.2 724.6L528.7 725.8L533.1 727L537.6 728.2L542 729.4L546.4 730.6L550.9 731.7L555.3 732.8L559.7 733.9L564.1 735L568.5 736L572.8 737L577.2 738L581.6 739L585.9 740L590.2 740.9L594.6 741.8L598.9 742.7L603.2 743.6L607.5 744.5L611.7 745.3M474.4 709.4L479 710.9L483.6 712.3L488.1 713.7L492.7 715.1L497.2 716.5L501.7 717.9L506.3 719.2L510.8 720.5L515.3 721.8L519.8 723.1L524.2 724.3L528.7 725.5L533.2 726.7L537.6 727.9L542 729.1L546.5 730.2L550.9 731.3L555.3 732.4L559.7 733.5L564.1 734.5L568.5 735.6L572.8 736.6L577.2 737.6L581.5 738.5L585.9 739.5L590.2 740.4L594.5 741.3L598.8 742.2L603.1 743L607.4 743.8M470 707.9L474.6 709.4L479.1 710.8L483.7 712.2L488.2 713.6L492.8 715L497.3 716.4L501.8 717.7L506.3 719L510.9 720.3L515.3 721.6L519.8 722.8L524.3 724.1L528.8 725.3L533.2 726.5L537.6 727.6L542.1 728.8L546.5 729.9L550.9 731L555.3 732.1L559.7 733.1L564.1 734.1L568.4 735.1L572.8 736.1L577.2 737.1L581.5 738L585.8 738.9L590.1 739.8L594.5 740.7L598.8 741.5L603.1 742.4M465.5 706.4L470.1 707.8L474.7 709.3L479.2 710.7L483.8 712.1L488.4 713.5L492.9 714.8L497.4 716.2L501.9 717.5L506.4 718.8L510.9 720.1L515.4 721.3L519.9 722.6L524.3 723.8L528.8 725L533.2 726.2L537.7 727.3L542.1 728.4L546.5 729.5L550.9 730.6L555.3 731.7L559.7 732.7L564.1 733.7L568.4 734.7L572.8 735.7L577.1 736.6L581.5 737.5L585.8 738.4L590.1 739.3L594.4 740.1L598.7 740.9M461.1 704.8L465.7 706.3L470.2 707.7L474.8 709.1L479.4 710.5L483.9 711.9L488.5 713.3L493 714.6L497.5 716L502 717.3L506.5 718.6L511 719.8L515.5 721.1L519.9 722.3L524.4 723.5L528.8 724.7L533.3 725.9L537.7 727L542.1 728.1L546.5 729.2L550.9 730.3L555.3 731.3L559.7 732.3L564.1 733.3L568.4 734.3L572.8 735.2L577.1 736.1L581.4 737L585.7 737.8L590.1 738.7L594.4 739.4M456.6 703.2L461.2 704.7L465.8 706.1L470.4 707.6L474.9 709L479.5 710.4L484 711.7L488.6 713.1L493.1 714.4L497.6 715.8L502.1 717.1L506.6 718.4L511.1 719.6L515.5 720.9L520 722.1L524.4 723.3L528.9 724.4L533.3 725.6L537.7 726.7L542.1 727.8L546.5 728.9L550.9 729.9L555.3 730.9L559.7 731.9L564 732.9L568.4 733.8L572.7 734.7L577.1 735.6L581.4 736.4L585.7 737.2L590 738M452.2 701.6L456.8 703.1L461.3 704.5L465.9 705.9L470.5 707.4L475 708.8L479.6 710.2L484.1 711.5L488.6 712.9L493.2 714.2L497.7 715.6L502.2 716.9L506.6 718.1L511.1 719.4L515.6 720.6L520 721.8L524.5 723L528.9 724.2L533.3 725.3L537.8 726.4L542.2 727.5L546.5 728.6L550.9 729.6L555.3 730.6L559.7 731.5L564 732.4L568.4 733.3L572.7 734.2L577 735L581.3 735.8L585.7 736.6M447.7 699.9L452.3 701.4L456.9 702.9L461.5 704.3L466 705.7L470.6 707.2L475.2 708.6L479.7 710L484.2 711.3L488.7 712.7L493.2 714L497.7 715.4L502.2 716.7L506.7 717.9L511.2 719.2L515.6 720.4L520.1 721.6L524.5 722.8L528.9 723.9L533.4 725.1L537.8 726.2L542.2 727.2L546.6 728.2L550.9 729.2L555.3 730.2L559.7 731.1L564 732L568.3 732.8L572.7 733.6L577 734.4L581.3 735.1M443.2 698.2L447.8 699.7L452.4 701.1L457 702.6L461.6 704.1L466.2 705.5L470.7 706.9L475.3 708.4L479.8 709.8L484.3 711.2L488.8 712.5L493.3 713.9L497.8 715.2L502.3 716.5L506.8 717.8L511.2 719L515.7 720.2L520.1 721.4L524.6 722.6L529 723.7L533.4 724.8L537.8 725.9L542.2 726.9L546.6 727.9L550.9 728.9L555.3 729.8L559.6 730.6L564 731.5L568.3 732.3L572.6 733L577 733.7M438.8 696.4L443.4 697.9L448 699.4L452.6 700.9L457.1 702.4L461.7 703.8L466.3 705.3L470.8 706.7L475.4 708.2L479.9 709.6L484.4 711L488.9 712.4L493.4 713.7L497.9 715L502.4 716.3L506.8 717.6L511.3 718.9L515.7 720.1L520.2 721.3L524.6 722.4L529 723.5L533.4 724.6L537.8 725.6L542.2 726.6L546.6 727.5L550.9 728.5L555.3 729.3L559.6 730.1L564 730.9L568.3 731.6L572.6 732.3M434.3 694.5L438.9 696L443.5 697.6L448.1 699.1L452.7 700.6L457.3 702.1L461.8 703.6L466.4 705.1L470.9 706.6L475.5 708L480 709.4L484.5 710.9L489 712.2L493.5 713.6L498 714.9L502.4 716.2L506.9 717.5L511.3 718.7L515.8 719.9L520.2 721.1L524.6 722.2L529 723.3L533.4 724.3L537.8 725.3L542.2 726.3L546.6 727.2L550.9 728L555.3 728.8L559.6 729.6L563.9 730.2L568.3 730.9M429.8 692.5L434.5 694.1L439.1 695.7L443.7 697.2L448.3 698.8L452.8 700.4L457.4 701.9L462 703.4L466.5 704.9L471 706.4L475.6 707.9L480.1 709.3L484.6 710.8L489.1 712.2L493.6 713.5L498 714.9L502.5 716.1L506.9 717.4L511.4 718.6L515.8 719.8L520.2 720.9L524.6 722L529 723.1L533.4 724.1L537.8 725L542.2 725.9L546.5 726.7L550.9 727.5L555.2 728.2L559.6 728.9L563.9 729.5M425.4 690.5L430 692.1L434.6 693.7L439.2 695.3L443.8 697L448.4 698.6L453 700.2L457.5 701.7L462.1 703.3L466.6 704.8L471.1 706.3L475.7 707.8L480.2 709.3L484.7 710.7L489.2 712.1L493.6 713.5L498.1 714.8L502.6 716.1L507 717.3L511.4 718.5L515.9 719.7L520.3 720.8L524.7 721.8L529.1 722.8L533.4 723.8L537.8 724.6L542.2 725.5L546.5 726.2L550.9 726.9L555.2 727.6L559.5 728.1M420.9 688.3L425.5 690L430.1 691.7L434.7 693.4L439.3 695.1L443.9 696.7L448.5 698.4L453.1 700L457.6 701.6L462.2 703.2L466.7 704.8L471.3 706.3L475.8 707.8L480.3 709.3L484.8 710.7L489.2 712.1L493.7 713.5L498.2 714.8L502.6 716.1L507 717.3L511.5 718.5L515.9 719.6L520.3 720.6L524.7 721.6L529.1 722.5L533.4 723.4L537.8 724.2L542.2 725L546.5 725.6L550.9 726.2L555.2 726.8M416.4 686.1L421 687.8L425.6 689.6L430.3 691.4L434.9 693.1L439.5 694.8L444.1 696.6L448.6 698.3L453.2 699.9L457.8 701.6L462.3 703.2L466.8 704.8L471.4 706.4L475.9 707.9L480.4 709.4L484.8 710.8L489.3 712.2L493.8 713.5L498.2 714.8L502.7 716.1L507.1 717.2L511.5 718.4L515.9 719.4L520.3 720.4L524.7 721.4L529.1 722.2L533.5 723L537.8 723.7L542.2 724.4L546.5 724.9L550.8 725.4M411.9 683.7L416.5 685.6L421.2 687.4L425.8 689.3L430.4 691.1L435 692.9L439.6 694.7L444.2 696.5L448.8 698.2L453.3 700L457.9 701.6L462.4 703.3L466.9 704.9L471.5 706.5L476 708L480.4 709.5L484.9 710.9L489.4 712.3L493.8 713.6L498.3 714.9L502.7 716.1L507.1 717.2L511.5 718.3L515.9 719.3L520.3 720.2L524.7 721L529.1 721.8L533.5 722.5L537.8 723.1L542.2 723.7L546.5 724.1M407.4 681.2L412 683.2L416.7 685.1L421.3 687.1L425.9 689L430.6 690.9L435.2 692.8L439.8 694.7L444.3 696.5L448.9 698.3L453.5 700.1L458 701.8L462.5 703.4L467 705.1L471.6 706.6L476 708.2L480.5 709.6L485 711L489.5 712.4L493.9 713.7L498.3 714.9L502.8 716L507.2 717.1L511.6 718.1L516 719L520.4 719.9L524.7 720.6L529.1 721.3L533.4 721.9L537.8 722.4L542.1 722.8M402.8 678.6L407.5 680.7L412.2 682.8L416.8 684.9L421.5 686.9L426.1 688.9L430.7 690.9L435.3 692.8L439.9 694.8L444.5 696.6L449 698.5L453.6 700.2L458.1 702L462.6 703.7L467.2 705.3L471.7 706.9L476.1 708.4L480.6 709.8L485.1 711.2L489.5 712.5L494 713.7L498.4 714.9L502.8 716L507.2 717L511.6 717.9L516 718.7L520.4 719.5L524.7 720.1L529.1 720.7L533.4 721.2L537.8 721.5" fill="none" stroke="#000" stroke-width="0.4" stroke-opacity="1"/><circle cx="408" cy="773.3" r="0.9" fill="#c0b000"/><circle cx="406.2" cy="741.1" r="0.9" fill="#c0b000"/><circle cx="404.5" cy="709" r="0.9" fill="#c0b000"/><circle cx="402.7" cy="676.8" r="0.9" fill="#c0b000"/><circle cx="401" cy="644.7" r="0.9" fill="#c0b000"/><text transform="translate(392.4 651.7) scale(0.75 1)" font-size="13.3" text-anchor="middle" font-family="Liberation Serif" font-weight="bold">98</text><text transform="translate(390.6 682.1) scale(0.75 1)" font-size="13.3" text-anchor="middle" font-family="Liberation Serif" font-weight="bold">94.5</text><text transform="translate(396.8 713) scale(0.75 1)" font-size="13.3" text-anchor="middle" font-family="Liberation Serif" font-weight="bold">91</text><text transform="translate(394.2 745.7) scale(0.75 1)" font-size="13.3" text-anchor="middle" font-family="Liberation Serif" font-weight="bold">87.5</text><text transform="translate(398.6 778.4) scale(0.75 1)" font-size="13.3" text-anchor="middle" font-family="Liberation Serif" font-weight="bold">84</text><circle cx="505.8" cy="858.2" r="1.1" fill="#111"/><circle cx="569.6" cy="858.2" r="1.1" fill="#111"/><circle cx="473.9" cy="843.5" r="1.1" fill="#111"/><circle cx="601.7" cy="843.4" r="1.1" fill="#111"/><circle cx="442" cy="828.7" r="1.1" fill="#111"/><circle cx="633.7" cy="828.6" r="1.1" fill="#111"/><text transform="translate(398.4 820.9) scale(0.75 1)" font-size="13.3" text-anchor="middle" font-family="Liberation Serif" font-weight="bold">77.5</text><text transform="translate(431.2 841.9) scale(0.75 1)" font-size="13.3" text-anchor="middle" font-family="Liberation Serif" font-weight="bold">60.63</text><text transform="translate(466.7 857.7) scale(0.75 1)" font-size="13.3" text-anchor="middle" font-family="Liberation Serif" font-weight="bold">43.75</text><text transform="translate(494.3 870.8) scale(0.75 1)" font-size="13.3" text-anchor="middle" font-family="Liberation Serif" font-weight="bold">26.88</text><text transform="translate(537.6 886.6) scale(0.75 1)" font-size="13.3" text-anchor="middle" font-family="Liberation Serif" font-weight="bold">10</text><text transform="translate(577.5 870.7) scale(0.75 1)" font-size="13.3" text-anchor="middle" font-family="Liberation Serif" font-weight="bold">17.5</text><text transform="translate(605.8 857.2) scale(0.75 1)" font-size="13.3" text-anchor="middle" font-family="Liberation Serif" font-weight="bold">25</text><text transform="translate(642 842.4) scale(0.75 1)" font-size="13.3" text-anchor="middle" font-family="Liberation Serif" font-weight="bold">32.5</text><text transform="translate(670.3 828.9) scale(0.75 1)" font-size="13.3" text-anchor="middle" font-family="Liberation Serif" font-weight="bold">40</text><text transform="translate(426 880) scale(0.75 1)" font-size="13.3" text-anchor="middle" font-family="Liberation Serif" font-weight="bold" textLength="106.7" lengthAdjust="spacingAndGlyphs">Dosage of NPs (mg/l)</text><text transform="translate(626.2 883.9) scale(0.75 1)" font-size="13.3" text-anchor="middle" font-family="Liberation Serif" font-weight="bold" textLength="92" lengthAdjust="spacingAndGlyphs">Con.aniline (mg/l)</text><text transform="translate(374.7 751.5) rotate(-90)" x="0" y="5.1" font-size="15" text-anchor="middle" font-family="Liberation Serif" font-weight="bold" textLength="79" lengthAdjust="spacingAndGlyphs">Removal%</text><text transform="translate(451.2 667) scale(0.7 1)" font-size="15" text-anchor="middle" font-family="Liberation Sans" font-weight="bold">f</text><circle cx="495.3" cy="712.6" r="2.6" fill="#d01010" stroke="#801010" stroke-width="0.5"/><circle cx="495.3" cy="719.1" r="2.2" fill="#e08080" stroke="#a05050" stroke-width="0.5"/><circle cx="495.3" cy="727.4" r="2.2" fill="#f0c0c0" stroke="#a06060" stroke-width="0.5"/><circle cx="577.7" cy="735" r="2" fill="#f0c0c0" stroke="#a06060" stroke-width="0.5"/><circle cx="588.5" cy="740" r="2.4" fill="#d01010" stroke="#801010" stroke-width="0.5"/><path d="M92 671L124.4 690.8" stroke="#333" stroke-width="0.6" fill="none"/><path d="M328.5 294.7L328.5 596.4" stroke="#aaa" stroke-width="1" fill="none"/><path d="M365.8 607.5L365.8 907" stroke="#b4b4b4" stroke-width="1.2" fill="none"/></svg></body></html>
